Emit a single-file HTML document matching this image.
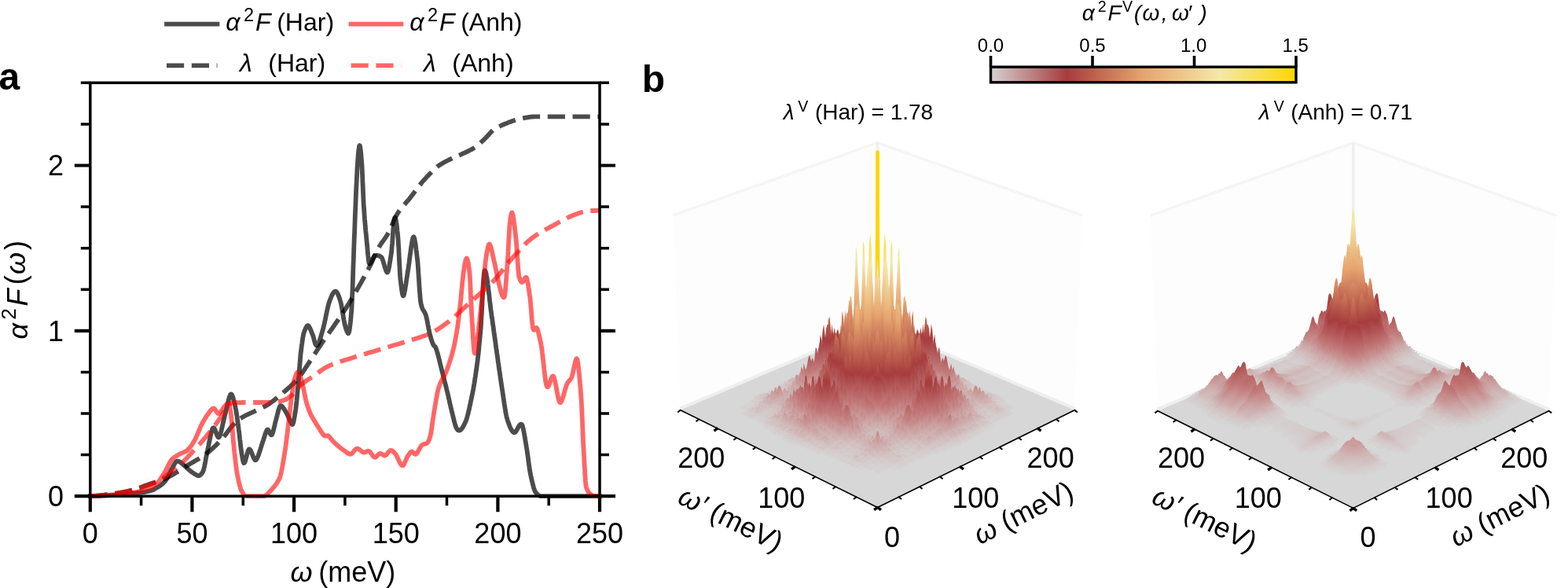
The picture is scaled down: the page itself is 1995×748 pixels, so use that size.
<!DOCTYPE html><html><head><meta charset="utf-8"><style>html,body{margin:0;padding:0;background:#fff;}svg{display:block}</style></head><body>
<svg width="1995" height="748" viewBox="0 0 1995 748">
<rect width="1995" height="748" fill="#fff"/>
<g fill="none" stroke-linejoin="round" stroke-width="5.8">
<path d="M114.8,631.2 L115.1,631.2 L115.4,631.2 L115.8,631.2 L116.1,631.2 L116.4,631.2 L116.7,631.2 L117.1,631.2 L117.4,631.2 L117.7,631.1 L118.0,631.1 L118.4,631.1 L118.7,631.1 L119.0,631.1 L119.3,631.1 L119.7,631.1 L120.0,631.1 L120.3,631.1 L120.6,631.1 L121.0,631.1 L121.3,631.1 L121.6,631.0 L121.9,631.0 L122.3,631.0 L122.6,631.0 L122.9,631.0 L123.2,631.0 L123.6,631.0 L123.9,631.0 L124.2,631.0 L124.5,630.9 L124.9,630.9 L125.2,630.9 L125.5,630.9 L125.8,630.9 L126.1,630.9 L126.5,630.9 L126.8,630.8 L127.1,630.8 L127.4,630.8 L127.8,630.8 L128.1,630.8 L128.4,630.8 L128.7,630.8 L129.1,630.8 L129.4,630.7 L129.7,630.7 L130.0,630.7 L130.4,630.7 L130.7,630.7 L131.0,630.7 L131.3,630.6 L131.7,630.6 L132.0,630.6 L132.3,630.6 L132.6,630.6 L133.0,630.6 L133.3,630.5 L133.6,630.5 L133.9,630.5 L134.3,630.5 L134.6,630.5 L134.9,630.5 L135.2,630.4 L135.6,630.4 L135.9,630.4 L136.2,630.4 L136.5,630.4 L136.8,630.4 L137.2,630.3 L137.5,630.3 L137.8,630.3 L138.1,630.3 L138.5,630.3 L138.8,630.3 L139.1,630.2 L139.4,630.2 L139.8,630.2 L140.1,630.2 L140.4,630.2 L140.7,630.1 L141.1,630.1 L141.4,630.1 L141.7,630.1 L142.0,630.1 L142.4,630.1 L142.7,630.0 L143.0,630.0 L143.3,630.0 L143.7,630.0 L144.0,629.9 L144.3,629.9 L144.6,629.9 L145.0,629.9 L145.3,629.8 L145.6,629.8 L145.9,629.8 L146.3,629.8 L146.6,629.7 L146.9,629.7 L147.2,629.7 L147.6,629.7 L147.9,629.6 L148.2,629.6 L148.5,629.6 L148.8,629.6 L149.2,629.5 L149.5,629.5 L149.8,629.5 L150.1,629.4 L150.5,629.4 L150.8,629.4 L151.1,629.4 L151.4,629.3 L151.8,629.3 L152.1,629.3 L152.4,629.2 L152.7,629.2 L153.1,629.2 L153.4,629.1 L153.7,629.1 L154.0,629.1 L154.4,629.1 L154.7,629.0 L155.0,629.0 L155.3,629.0 L155.7,628.9 L156.0,628.9 L156.3,628.9 L156.6,628.8 L157.0,628.8 L157.3,628.8 L157.6,628.7 L157.9,628.7 L158.3,628.7 L158.6,628.7 L158.9,628.6 L159.2,628.6 L159.5,628.6 L159.9,628.5 L160.2,628.5 L160.5,628.5 L160.8,628.4 L161.2,628.4 L161.5,628.4 L161.8,628.3 L162.1,628.3 L162.5,628.3 L162.8,628.2 L163.1,628.2 L163.4,628.2 L163.8,628.1 L164.1,628.1 L164.4,628.1 L164.7,628.0 L165.1,628.0 L165.4,628.0 L165.7,627.9 L166.0,627.9 L166.4,627.9 L166.7,627.8 L167.0,627.8 L167.3,627.8 L167.7,627.7 L168.0,627.7 L168.3,627.7 L168.6,627.6 L169.0,627.6 L169.3,627.5 L169.6,627.5 L169.9,627.5 L170.2,627.4 L170.6,627.4 L170.9,627.4 L171.2,627.3 L171.5,627.3 L171.9,627.3 L172.2,627.2 L172.5,627.2 L172.8,627.2 L173.2,627.1 L173.5,627.1 L173.8,627.1 L174.1,627.0 L174.5,627.0 L174.8,627.0 L175.1,626.9 L175.4,626.9 L175.8,626.9 L176.1,626.8 L176.4,626.8 L176.7,626.8 L177.1,626.7 L177.4,626.7 L177.7,626.7 L178.0,626.6 L178.4,626.6 L178.7,626.6 L179.0,626.5 L179.3,626.5 L179.7,626.4 L180.0,626.4 L180.3,626.4 L180.6,626.3 L180.9,626.3 L181.3,626.3 L181.6,626.2 L181.9,626.2 L182.2,626.1 L182.6,626.1 L182.9,626.1 L183.2,626.0 L183.5,626.0 L183.9,625.9 L184.2,625.9 L184.5,625.8 L184.8,625.7 L185.2,625.7 L185.5,625.6 L185.8,625.6 L186.1,625.5 L186.5,625.4 L186.8,625.3 L187.1,625.3 L187.4,625.2 L187.8,625.1 L188.1,625.0 L188.4,625.0 L188.7,624.9 L189.1,624.8 L189.4,624.7 L189.7,624.6 L190.0,624.5 L190.4,624.5 L190.7,624.4 L191.0,624.3 L191.3,624.2 L191.7,624.1 L192.0,624.0 L192.3,623.9 L192.6,623.8 L192.9,623.7 L193.3,623.6 L193.6,623.5 L193.9,623.4 L194.2,623.3 L194.6,623.1 L194.9,623.0 L195.2,622.8 L195.5,622.7 L195.9,622.5 L196.2,622.4 L196.5,622.2 L196.8,622.0 L197.2,621.9 L197.5,621.7 L197.8,621.5 L198.1,621.3 L198.5,621.1 L198.8,620.9 L199.1,620.7 L199.4,620.5 L199.8,620.3 L200.1,620.1 L200.4,619.9 L200.7,619.7 L201.1,619.5 L201.4,619.3 L201.7,619.1 L202.0,618.9 L202.4,618.7 L202.7,618.5 L203.0,618.3 L203.3,618.1 L203.6,617.9 L204.0,617.7 L204.3,617.4 L204.6,617.2 L204.9,617.0 L205.3,616.7 L205.6,616.5 L205.9,616.2 L206.2,615.9 L206.6,615.6 L206.9,615.4 L207.2,615.1 L207.5,614.8 L207.9,614.4 L208.2,614.1 L208.5,613.8 L208.8,613.4 L209.2,613.1 L209.5,612.7 L209.8,612.3 L210.1,612.0 L210.5,611.6 L210.8,611.2 L211.1,610.7 L211.4,610.3 L211.8,609.7 L212.1,609.2 L212.4,608.6 L212.7,608.0 L213.1,607.4 L213.4,606.8 L213.7,606.1 L214.0,605.5 L214.3,604.8 L214.7,604.1 L215.0,603.4 L215.3,602.7 L215.6,602.0 L216.0,601.4 L216.3,600.7 L216.6,600.0 L216.9,599.4 L217.3,598.7 L217.6,598.1 L217.9,597.5 L218.2,596.9 L218.6,596.4 L218.9,595.9 L219.2,595.3 L219.5,594.7 L219.9,594.1 L220.2,593.5 L220.5,592.9 L220.8,592.3 L221.2,591.7 L221.5,591.2 L221.8,590.6 L222.1,590.0 L222.5,589.5 L222.8,589.0 L223.1,588.6 L223.4,588.1 L223.8,587.8 L224.1,587.4 L224.4,587.1 L224.7,586.9 L225.0,586.7 L225.4,586.6 L225.7,586.6 L226.0,586.6 L226.3,586.7 L226.7,586.7 L227.0,586.8 L227.3,586.9 L227.6,587.1 L228.0,587.2 L228.3,587.3 L228.6,587.5 L228.9,587.7 L229.3,587.9 L229.6,588.1 L229.9,588.4 L230.2,588.6 L230.6,588.8 L230.9,589.1 L231.2,589.4 L231.5,589.6 L231.9,589.9 L232.2,590.2 L232.5,590.5 L232.8,590.8 L233.2,591.1 L233.5,591.4 L233.8,591.7 L234.1,592.0 L234.5,592.3 L234.8,592.6 L235.1,592.8 L235.4,593.1 L235.7,593.4 L236.1,593.7 L236.4,594.0 L236.7,594.2 L237.0,594.5 L237.4,594.8 L237.7,595.1 L238.0,595.4 L238.3,595.7 L238.7,596.0 L239.0,596.3 L239.3,596.6 L239.6,596.9 L240.0,597.2 L240.3,597.5 L240.6,597.8 L240.9,598.0 L241.3,598.3 L241.6,598.6 L241.9,598.9 L242.2,599.1 L242.6,599.4 L242.9,599.6 L243.2,599.9 L243.5,600.1 L243.9,600.3 L244.2,600.6 L244.5,600.8 L244.8,601.0 L245.2,601.3 L245.5,601.5 L245.8,601.7 L246.1,601.9 L246.5,602.1 L246.8,602.4 L247.1,602.6 L247.4,602.8 L247.7,603.0 L248.1,603.1 L248.4,603.3 L248.7,603.5 L249.0,603.7 L249.4,603.9 L249.7,604.1 L250.0,604.2 L250.3,604.4 L250.7,604.5 L251.0,604.7 L251.3,604.8 L251.6,605.0 L252.0,605.1 L252.3,605.1 L252.6,605.1 L252.9,605.1 L253.3,605.0 L253.6,604.9 L253.9,604.8 L254.2,604.6 L254.6,604.4 L254.9,604.1 L255.2,603.9 L255.5,603.6 L255.9,603.2 L256.2,602.9 L256.5,602.5 L256.8,602.1 L257.2,601.6 L257.5,601.2 L257.8,600.7 L258.1,600.1 L258.4,599.4 L258.8,598.5 L259.1,597.5 L259.4,596.2 L259.7,594.9 L260.1,593.4 L260.4,591.9 L260.7,590.3 L261.0,588.6 L261.4,586.8 L261.7,585.0 L262.0,583.2 L262.3,581.5 L262.7,579.7 L263.0,578.0 L263.3,576.3 L263.6,574.7 L264.0,573.1 L264.3,571.7 L264.6,570.2 L264.9,568.7 L265.3,567.1 L265.6,565.5 L265.9,563.9 L266.2,562.3 L266.6,560.7 L266.9,559.1 L267.2,557.5 L267.5,556.0 L267.9,554.5 L268.2,553.0 L268.5,551.7 L268.8,550.3 L269.1,549.1 L269.5,548.0 L269.8,547.0 L270.1,546.1 L270.4,545.3 L270.8,544.7 L271.1,544.3 L271.4,544.1 L271.7,544.1 L272.1,544.2 L272.4,544.6 L272.7,545.0 L273.0,545.6 L273.4,546.3 L273.7,547.0 L274.0,547.9 L274.3,548.7 L274.7,549.6 L275.0,550.5 L275.3,551.5 L275.6,552.3 L276.0,553.2 L276.3,554.0 L276.6,554.7 L276.9,555.3 L277.3,555.8 L277.6,556.2 L277.9,556.4 L278.2,556.5 L278.6,556.3 L278.9,556.0 L279.2,555.4 L279.5,554.7 L279.8,553.9 L280.2,552.9 L280.5,551.9 L280.8,550.8 L281.1,549.6 L281.5,548.3 L281.8,547.0 L282.1,545.6 L282.4,544.2 L282.8,542.8 L283.1,541.3 L283.4,539.9 L283.7,538.4 L284.1,537.0 L284.4,535.5 L284.7,534.1 L285.0,532.7 L285.4,531.4 L285.7,530.1 L286.0,528.9 L286.3,527.6 L286.7,526.2 L287.0,524.9 L287.3,523.5 L287.6,522.0 L288.0,520.6 L288.3,519.2 L288.6,517.8 L288.9,516.4 L289.3,515.0 L289.6,513.6 L289.9,512.3 L290.2,511.0 L290.6,509.7 L290.9,508.5 L291.2,507.4 L291.5,506.3 L291.8,505.3 L292.2,504.4 L292.5,503.5 L292.8,502.8 L293.1,502.1 L293.5,501.6 L293.8,501.4 L294.1,501.3 L294.4,501.5 L294.8,501.8 L295.1,502.3 L295.4,502.9 L295.7,503.7 L296.1,504.6 L296.4,505.6 L296.7,506.7 L297.0,507.8 L297.4,509.0 L297.7,510.2 L298.0,511.4 L298.3,512.6 L298.7,513.9 L299.0,515.3 L299.3,516.9 L299.6,518.6 L300.0,520.4 L300.3,522.3 L300.6,524.2 L300.9,526.3 L301.3,528.4 L301.6,530.6 L301.9,532.8 L302.2,535.1 L302.5,537.3 L302.9,539.6 L303.2,541.9 L303.5,544.3 L303.8,546.9 L304.2,549.7 L304.5,552.5 L304.8,555.4 L305.1,558.3 L305.5,561.2 L305.8,564.1 L306.1,566.8 L306.4,569.5 L306.8,572.0 L307.1,574.2 L307.4,576.3 L307.7,578.2 L308.1,580.2 L308.4,582.1 L308.7,583.8 L309.0,585.5 L309.4,586.9 L309.7,588.0 L310.0,588.8 L310.3,589.1 L310.7,589.1 L311.0,588.7 L311.3,588.2 L311.6,587.5 L312.0,586.6 L312.3,585.6 L312.6,584.5 L312.9,583.3 L313.2,582.1 L313.6,580.9 L313.9,579.6 L314.2,578.3 L314.5,577.1 L314.9,575.9 L315.2,574.9 L315.5,573.9 L315.8,573.1 L316.2,572.4 L316.5,571.9 L316.8,571.5 L317.1,571.5 L317.5,571.5 L317.8,571.7 L318.1,572.0 L318.4,572.4 L318.8,572.9 L319.1,573.5 L319.4,574.2 L319.7,574.9 L320.1,575.7 L320.4,576.5 L320.7,577.3 L321.0,578.2 L321.4,579.0 L321.7,579.9 L322.0,580.7 L322.3,581.5 L322.7,582.2 L323.0,582.9 L323.3,583.6 L323.6,584.1 L323.9,584.6 L324.3,584.9 L324.6,585.2 L324.9,585.3 L325.2,585.3 L325.6,585.2 L325.9,584.9 L326.2,584.5 L326.5,584.0 L326.9,583.4 L327.2,582.8 L327.5,582.2 L327.8,581.4 L328.2,580.7 L328.5,579.8 L328.8,579.0 L329.1,578.1 L329.5,577.1 L329.8,576.2 L330.1,575.2 L330.4,574.2 L330.8,573.2 L331.1,572.1 L331.4,571.1 L331.7,570.0 L332.1,569.0 L332.4,567.9 L332.7,566.9 L333.0,565.9 L333.4,564.9 L333.7,563.9 L334.0,562.9 L334.3,562.0 L334.6,561.1 L335.0,560.1 L335.3,559.1 L335.6,558.1 L335.9,557.1 L336.3,556.0 L336.6,555.0 L336.9,553.9 L337.2,552.9 L337.6,551.9 L337.9,551.0 L338.2,550.1 L338.5,549.2 L338.9,548.5 L339.2,547.8 L339.5,547.2 L339.8,546.7 L340.2,546.5 L340.5,546.4 L340.8,546.6 L341.1,546.9 L341.5,547.3 L341.8,547.8 L342.1,548.4 L342.4,549.0 L342.8,549.7 L343.1,550.4 L343.4,551.1 L343.7,551.7 L344.1,552.2 L344.4,552.7 L344.7,553.1 L345.0,553.3 L345.4,553.3 L345.7,553.2 L346.0,552.9 L346.3,552.3 L346.6,551.6 L347.0,550.7 L347.3,549.7 L347.6,548.5 L347.9,547.3 L348.3,546.0 L348.6,544.7 L348.9,543.3 L349.2,541.9 L349.6,540.4 L349.9,539.0 L350.2,537.6 L350.5,536.3 L350.9,535.0 L351.2,533.9 L351.5,532.7 L351.8,531.5 L352.2,530.3 L352.5,529.0 L352.8,527.7 L353.1,526.3 L353.5,525.0 L353.8,523.8 L354.1,522.5 L354.4,521.4 L354.8,520.3 L355.1,519.3 L355.4,518.4 L355.7,517.6 L356.1,517.0 L356.4,516.6 L356.7,516.3 L357.0,516.2 L357.3,516.2 L357.7,516.2 L358.0,516.3 L358.3,516.5 L358.6,516.7 L359.0,517.0 L359.3,517.3 L359.6,517.6 L359.9,518.1 L360.3,518.5 L360.6,519.0 L360.9,519.5 L361.2,520.0 L361.6,520.5 L361.9,521.1 L362.2,521.6 L362.5,522.2 L362.9,522.7 L363.2,523.3 L363.5,523.8 L363.8,524.4 L364.2,524.9 L364.5,525.4 L364.8,525.9 L365.1,526.5 L365.5,527.2 L365.8,527.8 L366.1,528.5 L366.4,529.3 L366.8,530.0 L367.1,530.8 L367.4,531.5 L367.7,532.3 L368.0,533.1 L368.4,533.8 L368.7,534.6 L369.0,535.3 L369.3,536.0 L369.7,536.7 L370.0,537.3 L370.3,537.9 L370.6,538.4 L371.0,538.9 L371.3,539.4 L371.6,539.8 L371.9,540.0 L372.3,539.9 L372.6,539.4 L372.9,538.6 L373.2,537.6 L373.6,536.2 L373.9,534.7 L374.2,533.0 L374.5,531.2 L374.9,529.2 L375.2,527.2 L375.5,525.2 L375.8,523.3 L376.2,521.2 L376.5,518.8 L376.8,516.1 L377.1,513.1 L377.5,510.0 L377.8,506.7 L378.1,503.3 L378.4,499.8 L378.7,496.2 L379.1,492.7 L379.4,489.2 L379.7,485.5 L380.0,481.6 L380.4,477.4 L380.7,473.2 L381.0,468.9 L381.3,464.7 L381.7,460.6 L382.0,456.7 L382.3,453.1 L382.6,449.8 L383.0,447.0 L383.3,444.3 L383.6,441.7 L383.9,439.1 L384.3,436.6 L384.6,434.3 L384.9,432.1 L385.2,430.0 L385.6,428.1 L385.9,426.4 L386.2,424.9 L386.5,423.6 L386.9,422.6 L387.2,421.8 L387.5,421.0 L387.8,420.2 L388.2,419.4 L388.5,418.6 L388.8,417.9 L389.1,417.2 L389.5,416.5 L389.8,415.9 L390.1,415.4 L390.4,414.9 L390.7,414.6 L391.1,414.3 L391.4,414.1 L391.7,414.1 L392.0,414.2 L392.4,414.4 L392.7,414.8 L393.0,415.2 L393.3,415.7 L393.7,416.2 L394.0,416.8 L394.3,417.5 L394.6,418.2 L395.0,418.9 L395.3,419.6 L395.6,420.4 L395.9,421.2 L396.3,422.0 L396.6,422.8 L396.9,423.7 L397.2,424.5 L397.6,425.3 L397.9,426.2 L398.2,427.1 L398.5,428.1 L398.9,429.2 L399.2,430.4 L399.5,431.6 L399.8,432.9 L400.2,434.1 L400.5,435.3 L400.8,436.3 L401.1,437.3 L401.4,438.1 L401.8,438.7 L402.1,439.2 L402.4,439.4 L402.7,439.5 L403.1,439.5 L403.4,439.3 L403.7,439.1 L404.0,438.8 L404.4,438.3 L404.7,437.8 L405.0,437.2 L405.3,436.5 L405.7,435.8 L406.0,435.0 L406.3,434.1 L406.6,433.2 L407.0,432.2 L407.3,431.2 L407.6,430.1 L407.9,429.1 L408.3,428.0 L408.6,426.8 L408.9,425.7 L409.2,424.6 L409.6,423.5 L409.9,422.3 L410.2,421.2 L410.5,420.2 L410.9,419.1 L411.2,417.9 L411.5,416.7 L411.8,415.4 L412.1,414.0 L412.5,412.6 L412.8,411.2 L413.1,409.7 L413.4,408.2 L413.8,406.6 L414.1,405.1 L414.4,403.5 L414.7,401.9 L415.1,400.3 L415.4,398.8 L415.7,397.2 L416.0,395.7 L416.4,394.2 L416.7,392.7 L417.0,391.3 L417.3,389.9 L417.7,388.6 L418.0,387.4 L418.3,386.2 L418.6,385.1 L419.0,384.1 L419.3,383.2 L419.6,382.3 L419.9,381.4 L420.3,380.5 L420.6,379.7 L420.9,378.9 L421.2,378.1 L421.6,377.4 L421.9,376.6 L422.2,375.9 L422.5,375.3 L422.8,374.7 L423.2,374.1 L423.5,373.5 L423.8,373.0 L424.1,372.5 L424.5,372.1 L424.8,371.7 L425.1,371.4 L425.4,371.1 L425.8,370.9 L426.1,370.7 L426.4,370.6 L426.7,370.6 L427.1,370.6 L427.4,370.7 L427.7,370.9 L428.0,371.2 L428.4,371.5 L428.7,372.0 L429.0,372.5 L429.3,373.0 L429.7,373.7 L430.0,374.4 L430.3,375.1 L430.6,375.9 L431.0,376.7 L431.3,377.6 L431.6,378.5 L431.9,379.5 L432.3,380.4 L432.6,381.4 L432.9,382.5 L433.2,383.5 L433.5,384.7 L433.9,386.0 L434.2,387.5 L434.5,389.2 L434.8,391.0 L435.2,392.9 L435.5,394.8 L435.8,396.8 L436.1,398.8 L436.5,400.8 L436.8,402.8 L437.1,404.8 L437.4,406.6 L437.8,408.4 L438.1,410.0 L438.4,411.5 L438.7,412.9 L439.1,414.2 L439.4,415.4 L439.7,416.6 L440.0,417.7 L440.4,418.7 L440.7,419.6 L441.0,420.5 L441.3,421.3 L441.7,422.0 L442.0,422.7 L442.3,423.2 L442.6,423.8 L443.0,424.2 L443.3,424.2 L443.6,423.7 L443.9,422.8 L444.3,421.6 L444.6,419.9 L444.9,417.9 L445.2,415.6 L445.5,413.0 L445.9,410.1 L446.2,406.9 L446.5,403.4 L446.8,399.8 L447.2,395.9 L447.5,391.3 L447.8,385.0 L448.1,377.5 L448.5,369.0 L448.8,359.8 L449.1,350.2 L449.4,340.4 L449.8,330.8 L450.1,321.6 L450.4,313.0 L450.7,304.4 L451.1,295.7 L451.4,286.9 L451.7,278.1 L452.0,269.5 L452.4,261.1 L452.7,253.1 L453.0,245.5 L453.3,238.4 L453.7,231.4 L454.0,224.7 L454.3,218.3 L454.6,212.4 L455.0,207.1 L455.3,202.6 L455.6,198.8 L455.9,195.3 L456.2,192.1 L456.6,189.3 L456.9,187.1 L457.2,185.6 L457.5,185.0 L457.9,185.4 L458.2,186.6 L458.5,188.6 L458.8,191.2 L459.2,194.4 L459.5,197.9 L459.8,201.9 L460.1,206.0 L460.5,210.8 L460.8,217.0 L461.1,224.0 L461.4,231.5 L461.8,239.3 L462.1,247.0 L462.4,254.2 L462.7,260.6 L463.1,265.8 L463.4,270.4 L463.7,274.8 L464.0,279.0 L464.4,283.0 L464.7,286.8 L465.0,290.5 L465.3,294.0 L465.7,297.4 L466.0,300.7 L466.3,303.9 L466.6,307.1 L466.9,310.3 L467.3,313.8 L467.6,317.4 L467.9,321.1 L468.2,324.6 L468.6,327.8 L468.9,330.7 L469.2,333.0 L469.5,334.7 L469.9,335.5 L470.2,335.6 L470.5,335.5 L470.8,335.3 L471.2,335.0 L471.5,334.6 L471.8,334.2 L472.1,333.6 L472.5,333.1 L472.8,332.4 L473.1,331.8 L473.4,331.1 L473.8,330.4 L474.1,329.7 L474.4,329.1 L474.7,328.4 L475.1,327.8 L475.4,327.2 L475.7,326.6 L476.0,326.1 L476.4,325.7 L476.7,325.4 L477.0,325.1 L477.3,325.0 L477.6,324.9 L478.0,324.9 L478.3,324.9 L478.6,324.8 L478.9,324.8 L479.3,324.8 L479.6,324.9 L479.9,324.9 L480.2,324.9 L480.6,325.0 L480.9,325.0 L481.2,325.1 L481.5,325.2 L481.9,325.3 L482.2,325.4 L482.5,325.5 L482.8,325.6 L483.2,325.8 L483.5,326.0 L483.8,326.1 L484.1,326.3 L484.5,326.6 L484.8,326.8 L485.1,327.1 L485.4,327.4 L485.8,327.9 L486.1,328.5 L486.4,329.3 L486.7,330.1 L487.1,331.0 L487.4,332.0 L487.7,333.0 L488.0,334.1 L488.3,335.2 L488.7,336.3 L489.0,337.4 L489.3,338.6 L489.6,339.7 L490.0,340.8 L490.3,341.8 L490.6,342.7 L490.9,343.6 L491.3,344.5 L491.6,345.2 L491.9,345.8 L492.2,346.3 L492.6,346.6 L492.9,346.5 L493.2,346.2 L493.5,345.6 L493.9,344.7 L494.2,343.6 L494.5,342.2 L494.8,340.7 L495.2,339.1 L495.5,337.3 L495.8,335.3 L496.1,333.3 L496.5,331.3 L496.8,329.1 L497.1,327.0 L497.4,324.9 L497.8,322.8 L498.1,320.4 L498.4,317.2 L498.7,313.5 L499.1,309.3 L499.4,304.9 L499.7,300.4 L500.0,295.8 L500.3,291.5 L500.7,287.5 L501.0,284.0 L501.3,281.2 L501.6,279.1 L502.0,277.7 L502.3,277.0 L502.6,276.8 L502.9,277.1 L503.3,277.9 L503.6,279.2 L503.9,280.8 L504.2,282.8 L504.6,285.1 L504.9,287.7 L505.2,290.5 L505.5,293.6 L505.9,296.7 L506.2,300.0 L506.5,303.7 L506.8,308.5 L507.2,314.3 L507.5,320.7 L507.8,327.5 L508.1,334.3 L508.5,340.8 L508.8,346.6 L509.1,351.5 L509.4,355.0 L509.8,357.8 L510.1,360.6 L510.4,363.3 L510.7,365.8 L511.0,368.2 L511.4,370.4 L511.7,372.3 L512.0,373.9 L512.3,375.1 L512.7,376.0 L513.0,376.4 L513.3,376.3 L513.6,375.8 L514.0,374.7 L514.3,373.4 L514.6,371.9 L514.9,370.2 L515.3,368.5 L515.6,366.6 L515.9,364.6 L516.2,362.6 L516.6,360.5 L516.9,358.4 L517.2,356.2 L517.5,354.0 L517.9,351.8 L518.2,349.7 L518.5,347.5 L518.8,345.4 L519.2,343.4 L519.5,341.3 L519.8,339.1 L520.1,336.8 L520.5,334.4 L520.8,332.0 L521.1,329.6 L521.4,327.1 L521.7,324.7 L522.1,322.3 L522.4,319.9 L522.7,317.5 L523.0,315.3 L523.4,313.1 L523.7,311.1 L524.0,309.1 L524.3,307.4 L524.7,305.7 L525.0,304.3 L525.3,303.0 L525.6,302.0 L526.0,301.4 L526.3,301.3 L526.6,301.6 L526.9,302.3 L527.3,303.3 L527.6,304.7 L527.9,306.3 L528.2,308.2 L528.6,310.3 L528.9,312.6 L529.2,315.0 L529.5,317.6 L529.9,320.2 L530.2,322.8 L530.5,325.5 L530.8,328.2 L531.2,331.0 L531.5,334.4 L531.8,338.4 L532.1,342.9 L532.4,347.7 L532.8,352.7 L533.1,357.7 L533.4,362.8 L533.7,367.6 L534.1,372.2 L534.4,376.3 L534.7,379.9 L535.0,382.8 L535.4,385.0 L535.7,386.6 L536.0,388.0 L536.3,389.2 L536.7,390.3 L537.0,391.3 L537.3,392.2 L537.6,392.9 L538.0,393.6 L538.3,394.2 L538.6,394.7 L538.9,395.3 L539.3,395.8 L539.6,396.3 L539.9,396.8 L540.2,397.3 L540.6,397.9 L540.9,398.6 L541.2,399.3 L541.5,400.2 L541.9,401.2 L542.2,402.3 L542.5,403.5 L542.8,405.0 L543.2,406.5 L543.5,408.0 L543.8,409.7 L544.1,411.4 L544.4,413.1 L544.8,414.8 L545.1,416.5 L545.4,418.2 L545.7,419.8 L546.1,421.4 L546.4,422.9 L546.7,424.3 L547.0,425.6 L547.4,426.8 L547.7,428.0 L548.0,429.1 L548.3,430.3 L548.7,431.4 L549.0,432.4 L549.3,433.4 L549.6,434.4 L550.0,435.3 L550.3,436.2 L550.6,437.0 L550.9,437.8 L551.3,438.5 L551.6,439.0 L551.9,439.5 L552.2,439.8 L552.6,440.1 L552.9,440.4 L553.2,440.6 L553.5,441.0 L553.9,441.4 L554.2,441.9 L554.5,442.6 L554.8,443.5 L555.1,444.4 L555.5,445.3 L555.8,446.3 L556.1,447.4 L556.4,448.5 L556.8,449.6 L557.1,450.8 L557.4,452.0 L557.7,453.3 L558.1,454.5 L558.4,455.8 L558.7,457.1 L559.0,458.4 L559.4,459.8 L559.7,461.1 L560.0,462.5 L560.3,463.8 L560.7,465.1 L561.0,466.4 L561.3,467.8 L561.6,469.0 L562.0,470.3 L562.3,471.6 L562.6,472.8 L562.9,474.1 L563.3,475.3 L563.6,476.6 L563.9,477.8 L564.2,479.1 L564.6,480.4 L564.9,481.6 L565.2,482.9 L565.5,484.2 L565.8,485.5 L566.2,486.8 L566.5,488.1 L566.8,489.4 L567.1,490.7 L567.5,492.0 L567.8,493.3 L568.1,494.6 L568.4,496.0 L568.8,497.3 L569.1,498.7 L569.4,500.0 L569.7,501.4 L570.1,502.8 L570.4,504.3 L570.7,505.7 L571.0,507.1 L571.4,508.5 L571.7,510.0 L572.0,511.4 L572.3,512.8 L572.7,514.3 L573.0,515.7 L573.3,517.1 L573.6,518.4 L574.0,519.8 L574.3,521.1 L574.6,522.5 L574.9,523.8 L575.3,525.0 L575.6,526.3 L575.9,527.7 L576.2,529.0 L576.5,530.3 L576.9,531.7 L577.2,533.0 L577.5,534.3 L577.8,535.6 L578.2,536.9 L578.5,538.1 L578.8,539.2 L579.1,540.3 L579.5,541.4 L579.8,542.3 L580.1,543.2 L580.4,544.0 L580.8,544.7 L581.1,545.3 L581.4,545.8 L581.7,546.3 L582.1,546.6 L582.4,546.9 L582.7,547.2 L583.0,547.4 L583.4,547.5 L583.7,547.6 L584.0,547.7 L584.3,547.7 L584.7,547.6 L585.0,547.5 L585.3,547.4 L585.6,547.2 L586.0,547.0 L586.3,546.7 L586.6,546.4 L586.9,546.1 L587.2,545.7 L587.6,545.3 L587.9,544.8 L588.2,544.4 L588.5,543.9 L588.9,543.4 L589.2,542.8 L589.5,542.2 L589.8,541.6 L590.2,541.0 L590.5,540.4 L590.8,539.7 L591.1,539.1 L591.5,538.4 L591.8,537.7 L592.1,537.0 L592.4,536.3 L592.8,535.5 L593.1,534.6 L593.4,533.6 L593.7,532.6 L594.1,531.6 L594.4,530.5 L594.7,529.3 L595.0,528.1 L595.4,526.9 L595.7,525.6 L596.0,524.3 L596.3,522.9 L596.7,521.5 L597.0,520.1 L597.3,518.6 L597.6,517.1 L598.0,515.6 L598.3,514.1 L598.6,512.6 L598.9,511.1 L599.2,509.5 L599.6,508.0 L599.9,506.4 L600.2,504.9 L600.5,503.4 L600.9,501.8 L601.2,500.2 L601.5,498.6 L601.8,496.9 L602.2,495.1 L602.5,493.3 L602.8,491.4 L603.1,489.5 L603.5,487.5 L603.8,485.5 L604.1,483.4 L604.4,481.3 L604.8,479.2 L605.1,477.0 L605.4,474.8 L605.7,472.6 L606.1,470.3 L606.4,468.0 L606.7,465.7 L607.0,463.3 L607.4,460.8 L607.7,458.2 L608.0,455.4 L608.3,452.5 L608.7,449.5 L609.0,446.4 L609.3,443.1 L609.6,439.8 L609.9,436.4 L610.3,433.0 L610.6,429.5 L610.9,425.9 L611.2,422.3 L611.6,418.5 L611.9,414.0 L612.2,408.9 L612.5,403.3 L612.9,397.4 L613.2,391.3 L613.5,385.1 L613.8,378.9 L614.2,372.9 L614.5,367.1 L614.8,361.7 L615.1,356.8 L615.5,352.5 L615.8,349.0 L616.1,346.3 L616.4,344.6 L616.8,344.1 L617.1,344.2 L617.4,344.7 L617.7,345.4 L618.1,346.4 L618.4,347.7 L618.7,349.1 L619.0,350.8 L619.4,352.6 L619.7,354.7 L620.0,356.8 L620.3,359.2 L620.6,361.6 L621.0,364.1 L621.3,366.8 L621.6,369.5 L621.9,372.2 L622.3,375.0 L622.6,377.8 L622.9,380.6 L623.2,383.4 L623.6,386.2 L623.9,388.9 L624.2,391.6 L624.5,394.2 L624.9,396.7 L625.2,399.1 L625.5,401.3 L625.8,403.6 L626.2,405.9 L626.5,408.2 L626.8,410.5 L627.1,412.8 L627.5,415.1 L627.8,417.4 L628.1,419.7 L628.4,422.0 L628.8,424.4 L629.1,426.7 L629.4,429.0 L629.7,431.3 L630.1,433.7 L630.4,436.0 L630.7,438.3 L631.0,440.6 L631.3,442.9 L631.7,445.2 L632.0,447.5 L632.3,449.8 L632.6,452.1 L633.0,454.4 L633.3,456.6 L633.6,458.9 L633.9,461.2 L634.3,463.5 L634.6,465.8 L634.9,468.1 L635.2,470.4 L635.6,472.6 L635.9,474.9 L636.2,477.2 L636.5,479.4 L636.9,481.7 L637.2,483.9 L637.5,486.1 L637.8,488.3 L638.2,490.5 L638.5,492.6 L638.8,494.7 L639.1,496.8 L639.5,498.9 L639.8,501.1 L640.1,503.2 L640.4,505.4 L640.8,507.6 L641.1,509.8 L641.4,512.0 L641.7,514.2 L642.1,516.3 L642.4,518.4 L642.7,520.4 L643.0,522.3 L643.3,524.2 L643.7,525.9 L644.0,527.6 L644.3,529.1 L644.6,530.6 L645.0,531.8 L645.3,533.0 L645.6,534.0 L645.9,535.1 L646.3,536.1 L646.6,537.0 L646.9,538.0 L647.2,538.9 L647.6,539.8 L647.9,540.6 L648.2,541.5 L648.5,542.3 L648.9,543.0 L649.2,543.8 L649.5,544.5 L649.8,545.1 L650.2,545.8 L650.5,546.4 L650.8,546.9 L651.1,547.5 L651.5,547.9 L651.8,548.4 L652.1,548.8 L652.4,549.1 L652.8,549.5 L653.1,549.7 L653.4,550.0 L653.7,550.2 L654.0,550.3 L654.4,550.3 L654.7,550.3 L655.0,550.1 L655.3,549.9 L655.7,549.6 L656.0,549.3 L656.3,548.9 L656.6,548.4 L657.0,547.9 L657.3,547.4 L657.6,546.8 L657.9,546.2 L658.3,545.6 L658.6,545.0 L658.9,544.4 L659.2,543.8 L659.6,543.3 L659.9,542.7 L660.2,542.1 L660.5,541.6 L660.9,541.2 L661.2,540.8 L661.5,540.4 L661.8,540.1 L662.2,539.9 L662.5,539.7 L662.8,539.6 L663.1,539.6 L663.5,539.8 L663.8,540.0 L664.1,540.4 L664.4,541.0 L664.7,541.9 L665.1,542.9 L665.4,544.1 L665.7,545.4 L666.0,546.9 L666.4,548.5 L666.7,550.2 L667.0,552.0 L667.3,553.9 L667.7,555.8 L668.0,557.7 L668.3,559.7 L668.6,561.7 L669.0,563.6 L669.3,565.5 L669.6,567.4 L669.9,569.3 L670.3,571.3 L670.6,573.5 L670.9,575.8 L671.2,578.1 L671.6,580.5 L671.9,582.9 L672.2,585.4 L672.5,587.8 L672.9,590.2 L673.2,592.5 L673.5,594.8 L673.8,596.9 L674.2,598.9 L674.5,600.7 L674.8,602.4 L675.1,603.9 L675.4,605.4 L675.8,606.9 L676.1,608.4 L676.4,609.9 L676.7,611.3 L677.1,612.7 L677.4,614.1 L677.7,615.4 L678.0,616.7 L678.4,618.0 L678.7,619.1 L679.0,620.3 L679.3,621.3 L679.7,622.3 L680.0,623.2 L680.3,624.1 L680.6,624.8 L681.0,625.5 L681.3,626.0 L681.6,626.5 L681.9,626.9 L682.3,627.2 L682.6,627.6 L682.9,627.9 L683.2,628.2 L683.6,628.5 L683.9,628.8 L684.2,629.1 L684.5,629.4 L684.9,629.7 L685.2,630.0 L685.5,630.2 L685.8,630.4 L686.1,630.6 L686.5,630.8 L686.8,630.9 L687.1,631.0 L687.4,631.1 L687.8,631.2 L688.1,631.2 L688.4,631.2 L688.7,631.2 L689.1,631.2 L689.4,631.2 L689.7,631.2 L690.0,631.2 L690.4,631.2 L690.7,631.2 L691.0,631.2 L691.3,631.2 L691.7,631.2 L692.0,631.2 L692.3,631.2 L692.6,631.2 L693.0,631.2 L693.3,631.2 L693.6,631.2 L693.9,631.2 L694.3,631.2 L694.6,631.2 L694.9,631.2 L695.2,631.2 L695.6,631.2 L695.9,631.2 L696.2,631.2 L696.5,631.2 L696.9,631.2 L697.2,631.2 L697.5,631.2 L697.8,631.2 L698.1,631.2 L698.5,631.2 L698.8,631.2 L699.1,631.2 L699.4,631.2 L699.8,631.2 L700.1,631.2 L700.4,631.2 L700.7,631.2 L701.1,631.2 L701.4,631.2 L701.7,631.2 L702.0,631.2 L702.4,631.2 L702.7,631.2 L703.0,631.2 L703.3,631.2 L703.7,631.2 L704.0,631.2 L704.3,631.2 L704.6,631.2 L705.0,631.2 L705.3,631.2 L705.6,631.2 L705.9,631.2 L706.3,631.2 L706.6,631.2 L706.9,631.2 L707.2,631.2 L707.6,631.2 L707.9,631.2 L708.2,631.2 L708.5,631.2 L708.8,631.2 L709.2,631.2 L709.5,631.2 L709.8,631.2 L710.1,631.2 L710.5,631.2 L710.8,631.2 L711.1,631.2 L711.4,631.2 L711.8,631.2 L712.1,631.2 L712.4,631.2 L712.7,631.2 L713.1,631.2 L713.4,631.2 L713.7,631.2 L714.0,631.2 L714.4,631.2 L714.7,631.2 L715.0,631.2 L715.3,631.2 L715.7,631.2 L716.0,631.2 L716.3,631.2 L716.6,631.2 L717.0,631.2 L717.3,631.2 L717.6,631.2 L717.9,631.2 L718.3,631.2 L718.6,631.2 L718.9,631.2 L719.2,631.2 L719.5,631.2 L719.9,631.2 L720.2,631.2 L720.5,631.2 L720.8,631.2 L721.2,631.2 L721.5,631.2 L721.8,631.2 L722.1,631.2 L722.5,631.2 L722.8,631.2 L723.1,631.2 L723.4,631.2 L723.8,631.2 L724.1,631.2 L724.4,631.2 L724.7,631.2 L725.1,631.2 L725.4,631.2 L725.7,631.2 L726.0,631.2 L726.4,631.2 L726.7,631.2 L727.0,631.2 L727.3,631.2 L727.7,631.2 L728.0,631.2 L728.3,631.2 L728.6,631.2 L729.0,631.2 L729.3,631.2 L729.6,631.2 L729.9,631.2 L730.2,631.2 L730.6,631.2 L730.9,631.2 L731.2,631.2 L731.5,631.2 L731.9,631.2 L732.2,631.2 L732.5,631.2 L732.8,631.2 L733.2,631.2 L733.5,631.2 L733.8,631.2 L734.1,631.2 L734.5,631.2 L734.8,631.2 L735.1,631.2 L735.4,631.2 L735.8,631.2 L736.1,631.2 L736.4,631.2 L736.7,631.2 L737.1,631.2 L737.4,631.2 L737.7,631.2 L738.0,631.2 L738.4,631.2 L738.7,631.2 L739.0,631.2 L739.3,631.2 L739.7,631.2 L740.0,631.2 L740.3,631.2 L740.6,631.2 L741.0,631.2 L741.3,631.2 L741.6,631.2 L741.9,631.2 L742.2,631.2 L742.6,631.2 L742.9,631.2 L743.2,631.2 L743.5,631.2 L743.9,631.2 L744.2,631.2 L744.5,631.2 L744.8,631.2 L745.2,631.2 L745.5,631.2 L745.8,631.2 L746.1,631.2 L746.5,631.2 L746.8,631.2 L747.1,631.2 L747.4,631.2 L747.8,631.2 L748.1,631.2 L748.4,631.2 L748.7,631.2 L749.1,631.2 L749.4,631.2 L749.7,631.2 L750.0,631.2 L750.4,631.2 L750.7,631.2 L751.0,631.2 L751.3,631.2 L751.7,631.2 L752.0,631.2 L752.3,631.2 L752.6,631.2 L752.9,631.2 L753.3,631.2 L753.6,631.2 L753.9,631.2 L754.2,631.2 L754.6,631.2 L754.9,631.2 L755.2,631.2 L755.5,631.2 L755.9,631.2 L756.2,631.2 L756.5,631.2 L756.8,631.2 L757.2,631.2 L757.5,631.2 L757.8,631.2 L758.1,631.2 L758.5,631.2 L758.8,631.2 L759.1,631.2 L759.4,631.2 L759.8,631.2 L760.1,631.2 L760.4,631.2 L760.7,631.2 L761.1,631.2 L761.4,631.2 L761.7,631.2 L762.0,631.2 L762.4,631.2 L762.7,631.2 L763.0,631.2" stroke="#000" stroke-opacity="0.7" stroke-linecap="square"/>
<path d="M114.8,631.2 L116.4,631.1 L118.0,631.0 L119.7,630.9 L121.3,630.8 L122.9,630.6 L124.5,630.5 L126.2,630.3 L127.8,630.2 L129.4,630.0 L131.0,629.8 L132.6,629.7 L134.3,629.5 L135.9,629.3 L137.5,629.1 L139.1,628.9 L140.8,628.7 L142.4,628.5 L144.0,628.2 L145.6,628.0 L147.2,627.7 L148.9,627.5 L150.5,627.2 L152.1,626.9 L153.7,626.6 L155.3,626.3 L157.0,626.0 L158.6,625.7 L160.2,625.3 L161.8,625.0 L163.5,624.6 L165.1,624.2 L166.7,623.8 L168.3,623.4 L169.9,623.0 L171.6,622.5 L173.2,621.9 L174.8,621.4 L176.4,620.8 L178.1,620.3 L179.7,619.7 L181.3,619.1 L182.9,618.4 L184.5,617.8 L186.2,617.2 L187.8,616.7 L189.4,616.1 L191.0,615.5 L192.7,615.0 L194.3,614.4 L195.9,613.9 L197.5,613.4 L199.1,612.8 L200.8,612.3 L202.4,611.7 L204.0,611.2 L205.6,610.6 L207.3,609.9 L208.9,609.3 L210.5,608.6 L212.1,607.9 L213.7,607.1 L215.4,606.2 L217.0,605.4 L218.6,604.5 L220.2,603.5 L221.8,602.6 L223.5,601.6 L225.1,600.6 L226.7,599.5 L228.3,598.5 L230.0,597.5 L231.6,596.4 L233.2,595.4 L234.8,594.3 L236.4,593.3 L238.1,592.3 L239.7,591.3 L241.3,590.4 L242.9,589.4 L244.6,588.5 L246.2,587.5 L247.8,586.6 L249.4,585.6 L251.0,584.7 L252.7,583.7 L254.3,582.7 L255.9,581.7 L257.5,580.6 L259.2,579.5 L260.8,578.4 L262.4,577.2 L264.0,576.0 L265.6,574.7 L267.3,573.3 L268.9,571.9 L270.5,570.5 L272.1,568.9 L273.8,567.4 L275.4,565.7 L277.0,564.1 L278.6,562.4 L280.2,560.7 L281.9,558.9 L283.5,557.1 L285.1,555.2 L286.7,553.2 L288.3,551.0 L290.0,548.8 L291.6,546.5 L293.2,544.4 L294.8,542.3 L296.5,540.6 L298.1,539.0 L299.7,537.4 L301.3,536.0 L302.9,534.6 L304.6,533.3 L306.2,532.2 L307.8,531.1 L309.4,530.2 L311.1,529.3 L312.7,528.4 L314.3,527.7 L315.9,526.9 L317.5,526.2 L319.2,525.4 L320.8,524.7 L322.4,524.0 L324.0,523.2 L325.7,522.4 L327.3,521.6 L328.9,520.8 L330.5,520.1 L332.1,519.3 L333.8,518.5 L335.4,517.7 L337.0,516.9 L338.6,516.0 L340.3,515.1 L341.9,514.1 L343.5,513.0 L345.1,511.8 L346.7,510.6 L348.4,509.4 L350.0,508.1 L351.6,506.7 L353.2,505.4 L354.9,504.0 L356.5,502.7 L358.1,501.3 L359.7,500.0 L361.3,498.6 L363.0,497.3 L364.6,495.9 L366.2,494.4 L367.8,493.0 L369.4,491.5 L371.1,489.9 L372.7,488.4 L374.3,486.7 L375.9,485.0 L377.6,483.3 L379.2,481.4 L380.8,479.4 L382.4,477.3 L384.0,475.1 L385.7,472.7 L387.3,470.3 L388.9,467.8 L390.5,465.4 L392.2,462.9 L393.8,460.4 L395.4,458.0 L397.0,455.5 L398.6,453.0 L400.3,450.5 L401.9,448.0 L403.5,445.5 L405.1,443.0 L406.8,440.5 L408.4,438.1 L410.0,435.7 L411.6,433.3 L413.2,431.0 L414.9,428.7 L416.5,426.4 L418.1,424.1 L419.7,421.9 L421.4,419.6 L423.0,417.4 L424.6,415.0 L426.2,412.7 L427.8,410.3 L429.5,408.0 L431.1,405.6 L432.7,403.2 L434.3,400.8 L435.9,398.4 L437.6,395.9 L439.2,393.5 L440.8,390.9 L442.4,388.4 L444.1,385.8 L445.7,383.1 L447.3,380.4 L448.9,377.7 L450.5,374.9 L452.2,372.1 L453.8,369.3 L455.4,366.4 L457.0,363.6 L458.7,360.7 L460.3,357.8 L461.9,354.9 L463.5,352.0 L465.1,349.0 L466.8,346.0 L468.4,343.0 L470.0,339.8 L471.6,336.6 L473.3,333.1 L474.9,329.4 L476.5,325.8 L478.1,322.2 L479.7,318.9 L481.4,315.8 L483.0,313.0 L484.6,310.5 L486.2,308.2 L487.9,305.9 L489.5,303.6 L491.1,301.3 L492.7,298.7 L494.3,295.9 L496.0,292.7 L497.6,289.0 L499.2,285.2 L500.8,281.3 L502.4,277.7 L504.1,274.4 L505.7,271.7 L507.3,269.2 L508.9,267.0 L510.6,264.9 L512.2,262.9 L513.8,261.0 L515.4,259.2 L517.0,257.3 L518.7,255.5 L520.3,253.6 L521.9,251.6 L523.5,249.5 L525.2,247.3 L526.8,245.1 L528.4,242.9 L530.0,240.7 L531.6,238.6 L533.3,236.5 L534.9,234.4 L536.5,232.4 L538.1,230.5 L539.8,228.7 L541.4,226.9 L543.0,225.1 L544.6,223.4 L546.2,221.7 L547.9,220.1 L549.5,218.5 L551.1,216.9 L552.7,215.3 L554.4,213.8 L556.0,212.4 L557.6,211.1 L559.2,210.0 L560.8,209.0 L562.5,208.0 L564.1,207.0 L565.7,206.2 L567.3,205.3 L568.9,204.5 L570.6,203.7 L572.2,202.9 L573.8,202.1 L575.4,201.3 L577.1,200.6 L578.7,199.9 L580.3,199.2 L581.9,198.5 L583.5,197.8 L585.2,197.1 L586.8,196.4 L588.4,195.7 L590.0,194.9 L591.7,194.2 L593.3,193.4 L594.9,192.6 L596.5,191.8 L598.1,191.0 L599.8,190.2 L601.4,189.2 L603.0,188.2 L604.6,187.1 L606.3,185.9 L607.9,184.6 L609.5,183.3 L611.1,181.8 L612.7,180.4 L614.4,178.9 L616.0,177.4 L617.6,175.8 L619.2,174.1 L620.9,172.3 L622.5,170.4 L624.1,168.7 L625.7,167.1 L627.3,165.6 L629.0,164.5 L630.6,163.5 L632.2,162.5 L633.8,161.6 L635.4,160.8 L637.1,160.0 L638.7,159.2 L640.3,158.5 L641.9,157.8 L643.6,157.2 L645.2,156.6 L646.8,155.9 L648.4,155.3 L650.0,154.7 L651.7,154.1 L653.3,153.6 L654.9,153.0 L656.5,152.5 L658.2,152.0 L659.8,151.6 L661.4,151.2 L663.0,150.9 L664.6,150.5 L666.3,150.2 L667.9,149.9 L669.5,149.6 L671.1,149.3 L672.8,149.0 L674.4,148.8 L676.0,148.6 L677.6,148.5 L679.2,148.4 L680.9,148.4 L682.5,148.4 L684.1,148.4 L685.7,148.4 L687.4,148.4 L689.0,148.4 L690.6,148.4 L692.2,148.4 L693.8,148.4 L695.5,148.4 L697.1,148.4 L698.7,148.4 L700.3,148.4 L702.0,148.4 L703.6,148.4 L705.2,148.4 L706.8,148.4 L708.4,148.4 L710.1,148.4 L711.7,148.4 L713.3,148.4 L714.9,148.4 L716.5,148.4 L718.2,148.4 L719.8,148.4 L721.4,148.4 L723.0,148.4 L724.7,148.4 L726.3,148.4 L727.9,148.4 L729.5,148.4 L731.1,148.4 L732.8,148.4 L734.4,148.4 L736.0,148.4 L737.6,148.4 L739.3,148.4 L740.9,148.4 L742.5,148.4 L744.1,148.4 L745.7,148.4 L747.4,148.4 L749.0,148.4 L750.6,148.4 L752.2,148.4 L753.9,148.4 L755.5,148.4 L757.1,148.4 L758.7,148.4 L760.3,148.4 L762.0,148.4" stroke="#000" stroke-opacity="0.7" stroke-dasharray="22.2 9.6" stroke-linecap="butt"/>
<path d="M114.8,631.2 L115.1,631.2 L115.4,631.2 L115.8,631.2 L116.1,631.2 L116.4,631.1 L116.7,631.1 L117.1,631.1 L117.4,631.1 L117.7,631.1 L118.0,631.1 L118.4,631.1 L118.7,631.1 L119.0,631.0 L119.3,631.0 L119.7,631.0 L120.0,631.0 L120.3,631.0 L120.6,631.0 L121.0,630.9 L121.3,630.9 L121.6,630.9 L121.9,630.9 L122.3,630.9 L122.6,630.9 L122.9,630.8 L123.2,630.8 L123.6,630.8 L123.9,630.8 L124.2,630.8 L124.5,630.8 L124.9,630.7 L125.2,630.7 L125.5,630.7 L125.8,630.7 L126.1,630.7 L126.5,630.6 L126.8,630.6 L127.1,630.6 L127.4,630.6 L127.8,630.6 L128.1,630.5 L128.4,630.5 L128.7,630.5 L129.1,630.5 L129.4,630.4 L129.7,630.4 L130.0,630.4 L130.4,630.4 L130.7,630.4 L131.0,630.3 L131.3,630.3 L131.7,630.3 L132.0,630.3 L132.3,630.2 L132.6,630.2 L133.0,630.2 L133.3,630.2 L133.6,630.1 L133.9,630.1 L134.3,630.1 L134.6,630.1 L134.9,630.0 L135.2,630.0 L135.6,630.0 L135.9,630.0 L136.2,629.9 L136.5,629.9 L136.8,629.9 L137.2,629.9 L137.5,629.8 L137.8,629.8 L138.1,629.8 L138.5,629.8 L138.8,629.7 L139.1,629.7 L139.4,629.7 L139.8,629.7 L140.1,629.6 L140.4,629.6 L140.7,629.6 L141.1,629.5 L141.4,629.5 L141.7,629.5 L142.0,629.5 L142.4,629.4 L142.7,629.4 L143.0,629.4 L143.3,629.4 L143.7,629.3 L144.0,629.3 L144.3,629.3 L144.6,629.2 L145.0,629.2 L145.3,629.2 L145.6,629.2 L145.9,629.1 L146.3,629.1 L146.6,629.1 L146.9,629.0 L147.2,629.0 L147.6,629.0 L147.9,629.0 L148.2,628.9 L148.5,628.9 L148.8,628.9 L149.2,628.8 L149.5,628.8 L149.8,628.8 L150.1,628.8 L150.5,628.7 L150.8,628.7 L151.1,628.7 L151.4,628.6 L151.8,628.6 L152.1,628.6 L152.4,628.6 L152.7,628.5 L153.1,628.5 L153.4,628.5 L153.7,628.4 L154.0,628.4 L154.4,628.4 L154.7,628.4 L155.0,628.3 L155.3,628.3 L155.7,628.3 L156.0,628.3 L156.3,628.2 L156.6,628.2 L157.0,628.2 L157.3,628.1 L157.6,628.1 L157.9,628.1 L158.3,628.1 L158.6,628.0 L158.9,628.0 L159.2,628.0 L159.5,627.9 L159.9,627.9 L160.2,627.9 L160.5,627.8 L160.8,627.8 L161.2,627.8 L161.5,627.7 L161.8,627.7 L162.1,627.7 L162.5,627.6 L162.8,627.6 L163.1,627.6 L163.4,627.5 L163.8,627.5 L164.1,627.4 L164.4,627.4 L164.7,627.4 L165.1,627.3 L165.4,627.3 L165.7,627.2 L166.0,627.2 L166.4,627.1 L166.7,627.1 L167.0,627.1 L167.3,627.0 L167.7,627.0 L168.0,626.9 L168.3,626.9 L168.6,626.8 L169.0,626.8 L169.3,626.7 L169.6,626.7 L169.9,626.6 L170.2,626.6 L170.6,626.5 L170.9,626.5 L171.2,626.4 L171.5,626.4 L171.9,626.3 L172.2,626.3 L172.5,626.2 L172.8,626.2 L173.2,626.1 L173.5,626.1 L173.8,626.0 L174.1,626.0 L174.5,625.9 L174.8,625.9 L175.1,625.8 L175.4,625.8 L175.8,625.7 L176.1,625.6 L176.4,625.5 L176.7,625.5 L177.1,625.4 L177.4,625.3 L177.7,625.2 L178.0,625.1 L178.4,625.0 L178.7,624.9 L179.0,624.8 L179.3,624.7 L179.7,624.6 L180.0,624.5 L180.3,624.4 L180.6,624.3 L180.9,624.2 L181.3,624.1 L181.6,624.0 L181.9,623.9 L182.2,623.8 L182.6,623.7 L182.9,623.6 L183.2,623.5 L183.5,623.4 L183.9,623.3 L184.2,623.2 L184.5,623.1 L184.8,623.0 L185.2,622.8 L185.5,622.7 L185.8,622.6 L186.1,622.5 L186.5,622.3 L186.8,622.2 L187.1,622.1 L187.4,622.0 L187.8,621.8 L188.1,621.7 L188.4,621.5 L188.7,621.4 L189.1,621.2 L189.4,621.1 L189.7,620.9 L190.0,620.8 L190.4,620.6 L190.7,620.5 L191.0,620.3 L191.3,620.2 L191.7,620.0 L192.0,619.8 L192.3,619.6 L192.6,619.5 L192.9,619.3 L193.3,619.1 L193.6,618.9 L193.9,618.7 L194.2,618.6 L194.6,618.4 L194.9,618.2 L195.2,618.0 L195.5,617.8 L195.9,617.6 L196.2,617.4 L196.5,617.2 L196.8,616.9 L197.2,616.7 L197.5,616.5 L197.8,616.3 L198.1,616.1 L198.5,615.9 L198.8,615.6 L199.1,615.4 L199.4,615.1 L199.8,614.9 L200.1,614.6 L200.4,614.3 L200.7,613.9 L201.1,613.6 L201.4,613.2 L201.7,612.8 L202.0,612.4 L202.4,612.0 L202.7,611.5 L203.0,611.1 L203.3,610.6 L203.6,610.1 L204.0,609.6 L204.3,609.1 L204.6,608.6 L204.9,608.1 L205.3,607.6 L205.6,607.1 L205.9,606.6 L206.2,606.0 L206.6,605.5 L206.9,605.0 L207.2,604.5 L207.5,603.9 L207.9,603.4 L208.2,602.9 L208.5,602.4 L208.8,601.9 L209.2,601.4 L209.5,600.8 L209.8,600.3 L210.1,599.7 L210.5,599.2 L210.8,598.6 L211.1,598.0 L211.4,597.3 L211.8,596.7 L212.1,596.1 L212.4,595.4 L212.7,594.8 L213.1,594.2 L213.4,593.5 L213.7,592.9 L214.0,592.2 L214.3,591.6 L214.7,591.0 L215.0,590.3 L215.3,589.7 L215.6,589.1 L216.0,588.6 L216.3,588.0 L216.6,587.5 L216.9,586.9 L217.3,586.4 L217.6,585.9 L217.9,585.5 L218.2,585.1 L218.6,584.7 L218.9,584.3 L219.2,583.9 L219.5,583.6 L219.9,583.3 L220.2,583.0 L220.5,582.8 L220.8,582.5 L221.2,582.2 L221.5,582.0 L221.8,581.8 L222.1,581.5 L222.5,581.3 L222.8,581.1 L223.1,580.9 L223.4,580.7 L223.8,580.5 L224.1,580.3 L224.4,580.1 L224.7,579.9 L225.0,579.7 L225.4,579.5 L225.7,579.3 L226.0,579.1 L226.3,579.0 L226.7,578.8 L227.0,578.6 L227.3,578.4 L227.6,578.2 L228.0,578.1 L228.3,577.9 L228.6,577.7 L228.9,577.5 L229.3,577.4 L229.6,577.2 L229.9,577.0 L230.2,576.9 L230.6,576.7 L230.9,576.6 L231.2,576.4 L231.5,576.3 L231.9,576.1 L232.2,576.0 L232.5,575.9 L232.8,575.7 L233.2,575.6 L233.5,575.4 L233.8,575.3 L234.1,575.1 L234.5,575.0 L234.8,574.8 L235.1,574.7 L235.4,574.5 L235.7,574.3 L236.1,574.1 L236.4,574.0 L236.7,573.8 L237.0,573.6 L237.4,573.4 L237.7,573.1 L238.0,572.9 L238.3,572.7 L238.7,572.4 L239.0,572.1 L239.3,571.8 L239.6,571.5 L240.0,571.2 L240.3,570.8 L240.6,570.5 L240.9,570.1 L241.3,569.7 L241.6,569.3 L241.9,568.9 L242.2,568.5 L242.6,568.0 L242.9,567.6 L243.2,567.1 L243.5,566.7 L243.9,566.2 L244.2,565.7 L244.5,565.2 L244.8,564.7 L245.2,564.2 L245.5,563.7 L245.8,563.2 L246.1,562.6 L246.5,562.1 L246.8,561.6 L247.1,561.0 L247.4,560.5 L247.7,559.9 L248.1,559.3 L248.4,558.7 L248.7,558.0 L249.0,557.3 L249.4,556.6 L249.7,555.9 L250.0,555.2 L250.3,554.4 L250.7,553.7 L251.0,552.9 L251.3,552.1 L251.6,551.4 L252.0,550.6 L252.3,549.8 L252.6,549.0 L252.9,548.2 L253.3,547.5 L253.6,546.7 L253.9,545.9 L254.2,545.2 L254.6,544.4 L254.9,543.7 L255.2,542.9 L255.5,542.2 L255.9,541.5 L256.2,540.9 L256.5,540.2 L256.8,539.6 L257.2,539.0 L257.5,538.4 L257.8,537.8 L258.1,537.2 L258.4,536.6 L258.8,536.0 L259.1,535.4 L259.4,534.9 L259.7,534.3 L260.1,533.7 L260.4,533.2 L260.7,532.7 L261.0,532.1 L261.4,531.6 L261.7,531.1 L262.0,530.6 L262.3,530.1 L262.7,529.6 L263.0,529.1 L263.3,528.6 L263.6,528.2 L264.0,527.7 L264.3,527.3 L264.6,526.9 L264.9,526.4 L265.3,526.0 L265.6,525.5 L265.9,525.0 L266.2,524.6 L266.6,524.1 L266.9,523.7 L267.2,523.3 L267.5,522.8 L267.9,522.4 L268.2,522.0 L268.5,521.6 L268.8,521.3 L269.1,521.0 L269.5,520.7 L269.8,520.4 L270.1,520.1 L270.4,519.9 L270.8,519.8 L271.1,519.6 L271.4,519.5 L271.7,519.5 L272.1,519.5 L272.4,519.7 L272.7,519.9 L273.0,520.2 L273.4,520.6 L273.7,521.0 L274.0,521.5 L274.3,522.0 L274.7,522.5 L275.0,523.1 L275.3,523.6 L275.6,524.1 L276.0,524.5 L276.3,525.0 L276.6,525.3 L276.9,525.7 L277.3,525.9 L277.6,526.0 L277.9,526.1 L278.2,526.0 L278.6,525.9 L278.9,525.7 L279.2,525.4 L279.5,525.2 L279.8,524.8 L280.2,524.5 L280.5,524.1 L280.8,523.7 L281.1,523.3 L281.5,522.9 L281.8,522.4 L282.1,521.9 L282.4,521.5 L282.8,521.0 L283.1,520.5 L283.4,520.0 L283.7,519.5 L284.1,519.1 L284.4,518.6 L284.7,518.2 L285.0,517.7 L285.4,517.3 L285.7,517.0 L286.0,516.6 L286.3,516.2 L286.7,515.9 L287.0,515.6 L287.3,515.2 L287.6,514.9 L288.0,514.6 L288.3,514.3 L288.6,514.0 L288.9,513.8 L289.3,513.6 L289.6,513.4 L289.9,513.2 L290.2,513.0 L290.6,512.9 L290.9,512.8 L291.2,513.0 L291.5,513.6 L291.8,514.7 L292.2,516.2 L292.5,517.9 L292.8,519.9 L293.1,522.2 L293.5,524.5 L293.8,527.0 L294.1,529.4 L294.4,532.0 L294.8,535.2 L295.1,538.8 L295.4,542.7 L295.7,546.8 L296.1,551.0 L296.4,555.2 L296.7,559.2 L297.0,562.9 L297.4,566.2 L297.7,569.4 L298.0,572.5 L298.3,575.6 L298.7,578.7 L299.0,581.7 L299.3,584.7 L299.6,587.5 L300.0,590.3 L300.3,592.9 L300.6,595.4 L300.9,597.7 L301.3,599.8 L301.6,601.7 L301.9,603.4 L302.2,605.1 L302.5,606.7 L302.9,608.3 L303.2,609.9 L303.5,611.4 L303.8,612.9 L304.2,614.4 L304.5,615.7 L304.8,617.0 L305.1,618.3 L305.5,619.4 L305.8,620.5 L306.1,621.5 L306.4,622.4 L306.8,623.2 L307.1,623.9 L307.4,624.5 L307.7,625.1 L308.1,625.7 L308.4,626.3 L308.7,626.8 L309.0,627.4 L309.4,627.9 L309.7,628.5 L310.0,628.9 L310.3,629.3 L310.7,629.7 L311.0,630.0 L311.3,630.3 L311.6,630.5 L312.0,630.6 L312.3,630.7 L312.6,630.8 L312.9,630.9 L313.2,631.0 L313.6,631.1 L313.9,631.2 L314.2,631.2 L314.5,631.2 L314.9,631.2 L315.2,631.2 L315.5,631.2 L315.8,631.2 L316.2,631.2 L316.5,631.2 L316.8,631.2 L317.1,631.2 L317.5,631.2 L317.8,631.2 L318.1,631.2 L318.4,631.2 L318.8,631.2 L319.1,631.2 L319.4,631.2 L319.7,631.2 L320.1,631.2 L320.4,631.2 L320.7,631.2 L321.0,631.2 L321.4,631.2 L321.7,631.2 L322.0,631.2 L322.3,631.2 L322.7,631.2 L323.0,631.2 L323.3,631.2 L323.6,631.2 L323.9,631.2 L324.3,631.2 L324.6,631.2 L324.9,631.2 L325.2,631.2 L325.6,631.2 L325.9,631.2 L326.2,631.2 L326.5,631.2 L326.9,631.2 L327.2,631.2 L327.5,631.2 L327.8,631.2 L328.2,631.2 L328.5,631.2 L328.8,631.2 L329.1,631.2 L329.5,631.2 L329.8,631.2 L330.1,631.2 L330.4,631.2 L330.8,631.2 L331.1,631.2 L331.4,631.2 L331.7,631.2 L332.1,631.2 L332.4,631.2 L332.7,631.2 L333.0,631.2 L333.4,631.2 L333.7,631.2 L334.0,631.2 L334.3,631.2 L334.6,631.2 L335.0,631.2 L335.3,631.2 L335.6,631.2 L335.9,631.2 L336.3,631.2 L336.6,631.1 L336.9,631.0 L337.2,630.8 L337.6,630.6 L337.9,630.3 L338.2,630.1 L338.5,629.8 L338.9,629.6 L339.2,629.3 L339.5,629.0 L339.8,628.7 L340.2,628.4 L340.5,628.1 L340.8,627.8 L341.1,627.5 L341.5,627.2 L341.8,626.9 L342.1,626.6 L342.4,626.3 L342.8,625.9 L343.1,625.6 L343.4,625.3 L343.7,624.9 L344.1,624.6 L344.4,624.2 L344.7,623.9 L345.0,623.5 L345.4,623.1 L345.7,622.8 L346.0,622.4 L346.3,622.0 L346.6,621.6 L347.0,621.3 L347.3,620.9 L347.6,620.5 L347.9,620.1 L348.3,619.8 L348.6,619.4 L348.9,619.0 L349.2,618.6 L349.6,618.1 L349.9,617.7 L350.2,617.3 L350.5,616.9 L350.9,616.4 L351.2,615.9 L351.5,615.5 L351.8,615.0 L352.2,614.5 L352.5,614.0 L352.8,613.5 L353.1,612.9 L353.5,612.4 L353.8,611.8 L354.1,611.3 L354.4,610.7 L354.8,610.1 L355.1,609.5 L355.4,608.8 L355.7,608.2 L356.1,607.4 L356.4,606.5 L356.7,605.5 L357.0,604.3 L357.3,603.1 L357.7,601.7 L358.0,600.2 L358.3,598.7 L358.6,597.0 L359.0,595.3 L359.3,593.6 L359.6,591.7 L359.9,589.9 L360.3,588.0 L360.6,586.0 L360.9,584.1 L361.2,582.1 L361.6,580.1 L361.9,578.1 L362.2,576.1 L362.5,574.1 L362.9,571.9 L363.2,569.6 L363.5,567.3 L363.8,564.8 L364.2,562.3 L364.5,559.7 L364.8,557.1 L365.1,554.5 L365.5,551.8 L365.8,549.2 L366.1,546.5 L366.4,543.9 L366.8,541.3 L367.1,538.5 L367.4,535.7 L367.7,532.9 L368.0,530.0 L368.4,527.1 L368.7,524.2 L369.0,521.4 L369.3,518.6 L369.7,515.9 L370.0,513.2 L370.3,510.7 L370.6,508.2 L371.0,505.8 L371.3,503.4 L371.6,501.1 L371.9,498.7 L372.3,496.4 L372.6,494.1 L372.9,492.0 L373.2,489.9 L373.6,488.0 L373.9,486.2 L374.2,484.6 L374.5,483.2 L374.9,482.1 L375.2,481.0 L375.5,479.9 L375.8,478.9 L376.2,477.9 L376.5,477.0 L376.8,476.1 L377.1,475.4 L377.5,474.7 L377.8,474.2 L378.1,473.7 L378.4,473.5 L378.7,473.4 L379.1,473.5 L379.4,473.7 L379.7,474.0 L380.0,474.4 L380.4,475.0 L380.7,475.6 L381.0,476.3 L381.3,477.0 L381.7,477.8 L382.0,478.7 L382.3,479.6 L382.6,480.5 L383.0,481.5 L383.3,482.7 L383.6,483.9 L383.9,485.1 L384.3,486.5 L384.6,487.8 L384.9,489.2 L385.2,490.6 L385.6,492.0 L385.9,493.4 L386.2,494.8 L386.5,496.3 L386.9,497.9 L387.2,499.5 L387.5,501.2 L387.8,502.8 L388.2,504.4 L388.5,506.0 L388.8,507.5 L389.1,508.9 L389.5,510.3 L389.8,511.5 L390.1,512.6 L390.4,513.7 L390.7,514.7 L391.1,515.8 L391.4,516.8 L391.7,517.8 L392.0,518.7 L392.4,519.7 L392.7,520.6 L393.0,521.5 L393.3,522.3 L393.7,523.1 L394.0,524.0 L394.3,524.7 L394.6,525.5 L395.0,526.2 L395.3,527.0 L395.6,527.6 L395.9,528.3 L396.3,528.9 L396.6,529.6 L396.9,530.2 L397.2,530.7 L397.6,531.3 L397.9,531.8 L398.2,532.4 L398.5,532.9 L398.9,533.4 L399.2,533.9 L399.5,534.5 L399.8,535.0 L400.2,535.5 L400.5,536.0 L400.8,536.6 L401.1,537.1 L401.4,537.7 L401.8,538.2 L402.1,538.7 L402.4,539.3 L402.7,539.8 L403.1,540.3 L403.4,540.9 L403.7,541.4 L404.0,541.9 L404.4,542.4 L404.7,542.9 L405.0,543.4 L405.3,543.9 L405.7,544.4 L406.0,544.9 L406.3,545.4 L406.6,546.0 L407.0,546.5 L407.3,547.0 L407.6,547.5 L407.9,548.1 L408.3,548.6 L408.6,549.1 L408.9,549.6 L409.2,550.1 L409.6,550.6 L409.9,551.0 L410.2,551.5 L410.5,551.9 L410.9,552.3 L411.2,552.7 L411.5,553.1 L411.8,553.4 L412.1,553.8 L412.5,554.0 L412.8,554.3 L413.1,554.5 L413.4,554.7 L413.8,554.7 L414.1,554.7 L414.4,554.7 L414.7,554.6 L415.1,554.5 L415.4,554.4 L415.7,554.3 L416.0,554.2 L416.4,554.1 L416.7,554.1 L417.0,554.1 L417.3,554.2 L417.7,554.4 L418.0,554.7 L418.3,555.0 L418.6,555.3 L419.0,555.6 L419.3,555.9 L419.6,556.3 L419.9,556.7 L420.3,557.1 L420.6,557.5 L420.9,557.9 L421.2,558.3 L421.6,558.7 L421.9,559.2 L422.2,559.6 L422.5,560.0 L422.8,560.4 L423.2,560.8 L423.5,561.1 L423.8,561.5 L424.1,561.8 L424.5,562.1 L424.8,562.4 L425.1,562.7 L425.4,563.1 L425.8,563.4 L426.1,563.7 L426.4,564.0 L426.7,564.3 L427.1,564.6 L427.4,564.9 L427.7,565.2 L428.0,565.4 L428.4,565.7 L428.7,566.0 L429.0,566.3 L429.3,566.6 L429.7,566.9 L430.0,567.1 L430.3,567.4 L430.6,567.7 L431.0,568.0 L431.3,568.2 L431.6,568.5 L431.9,568.7 L432.3,569.0 L432.6,569.3 L432.9,569.5 L433.2,569.8 L433.5,570.0 L433.9,570.3 L434.2,570.5 L434.5,570.8 L434.8,571.0 L435.2,571.3 L435.5,571.5 L435.8,571.8 L436.1,572.0 L436.5,572.2 L436.8,572.5 L437.1,572.7 L437.4,572.9 L437.8,573.2 L438.1,573.4 L438.4,573.6 L438.7,573.8 L439.1,574.1 L439.4,574.3 L439.7,574.5 L440.0,574.8 L440.4,575.0 L440.7,575.3 L441.0,575.5 L441.3,575.7 L441.7,576.0 L442.0,576.2 L442.3,576.4 L442.6,576.6 L443.0,576.8 L443.3,577.0 L443.6,577.2 L443.9,577.3 L444.3,577.4 L444.6,577.6 L444.9,577.6 L445.2,577.7 L445.5,577.8 L445.9,577.8 L446.2,577.7 L446.5,577.6 L446.8,577.5 L447.2,577.3 L447.5,577.0 L447.8,576.8 L448.1,576.5 L448.5,576.1 L448.8,575.8 L449.1,575.4 L449.4,575.0 L449.8,574.6 L450.1,574.2 L450.4,573.8 L450.7,573.4 L451.1,573.0 L451.4,572.6 L451.7,572.3 L452.0,572.0 L452.4,571.6 L452.7,571.4 L453.0,571.1 L453.3,570.9 L453.7,570.8 L454.0,570.7 L454.3,570.6 L454.6,570.6 L455.0,570.7 L455.3,570.8 L455.6,570.9 L455.9,571.0 L456.2,571.2 L456.6,571.4 L456.9,571.6 L457.2,571.8 L457.5,572.0 L457.9,572.3 L458.2,572.5 L458.5,572.8 L458.8,573.1 L459.2,573.3 L459.5,573.6 L459.8,573.9 L460.1,574.1 L460.5,574.4 L460.8,574.6 L461.1,574.8 L461.4,575.0 L461.8,575.1 L462.1,575.3 L462.4,575.4 L462.7,575.5 L463.1,575.5 L463.4,575.5 L463.7,575.4 L464.0,575.4 L464.4,575.3 L464.7,575.2 L465.0,575.0 L465.3,574.9 L465.7,574.7 L466.0,574.6 L466.3,574.4 L466.6,574.2 L466.9,574.1 L467.3,574.0 L467.6,573.9 L467.9,573.8 L468.2,573.7 L468.6,573.7 L468.9,573.8 L469.2,573.8 L469.5,574.0 L469.9,574.2 L470.2,574.4 L470.5,574.7 L470.8,575.0 L471.2,575.4 L471.5,575.8 L471.8,576.2 L472.1,576.7 L472.5,577.1 L472.8,577.6 L473.1,578.1 L473.4,578.5 L473.8,579.0 L474.1,579.4 L474.4,579.8 L474.7,580.2 L475.1,580.6 L475.4,580.9 L475.7,581.2 L476.0,581.4 L476.4,581.6 L476.7,581.7 L477.0,581.8 L477.3,581.7 L477.6,581.7 L478.0,581.5 L478.3,581.3 L478.6,581.1 L478.9,580.8 L479.3,580.5 L479.6,580.2 L479.9,579.8 L480.2,579.5 L480.6,579.1 L480.9,578.8 L481.2,578.4 L481.5,578.1 L481.9,577.8 L482.2,577.5 L482.5,577.3 L482.8,577.1 L483.2,577.0 L483.5,576.9 L483.8,576.9 L484.1,577.0 L484.5,577.0 L484.8,577.2 L485.1,577.3 L485.4,577.5 L485.8,577.7 L486.1,577.9 L486.4,578.1 L486.7,578.3 L487.1,578.5 L487.4,578.7 L487.7,578.9 L488.0,579.1 L488.3,579.2 L488.7,579.4 L489.0,579.4 L489.3,579.5 L489.6,579.5 L490.0,579.4 L490.3,579.3 L490.6,579.1 L490.9,578.9 L491.3,578.6 L491.6,578.3 L491.9,578.0 L492.2,577.7 L492.6,577.3 L492.9,576.9 L493.2,576.5 L493.5,576.1 L493.9,575.8 L494.2,575.4 L494.5,575.0 L494.8,574.6 L495.2,574.3 L495.5,574.0 L495.8,573.7 L496.1,573.4 L496.5,573.2 L496.8,573.1 L497.1,573.0 L497.4,572.9 L497.8,572.9 L498.1,573.0 L498.4,573.1 L498.7,573.2 L499.1,573.4 L499.4,573.6 L499.7,573.9 L500.0,574.2 L500.3,574.5 L500.7,574.8 L501.0,575.1 L501.3,575.5 L501.6,575.8 L502.0,576.2 L502.3,576.5 L502.6,576.9 L502.9,577.2 L503.3,577.6 L503.6,578.1 L503.9,578.6 L504.2,579.1 L504.6,579.7 L504.9,580.3 L505.2,581.0 L505.5,581.7 L505.9,582.3 L506.2,583.1 L506.5,583.8 L506.8,584.5 L507.2,585.2 L507.5,585.9 L507.8,586.6 L508.1,587.3 L508.5,587.9 L508.8,588.6 L509.1,589.2 L509.4,589.7 L509.8,590.2 L510.1,590.7 L510.4,591.1 L510.7,591.5 L511.0,591.8 L511.4,592.0 L511.7,592.2 L512.0,592.3 L512.3,592.3 L512.7,592.2 L513.0,591.9 L513.3,591.6 L513.6,591.2 L514.0,590.7 L514.3,590.1 L514.6,589.4 L514.9,588.7 L515.3,588.0 L515.6,587.2 L515.9,586.4 L516.2,585.6 L516.6,584.9 L516.9,584.1 L517.2,583.3 L517.5,582.6 L517.9,581.9 L518.2,581.3 L518.5,580.7 L518.8,580.2 L519.2,579.7 L519.5,579.2 L519.8,578.7 L520.1,578.2 L520.5,577.8 L520.8,577.3 L521.1,576.8 L521.4,576.4 L521.7,576.0 L522.1,575.6 L522.4,575.3 L522.7,575.0 L523.0,574.8 L523.4,574.6 L523.7,574.5 L524.0,574.5 L524.3,574.6 L524.7,574.8 L525.0,575.0 L525.3,575.3 L525.6,575.6 L526.0,575.9 L526.3,576.3 L526.6,576.6 L526.9,576.9 L527.3,577.2 L527.6,577.5 L527.9,577.7 L528.2,577.8 L528.6,577.9 L528.9,577.9 L529.2,577.7 L529.5,577.5 L529.9,577.2 L530.2,576.9 L530.5,576.5 L530.8,576.0 L531.2,575.6 L531.5,575.0 L531.8,574.5 L532.1,573.9 L532.4,573.3 L532.8,572.7 L533.1,572.0 L533.4,571.4 L533.7,570.8 L534.1,570.2 L534.4,569.6 L534.7,569.0 L535.0,568.5 L535.4,568.0 L535.7,567.5 L536.0,567.0 L536.3,566.7 L536.7,566.3 L537.0,566.1 L537.3,565.8 L537.6,565.6 L538.0,565.4 L538.3,565.3 L538.6,565.2 L538.9,565.1 L539.3,565.0 L539.6,564.9 L539.9,564.8 L540.2,564.8 L540.6,564.7 L540.9,564.7 L541.2,564.6 L541.5,564.5 L541.9,564.4 L542.2,564.3 L542.5,564.2 L542.8,564.0 L543.2,563.8 L543.5,563.6 L543.8,563.3 L544.1,563.0 L544.4,562.5 L544.8,562.0 L545.1,561.4 L545.4,560.7 L545.7,560.0 L546.1,559.1 L546.4,558.2 L546.7,557.2 L547.0,556.2 L547.4,555.0 L547.7,553.8 L548.0,552.4 L548.3,550.7 L548.7,548.8 L549.0,546.7 L549.3,544.5 L549.6,542.2 L550.0,539.8 L550.3,537.4 L550.6,535.0 L550.9,532.7 L551.3,530.4 L551.6,528.3 L551.9,526.3 L552.2,524.3 L552.6,522.4 L552.9,520.4 L553.2,518.5 L553.5,516.5 L553.9,514.5 L554.2,512.6 L554.5,510.6 L554.8,508.7 L555.1,506.9 L555.5,505.0 L555.8,503.3 L556.1,501.6 L556.4,500.0 L556.8,498.5 L557.1,497.1 L557.4,495.8 L557.7,494.6 L558.1,493.5 L558.4,492.5 L558.7,491.6 L559.0,490.6 L559.4,489.8 L559.7,488.9 L560.0,488.1 L560.3,487.4 L560.7,486.6 L561.0,485.9 L561.3,485.3 L561.6,484.6 L562.0,484.0 L562.3,483.3 L562.6,482.7 L562.9,482.1 L563.3,481.6 L563.6,481.0 L563.9,480.4 L564.2,479.8 L564.6,479.2 L564.9,478.7 L565.2,478.1 L565.5,477.4 L565.8,476.8 L566.2,476.2 L566.5,475.5 L566.8,474.8 L567.1,474.1 L567.5,473.4 L567.8,472.6 L568.1,471.8 L568.4,471.0 L568.8,470.1 L569.1,469.2 L569.4,468.3 L569.7,467.4 L570.1,466.5 L570.4,465.5 L570.7,464.6 L571.0,463.6 L571.4,462.7 L571.7,461.7 L572.0,460.7 L572.3,459.7 L572.7,458.7 L573.0,457.6 L573.3,456.6 L573.6,455.5 L574.0,454.5 L574.3,453.4 L574.6,452.3 L574.9,451.2 L575.3,450.0 L575.6,448.9 L575.9,447.7 L576.2,446.5 L576.5,445.3 L576.9,444.0 L577.2,442.6 L577.5,441.2 L577.8,439.7 L578.2,438.2 L578.5,436.6 L578.8,434.9 L579.1,433.3 L579.5,431.5 L579.8,429.8 L580.1,428.0 L580.4,426.2 L580.8,424.3 L581.1,422.4 L581.4,420.5 L581.7,418.4 L582.1,416.2 L582.4,413.9 L582.7,411.5 L583.0,409.0 L583.4,406.4 L583.7,403.8 L584.0,401.1 L584.3,398.4 L584.7,395.6 L585.0,392.8 L585.3,390.1 L585.6,387.2 L586.0,384.2 L586.3,381.0 L586.6,377.7 L586.9,374.3 L587.2,370.8 L587.6,367.4 L587.9,363.9 L588.2,360.6 L588.5,357.3 L588.9,354.2 L589.2,351.3 L589.5,348.5 L589.8,346.1 L590.2,343.7 L590.5,341.5 L590.8,339.5 L591.1,337.5 L591.5,335.7 L591.8,334.0 L592.1,332.6 L592.4,331.3 L592.8,330.2 L593.1,329.3 L593.4,328.7 L593.7,328.5 L594.1,328.7 L594.4,329.2 L594.7,330.0 L595.0,331.2 L595.4,332.6 L595.7,334.3 L596.0,336.3 L596.3,338.5 L596.7,340.9 L597.0,343.5 L597.3,346.2 L597.6,349.8 L598.0,354.7 L598.3,360.6 L598.6,367.3 L598.9,374.4 L599.2,381.6 L599.6,388.6 L599.9,395.0 L600.2,400.6 L600.5,406.0 L600.9,411.7 L601.2,417.5 L601.5,423.3 L601.8,428.8 L602.2,434.0 L602.5,438.7 L602.8,442.7 L603.1,445.9 L603.5,448.1 L603.8,449.2 L604.1,449.4 L604.4,449.1 L604.8,448.3 L605.1,447.1 L605.4,445.5 L605.7,443.7 L606.1,441.6 L606.4,439.3 L606.7,436.9 L607.0,434.5 L607.4,432.0 L607.7,429.4 L608.0,426.9 L608.3,424.2 L608.7,421.6 L609.0,418.8 L609.3,416.0 L609.6,413.2 L609.9,410.3 L610.3,407.4 L610.6,404.4 L610.9,401.4 L611.2,398.4 L611.6,395.4 L611.9,392.4 L612.2,389.4 L612.5,386.3 L612.9,383.3 L613.2,380.3 L613.5,377.2 L613.8,374.1 L614.2,370.7 L614.5,367.3 L614.8,363.8 L615.1,360.2 L615.5,356.6 L615.8,353.0 L616.1,349.4 L616.4,345.9 L616.8,342.5 L617.1,339.2 L617.4,336.1 L617.7,333.2 L618.1,330.4 L618.4,328.0 L618.7,325.8 L619.0,323.8 L619.4,321.9 L619.7,320.1 L620.0,318.4 L620.3,316.7 L620.6,315.2 L621.0,313.9 L621.3,312.7 L621.6,311.8 L621.9,311.1 L622.3,310.6 L622.6,310.4 L622.9,310.6 L623.2,311.0 L623.6,311.7 L623.9,312.5 L624.2,313.5 L624.5,314.5 L624.9,315.7 L625.2,316.9 L625.5,318.2 L625.8,319.6 L626.2,321.0 L626.5,322.4 L626.8,323.9 L627.1,325.4 L627.5,326.9 L627.8,328.3 L628.1,329.8 L628.4,331.2 L628.8,332.6 L629.1,334.1 L629.4,335.6 L629.7,337.1 L630.1,338.6 L630.4,340.1 L630.7,341.7 L631.0,343.2 L631.3,344.8 L631.7,346.4 L632.0,347.9 L632.3,349.5 L632.6,351.1 L633.0,352.6 L633.3,354.1 L633.6,355.6 L633.9,357.1 L634.3,358.5 L634.6,359.9 L634.9,361.3 L635.2,362.7 L635.6,364.0 L635.9,365.3 L636.2,366.6 L636.5,367.9 L636.9,369.1 L637.2,370.3 L637.5,371.4 L637.8,372.5 L638.2,373.5 L638.5,374.4 L638.8,375.3 L639.1,376.1 L639.5,376.7 L639.8,377.3 L640.1,377.7 L640.4,378.1 L640.8,378.3 L641.1,378.4 L641.4,378.3 L641.7,377.8 L642.1,376.4 L642.4,374.4 L642.7,371.7 L643.0,368.5 L643.3,364.9 L643.7,360.9 L644.0,356.7 L644.3,352.3 L644.6,347.8 L645.0,343.3 L645.3,338.9 L645.6,334.7 L645.9,330.0 L646.3,324.7 L646.6,319.0 L646.9,312.9 L647.2,306.9 L647.6,301.0 L647.9,295.4 L648.2,290.3 L648.5,285.9 L648.9,282.5 L649.2,279.8 L649.5,277.5 L649.8,275.4 L650.2,273.6 L650.5,272.2 L650.8,271.2 L651.1,270.6 L651.5,270.5 L651.8,270.9 L652.1,271.7 L652.4,272.9 L652.8,274.4 L653.1,276.2 L653.4,278.2 L653.7,280.3 L654.0,282.7 L654.4,285.2 L654.7,287.9 L655.0,290.6 L655.3,293.5 L655.7,296.4 L656.0,299.4 L656.3,302.4 L656.6,305.5 L657.0,309.2 L657.3,313.4 L657.6,317.9 L657.9,322.6 L658.3,327.5 L658.6,332.3 L658.9,336.9 L659.2,341.1 L659.6,345.0 L659.9,348.2 L660.2,350.8 L660.5,352.5 L660.9,353.6 L661.2,354.5 L661.5,355.4 L661.8,356.2 L662.2,356.9 L662.5,357.5 L662.8,358.0 L663.1,358.4 L663.5,358.8 L663.8,359.0 L664.1,359.1 L664.4,359.1 L664.7,359.0 L665.1,358.8 L665.4,358.4 L665.7,357.9 L666.0,357.4 L666.4,356.8 L666.7,356.2 L667.0,355.5 L667.3,354.9 L667.7,354.3 L668.0,353.8 L668.3,353.3 L668.6,353.0 L669.0,352.7 L669.3,352.7 L669.6,352.9 L669.9,353.5 L670.3,354.3 L670.6,355.4 L670.9,356.7 L671.2,358.3 L671.6,360.0 L671.9,361.9 L672.2,363.9 L672.5,366.0 L672.9,368.1 L673.2,370.4 L673.5,372.6 L673.8,374.9 L674.2,377.2 L674.5,379.4 L674.8,382.3 L675.1,385.7 L675.4,389.5 L675.8,393.5 L676.1,397.7 L676.4,401.9 L676.7,405.8 L677.1,409.5 L677.4,412.8 L677.7,415.5 L678.0,417.4 L678.4,418.6 L678.7,419.3 L679.0,419.7 L679.3,419.9 L679.7,419.8 L680.0,419.6 L680.3,419.3 L680.6,418.8 L681.0,418.4 L681.3,417.9 L681.6,417.5 L681.9,417.2 L682.3,417.0 L682.6,417.0 L682.9,417.2 L683.2,417.7 L683.6,418.5 L683.9,419.4 L684.2,420.4 L684.5,421.4 L684.9,422.5 L685.2,423.7 L685.5,424.9 L685.8,426.2 L686.1,427.6 L686.5,429.0 L686.8,430.4 L687.1,431.9 L687.4,433.4 L687.8,435.0 L688.1,436.6 L688.4,438.3 L688.7,440.0 L689.1,441.9 L689.4,444.1 L689.7,446.5 L690.0,449.1 L690.4,451.9 L690.7,454.7 L691.0,457.7 L691.3,460.7 L691.7,463.7 L692.0,466.7 L692.3,469.7 L692.6,472.7 L693.0,475.5 L693.3,478.2 L693.6,480.7 L693.9,483.1 L694.3,485.2 L694.6,487.1 L694.9,488.8 L695.2,490.1 L695.6,491.0 L695.9,491.7 L696.2,492.1 L696.5,492.3 L696.9,492.3 L697.2,492.1 L697.5,491.7 L697.8,491.2 L698.1,490.6 L698.5,489.9 L698.8,489.1 L699.1,488.2 L699.4,487.2 L699.8,486.2 L700.1,485.2 L700.4,484.2 L700.7,483.3 L701.1,482.3 L701.4,481.4 L701.7,480.6 L702.0,479.9 L702.4,479.3 L702.7,478.8 L703.0,478.5 L703.3,478.3 L703.7,478.3 L704.0,478.5 L704.3,478.9 L704.6,479.6 L705.0,480.4 L705.3,481.5 L705.6,482.6 L705.9,483.9 L706.3,485.4 L706.6,486.9 L706.9,488.5 L707.2,490.2 L707.6,491.9 L707.9,493.7 L708.2,495.5 L708.5,497.3 L708.8,499.0 L709.2,500.7 L709.5,502.4 L709.8,504.0 L710.1,505.5 L710.5,506.9 L710.8,508.2 L711.1,509.3 L711.4,510.3 L711.8,511.1 L712.1,511.6 L712.4,512.0 L712.7,512.2 L713.1,512.1 L713.4,511.8 L713.7,511.5 L714.0,511.0 L714.4,510.4 L714.7,509.7 L715.0,509.0 L715.3,508.1 L715.7,507.2 L716.0,506.2 L716.3,505.2 L716.6,504.1 L717.0,503.0 L717.3,501.9 L717.6,500.7 L717.9,499.6 L718.3,498.4 L718.6,497.2 L718.9,496.1 L719.2,494.9 L719.5,493.8 L719.9,492.8 L720.2,491.8 L720.5,490.8 L720.8,489.9 L721.2,489.1 L721.5,488.3 L721.8,487.6 L722.1,487.1 L722.5,486.5 L722.8,486.1 L723.1,485.6 L723.4,485.2 L723.8,484.9 L724.1,484.5 L724.4,484.2 L724.7,483.8 L725.1,483.5 L725.4,483.1 L725.7,482.7 L726.0,482.3 L726.4,481.8 L726.7,481.3 L727.0,480.7 L727.3,480.0 L727.7,479.1 L728.0,478.0 L728.3,476.8 L728.6,475.5 L729.0,474.1 L729.3,472.6 L729.6,471.1 L729.9,469.6 L730.2,468.0 L730.6,466.4 L730.9,464.9 L731.2,463.4 L731.5,462.0 L731.9,460.7 L732.2,459.4 L732.5,458.3 L732.8,457.4 L733.2,456.6 L733.5,456.2 L733.8,456.2 L734.1,456.7 L734.5,457.7 L734.8,459.0 L735.1,460.7 L735.4,462.8 L735.8,465.1 L736.1,467.8 L736.4,470.7 L736.7,473.8 L737.1,477.2 L737.4,480.7 L737.7,484.3 L738.0,488.1 L738.4,492.0 L738.7,495.9 L739.0,499.9 L739.3,504.0 L739.7,509.2 L740.0,515.4 L740.3,522.2 L740.6,529.6 L741.0,537.2 L741.3,544.9 L741.6,552.5 L741.9,559.7 L742.2,566.3 L742.6,572.2 L742.9,578.0 L743.2,583.9 L743.5,589.9 L743.9,595.8 L744.2,601.5 L744.5,606.6 L744.8,611.2 L745.2,615.0 L745.5,617.8 L745.8,619.6 L746.1,620.5 L746.5,621.3 L746.8,622.1 L747.1,622.8 L747.4,623.5 L747.8,624.2 L748.1,624.8 L748.4,625.3 L748.7,625.9 L749.1,626.3 L749.4,626.8 L749.7,627.2 L750.0,627.5 L750.4,627.9 L750.7,628.2 L751.0,628.4 L751.3,628.6 L751.7,628.9 L752.0,629.2 L752.3,629.4 L752.6,629.7 L752.9,629.9 L753.3,630.2 L753.6,630.4 L753.9,630.6 L754.2,630.8 L754.6,631.0 L754.9,631.1 L755.2,631.2 L755.5,631.2 L755.9,631.2 L756.2,631.2 L756.5,631.2 L756.8,631.2 L757.2,631.2 L757.5,631.2 L757.8,631.2 L758.1,631.2 L758.5,631.2 L758.8,631.2 L759.1,631.2 L759.4,631.2 L759.8,631.2 L760.1,631.2 L760.4,631.2 L760.7,631.2 L761.1,631.2 L761.4,631.2 L761.7,631.2 L762.0,631.2 L762.4,631.2 L762.7,631.2 L763.0,631.2" stroke="#f00" stroke-opacity="0.6" stroke-linecap="square"/>
<path d="M114.8,631.2 L116.4,631.1 L118.0,631.0 L119.7,630.9 L121.3,630.8 L122.9,630.6 L124.5,630.5 L126.2,630.3 L127.8,630.2 L129.4,630.0 L131.0,629.8 L132.6,629.7 L134.3,629.5 L135.9,629.3 L137.5,629.1 L139.1,628.9 L140.8,628.7 L142.4,628.5 L144.0,628.2 L145.6,628.0 L147.2,627.7 L148.9,627.5 L150.5,627.2 L152.1,626.9 L153.7,626.6 L155.3,626.3 L157.0,626.0 L158.6,625.6 L160.2,625.3 L161.8,624.9 L163.5,624.6 L165.1,624.2 L166.7,623.8 L168.3,623.4 L169.9,623.0 L171.6,622.6 L173.2,622.2 L174.8,621.7 L176.4,621.2 L178.1,620.8 L179.7,620.3 L181.3,619.7 L182.9,619.2 L184.5,618.6 L186.2,618.1 L187.8,617.5 L189.4,616.8 L191.0,616.2 L192.7,615.5 L194.3,614.9 L195.9,614.2 L197.5,613.4 L199.1,612.7 L200.8,611.8 L202.4,611.0 L204.0,610.0 L205.6,609.1 L207.3,608.0 L208.9,606.9 L210.5,605.8 L212.1,604.7 L213.7,603.5 L215.4,602.3 L217.0,601.0 L218.6,599.8 L220.2,598.5 L221.8,597.2 L223.5,595.9 L225.1,594.5 L226.7,593.2 L228.3,591.8 L230.0,590.3 L231.6,588.8 L233.2,587.2 L234.8,585.6 L236.4,584.0 L238.1,582.3 L239.7,580.6 L241.3,578.9 L242.9,577.1 L244.6,575.4 L246.2,573.6 L247.8,571.9 L249.4,570.1 L251.0,568.3 L252.7,566.5 L254.3,564.7 L255.9,562.8 L257.5,560.9 L259.2,559.0 L260.8,557.0 L262.4,555.1 L264.0,553.1 L265.6,551.1 L267.3,549.0 L268.9,547.0 L270.5,544.9 L272.1,542.8 L273.8,540.7 L275.4,538.5 L277.0,536.3 L278.6,534.0 L280.2,531.7 L281.9,529.3 L283.5,526.4 L285.1,523.2 L286.7,520.1 L288.3,517.4 L290.0,515.3 L291.6,514.2 L293.2,513.5 L294.8,512.9 L296.5,512.4 L298.1,512.2 L299.7,512.1 L301.3,512.1 L302.9,512.1 L304.6,512.1 L306.2,512.1 L307.8,512.0 L309.4,512.0 L311.1,512.0 L312.7,512.0 L314.3,512.0 L315.9,512.0 L317.5,512.0 L319.2,512.0 L320.8,512.0 L322.4,512.0 L324.0,512.0 L325.7,512.0 L327.3,512.0 L328.9,512.0 L330.5,512.0 L332.1,512.0 L333.8,511.9 L335.4,511.9 L337.0,511.9 L338.6,511.9 L340.3,511.9 L341.9,511.9 L343.5,511.8 L345.1,511.8 L346.7,511.8 L348.4,511.7 L350.0,511.6 L351.6,511.4 L353.2,511.2 L354.9,510.9 L356.5,510.5 L358.1,510.1 L359.7,509.6 L361.3,509.1 L363.0,508.5 L364.6,507.6 L366.2,506.6 L367.8,505.4 L369.4,504.2 L371.1,502.8 L372.7,501.4 L374.3,499.7 L375.9,497.7 L377.6,495.6 L379.2,493.4 L380.8,491.5 L382.4,490.0 L384.0,488.6 L385.7,487.3 L387.3,486.1 L388.9,485.0 L390.5,483.9 L392.2,482.8 L393.8,481.8 L395.4,480.7 L397.0,479.7 L398.6,478.6 L400.3,477.4 L401.9,476.2 L403.5,475.0 L405.1,473.8 L406.8,472.6 L408.4,471.4 L410.0,470.3 L411.6,469.2 L413.2,468.2 L414.9,467.2 L416.5,466.4 L418.1,465.6 L419.7,464.9 L421.4,464.2 L423.0,463.5 L424.6,462.9 L426.2,462.3 L427.8,461.7 L429.5,461.1 L431.1,460.6 L432.7,460.0 L434.3,459.5 L435.9,459.0 L437.6,458.5 L439.2,458.0 L440.8,457.5 L442.4,457.0 L444.1,456.4 L445.7,455.9 L447.3,455.4 L448.9,454.9 L450.5,454.4 L452.2,453.9 L453.8,453.4 L455.4,452.9 L457.0,452.4 L458.7,452.0 L460.3,451.5 L461.9,451.0 L463.5,450.5 L465.1,450.1 L466.8,449.6 L468.4,449.1 L470.0,448.6 L471.6,448.1 L473.3,447.6 L474.9,447.2 L476.5,446.7 L478.1,446.2 L479.7,445.7 L481.4,445.2 L483.0,444.7 L484.6,444.2 L486.2,443.7 L487.9,443.2 L489.5,442.7 L491.1,442.2 L492.7,441.7 L494.3,441.2 L496.0,440.8 L497.6,440.3 L499.2,439.8 L500.8,439.3 L502.4,438.8 L504.1,438.4 L505.7,437.9 L507.3,437.4 L508.9,436.9 L510.6,436.4 L512.2,435.9 L513.8,435.4 L515.4,434.9 L517.0,434.4 L518.7,433.9 L520.3,433.4 L521.9,432.9 L523.5,432.4 L525.2,431.9 L526.8,431.4 L528.4,430.9 L530.0,430.4 L531.6,429.9 L533.3,429.4 L534.9,428.9 L536.5,428.3 L538.1,427.7 L539.8,427.2 L541.4,426.6 L543.0,425.9 L544.6,425.3 L546.2,424.6 L547.9,423.8 L549.5,423.1 L551.1,422.3 L552.7,421.4 L554.4,420.4 L556.0,419.5 L557.6,418.5 L559.2,417.4 L560.8,416.3 L562.5,415.2 L564.1,414.1 L565.7,412.9 L567.3,411.7 L568.9,410.6 L570.6,409.4 L572.2,408.1 L573.8,406.8 L575.4,405.5 L577.1,404.1 L578.7,402.7 L580.3,401.2 L581.9,399.7 L583.5,398.2 L585.2,396.7 L586.8,395.2 L588.4,393.6 L590.0,392.1 L591.7,390.6 L593.3,389.1 L594.9,387.5 L596.5,386.1 L598.1,384.6 L599.8,383.2 L601.4,381.7 L603.0,380.3 L604.6,378.9 L606.3,377.5 L607.9,376.1 L609.5,374.7 L611.1,373.3 L612.7,371.9 L614.4,370.5 L616.0,369.1 L617.6,367.6 L619.2,366.1 L620.9,364.6 L622.5,363.0 L624.1,361.4 L625.7,359.8 L627.3,358.1 L629.0,356.3 L630.6,354.5 L632.2,352.6 L633.8,350.7 L635.4,348.7 L637.1,346.6 L638.7,344.6 L640.3,342.5 L641.9,340.5 L643.6,338.4 L645.2,336.4 L646.8,334.3 L648.4,332.3 L650.0,330.4 L651.7,328.5 L653.3,326.7 L654.9,324.9 L656.5,323.1 L658.2,321.3 L659.8,319.5 L661.4,317.7 L663.0,315.9 L664.6,314.2 L666.3,312.5 L667.9,310.8 L669.5,309.2 L671.1,307.7 L672.8,306.2 L674.4,304.9 L676.0,303.6 L677.6,302.3 L679.2,301.2 L680.9,300.0 L682.5,299.0 L684.1,297.9 L685.7,296.9 L687.4,295.9 L689.0,295.0 L690.6,294.0 L692.2,293.1 L693.8,292.2 L695.5,291.3 L697.1,290.5 L698.7,289.6 L700.3,288.7 L702.0,287.9 L703.6,287.0 L705.2,286.1 L706.8,285.2 L708.4,284.3 L710.1,283.4 L711.7,282.5 L713.3,281.7 L714.9,280.8 L716.5,279.9 L718.2,279.0 L719.8,278.2 L721.4,277.3 L723.0,276.5 L724.7,275.8 L726.3,275.0 L727.9,274.3 L729.5,273.7 L731.1,273.1 L732.8,272.5 L734.4,271.9 L736.0,271.4 L737.6,270.8 L739.3,270.3 L740.9,269.7 L742.5,269.3 L744.1,268.9 L745.7,268.5 L747.4,268.3 L749.0,268.1 L750.6,268.1 L752.2,268.0 L753.9,268.0 L755.5,268.0 L757.1,268.0 L758.7,267.9 L760.3,267.9 L762.0,267.9" stroke="#f00" stroke-opacity="0.6" stroke-dasharray="22.2 9.6" stroke-linecap="butt"/>
</g>
<rect x="114.8" y="105.3" width="648.2" height="525.9" fill="none" stroke="#000" stroke-width="3.5"/>
<g stroke="#000" fill="none"><path d="M114.8 631.2H94.8M763.0 631.2H783.0" stroke-width="4.2"/><path d="M114.8 578.6H102.8M763.0 578.6H775.0" stroke-width="3.5"/><path d="M114.8 526.0H102.8M763.0 526.0H775.0" stroke-width="3.5"/><path d="M114.8 473.4H102.8M763.0 473.4H775.0" stroke-width="3.5"/><path d="M114.8 420.8H94.8M763.0 420.8H783.0" stroke-width="4.2"/><path d="M114.8 368.2H102.8M763.0 368.2H775.0" stroke-width="3.5"/><path d="M114.8 315.7H102.8M763.0 315.7H775.0" stroke-width="3.5"/><path d="M114.8 263.1H102.8M763.0 263.1H775.0" stroke-width="3.5"/><path d="M114.8 210.5H94.8M763.0 210.5H783.0" stroke-width="4.2"/><path d="M114.8 157.9H102.8M763.0 157.9H775.0" stroke-width="3.5"/><path d="M114.8 105.3H102.8M763.0 105.3H775.0" stroke-width="3.5"/><path d="M114.8 631.2V651.2" stroke-width="4.2"/><path d="M179.6 631.2V643.2" stroke-width="3.5"/><path d="M244.4 631.2V651.2" stroke-width="4.2"/><path d="M309.3 631.2V643.2" stroke-width="3.5"/><path d="M374.1 631.2V651.2" stroke-width="4.2"/><path d="M438.9 631.2V643.2" stroke-width="3.5"/><path d="M503.7 631.2V651.2" stroke-width="4.2"/><path d="M568.5 631.2V643.2" stroke-width="3.5"/><path d="M633.4 631.2V651.2" stroke-width="4.2"/><path d="M698.2 631.2V643.2" stroke-width="3.5"/><path d="M763.0 631.2V651.2" stroke-width="4.2"/></g>
<g font-family="'Liberation Sans', Arial, sans-serif" font-size="36" fill="#000">
<text x="114.8" y="691" text-anchor="middle">0</text>
<text x="244.4" y="691" text-anchor="middle">50</text>
<text x="374.1" y="691" text-anchor="middle">100</text>
<text x="503.7" y="691" text-anchor="middle">150</text>
<text x="633.4" y="691" text-anchor="middle">200</text>
<text x="763.0" y="691" text-anchor="middle">250</text>
<text x="81" y="644.1" text-anchor="end">0</text>
<text x="81" y="433.7" text-anchor="end">1</text>
<text x="81" y="223.4" text-anchor="end">2</text>
</g>
<g font-family="'Liberation Sans', Arial, sans-serif" fill="#000">
<text x="369.4" y="740.2" font-size="36.0" font-style="italic">ω</text>
<text x="405.2" y="740.2" font-size="36.0">(meV)</text>
<g transform="translate(34.5 431) rotate(-90)">
<text x="-0.6" y="0.0" font-size="36.0" font-style="italic">α</text>
<text x="24.3" y="-14.5" font-size="26.4">2</text>
<text x="41.6" y="0.0" font-size="36.0" font-style="italic">F</text>
<text x="68.8" y="-3.0" font-size="36.0">(</text>
<text x="82.1" y="-3.0" font-size="36.0" font-style="italic">ω</text>
<text x="112.9" y="-3.0" font-size="36.0">)</text>
</g>
<path d="M212 30.7H276.4" stroke="#000" stroke-opacity="0.7" stroke-width="5.8" stroke-linecap="square"/>
<path d="M446.6 30.7H510.4" stroke="#f00" stroke-opacity="0.6" stroke-width="5.8" stroke-linecap="square"/>
<path d="M212 83.4H276.4" stroke="#000" stroke-opacity="0.7" stroke-width="5.8" stroke-dasharray="22.2 9.6"/>
<path d="M446.6 83.4H510.4" stroke="#f00" stroke-opacity="0.6" stroke-width="5.8" stroke-dasharray="22.2 9.6"/>
<text x="287.3" y="39.3" font-size="32.0" font-style="italic">α</text>
<text x="310.1" y="27.3" font-size="23.5">2</text>
<text x="325.1" y="39.3" font-size="32.0" font-style="italic">F</text>
<text x="352.2" y="39.3" font-size="32.0">(Har)</text>
<text x="305.1" y="91.1" font-size="32.0" font-style="italic">λ</text>
<text x="341.3" y="91.1" font-size="32.0">(Har)</text>
<text x="521.3" y="39.3" font-size="32.0" font-style="italic">α</text>
<text x="544.1" y="27.3" font-size="23.5">2</text>
<text x="559.1" y="39.3" font-size="32.0" font-style="italic">F</text>
<text x="586.2" y="39.3" font-size="32.0">(Anh)</text>
<text x="539.1" y="91.1" font-size="32.0" font-style="italic">λ</text>
<text x="575.3" y="91.1" font-size="32.0">(Anh)</text>
<text x="-1.4" y="113.6" font-size="48.0" font-weight="bold">a</text>
<text x="816.8" y="116.5" font-size="48.0" font-weight="bold">b</text>
</g>
<defs><linearGradient id="cbg" x1="0" x2="1" y1="0" y2="0"><stop offset="0" stop-color="#d5d1d1"/><stop offset="0.25" stop-color="#a63c3e"/><stop offset="0.5" stop-color="#e6a46e"/><stop offset="0.75" stop-color="#f5e8a8"/><stop offset="1" stop-color="#fbd700"/></linearGradient></defs>
<rect x="1260.5" y="85.2" width="388.5" height="19.6" fill="url(#cbg)" stroke="#000" stroke-width="3.4"/>
<g font-family="'Liberation Sans', Arial, sans-serif"><path d="M1260.5 85.2V71.0" stroke="#000" stroke-width="3.6"/><text x="1243.8" y="66.3" font-size="24.0">0.0</text><path d="M1390.0 85.2V71.0" stroke="#000" stroke-width="3.6"/><text x="1373.3" y="66.3" font-size="24.0">0.5</text><path d="M1519.5 85.2V71.0" stroke="#000" stroke-width="3.6"/><text x="1501.9" y="66.3" font-size="24.0">1.0</text><path d="M1649.0 85.2V71.0" stroke="#000" stroke-width="3.6"/><text x="1631.4" y="66.3" font-size="24.0">1.5</text></g>
<g font-family="'Liberation Sans', Arial, sans-serif"><text x="1376.7" y="25.6" font-size="28.0" font-style="italic">α</text><text x="1396.7" y="15.3" font-size="19.6">2</text><text x="1409.6" y="25.6" font-size="28.0" font-style="italic">F</text><text x="1427.9" y="15.3" font-size="19.6">V</text><text x="1442.8" y="25.6" font-size="28.0" font-style="italic">(</text><text x="1453.5" y="25.6" font-size="28.0" font-style="italic">ω</text><text x="1477.7" y="25.6" font-size="28.0" font-style="italic">,</text><text x="1491.0" y="25.6" font-size="28.0" font-style="italic">ω</text><text x="1510.7" y="25.6" font-size="28.0" font-style="italic">′</text><text x="1526.5" y="25.6" font-size="28.0" font-style="italic">)</text></g>
<defs><linearGradient id="sg" gradientUnits="userSpaceOnUse" x1="0" y1="0" x2="0" y2="-225.00"><stop offset="0" stop-color="#d7d7d7"/><stop offset="0.04" stop-color="#d0b6b6"/><stop offset="0.12" stop-color="#c27a7a"/><stop offset="0.25" stop-color="#a63c3e"/><stop offset="0.5" stop-color="#e6a46e"/><stop offset="0.75" stop-color="#f5e8a8"/><stop offset="1" stop-color="#fbd700"/></linearGradient></defs>
<path d="M865.8 521.8 L1116.5 415.3 L1116.5 181.6 L856.2 274.0 Z" fill="#fdfdfd"/>
<path d="M1367.2 521.8 L1116.5 415.3 L1116.5 181.6 L1376.9 274.0 Z" fill="#fdfdfd"/>
<path d="M856.2 274.0L1116.5 181.6L1376.9 274.0" fill="none" stroke="#f5f5f5" stroke-width="3.5" stroke-linejoin="round"/>
<path d="M1116.5 181.6L1116.5 415.3" fill="none" stroke="#efefef" stroke-width="3.5"/>
<path d="M865.8 521.8L1116.5 415.3L1367.2 521.8" fill="none" stroke="#efefef" stroke-width="8" stroke-linejoin="round"/>
<path d="M1116.5 645.5 L1367.2 521.8 L1116.5 415.3 L865.8 521.8 Z" fill="#d7d7d7"/>
<g fill="url(#sg)"><path transform="matrix(1 0 0 0.9898 0 443.80)" d="M1113.7 0l0-1.3 2.8-1 2.9 1 0 1.3z"/><path transform="matrix(1 0 0 0.9905 0 445.04)" d="M1110.8 0l0-1.9 2.9 .1 0 1.8zM1119.4 0l0-1.8 2.8-.1 0 1.9z"/><path transform="matrix(1 0 0 0.9912 0 446.28)" d="M1099.4 0l0-1.8 4.3 .1 0 1.7zM1108 0l0-1.6 2.8-1.1 2.9 .7 2.8-1 2.9 1 2.9-.7 2.8 1.1 0 1.6zM1129.4 0l0-1.7 4.3-.1 0 1.8z"/><path transform="matrix(1 0 0 0.9919 0 447.52)" d="M1093.6 0l0-1.8 2.9-.9 4.3 1 5.7-1.8 4.3 1.8 5.7-1.2 5.8 1.2 4.3-1.8 5.7 1.8 4.3-1 2.8 .9 0 1.8z"/><path transform="matrix(1 0 0 0.9926 0 448.76)" d="M1090.7 0l0-1.7 5.8-1.4 5.7 .3 4.3-1.3 4.3 1.8 5.7-.8 5.8 .8 4.3-1.8 4.3 1.3 5.7-.3 5.7 1.4 0 1.7z"/><path transform="matrix(1 0 0 0.9933 0 450.01)" d="M1087.9 0l0-1.6 4.3-1.9 4.3 1 4.2-3.9 5.8 3.7 4.3-2.4 5.7 3 5.8-3 4.3 2.4 5.7-3.7 4.3 3.9 4.3-1 4.3 1.9 0 1.6z"/><path transform="matrix(1 0 0 0.9940 0 451.26)" d="M1085 0l0-1.3 2.8-2 4.3 .6 4.3-2 5.8-.8 4.3 1.2 4.3-.4 5.7 .9 5.8-.9 4.3 .4 5.7-1.2 4.3 .8 4.3 2 4.3-.6 2.9 2 0 1.3z"/><path transform="matrix(1 0 0 0.9947 0 452.51)" d="M1083.5 0l0-1.5 4.3-.7 5.7-2.2 2.9-2.8 1.4 .4 1.5 1.6 1.4-.6 2.9 .4 1.4-2.4 1.5-1 2.8 4 1.5 1 1.4-.1 4.3-5.2 4.3 5.2 1.5 .1 1.4-1 2.9-4 1.4 1 1.5 2.4 2.8-.4 1.5 .6 1.4-1.6 1.5-.4 2.8 2.8 5.8 2.2 4.3 .7 0 1.5z"/><path transform="matrix(1 0 0 0.9954 0 453.76)" d="M1079.2 0l0-1.2 2.8-1.2 4.3 .6 2.9-.7 4.3-4.7 2.9 2.4 2.9-4.8 5.7 3.6 7.2-1.9 4.3 .9 5.8-.7 5.7 1.7 5.8-3.6 2.9 4.8 2.9-2.4 4.3 4.7 2.8 .7 4.3-.6 2.9 1.2 0 1.2z"/><path transform="matrix(1 0 0 0.9960 0 455.02)" d="M1076.2 0l0-1.5 10.1-1.1 4.3-1.5 2.9 .2 8.6-4.4 4.4 2.6 1.4-1 2.9-7.2 1.4 0 2.9 6.3 1.4 .9 1.5-.9 2.9-6.3 1.4 0 2.9 7.2 1.4 1 4.3-2.6 8.7 4.4 2.8-.2 4.4 1.5 10 1.1 0 1.5z"/><path transform="matrix(1 0 0 0.9967 0 456.27)" d="M1074.8 0l0-1.8 2.8-.8 5.8 .3 2.9-2.4 1.4-.4 2.9 1.9 2.9 .1 5.7-5.2 2.9 2.4 1.5-.4 2.8-6.3 1.5-.5 2.9 4.1 1.4-.7 2.9-4.8 1.4-1.1 1.5 1.1 2.9 4.8 1.4 .7 2.9-4.1 1.4 .5 2.9 6.3 1.4 .4 2.9-2.4 5.8 5.2 2.9-.1 2.8-1.9 1.5 .4 2.9 2.4 5.7-.3 2.9 .8 0 1.8z"/><path transform="matrix(1 0 0 0.9974 0 457.53)" d="M1069 0l0-1.6 2.8-1.4 4.4 .8 2.9-.2 4.3-2.5 4.3 1.3 7.2-1.3 4.3 .1 4.3-7.2 4.4-.6 4.3 1.4 4.3-9.9 4.4 9.9 4.3-1.4 4.3 .6 4.3 7.2 4.4-.1 7.2 1.3 4.3-1.3 4.3 2.5 2.9 .2 4.3-.8 2.9 1.4 0 1.6z"/><path transform="matrix(1 0 0 0.9981 0 458.80)" d="M1066 0l0-1.7 5.8-2.6 5.8 1.3 5.7-2 4.4 1.6 1.4-.2 2.9-2.9 4.3 2.6 1.5-.2 1.4-1.2 4.3-6.8 1.5-.5 2.9 2.1 1.4-1.9 2.9-10.6 4.3 11.4 4.4-11.4 2.9 10.6 1.4 1.9 2.9-2.1 1.4 .5 4.4 6.8 1.4 1.2 1.4 .2 4.4-2.6 2.8 2.9 1.5 .2 4.3-1.6 5.8 2 5.8-1.3 5.7 2.6 0 1.7z"/><path transform="matrix(1 0 0 0.9988 0 460.06)" d="M1063.1 0l0-1.6 4.3-3.5 4.4 1.9 5.7-4.1 4.4 3.5 1.4 .4 1.5-.4 2.8-2.7 1.5-.1 2.9 2.6 7.2-4.1 4.3 1 1.5-1.4 4.3-13.5 2.9 6.2 2.9-4.6 1.4-.8 1.5 .8 2.9 4.6 2.9-6.2 4.3 13.5 1.4 1.4 4.4-1 7.2 4.1 2.9-2.6 1.4 .1 2.9 2.7 1.4 .4 1.5-.4 4.3-3.5 5.8 4.1 4.3-1.9 4.4 3.5 0 1.6z"/><path transform="matrix(1 0 0 0.9995 0 461.33)" d="M1060.2 0l0-1.8 2.8-3.1 1.5-.4 2.9 1.3 7.2-2.4 2.9-2.1 2.9 2.7 2.9 .8 2.9-.9 7.2 .2 4.3-4.5 2.9 2.8 1.5 .4 1.4-1.1 4.3-7.1 5.8-2.5 2.9-12.9 2.9 12.9 5.8 2.5 4.4 7.1 1.4 1.1 1.4-.4 2.9-2.8 4.4 4.5 7.2-.2 2.9 .9 2.9-.8 2.9-2.7 2.9 2.1 7.2 2.4 2.9-1.3 1.4 .4 2.9 3.1 0 1.8z"/><path transform="matrix(1 0 0 1.0002 0 462.59)" d="M1057.2 0l0-1.7 7.2-3.8 4.4 .1 1.4-1.1 2.9-4.6 2.9 4.6 4.3-1.9 1.5-2.2 1.4 .6 2.9 4.6 1.5 .7 1.4-.2 1.5-1.5 2.9-5.2 4.3 5.2 1.5-1.4 2.8-5.6 1.5-.7 4.3 4.9 1.5-1.3 2.9-9.5 1.4-2.5 2.9 6 2.9-6 1.5 2.5 2.9 9.5 1.4 1.3 4.4-4.9 1.4 .7 2.9 5.6 1.4 1.4 4.4-5.2 2.9 5.2 1.4 1.5 1.5 .2 1.4-.7 2.9-4.6 1.5-.6 1.4 2.2 4.4 1.9 2.9-4.6 2.8 4.6 1.5 1.1 4.3-.1 7.2 3.8 0 1.7z"/><path transform="matrix(1 0 0 1.0009 0 463.86)" d="M1052.8 0l0-1.8 4.4-3.1 4.3 .7 2.9-.5 1.4-1.4 2.9-5.8 1.4 .2 3 4.6 2.8-3.7 4.4 2.1 2.9-.7 4.4 1.2 2.8-1.4 2.9 1 1.5-.3 5.8-3.3 1.4-1.7 1.5 .4 1.4 1.9 1.5 .7 2.9-2 1.4 .2 1.5 1.1 1.4-1.8 2.9-9.1 2.9 9.1 1.5 1.8 1.4-1.1 1.5-.2 2.9 2 1.4-.7 1.5-1.9 1.4-.4 1.5 1.7 5.8 3.3 1.4 .3 2.9-1 2.9 1.4 4.4-1.2 2.9 .7 4.3-2.1 2.9 3.7 2.9-4.6 1.5-.2 2.8 5.8 1.5 1.4 2.9 .5 4.3-.7 4.3 3.1 0 1.8z"/><path transform="matrix(1 0 0 1.0016 0 465.14)" d="M1047 0l0-1.5 5.8-1.5 4.3-4 4.3 1.7 1.5-.3 4.3-4 2.9-.2 2.9-3.1 2.9 2.2 1.4-2.2 1.5 0 2.9 5 1.5 .6 4.3-11.4 2.9 7.6 1.5 2.4 1.4 .4 1.5-1.3 2.9-7.3 1.4-.8 2.9 7.7 1.5 .5 2.9-7.4 1.4 .8 1.5 4 1.4 1.2 2.9-1.8 2.9 1.8 2.9-1.8 2.9 1.8 1.5-1.2 1.4-4 1.5-.8 2.9 7.4 1.4-.5 3-7.7 1.4 .8 2.9 7.3 1.4 1.3 1.5-.4 1.4-2.4 3-7.6 4.3 11.4 1.4-.6 3-5 1.4 0 1.5 2.2 2.9-2.2 2.9 3.1 2.9 .2 4.3 4 1.4 .3 4.4-1.7 4.3 4 5.8 1.5 0 1.5z"/><path transform="matrix(1 0 0 1.0023 0 466.41)" d="M1042.6 0l0-1.3 5.8-.7 4.3-5.7 2.9 2.5 1.5 .2 5.7-6.9 4.4 4.5 1.4 0 2.9-2.9 2.9-6 2.9 6.6 1.5 1.1 4.3-8.4 1.5 .7 1.4 2.5 1.5-.2 2.9-2.1 4.3-.3 4.4 5.3 2.9-5.6 1.5-.7 2.9 6.9 1.4-1.8 1.5-3.9 1.4 .1 2.9 7.2 1.5 1.4 1.4 .3 1.5-.3 1.4-1.4 2.9-7.2 1.5-.1 1.4 3.9 1.5 1.8 2.9-6.9 1.5 .7 2.9 5.6 4.3-5.3 4.4 .3 2.9 2.1 1.4 .2 1.5-2.5 1.5-.7 4.3 8.4 1.4-1.1 3-6.6 2.8 6 2.9 2.9 1.5 0 4.4-4.5 5.7 6.9 1.5-.2 2.9-2.5 4.3 5.7 5.8 .7 0 1.3z"/><path transform="matrix(1 0 0 1.0030 0 467.69)" d="M1042.5 0l0-1.6 2.9-1.3 2.9-2.6 2.9 0 4.3-2.7 2.9-.2 2.9-4.5 1.4-.9 1.5 1.9 1.4-2.2 1.5-.2 1.5 3.2 1.4 .5 1.5-.9 2.9 .6 5.8-5.1 2.9-4.4 1.4 1 3 5.4 1.4-.4 2.9-14.1 1.4-.1 3 14.3 1.4 1.5 2.9-2.5 1.5-.1 1.4 .8 3-2 2.9 6 2.9 .7 4.3 2.7 4.4-2.7 2.9-.7 2.9-6 2.9 2 1.5-.8 1.4 .1 2.9 2.5 1.5-1.5 3-14.3 1.4 .1 2.9 14.1 1.4 .4 2.9-5.4 1.5-1 2.9 4.4 5.8 5.1 2.9-.6 1.4 .9 1.5-.5 1.5-3.2 1.4 .2 1.5 2.2 1.4-1.9 1.5 .9 2.8 4.5 2.9 .2 4.4 2.7 2.9 0 2.9 2.6 2.8 1.3 0 1.6z"/><path transform="matrix(1 0 0 1.0037 0 468.97)" d="M1036.6 0l0-1.3 5.9-.6 5.7-6.1 4.4 2.1 1.4-.8 2.9-8.4 1.4-1.7 3 7.6 2.8-8.4 1.5-1.2 2.9 2.5 2.9 6.3 1.5 1 1.5-.7 1.4-2.7 2.8-12.4 1.5-1 3 10.4 1.4 0 2.9-13.6 1.4-2.1 3 12.8 1.4 .4 2.9-9.2 1.5 1 2.9 11.8 1.5 1.3 2.9-2.4 1.4 .7 4.4 6.8 1.5 1.1 4.3-4.8 4.4 4.8 1.4-1.1 4.4-6.8 1.5-.7 2.9 2.4 1.4-1.3 3-11.8 1.4-1 2.9 9.2 1.5-.4 3-12.8 1.4 2.1 2.9 13.6 1.4 0 3-10.4 1.4 1 2.9 12.4 1.4 2.7 1.5 .7 1.4-1 3-6.3 2.9-2.5 1.5 1.2 2.8 8.4 3-7.6 1.4 1.7 2.8 8.4 1.5 .8 4.4-2.1 5.7 6.1 5.8 .6 0 1.3z"/><path transform="matrix(1 0 0 1.0044 0 470.25)" d="M1033.7 0l0-1.5 4.3-.6 4.3-3.5 4.4 .7 1.5-.5 4.3-7 1.4-.9 2.9 2.5 4.4-2 4.4-1 1.4-1.3 1.5-.2 2.9 1.6 1.4-.5 2.9-4.5 2.9 1.9 1.5-.6 4.3-13.1 7.3 6.4 2.9-2 3 1.6 1.4-.8 1.5 .3 4.4 14.4 1.4 1.6 1.5 .2 4.4-1.8 2.9 1.6 2.9 0 2.9-1.6 4.4 1.8 1.4-.2 1.5-1.6 1.4-3.7 3-10.7 1.4-.3 1.5 .8 2.9-1.6 2.9 2 7.4-6.4 4.3 13.1 1.4 .6 2.9-1.9 2.9 4.5 1.5 .5 2.9-1.6 1.5 .2 1.4 1.3 4.4 1 4.3 2 3-2.5 1.4 .9 4.3 7 1.5 .5 4.3-.7 4.3 3.5 4.4 .6 0 1.5z"/><path transform="matrix(1 0 0 1.0052 0 471.53)" d="M1032.1 0l0-1.6 2.9-.8 7.3-5.4 4.3 1.6 1.5-.2 1.4-1.5 2.9-6.6 1.4-1.2 1.5 2.1 1.5-.9 2.9 3.8 2.8-9.9 1.5 1.1 3 8.2 1.4-.3 4.3-18.6 3 11 1.5 3.2 1.4-.1 1.5-2.9 4.2-18.8 1.5 3.6 1.5 7.9 1.5-1.2 2.9-6.3 1.4-.9 3 12.6 1.5 .2 1.4-3.1 1.5 .3 4.4 13.4 1.4 2.1 1.5 .6 4.4-3.9 1.4 .8 1.5 2.5 1.4 .7 1.5-.7 1.4-2.5 1.5-.8 2.9 3.1 1.5 .8 1.4-.6 1.5-2.1 4.4-13.4 1.5-.3 1.4 3.1 1.5-.2 2.9-12.6 1.5 .9 2.9 6.3 1.4 1.2 1.5-7.9 1.5-3.6 4.3 18.8 1.4 2.9 1.5 .1 1.5-3.2 3-11 4.2 18.6 1.5 .3 3-8.2 1.4-1.1 2.9 9.9 2.9-3.8 1.5 .9 1.4-2.1 1.5 1.2 2.8 6.6 1.5 1.5 1.4 .2 4.4-1.6 7.2 5.4 2.9 .8 0 1.6z"/><path transform="matrix(1 0 0 1.0059 0 472.82)" d="M1027.7 0l0-1.5 2.9-1.4 2.9 .1 1.5-.8 4.3-5.3 2.9 1.8 1.5 0 2.8-5.3 1.5-1.4 4.4 5.1 2.8-9.8 1.5-1.8 2.9 2.1 3 6.2 1.4-1.5 4.3-10.7 2.9 2.3 5.9-4.9 2.9-3.5 1.4 1.7 3 7.1 1.4-4.2 2.9-17.1 1.5 1.7 1.4 6.1 1.6 10.8 1.4-8.1 1.4-2.4 3 16.8 1.5 4.5 4.4-3.3 1.4 .7 5.9 7.9 1.4-1.4 2.9-5.3 2.9 5.3 1.5 1.4 5.9-7.9 1.4-.7 4.4 3.3 1.5-4.5 2.9-16.8 1.5 2.4 1.4 8.1 1.5-10.8 1.5-6.1 1.5-1.7 2.8 17.1 1.5 4.2 2.9-7.1 1.5-1.7 2.9 3.5 5.8 4.9 3-2.3 4.3 10.7 1.4 1.5 3-6.2 2.9-2.1 1.5 1.8 2.8 9.8 4.4-5.1 1.5 1.4 2.8 5.3 1.5 0 2.9-1.8 4.3 5.3 1.5 .8 2.9-.1 2.9 1.4 0 1.5z"/><path transform="matrix(1 0 0 1.0066 0 474.11)" d="M1026.2 0l0-1.7 4.3-1.6 2.9-5 1.4-.5 3 2.5 1.4-.3 4.3-6.8 1.5-1 2.9-1.1 2.9 3.1 4.4-.2 2.9-4.3 1.4-.6 3 2.2 1.4-.3 4.3-17.1 4.5 12.7 1.4-2.8 2.8-23.6 1.5 .3 1.5 12 1.5 6.8 1.5 2.4 2.9-5.4 2.9 .7 1.5-3.8 1.4-7.5 1.5 4.3 1.5 11.2 1.5 5.7 2.9 0 2.9 5.1 1.5 .6 2.9-6.9 1.5 2 1.4 5 1.5 1.7 2.9-.1 2.9 1.7 3-1.7 2.9 .1 1.4-1.7 1.5-5 1.5-2 2.9 6.9 1.4-.6 3-5.1 2.9 0 1.5-5.7 1.5-11.2 1.5-4.3 1.4 7.5 1.4 3.8 3-.7 2.9 5.4 1.5-2.4 1.5-6.8 1.5-12 1.5-.3 2.7 23.6 1.5 2.8 4.5-12.7 4.2 17.1 1.5 .3 2.9-2.2 1.5 .6 2.9 4.3 4.3 .2 3-3.1 2.9 1.1 1.4 1 4.3 6.8 1.5 .3 2.9-2.5 1.5 .5 2.9 5 4.3 1.6 0 1.7z"/><path transform="matrix(1 0 0 1.0073 0 475.40)" d="M1021.7 0l0-1.6 2.9-1.4 2.9 .2 7.2-7 1.5-.2 2.9 .9 1.5-1.1 2.8-6.7 1.5-.6 1.5 2.8 2.8-5.4 1.5 1.2 1.5-.5 1.4 .6 3 7.3 1.5 .9 1.4-2 4.2-21.8 3.1 13.3 1.5 2 1.4-4.9 2.8-19.9 1.4-.5 3.1 15.5 4.3-19.6 1.4-1 1.5 3.9 1.6 13.8 1.4 6.5 1.5-3.6 1.5-1.1 4.4 5 2.9 8.6 1.5 .4 2.9-8.9 1.5 2.1 2.9 10.7 2.9-9.4 1.5-2.4 2.9 10.3 1.5 2.6 1.4 .8 1.5-.8 1.5-2.6 2.9-10.3 1.5 2.4 2.9 9.4 2.9-10.7 1.5-2.1 2.9 8.9 1.4-.4 3-8.6 4.4-5 1.5 1.1 1.4 3.6 1.5-6.5 1.5-13.8 1.5-3.9 1.5 1 4.3 19.6 3-15.5 1.5 .5 2.8 19.9 1.4 4.9 1.5-2 3-13.3 4.2 21.8 1.5 2 1.4-.9 3-7.3 1.5-.6 1.5 .5 1.4-1.2 2.9 5.4 1.5-2.8 1.4 .6 2.9 6.7 1.4 1.1 3-.9 1.4 .2 7.2 7 3-.2 2.9 1.4 0 1.6z"/><path transform="matrix(1 0 0 1.0080 0 476.69)" d="M1018.7 0l0-1.5 4.4-.9 1.4-1.3 2.9-4.8 1.4-.2 3 1.8 1.4-.1 1.5-1.1 4.2-12.1 1.5 .9 3 8.1 2.9-7.8 2.9-2.1 2.9 4.1 1.5-.2 2.9 1.4 1.5-.6 2.9-5.6 4.3-5.9 4.4-3.6 2.8-11.2 1.5-.5 3 8.8 1.5-2.7 2.8-19 1.5 2 1.5 13.3 1.5-.1 4.5 20.4 1.4 2.8 1.5 .7 1.5-1.5 2.9-7.6 1.4-.2 3 8.2 1.5 .2 2.9-5.6 2.9 6.6 1.5-.3 2.9-2.7 2.9 2.3 3-2.3 2.9 2.7 1.5 .3 2.9-6.6 2.9 5.6 1.5-.2 2.9-8.2 1.5 .2 2.9 7.6 1.5 1.5 1.4-.7 1.5-2.8 4.5-20.4 1.5 .1 1.5-13.3 1.5-2 2.8 19 1.5 2.7 3-8.8 1.4 .5 2.9 11.2 4.3 3.6 4.4 5.9 2.9 5.6 1.4 .6 3-1.4 1.4 .2 3-4.1 2.9 2.1 2.8 7.8 3.1-8.1 1.4-.9 4.3 12.1 1.4 1.1 1.5 .1 2.9-1.8 1.5 .2 2.8 4.8 1.5 1.3 4.4 .9 0 1.5z"/><path transform="matrix(1 0 0 1.0087 0 477.98)" d="M1017.2 0l0-1.4 4.3-2 7.2-7.3 3 1.4 1.4-.1 4.3-7.1 1.5-1 1.5 .2 2.9 2.6 1.5 .1 4.3-5.1 1.5 .2 2.9 2.9 1.5-2.3 2.8-15.5 3 12.2 1.5 3.9 1.5-.6 1.4-5.8 2.7-28.4 1.5 .5 3.1 25.4 1.5-1 2.8-25.9 1.4 1.4 1.6 14.6 1.5 6.5 1.4-3 1.5-6 1.5 .3 3 15.3 1.5 5.5 1.4 2.5 1.5 .3 1.5-1.8 2.9-5.8 1.4-.6 1.5 2.2 2.9 .6 1.5-.8 1.5-2 1.4 1 3 6.5 1.4 1.1 4.4-22.4 4.4 22.4 1.5-1.1 2.9-6.5 1.5-1 1.5 2 1.4 .8 3-.6 1.4-2.2 1.5 .6 2.9 5.8 1.5 1.8 1.4-.3 1.5-2.5 1.5-5.5 3-15.3 1.5-.3 1.4 6 1.5 3 1.5-6.5 1.5-14.6 1.5-1.4 2.8 25.9 1.4 1 3.2-25.4 1.4-.5 2.8 28.4 1.4 5.8 1.4 .6 1.5-3.9 3.1-12.2 2.8 15.5 1.4 2.3 3-2.9 1.4-.2 4.4 5.1 1.5-.1 2.9-2.6 1.5-.2 1.4 1 4.3 7.1 1.5 .1 2.9-1.4 7.3 7.3 4.3 2 0 1.4z"/><path transform="matrix(1 0 0 1.0094 0 479.28)" d="M1017.1 0l0-1.6 2.9-1.6 2.8-5.4 1.5-.7 2.9 2.2 1.5-1.2 4.2-12.5 1.5 1.7 1.5 4 2.8-8.5 1.5 1.3 1.6 4.9 1.3-7.3 1.5-3 3 11.4 1.5 2.7 1.5-1.8 4.2-22 3 11.8 7.3-9.2 2.9 3.4 1.5-3.9 1.4-10.4 1.4-5.4 1.5 .3 3.1 19.6 1.4-6.6 1.4-14 1.4-.9 3.1 27.1 1.5 4.4 2.9-4.8 1.5-1 2.9 2.4 4.5 8.6 1.4-2.5 2.9-13.1 1.5 .1 3 12 1.4 .4 4.4-16.2 1.5 1.5 1.5 5.4 1.4 .7 1.5-.7 1.5-5.4 1.4-1.5 4.4 16.2 1.5-.4 3-12 1.4-.1 2.9 13.1 1.5 2.5 4.4-8.6 3-2.4 1.4 1 2.9 4.8 1.5-4.4 3.1-27.1 1.5 .9 1.4 14 1.4 6.6 3.1-19.6 1.5-.3 1.4 5.4 1.4 10.4 1.4 3.9 3-3.4 7.3 9.2 3-11.8 4.2 22 1.4 1.8 1.5-2.7 3.1-11.4 1.4 3 1.4 7.3 1.5-4.9 1.5-1.3 2.8 8.5 1.6-4 1.5-1.7 4.2 12.5 1.4 1.2 3-2.2 1.4 .7 2.9 5.4 2.9 1.6 0 1.6z"/><path transform="matrix(1 0 0 1.0101 0 480.58)" d="M1012.6 0l0-1.4 5.8-3.4 4.4-.8 7.2-8.6 2.9-5.3 1.4 .5 1.5 2.5 2.8-11.6 1.5 .1 3 8.8 1.5-.2 5.8-7.6 8.8-5.5 1.4-5.7 1.3-13.9 1.5-.4 3.2 24 1.4 .1 2.8-17.1 1.4-13.4 1.5 .5 1.6 11.9 1.4 .7 3.1 14.3 1.4 .8 1.5-.9 1.5 1.7 3 9 1.4-1.2 2.9-12 1.5 3.7 1.5 7.8 1.5 1.5 2.9-2.8 3 3.3 1.4-1.4 2.9-8.5 3-2.8 2.9-8.6 1.5 3.3 1.5 7.7 1.4 1.2 1.5-1.2 1.5-7.7 1.5-3.3 2.9 8.6 2.9 2.8 3 8.5 1.4 1.4 3-3.3 2.9 2.8 1.5-1.5 1.5-7.8 1.4-3.7 2.9 12 1.5 1.2 3-9 1.5-1.7 1.4 .9 1.5-.8 3-14.3 1.5-.7 1.6-11.9 1.4-.5 1.4 13.4 2.8 17.1 1.5-.1 3.2-24 1.4 .4 1.4 13.9 1.4 5.7 8.8 5.5 5.8 7.6 1.4 .2 3.1-8.8 1.4-.1 2.8 11.6 1.5-2.5 1.5-.5 2.9 5.3 7.2 8.6 4.4 .8 5.8 3.4 0 1.4z"/><path transform="matrix(1 0 0 1.0108 0 481.88)" d="M1011 0l0-1.8 3-.7 4.3-4.8 4.4 1.7 1.5-.8 1.4-2.6 2.8-9.8 1.5 .4 3 7.1 1.4-1.7 2.8-14.2 1.5-1.2 3 11.6 3 .6 1.4-5.2 2.7-22.5 1.5 0 3.1 17.9 1.5 1.8 1.4-6 2.7-28.9 1.5 2 1.6 15.7 1.5 3.2 2.8-11.5 1.5 .2 1.6 8.8 3 11 2.8-15.8 1.5-.5 4.6 24.5 1.4 1.2 4.4-17.5 4.5 18.6 2.8-15.9 1.5-3.5 3 15 1.5 3.4 1.4 .3 1.5-1.7 1.5-4.9 2.9-24.7 1.4-1.9 1.5 12.4 1.5 5.5 1.5-.7 2.9-17.9 3 17.9 1.5 .7 1.4-5.5 1.5-12.4 1.5 1.9 2.9 24.7 1.5 4.9 1.4 1.7 1.5-.3 1.5-3.4 3-15 1.4 3.5 2.9 15.9 4.5-18.6 4.3 17.5 1.5-1.2 4.6-24.5 1.4 .5 2.9 15.8 3-11 1.5-8.8 1.5-.2 2.9 11.5 1.5-3.2 1.6-15.7 1.5-2 2.7 28.9 1.4 6 1.5-1.8 3.1-17.9 1.5 0 2.7 22.5 1.4 5.2 2.9-.6 3.1-11.6 1.5 1.2 2.7 14.2 1.5 1.7 3-7.1 1.5-.4 2.8 9.8 1.4 2.6 1.5 .8 4.4-1.7 4.3 4.8 2.9 .7 0 1.8z"/><path transform="matrix(1 0 0 1.0115 0 483.19)" d="M1009.5 0l0-1.8 2.9-3.3 1.4-.7 3 1.5 1.4-.7 4.3-5.9 1.5-.9 4.4 1.9 1.5-1.2 4.3-9.3 1.5 .9 1.4-.3 2.9-3.4 2.9-1.5 2.9-6.1 1.5 .3 1.5 1.5 1.4-2 4.3-19.6 1.5 1.1 3 11 1.5 .5 4.2-23.3 1.5-2.6 3.1 17.4 1.4-.8 4.6 23.2 1.5 1.1 2.9-6.7 1.5-1 2.9 3.6 1.5 .5 3-2.1 1.4-3.8 1.5-1 2.9 6.8 4.5-5.4 1.4 1.6 1.5 .2 2.9-8.4 1.5 1.2 1.5 4.2 1.5 .4 2.9-24.9 1.5 1 1.5 11.8 1.4 1.5 1.5-1.5 1.5-11.8 1.5-1 2.9 24.9 1.5-.4 1.5-4.2 1.4-1.2 3 8.4 1.4-.2 1.5-1.6 4.4 5.4 3-6.8 1.5 1 1.4 3.8 3 2.1 1.4-.5 3-3.6 1.5 1 2.9 6.7 1.4-1.1 4.6-23.2 1.5 .8 3.1-17.4 1.4 2.6 4.3 23.3 1.5-.5 3-11 1.5-1.1 4.2 19.6 1.5 2 1.5-1.5 1.4-.3 2.9 6.1 2.9 1.5 3 3.4 1.4 .3 1.5-.9 4.3 9.3 1.4 1.2 4.5-1.9 1.4 .9 4.3 5.9 1.5 .7 3-1.5 1.4 .7 2.9 3.3 0 1.8z"/><path transform="matrix(1 0 0 1.0123 0 484.49)" d="M1005 0l0-1.7 10.2-4.4 2.9 0 1.5-.9 2.8-6.6 1.5-.8 1.5 2.5 2.9-4.8 2.9 2.6 2.9-7.8 3 4.5 1.5 1.1 1.4-5.8 2.6-26.1 1.5 3.1 3.2 18.3 1.4-1 1.5-3.9 2.7-27.3 1.4-8 3.1 23.4 1.6 5.2 1.4-2.4 2.8-19.8 1.5 2.2 1.5 7.9 1.5 1 1.5 3.7 1.5 .6 4.6 22.7 1.5 3 1.5-.2 1.4-4.3 2.9-14.9 1.5 4.3 1.5 9.2 1.5 2.1 4.3-16.5 4.5 15 1.5-1.2 4.3-36.5 3 24.4 1.5 6.2 1.5-1.9 2.9-12.6 1.5-2.2 1.5-.4 2.9-10.9 3 10.9 1.5 .4 1.4 2.2 3 12.6 1.5 1.9 1.4-6.2 3.1-24.4 4.3 36.5 1.5 1.2 4.4-15 4.4 16.5 1.5-2.1 1.5-9.2 1.5-4.3 2.9 14.9 1.4 4.3 1.5 .2 1.5-3 4.5-22.7 1.5-.6 1.5-3.7 1.5-1 1.6-7.9 1.5-2.2 2.8 19.8 1.4 2.4 1.5-5.2 3.2-23.4 1.4 8 2.7 27.3 1.4 3.9 1.5 1 3.1-18.3 1.6-3.1 2.6 26.1 1.4 5.8 1.5-1.1 3-4.5 2.8 7.8 3-2.6 2.9 4.8 1.5-2.5 1.4 .8 2.9 6.6 1.4 .9 3 0 10.2 4.4 0 1.7z"/><path transform="matrix(1 0 0 1.0130 0 485.80)" d="M1003.4 0l0-1.4 4.4-4 1.4-.2 3 1.4 1.5-.2 1.4-1.5 2.8-6.5 1.5-.2 1.5 2.7 1.5 .5 2.8-7.4 3-.2 1.5 .9 3 4.7 1.4-.6 1.5-4 2.7-17.8 1.4-2.4 1.6 5.3 1.5 1 4.2-17 1.4-3.1 1.5-.9 1.5 3.8 3 4.5 1.5-3.2 2.7-27 3.2 30.2 1.5 4.5 2.9-14.9 1.5 1.7 3.1 21 1.5 4.3 2.9-4.7 1.5 .5 4.5 8 1.4 1.3 2.9-19.1 1.5-3.9 3 17.9 1.5 1.8 4.3-22.4 1.5-3.8 3 5.5 1.4-1.4 1.5-8 1.5-3.2 1.5-.3 1.4 4.7 3 16 1.5-1.5 3-22.9 1.4-6.3 1.5 6.3 3 22.9 1.4 1.5 3-16 1.5-4.7 1.5 .3 1.5 3.2 1.4 8 1.5 1.4 3-5.5 1.4 3.8 4.4 22.4 1.5-1.8 3-17.9 1.5 3.9 2.8 19.1 1.5-1.3 4.5-8 1.5-.5 2.9 4.7 1.5-4.3 3.1-21 1.5-1.7 2.8 14.9 1.5-4.5 3.3-30.2 2.7 27 1.4 3.2 3-4.5 1.6-3.8 1.4 .9 1.5 3.1 4.2 17 1.5-1 1.5-5.3 1.5 2.4 2.7 17.8 1.4 4 1.5 .6 3-4.7 1.5-.9 2.9 .2 2.9 7.4 1.4-.5 1.6-2.7 1.4 .2 2.9 6.5 1.4 1.5 1.5 .2 2.9-1.4 1.5 .2 4.3 4 0 1.4z"/><path transform="matrix(1 0 0 1.0137 0 487.11)" d="M998.9 0l0-1.5 5.8-2.1 3-.3 7.3-4.5 5.8-1.7 1.5-2.8 1.4-1.3 3 .4 1.4-2.1 1.5-.1 3 2.5 1.4-1.3 4.3-15.4 1.4-2.8 1.5 .4 1.5 1.6 1.4-1.1 2.6-33.8 1.4-7.9 3.3 29.3 2.6-35.3 1.5-3.4 3.2 32.5 2.9-18.9 1.5 8.9 3.2 29.8 1.5 2.8 2.9-4.9 1.5-.3 1.5 1.7 1.5-1.2 1.4-5.4 1.5 3.6 1.5 8.4 1.5 1.8 3-3.7 1.4-.9 2.9-6.3 1.5-1.2 1.5 2.3 1.5 .8 4.3-33.8 3.1 23.1 1.4 .2 4.4-25.6 1.5-.2 1.5 3 4.5 15.5 1.5 7.7 1.4 3.5 1.5-3.5 1.5-7.7 4.5-15.5 1.4-3 1.5 .2 4.4 25.6 1.5-.2 3-23.1 4.4 33.8 1.5-.8 1.4-2.3 1.5 1.2 2.9 6.3 1.5 .9 2.9 3.7 1.5-1.8 1.6-8.4 1.5-3.6 1.4 5.4 1.5 1.2 1.5-1.7 1.4 .3 3 4.9 1.5-2.8 3.2-29.8 1.5-8.9 2.8 18.9 3.3-32.5 1.4 3.4 2.7 35.3 3.2-29.3 1.4 7.9 2.6 33.8 1.5 1.1 1.5-1.6 1.5-.4 1.4 2.8 4.2 15.4 1.5 1.3 3-2.5 1.5 .1 1.4 2.1 2.9-.4 1.5 1.3 1.4 2.8 5.9 1.7 7.3 4.5 2.9 .3 5.9 2.1 0 1.5z"/><path transform="matrix(1 0 0 1.0144 0 488.43)" d="M997.3 0l0-1.8 4.4-3.1 1.5-.3 2.9 1.3 3-.6 4.3-7.3 1.4 .8 1.6 2.6 1.4-.1 1.5-1.6 1.4-.4 2.9-6.5 4.5 7.7 1.5-2.2 2.7-14.9 1.5-3.8 3 10.1 1.5 1.9 1.5-3.2 1.3-10 2.6-30.7 1.6 6.8 1.6 14.5 1.5 2.4 2.7-31.3 1.4-5 1.5 .3 1.4-6.6 3.3 32.7 1.5-3.6 1.5 .7 1.5 3.1 4.6 20.4 1.5 2.5 4.3-18.2 3 16 1.5-.8 1.4-11.1 1.5-4.6 3 16.7 1.5 4 1.5-.2 1.5-4.7 4.2-43.2 3.1 29.2 1.5 6 2.9-37.1 1.4-8.6 3.1 28.6 4.4-33.4 1.5 3.8 3 37 1.5 5.9 1.4 1.2 1.5-1.2 1.5-5.9 3-37 1.5-3.8 4.4 33.4 3-28.6 1.5 8.6 2.9 37.1 1.5-6 3-29.2 4.3 43.2 1.5 4.7 1.4 .2 1.5-4 3.1-16.7 1.4 4.6 1.5 11.1 1.4 .8 3.1-16 4.3 18.2 1.5-2.5 4.6-20.4 1.5-3.1 1.5-.7 1.4 3.6 3.3-32.7 1.4 6.6 1.5-.3 1.5 5 2.6 31.3 1.5-2.4 1.7-14.5 1.5-6.8 2.6 30.7 1.4 10 1.4 3.2 1.5-1.9 3.1-10.1 1.4 3.8 2.8 14.9 1.4 2.2 4.6-7.7 2.8 6.5 1.5 .4 1.4 1.6 1.5 .1 1.5-2.6 1.5-.8 4.3 7.3 2.9 .6 3-1.3 1.5 .3 4.3 3.1 0 1.8z"/><path transform="matrix(1 0 0 1.0151 0 489.74)" d="M995.7 0l0-1.7 2.9-2.8 1.5-.3 3 .7 5.8-3.7 3 .5 4.3-4.6 1.5 .9 1.5-1 2.9 1.5 1.5-.1 7.3-8.7 2.9-4.6 1.4-1.6 3-1.1 4.3-11.5 2.9-4.3 2.8-9.8 1.5 1.1 2.9-5.5 2.9-14.8 3.2 27.3 1.6 10.3 1.5 4.3 1.5 .1 1.4-3.6 2.9-11.4 1.5 .9 3.1 15.1 1.5 2.9 2.8-19.1 1.5-3.1 3 16.3 3-5.1 1.4 1.2 1.5 .3 2.9-10.6 3-5 1.4-8 3-6.1 3 11.3 1.5-2 2.9-30.9 1.5 3.6 3 28.7 1.5-.3 1.5-6.9 1.5-1.3 1.4 1.9 1.5-7.3 1.5 7.3 1.5-1.9 1.5 1.3 1.5 6.9 1.5 .3 3-28.7 1.5-3.6 2.9 30.9 1.5 2 3-11.3 2.9 6.1 1.5 8 2.9 5 2.9 10.6 1.5-.3 1.5-1.2 2.9 5.1 3.1-16.3 1.5 3.1 2.8 19.1 1.5-2.9 3.1-15.1 1.5-.9 2.8 11.4 1.5 3.6 1.5-.1 1.5-4.3 1.6-10.3 3.2-27.3 2.8 14.8 2.9 5.5 1.5-1.1 2.9 9.8 2.9 4.3 4.3 11.5 2.9 1.1 1.5 1.6 2.9 4.6 7.3 8.7 1.4 .1 3-1.5 1.5 1 1.5-.9 4.3 4.6 3-.5 5.8 3.7 3-.7 1.4 .3 2.9 2.8 0 1.7z"/><path transform="matrix(1 0 0 1.0159 0 491.06)" d="M992.7 0l0-1.8 7.3-1.9 4.4-3 2.9-4 1.5 .4 1.5 1.9 2.8-6.2 1.5 .3 1.5 1.6 1.5 0 1.4-1.1 3.1 3.6 1.4 .6 1.5-2.1 2.8-13.3 1.4-1.9 3.1 9.4 1.5 1 1.4-6.2 2.6-25.8 1.5 2.4 1.7 12.3 1.5 1.9 2.9-6.9 2.7-20.3 3.1 10.2 1.5 0 2.9-8.2 1.5 4.2 3.1 18.9 1.6 5.6 1.4 .9 1.5-3.3 2.9-12.5 1.4-.8 1.6 5.6 1.5 1.1 1.4 0 3 1.9 1.5-.9 1.5-3 1.4-.3 1.5 2.8 1.5-3.6 2.8-30.8 3.1 27.2 1.5 7.7 1.5-6.1 2.9-28.1 1.4-7.6 4.6 16.4 2.9-14.9 1.5-1.2 4.5 29.5 1.5-9.7 2.9-45.3 1.5-8.4 1.5 8.4 3 45.3 1.5 9.7 4.5-29.5 1.5 1.2 2.9 14.9 4.5-16.4 1.5 7.6 2.9 28.1 1.4 6.1 1.5-7.7 3.1-27.2 2.9 30.8 1.4 3.6 1.5-2.8 1.5 .3 1.5 3 1.4 .9 3-1.9 1.5 0 1.5-1.1 1.5-5.6 1.5 .8 2.9 12.5 1.4 3.3 1.5-.9 1.5-5.6 3.2-18.9 1.5-4.2 2.9 8.2 1.5 0 3.1-10.2 2.7 20.3 2.9 6.9 1.5-1.9 1.6-12.3 1.5-2.4 2.7 25.8 1.4 6.2 1.5-1 3.1-9.4 1.4 1.9 2.8 13.3 1.4 2.1 1.5-.6 3-3.6 1.5 1.1 1.5 0 1.5-1.6 1.4-.3 2.9 6.2 1.5-1.9 1.5-.4 2.9 4 4.3 3 7.4 1.9 0 1.8z"/><path transform="matrix(1 0 0 1.0166 0 492.38)" d="M989.6 0l0-1.3 3-2.2 1.4-.2 3 .9 2.9-.7 4.3-6.4 1.5 .3 1.5 2.2 1.5 .3 2.9-5.4 1.5-.1 4.5 4.1 1.4 .2 1.5-2.3 2.8-9.7 1.5-.9 3 5.4 1.5-1.2 4.2-16.1 1.5-.2 1.5 3.8 1.5 .7 1.4-3.3 4.3-19.9 1.4-1.3 3.2 19.6 2.7-25.4 1.6 5.3 3.2 23.9 1.4-.4 2.9-12.7 1.5-2.5 1.5 2.5 4.5 16.2 1.5-5.1 2.8-24.1 1.5 2.4 3.1 20.6 1.5 3 1.5-4.4 4.2-43 3.1 24.7 1.5-1.8 2.9-12.4 3 15.7 1.5-.4 1.5-9.7 2.9-37.8 1.5 4.7 3 43.9 1.5 2.7 4.5-31.8 1.5-1.5 1.4-4.2 1.5-13.7 1.5-4.2 1.5 4.2 1.5 13.7 1.5 4.2 1.5 1.5 4.4 31.8 1.5-2.7 3.1-43.9 1.5-4.7 2.9 37.8 1.5 9.7 1.4 .4 3.1-15.7 2.9 12.4 1.5 1.8 3.1-24.7 4.2 43 1.5 4.4 1.5-3 3.1-20.6 1.5-2.4 2.8 24.1 1.4 5.1 4.6-16.2 1.5-2.5 1.5 2.5 2.8 12.7 1.5 .4 3.2-23.9 1.5-5.3 2.8 25.4 3.1-19.6 1.5 1.3 4.2 19.9 1.5 3.3 1.5-.7 1.5-3.8 1.5 .2 4.2 16.1 1.5 1.2 3-5.4 1.5 .9 2.8 9.7 1.4 2.3 1.5-.2 4.5-4.1 1.5 .1 2.8 5.4 1.5-.3 1.5-2.2 1.5-.3 4.3 6.4 3 .7 2.9-.9 1.5 .2 2.9 2.2 0 1.3z"/><path transform="matrix(1 0 0 1.0173 0 493.70)" d="M986.6 0l0-1.4 2.9-1.1 3 .3 7.3-3.4 4.4 .2 1.5-.5 2.9-3.6 4.4-2.9 4.5 3.4 1.4-1.3 4.3-9.8 1.5-.6 3 2.5 1.5-.7 4.2-19.2 1.5 2.5 1.5 7.1 1.5-3.4 4.2-21.7 1.5 3.8 1.6 9.1 1.5 .3 3.1 10.4 1.5 2.6 1.5-1.9 1.4-4.2 1.5-1.2 3 3.5 2.8-17.1 1.5-.2 1.5 9 1.5 2.5 3-2.4 3 3.8 1.5-3.7 2.8-12.6 6-7.9 2.9 1 1.5-8.6 3-4.3 1.4-5 3.1 13.6 1.5-1.7 1.4-.1 3 8.3 1.5-4.3 1.5-9 1.5-.6 1.5 8.3 1.5 1.8 1.5-4.5 2.9-39.6 3 38.2 1.5 1.2 1.5-1.2 3-38.2 3 39.6 1.5 4.5 1.5-1.8 1.5-8.3 1.5 .6 1.4 9 1.5 4.3 3-8.3 1.5 .1 1.5 1.7 3-13.6 1.5 5 3 4.3 1.4 8.6 3-1 5.9 7.9 2.9 12.6 1.5 3.7 3-3.8 2.9 2.4 1.5-2.5 1.6-9 1.5 .2 2.8 17.1 3-3.5 1.5 1.2 1.4 4.2 1.5 1.9 1.5-2.6 3.1-10.4 1.5-.3 1.5-9.1 1.6-3.8 4.2 21.7 1.4 3.4 1.6-7.1 1.5-2.5 4.2 19.2 1.5 .7 3-2.5 1.4 .6 4.3 9.8 1.5 1.3 4.5-3.4 4.4 2.9 2.9 3.6 1.4 .5 4.5-.2 7.3 3.4 3-.3 2.9 1.1 0 1.4z"/><path transform="matrix(1 0 0 1.0180 0 495.03)" d="M986.5 0l0-1.8 7.3-1 1.5-.8 2.9-4 1.5 .3 3 2.7 1.4 .1 1.5-1 4.3-6 3 2.5 1.5-.4 2.8-9.5 1.5-1.1 3 6.1 1.5 1 1.5-1.9 4.1-22.3 3.2 13 1.5 3.8 1.4-4.7 2.8-19.5 1.5 3.4 1.5 .4 1.6 9.2 1.4-3 1.4-8.3 1.5 .8 3.2 17.3 1.5 4.3 1.5 1.1 1.4-3 2.8-20 1.5-3.2 3.1 18.4 1.5-5.9 2.7-28.6 4.7 26.8 1.4-8.9 1.5-1.7 1.5-.4 2.7-45.2 1.5 .5 3.2 41.2 1.5-1.6 2.8-31.4 1.5-4.8 1.5 8.8 3-7.6 1.4-11.3 1.5 2.8 3.2 41.7 1.5 7.7 1.5 .7 1.4-11.4 2.9-55.9 1.5-6.4 1.5 11.8 3.1 52.7 1.4-13.5 3-48 3 48 1.5 13.5 3-52.7 1.6-11.8 1.5 6.4 2.9 55.9 1.4 11.4 1.5-.7 1.5-7.7 3.1-41.7 1.5-2.8 1.5 11.3 3 7.6 1.5-8.8 1.5 4.8 2.8 31.4 1.5 1.6 3.2-41.2 1.5-.5 2.7 45.2 1.5 .4 1.5 1.7 1.4 8.9 4.7-26.8 2.7 28.6 1.4 5.9 3.2-18.4 1.4 3.2 2.8 20 1.5 3 1.5-1.1 1.5-4.3 3.1-17.3 1.5-.8 1.4 8.3 1.5 3 1.6-9.2 1.5-.4 1.5-3.4 2.7 19.5 1.5 4.7 1.5-3.8 3.1-13 4.2 22.3 1.4 1.9 1.5-1 3.1-6.1 1.4 1.1 2.9 9.5 1.4 .4 3-2.5 4.4 6 1.4 1 1.5-.1 3-2.7 1.5-.3 2.9 4 1.4 .8 7.4 1 0 1.8z"/><path transform="matrix(1 0 0 1.0187 0 496.35)" d="M980.4 0l0-1.2 3-1.1 2.9 .6 3-.2 4.4-3.5 1.4-.1 1.5 1.1 1.5-.3 1.5-1.8 4.4-1.4 4.5 1.7 1.4-.3 1.5-2.1 2.8-8.9 1.5-1.1 1.5 .8 1.4-.9 3 1.6 1.5-.6 2.9-6.8 1.4-1.8 3-.3 2.9-4 1.5 .5 1.5-1.9 1.5 1.9 1.4-3.6 1.4-8.9 1.5 2.9 3.2 18.5 1.5 .1 2.9-6 3 1.3 4.4 .7 1.5-1.4 2.8-20.3 1.5 .6 1.6 8.6 1.5 .8 2.8-14.4 1.5-2 1.5 .1 2.9-12.6 1.5-.4 1.5 7.3 1.5 .1 2.8-36.7 1.5 5.4 3.2 34.6 2.9-26.1 1.4-21.3 1.5 7.3 1.6 25.7 1.5 9.1 3-5.6 1.5 5.6 1.5 0 5.9-47.6 1.5 1.5 1.5 16.8 1.5 5.9 3 6.6 1.5-.9 1.5 .9 3-6.6 1.5-5.9 1.6-16.8 1.5-1.5 5.9 47.6 1.5 0 1.5-5.6 2.9 5.6 1.6-9.1 1.6-25.7 1.5-7.3 1.4 21.3 2.9 26.1 3.1-34.6 1.6-5.4 2.8 36.7 1.4-.1 1.6-7.3 1.5 .4 2.9 12.6 1.5-.1 1.4 2 2.9 14.4 1.5-.8 1.6-8.6 1.5-.6 2.8 20.3 1.4 1.4 4.5-.7 3-1.3 2.9 6 1.5-.1 3.1-18.5 1.6-2.9 1.4 8.9 1.4 3.6 1.5-1.9 1.5 1.9 1.5-.5 2.9 4 2.9 .3 1.5 1.8 2.9 6.8 1.5 .6 2.9-1.6 1.5 .9 1.5-.8 1.5 1.1 2.8 8.9 1.4 2.1 1.5 .3 4.5-1.7 4.4 1.4 1.4 1.8 1.5 .3 1.5-1.1 1.5 .1 4.4 3.5 2.9 .2 3-.6 2.9 1.1 0 1.2z"/><path transform="matrix(1 0 0 1.0195 0 497.68)" d="M981.8 0l0-1.7 7.4-1 4.4-1.6 2.9 0 3-2.7 2.9-.7 1.5-1.1 4.5 2.4 1.4-1.2 4.3-8.6 1.5-1.2 3 1.4 1.4-2.5 2.8-16.1 3.1 11.1 4.3-12.5 1.4-2.4 1.5 .6 3.1 9.2 4.5 .6 3 2 3.1 7.4 1.5 1.4 4.2-18.4 3.1 13.2 1.5 .3 5.8-18.4 1.5-.8 3 4.8 1.4-10.8 2.6-52.9 1.6 7.3 1.6 26.1 2.9-27.9 1.5 1.1 1.6 13.7 1.5 3.1 1.5 1.5 2.9-8.4 4.6 25.8 1.5-1.5 1.5-6.3 1.5-.2 1.5-9.2 1.4-20.2 1.5-8.4 1.5 1.5 3.1 27.5 1.5 8.6 1.5 3 1.5-4.9 2.9-44 3 44.7 1.5 10.6 1.5-10.6 3.1-44.7 2.9 44 1.5 4.9 1.5-3 1.5-8.6 3.1-27.5 1.5-1.5 1.5 8.4 1.4 20.2 1.5 9.2 1.5 .2 1.4 6.3 1.5 1.5 4.6-25.8 3 8.4 1.5-1.5 1.5-3.1 1.6-13.7 1.5-1.1 2.8 27.9 1.7-26.1 1.5-7.3 2.7 52.9 1.4 10.8 3-4.8 1.5 .8 5.8 18.4 1.4-.3 3.1-13.2 4.3 18.4 1.5-1.4 3.1-7.4 3-2 4.4-.6 3.1-9.2 1.5-.6 1.5 2.4 4.3 12.5 3.1-11.1 2.7 16.1 1.5 2.5 3-1.4 1.4 1.2 4.3 8.6 1.5 1.2 4.5-2.4 1.5 1.1 2.9 .7 2.9 2.7 3 0 4.4 1.6 7.4 1 0 1.7z"/><path transform="matrix(1 0 0 1.0202 0 499.01)" d="M975.7 0l0-1.4 3-.8 4.4 .7 4.4-3.2 1.5-.2 3 2 3-.2 4.3-4.3 3.1 2.5 1.4 .1 1.5-1.7 2.8-6.8 1.5-.7 3 3.8 1.5 .3 1.5-1.7 1.4-5.3 2.7-15.2 3.1 8.6 1.5-.6 1.4-4 2.8-14.6 1.5-3.8 1.5 5.5 1.7 12.9 2.9-9 4.7 19.5 1.5 1.6 1.4-2 2.9-9.2 1.5-1.2 3 9 1.5 .3 2.8-17.5 1.5-1.9 3.1 13.8 1.5 1.7 1.5-3.5 1.4-9.2 2.7-34.9 1.5-4.4 1.5 11.5 1.6 3.9 1.4-5.9 1.4-21.1 1.4-9.2 1.6 11.2 2.8-30.4 1.5 2.6 3.2 26.5 1.5-6.6 4.6 43.1 1.6 4.9 4.2-67.1 1.5-14.2 1.5-2.6 1.5 10.8 3.1 39.6 1.5-4.7 1.5 1.6 3.1 21.5 1.5 5.2 2.9-60.2 1.5-9.8 1.5 9.8 3 60.2 1.5-5.2 3-21.5 1.5-1.6 1.5 4.7 3.1-39.6 1.6-10.8 1.5 2.6 1.4 14.2 4.3 67.1 1.5-4.9 4.7-43.1 1.5 6.6 3.1-26.5 1.5-2.6 2.9 30.4 1.5-11.2 1.5 9.2 1.3 21.1 1.5 5.9 1.5-3.9 1.6-11.5 1.5 4.4 2.7 34.9 1.4 9.2 1.5 3.5 1.5-1.7 3.1-13.8 1.4 1.9 2.8 17.5 1.5-.3 3.1-9 1.5 1.2 2.8 9.2 1.5 2 1.5-1.6 4.7-19.5 2.9 9 1.6-12.9 1.6-5.5 1.4 3.8 2.8 14.6 1.4 4 1.5 .6 3.1-8.6 2.8 15.2 1.4 5.3 1.4 1.7 1.5-.3 3.1-3.8 1.4 .7 2.9 6.8 1.4 1.7 1.5-.1 3-2.5 4.4 4.3 3 .2 3-2 1.4 .2 4.4 3.2 4.5-.7 2.9 .8 0 1.4z"/><path transform="matrix(1 0 0 1.0209 0 500.35)" d="M971.2 0l0-1.4 1.4-.6 3 .2 0 1.8zM978.6 0l0-1.7 4.4-1.3 7.4-.8 2.9-1.1 1.5 .7 4.5-.6 5.9-3.4 4.3-5.1 3 1.3 1.5-.6 2.9-6.1 1.4-2 3-1.6 2.9-4.6 4.3-9 1.6 8 3.1 3 3 6 1.5-.5 1.5-1.6 1.5 .2 1.5 1.9 1.5 .5 4.3-6.7 1.5 1.5 3-1.6 1.5 .6 4.4-7.7 1.5 .3 1.5 1.8 1.5-1.5 4.2-30.5 1.5-3.5 1.5 3.9 3-7.4 2.8-20.1 3.1 9.7 2.8-42.2 1.5 2.9 3.3 51.3 1.5 12.7 1.5-8.9 1.5-3.7 1.5 1.9 1.5-2 2.8-38.6 1.5-5.3 1.5 4.7 3.1 22.1 1.5-3.2 1.5-13.9 1.5 12.4 1.5 23.2 1.5 9.2 6-56.7 6 56.7 1.5-9.2 1.6-23.2 1.5-12.4 1.5 13.9 1.5 3.2 3-22.1 1.5-4.7 1.5 5.3 2.9 38.6 1.5 2 1.5-1.9 1.5 3.7 1.5 8.9 1.5-12.7 3.3-51.3 1.5-2.9 2.8 42.2 3-9.7 2.9 20.1 3 7.4 1.5-3.9 1.5 3.5 4.2 30.5 1.5 1.5 1.5-1.8 1.5-.3 4.4 7.7 1.5-.6 2.9 1.6 1.5-1.5 4.4 6.7 1.5-.5 1.5-1.9 1.5-.2 1.5 1.6 1.5 .5 3-6 3-3 1.6-8 4.4 9 2.9 4.6 2.9 1.6 1.5 2 2.9 6.1 1.4 .6 3-1.3 4.4 5.1 5.9 3.4 4.4 .6 1.5-.7 3 1.1 7.4 .8 4.4 1.3 0 1.7zM1257.5 0l0-1.8 2.9-.2 1.5 .6 0 1.4z"/><path transform="matrix(1 0 0 1.0217 0 501.68)" d="M969.5 0l0-1.6 4.5-.9 4.4 .3 4.4-2.3 6 2.1 4.4-4.1 4.5 2.9 1.5-.2 1.5-1.4 2.8-6 1.5-.6 3 3.9 1.5-.6 4.2-15.9 4.7 11.2 1.4-1.4 4.3-16.5 3 5.9 2.9-8.3 1.5 3.5 3.2 13.6 1.5 2.3 1.5 .4 1.5-1.7 2.8-11.2 1.5-.7 3.1 11.3 1.5-1.4 2.8-14.5 1.5-.9 3.1 10.6 1.5 0 1.4-4.2 2.7-28.7 1.5-7.4 3.1 18.5 1.5-1.7 1.5-.3 2.7-45.7 1.5 .1 1.6 22 1.6 10.2 2.7-40.5 1.5-2.8 1.7 22.8 1.5 9.2 4.4-31.3 1.5-4.3 1.5 10.7 1.5-2.5 1.5-1.1 1.6 24.4 1.5 10 3-5.3 3-34.6 3 35.5 3-37.3 1.5-1.8 4.5 44.8 1.5 2.4 1.5-2.4 4.6-44.8 1.5 1.8 2.9 37.3 3.1-35.5 2.9 34.6 3 5.3 1.6-10 1.5-24.4 1.6 1.1 1.4 2.5 1.6-10.7 1.5 4.3 4.4 31.3 1.5-9.2 1.6-22.8 1.5 2.8 2.8 40.5 1.6-10.2 1.6-22 1.5-.1 2.7 45.7 1.5 .3 1.5 1.7 3.1-18.5 1.4 7.4 2.8 28.7 1.4 4.2 1.5 0 3.1-10.6 1.5 .9 2.8 14.5 1.5 1.4 3.1-11.3 1.5 .7 2.8 11.2 1.5 1.7 1.5-.4 1.5-2.3 3.1-13.6 1.6-3.5 2.8 8.3 3.1-5.9 4.2 16.5 1.5 1.4 4.6-11.2 4.2 15.9 1.5 .6 3.1-3.9 1.4 .6 2.9 6 1.5 1.4 1.4 .2 4.6-2.9 4.3 4.1 6-2.1 4.4 2.3 4.5-.3 4.4 .9 0 1.6z"/><path transform="matrix(1 0 0 1.0224 0 503.02)" d="M965 0l0-1.7 1.4-.5 7.5 0 4.4-2.8 4.5 2.3 5.9-2.1 4.5 1 5.8-3.3 4.5 .1 1.5-.7 4.3-6.7 3-.7 2.9-1.9 3-3.2 1.5 .2 3 3.9 1.5-2.2 2.8-12.8 4.6 13.9 1.5-1.8 1.5-.3 3 2.1 2.9-.8 3 .4 2.9-10.4 1.5 1 3.1 7.6 1.4-2.1 2.9-10.3 4.4-8.1 7.4-18.6 1.4-1.3 3.1 4 1.4-8.1 1.3-31.1 1.4-11.4 3.3 46.7 1.6 4.6 2.9-15.8 1.5 3.1 4-117.5 1.6 10.4 3.3 83.4 1.6 18.1 1.4-18.6 1.5-2.7 3.1 34.8 1.5 2.6 2.9-57.3 1.5-18.1 1.5-5.9 4.6 63.1 1.5 14.3 1.5 3.9 1.5-3.9 1.5-14.3 4.6-63.1 1.5 5.9 1.5 18.1 2.9 57.3 1.5-2.6 3.1-34.8 1.5 2.7 1.5 18.6 1.5-18.1 3.4-83.4 1.6-10.4 4 117.5 1.5-3.1 2.9 15.8 1.5-4.6 3.3-46.7 1.5 11.4 1.3 31.1 1.4 8.1 3-4 1.5 1.3 7.3 18.6 4.5 8.1 2.8 10.3 1.5 2.1 3.1-7.6 1.5-1 2.8 10.4 3-.4 3 .8 3-2.1 1.5 .3 1.4 1.8 4.7-13.9 2.8 12.8 1.5 2.2 3-3.9 1.5-.2 2.9 3.2 3 1.9 2.9 .7 4.4 6.7 1.5 .7 4.4-.1 5.9 3.3 4.5-1 5.9 2.1 4.5-2.3 4.4 2.8 7.4 0 1.5 .5 0 1.7z"/><path transform="matrix(1 0 0 1.0231 0 504.36)" d="M963.3 0l0-1.8 3-1.2 5.9 .4 5.9-2 6 1.1 4.4-1.7 4.5 1.5 1.5-.4 2.9-5 1.5-1.1 3 3.4 1.5 .4 1.5-1 4.3-9.7 1.5 1.5 1.5 3.2 2.9-7.9 1.4-2.6 1.5-.8 3.1 4.8 1.5-.2 1.5 .8 3 3.4 2.9-2.7 1.5-.4 1.5 1.4 1.5-1.4 1.4-6 1.5-1.4 3.1 10.5 1.5-.4 2.9-6.7 1.5-2.4 1.5-1.1 1.5 .8 3 3.2 1.4-3.5 2.8-26.7 1.4-3.6 1.6 11.2 1.6 3.3 2.8-13.5 1.4-12.1 1.5-5 1.5 4.7 1.5-3.4 1.5-1.5 1.5 3.3 3.1 .6 1.4-2 1.6 1.7 3.1 17.4 1.4-8.3 2.8-50 1.5 .9 1.4-29.2 1.5-11.5 1.5 7.8 3.3 61.3 1.4-7.9 1.5 1.5 3.1 19.5 1.5-2.9 2.9-45.2 1.5-2.4 3.1 24.1 1.5 7.3 1.5 .5 1.5-5.5 1.5-11.3 1.5 11.3 1.5 5.5 1.6-.5 3-16.9 1.5-14.5 1.5 2.4 3 45.2 1.5 2.9 3-19.5 1.5-1.5 1.5 7.9 3.3-61.3 1.5-7.8 1.5 11.5 1.4 29.2 1.5-.9 2.8 50 1.4 8.3 3.1-17.4 1.5-1.7 1.5 2 3-.6 1.5-3.3 1.5 1.5 1.5 3.4 1.6-4.7 1.4 5 1.4 12.1 2.9 13.5 1.5-3.3 1.6-11.2 1.5 3.6 2.7 26.7 1.5 3.5 3-3.2 1.5-.8 1.5 1.1 1.5 2.4 2.9 6.7 1.4 .4 3.2-10.5 1.4 1.4 1.4 6 1.5 1.4 1.5-1.4 1.5 .4 3 2.7 3-3.4 1.5-.8 1.5 .2 3-4.8 1.5 .8 1.5 2.6 2.8 7.9 1.6-3.2 1.5-1.5 4.3 9.7 1.5 1 1.5-.4 3-3.4 1.5 1.1 2.8 5 1.5 .4 4.5-1.5 4.4 1.7 6-1.1 5.9 2 6-.4 2.9 1.2 0 1.8z"/><path transform="matrix(1 0 0 1.0238 0 505.71)" d="M958.7 0l0-1.4 3-1.7 4.5 1 5.8-3.4 6.1 2.4 1.4-.3 3-2.8 1.4-.6 3.1 2.9 1.5 .6 1.4-.7 2.9-4 1.5-.4 3.1 2.9 1.4-.5 1.5-1.8 2.9-5.1 1.5-.1 3 3.5 1.5 .5 1.5-2.3 2.8-8.2 1.5 .9 1.5-1.5 1.6 4.3 2.8-7.9 1.6 2.5 3.1 9.5 1.5 1.3 1.5-.1 1.4-1.6 2.9-10.2 1.5-1.3 3.1 8 2.8-10.5 1.5 .6 3.1 8.4 1.5-.6 2.9-6 2.8-18.5 1.5-1.6 3.1 12.4 1.5-.7 2.7-28.1 1.5-1.3 1.6 9.3 4.4-19.8 1.3-18.4 1.6 7.7 1.7 21.9 1.5 10.2 1.6 5.1 1.4-2 1.5-10 2.8-33.2 1.5 .2 1.6 16.2 1.6 7.1 1.4-2.4 3-22.8 3 5.9 3-7.4 1.5-.6 3-9.8 1.5-2 3.1 44.1 3-8.7 1.5-9.8 4.5-48 1.5-5.4 1.6 5.4 4.5 48 1.5 9.8 3 8.7 3.1-44.1 1.5 2 3 9.8 1.5 .6 3 7.4 3-5.9 2.9 22.8 1.5 2.4 1.6-7.1 1.5-16.2 1.6-.2 2.8 33.2 1.4 10 1.5 2 1.5-5.1 1.6-10.2 1.7-21.9 1.5-7.7 1.4 18.4 4.4 19.8 1.5-9.3 1.5 1.3 2.8 28.1 1.5 .7 3.1-12.4 1.5 1.6 2.8 18.5 2.9 6 1.5 .6 3-8.4 1.6-.6 2.8 10.5 3.1-8 1.5 1.3 2.8 10.2 1.5 1.6 1.5 .1 1.5-1.3 3.1-9.5 1.5-2.5 2.9 7.9 1.6-4.3 1.4 1.5 1.5-.9 2.9 8.2 1.4 2.3 1.5-.5 3.1-3.5 1.5 .1 2.9 5.1 1.4 1.8 1.5 .5 3-2.9 1.5 .4 2.9 4 1.5 .7 1.5-.6 3-2.9 1.5 .6 2.9 2.8 1.5 .3 6-2.4 5.9 3.4 4.5-1 2.9 1.7 0 1.4z"/><path transform="matrix(1 0 0 1.0246 0 507.05)" d="M955.6 0l0-1.4 11.9-2.2 4.4-2.3 1.5 .5 1.5-1.5 1.5-.1 3 2.2 5.9-.5 8.9-2.6 4.5 .7 1.5-1 2.9-5.7 1.5 .4 1.5 2.4 7.4-1.4 2.9-6.1 1.5 1.4 1.6 4.3 1.5 2 3-2.5 1.5-.3 3 1.5 2.9-1.6 3-.4 2.9-10.1 1.5 .5 1.5 2.1 1.5-1.3 1.5 0 1.5 1.7 4.4-7.3 2.9-12.6 1.5 0 1.5 4.3 1.5-1.3 5.9-11.2 2.9-15.4 3 4.8 1.6 5.1 1.4-2.3 1.5-6.7 1.5 1.4 1.5-1.2 1.4-15.7 1.5-7.5 1.5-2.5 1.5 5.1 1.5-.6 3.1 17.1 1.5-1.1 2.9-32.9 1.5 6.3 1.6 21.6 1.5-24.8 2.7-96.9 1.6 6.8 3.2 101 1.6 21.5 1.5-1.7 1.5 1.1 1.5-.2 4.5-60 1.5-11.5 1.5-3 1.6 3 1.5 11.5 4.5 60 1.5 .2 1.5-1.1 1.5 1.7 1.5-21.5 3.3-101 1.6-6.8 2.7 96.9 1.4 24.8 1.6-21.6 1.6-6.3 2.8 32.9 1.5 1.1 3.1-17.1 1.6 .6 1.5-5.1 1.5 2.5 1.5 7.5 1.4 15.7 1.5 1.2 1.5-1.4 1.4 6.7 1.5 2.3 1.6-5.1 3-4.8 2.9 15.4 5.9 11.2 1.5 1.3 1.5-4.3 1.5 0 2.9 12.6 4.4 7.3 1.5-1.7 1.5 0 1.5 1.3 1.5-2.1 1.5-.5 2.8 10.1 3 .4 3 1.6 3-1.5 1.5 .3 2.9 2.5 1.6-2 1.5-4.3 1.5-1.4 2.9 6.1 7.5 1.4 1.5-2.4 1.5-.4 2.9 5.7 1.4 1 4.5-.7 8.9 2.6 6 .5 3-2.2 1.5 .1 1.5 1.5 1.5-.5 4.4 2.3 11.8 2.2 0 1.4z"/><path transform="matrix(1 0 0 1.0253 0 508.40)" d="M955.5 0l0-1.7 7.4-.8 4.4-4.2 3 2.8 4.4-4.4 3 .8 3.1 2.9 2.9 .2 1.5-1.3 2.9-5.4 1.5 .4 3.1 4.5 1.5 .3 4.3-8.7 4.6 7.5 1.5-1.7 2.8-8.1 3 2.8 1.6 4.1 2.9-2.5 1.5-.1 3 1.2 3.1 3 1.5-.4 2.8-8.2 1.5-.9 3.1 7.3 1.5-.7 2.9-6 2.9-4 1.5-.1 1.6 1.6 1.4-1.2 2.8-18.3 1.5-2.1 1.6 6.6 2.9-6.4 3-3.6 1.4-12.6 1.5 2.8 1.6 12.7 1.5 1.8 1.5-6 2.8-22.3 1.5 4.4 3.2 20.2 1.5-2 4.2-49.3 1.4-11.9 1.5-1.7 4.8 40.5 1.4-10 1.4-29.3 1.5-.9 3.3 53.3 1.5-4.6 2.8-56.1 1.5-.7 1.4-27.5 1.6 1.4 1.5 6.2 3.1 41.5 1.6 11.3 1.4-14.4 1.6 1.4 1.5 21.3 1.5-8.6 3-30.7 1.5-5.8 1.6 5.8 3 30.7 1.5 8.6 1.5-21.3 1.5-1.4 1.5 14.4 1.5-11.3 3.2-41.5 1.5-6.2 1.5-1.4 1.5 27.5 1.5 .7 2.8 56.1 1.5 4.6 3.2-53.3 1.6 .9 1.3 29.3 1.5 10 4.8-40.5 1.5 1.7 1.4 11.9 4.2 49.3 1.5 2 3.1-20.2 1.6-4.4 2.8 22.3 1.4 6 1.6-1.8 1.6-12.7 1.5-2.8 1.4 12.6 3 3.6 2.9 6.4 1.6-6.6 1.4 2.1 2.8 18.3 1.5 1.2 1.5-1.6 1.5 .1 3 4 2.9 6 1.5 .7 3-7.3 1.5 .9 2.9 8.2 1.5 .4 3-3 3-1.2 1.5 .1 3 2.5 1.5-4.1 3.1-2.8 2.8 8.1 1.5 1.7 4.6-7.5 4.3 8.7 1.5-.3 3.1-4.5 1.5-.4 2.9 5.4 1.4 1.3 3-.2 3.1-2.9 3-.8 4.3 4.4 3.1-2.8 4.4 4.2 7.4 .8 0 1.7z"/><path transform="matrix(1 0 0 1.0260 0 509.75)" d="M958.3 0l0-1.8 4.4-3 3 .8 10.4-2.4 6-.2 2.9-1.9 3 .7 1.5-.3 4.4-4 4.6 2 1.4 0 3-2 3 2.3 1.5 0 2.9-6.4 1.5 .7 3.1 7.4 1.5 1.2 3-1.2 2.9-3.8 1.5-.5 3.1 2.4 1.4-.7 2.9-7.7 1.5 .5 3.1 5.3 1.5 .1 1.5-1.9 1.4-4.8 2.8-17.3 1.5-2 1.5 2 1.5-.8 1.5 1.3 4.3-16.2 1.5-.5 1.6 1 1.5-.1 2.8-17.4 3.2 25.9 1.6 5.6 1.5-4.7 2.8-16.4 1.5-2.5 2.8-31.7 1.5-7.9 1.5 2.4 3.2 16.9 1.5 5 1.5 .5 3.1 12.2 1.5 1.3 2.9-31.5 1.5-2.1 1.6 16.6 1.5 8.7 3-1.6 1.5 .5 4.4-97.3 1.5-6 4.7 74.5 1.5 1.4 1.5 24 1.5 5.9 1.5-1 1.5 1 1.6-5.9 1.5-24 1.5-1.4 4.7-74.5 1.5 6 4.3 97.3 1.5-.5 3.1 1.6 1.5-8.7 1.6-16.6 1.5 2.1 2.9 31.5 1.5-1.3 3.1-12.2 1.5-.5 1.5-5 3.1-16.9 1.6-2.4 1.4 7.9 2.8 31.7 1.5 2.5 2.9 16.4 1.5 4.7 1.5-5.6 3.3-25.9 2.8 17.4 1.5 .1 1.5-1 1.5 .5 4.4 16.2 1.5-1.3 1.5 .8 1.5-2 1.5 2 2.8 17.3 1.4 4.8 1.5 1.9 1.5-.1 3-5.3 1.5-.5 2.9 7.7 1.5 .7 3-2.4 1.5 .5 3 3.8 2.9 1.2 1.5-1.2 3.1-7.4 1.6-.7 2.8 6.4 1.5 0 3.1-2.3 2.9 2 1.5 0 4.5-2 4.4 4 1.5 .3 3-.7 3 1.9 5.9 .2 10.4 2.4 3.1-.8 4.4 3 0 1.8z"/><path transform="matrix(1 0 0 1.0268 0 511.11)" d="M953.7 0l0-1.8 4.5-.5 4.4-1.9 6 .3 2.9-4.1 1.5 .2 3 3 1.5-.1 4.3-8.6 4.6 6.2 1.5 0 1.5-1.4 2.9-6.6 1.4-1.6 3.1 6.5 1.6 1.3 1.4-.9 3-4.1 3 2.7 3 1.6 4.5-.1 4.6 3.3 1.4-.6 3-3.5 1.5-.6 1.5 1 3-1 4.4-5 1.5 0 3 2 1.5-1.9 4.3-17.1 1.4-1.2 1.6 2.5 1.5-1.6 1.4-6.1 1.4-12.2 1.5 1 1.5-.5 2.9-11.1 1.5 1 3.2 13.8 1.4-1.8 1.6 .6 3 9.1 2.9-20.2 1.3-23.5 1.5-6.7 1.6 14.7 1.5 1.2 1.6 3.3 1.5 1.3 1.3-31.3 1.5-11.1 3.3 50.8 1.4-9.3 1.5-18.6 1.4-5.1 1.6 3.9 1.5 .8 4.7 38.6 1.4-9 2.9-48.9 1.6 .7 2.9-85.1 1.5-15.5 1.5 20 3.2 90.6 1.5 27 3-6.8 3.1 6.8 1.5-27 3.1-90.6 1.6-20 1.5 15.5 2.9 85.1 1.5-.7 2.9 48.9 1.5 9 4.7-38.6 1.5-.8 1.5-3.9 1.5 5.1 1.4 18.6 1.5 9.3 3.3-50.8 1.5 11.1 1.3 31.3 1.5-1.3 1.5-3.3 1.6-1.2 1.6-14.7 1.4 6.7 1.4 23.5 2.8 20.2 3.1-9.1 1.5-.6 1.5 1.8 3.2-13.8 1.5-1 2.9 11.1 1.5 .5 1.5-1 1.4 12.2 1.4 6.1 1.5 1.6 1.5-2.5 1.5 1.2 4.3 17.1 1.5 1.9 3-2 1.5 0 4.4 5 3 1 1.5-1 1.5 .6 2.9 3.5 1.5 .6 4.6-3.3 4.4 .1 3.1-1.6 3-2.7 2.9 4.1 1.5 .9 1.5-1.3 3.1-6.5 1.5 1.6 2.9 6.6 1.4 1.4 1.5 0 4.6-6.2 4.3 8.6 1.5 .1 3.1-3 1.5-.2 2.9 4.1 6-.3 4.4 1.9 4.5 .5 0 1.8z"/><path transform="matrix(1 0 0 1.0275 0 512.46)" d="M953.5 0l0-1.6 3-2.1 1.5-.2 4.5 1.6 2.9-2.7 3-1.5 3 2.1 1.5-.7 4.4-4.8 4.5 .3 7.4-4.3 4.6 3.9 4.3-7.7 3.1 7.7 1.6 .7 2.9-4.8 1.5 1.4 3.1 6 1.5 1.1 1.5-.8 2.9-4 1.5-.7 4.6 4.8 1.4-1.4 2.9-6.6 1.5-.1 3.1 4.4 1.5-1.1 1.4-3.3 2.9-13.3 1.4-1.3 3.1 8.6 1.6 1.8 1.4-5.8 2.7-23.7 1.6 .8 1.6 10.4 1.5-.6 2.7-26.9 3.2 15.8 3.1 7.6 1.5 .2 1.4-6.2 2.9-22.1 1.5-1.7 1.5 8.9 3.1 7 1.4-9.7 1.4-21.6 1.5-7.3 3.2 33.8 1.5 2.7 4.3-55.9 1.5-4.4 3.2 37.4 3.1 22 2.9-34.6 1.5 2 1.6 18.1 1.5 7.4 3-43.2 1.5-8.3 1.5-31.8 1.5-11.3 1.5 12.9 3.1 62.8 1.5 .8 1.5-11.3 1.5 11.3 1.6-.8 3.1-62.8 1.5-12.9 1.5 11.3 1.5 31.8 1.5 8.3 2.9 43.2 1.6-7.4 1.5-18.1 1.6-2 2.9 34.6 3.1-22 3.2-37.4 1.5 4.4 4.2 55.9 1.6-2.7 3.2-33.8 1.5 7.3 1.3 21.6 1.5 9.7 3-7 1.6-8.9 1.5 1.7 2.8 22.1 1.5 6.2 1.5-.2 3.1-7.6 3.2-15.8 2.7 26.9 1.5 .6 1.6-10.4 1.5-.8 2.8 23.7 1.4 5.8 1.5-1.8 3.1-8.6 1.5 1.3 2.8 13.3 1.5 3.3 1.5 1.1 3-4.4 1.5 .1 2.9 6.6 1.5 1.4 4.6-4.8 1.5 .7 2.9 4 1.5 .8 1.5-1.1 3.1-6 1.5-1.4 2.9 4.8 1.5-.7 3.2-7.7 4.3 7.7 4.6-3.9 7.4 4.3 4.5-.3 4.4 4.8 1.4 .7 3.1-2.1 2.9 1.5 3 2.7 4.5-1.6 1.5 .2 2.9 2.1 0 1.6z"/><path transform="matrix(1 0 0 1.0282 0 513.82)" d="M951.9 0l0-1.7 10.4-1.5 10.5-2.8 1.4-1.3 2.9-5.4 4.6 4.2 1.5-1.1 2.7-10.3 1.5-.6 1.6 4.8 1.6 2.4 3 1 1.5-1.5 3 .6 2.9-3.7 4.7 9.3 4.5-.6 3 1.2 1.5-.1 2.9-2.1 4.5-.6 4.5 1.2 1.5-1.1 5.9-7.3 2.9-8 1.5-1.3 1.5 2 4.5-4 3 1.5 1.4-7.4 2.8-25.6 3.2 17.6 1.5-2.6 1.5-.7 1.5 4.1 2.8-27.9 1.4-8.9 1.5-4.6 1.5 2.6 3.2 21.7 1.6 3.8 1.4-3.5 2.9-17.8 1.6-1.3 1.5 6.9 1.5 3.5 4.4-41.9 1.5 5.5 1.6 15.9 3.1 14.9 1.5 1.6 3-10.9 3-.4 1.5-7.4 1.6-.3 1.5 15.5 1.5 6.7 4.6-7.2 1.5-12.8 3-60.6 1.5-13.2 1.5-5.6 1.6 5.6 1.5 13.2 3 60.6 1.5 12.8 4.5 7.2 1.6-6.7 1.5-15.5 1.5 .3 1.5 7.4 3.1 .4 2.9 10.9 1.6-1.6 3.1-14.9 1.6-15.9 1.5-5.5 4.3 41.9 1.6-3.5 1.5-6.9 1.5 1.3 2.9 17.8 1.5 3.5 1.6-3.8 3.1-21.7 1.6-2.6 1.5 4.6 1.4 8.9 2.8 27.9 1.5-4.1 1.5 .7 1.5 2.6 3.2-17.6 2.7 25.6 1.5 7.4 3-1.5 4.4 4 1.6-2 1.5 1.3 2.9 8 5.8 7.3 1.5 1.1 4.5-1.2 4.5 .6 3 2.1 1.5 .1 3-1.2 4.5 .6 4.7-9.3 2.9 3.7 3-.6 1.5 1.5 3-1 1.5-2.4 1.6-4.8 1.5 .6 2.8 10.3 1.5 1.1 4.6-4.2 2.8 5.4 1.5 1.3 10.4 2.8 10.5 1.5 0 1.7z"/><path transform="matrix(1 0 0 1.0290 0 515.18)" d="M948.8 0l0-1.5 2.9-1.4 4.5 1.3 1.5-.2 4.5-3.2 4.5 2 1.5-.4 1.5-1.4 2.8-5.7 1.5 .2 3.1 3.3 1.5-2.1 2.8-8.4 1.5-.6 3.1 5.9 1.5-1.8 2.8-9 1.5-1.1 1.5 1.9 3.2 10.7 3-2.4 1.5 .6 6.1 6.8 1.5 .3 2.9-3.9 1.5-.6 3.1 4.6 1.5 0 2.9-5.6 1.5-.8 3.1 3.8 1.5 .8 1.5-.6 1.4-2.5 2.9-12.1 1.4-1.1 1.6 5 1.5-.9 2.9-7.1 1.4-9.5 1.5 .8 1.6 8.2 1.6 2.3 2.9-9.4 4.4-6.7 1.5-.8 1.6 3.8 1.5-.3 4.1-43.5 1.5-6.8 1.5 3.7 3.2 22.2 1.5-.9 1.4-23.2 1.5-.4 3.3 40.1 1.5 0 2.7-47.6 1.5-8 1.7 22.5 1.5 9.4 3.1 4 1.5-4.2 1.4-24.2 3-13.3 1.5-2.6 1.5 3.8 1.6 7.3 1.5 13.6 1.6 1.3 3 24.9 1.6 4.8 1.4-14.1 1.5-26.6 1.5-8.2 1.6 5 3-164.4 1.5-45.2 1.6 45.2 3 164.4 1.5-5 1.5 8.2 1.5 26.6 1.5 14.1 1.5-4.8 3.1-24.9 1.5-1.3 1.6-13.6 1.5-7.3 1.6-3.8 1.5 2.6 3 13.3 1.4 24.2 1.5 4.2 3-4 1.6-9.4 1.6-22.5 1.5 8 2.8 47.6 1.5 0 3.3-40.1 1.5 .4 1.3 23.2 1.5 .9 3.2-22.2 1.6-3.7 1.5 6.8 4.1 43.5 1.5 .3 1.5-3.8 1.5 .8 4.5 6.7 2.9 9.4 1.5-2.3 1.6-8.2 1.6-.8 1.3 9.5 3 7.1 1.5 .9 1.5-5 1.5 1.1 2.8 12.1 1.5 2.5 1.5 .6 1.5-.8 3.1-3.8 1.5 .8 2.9 5.6 1.5 0 3-4.6 1.5 .6 3 3.9 1.5-.3 6.1-6.8 1.5-.6 3 2.4 3.2-10.7 1.5-1.9 1.5 1.1 2.8 9 1.5 1.8 3.1-5.9 1.5 .6 2.8 8.4 1.5 2.1 3-3.3 1.5-.2 2.9 5.7 1.5 1.4 1.5 .4 4.5-2 4.4 3.2 1.5 .2 4.5-1.3 3 1.4 0 1.5z"/><path fill="#fdd500" d="M1114.1 353V193.7a2.4 2.4 0 0 1 4.8 0V353z"/><path transform="matrix(1 0 0 1.0297 0 516.54)" d="M945.6 0l0-1.7 6 0 10.5-1.2 5.9-2.9 4.5-.7 7.3-6.8 1.5-2.8 1.5-.6 3 2.6 1.5-.1 2.9-9.1 1.4-.6 1.7 5.7 1.5-.6 4.6 9.5 1.6 1.2 1.5 .2 4.4-2.9 1.5 .4 3.1 3.5 1.5 .2 2.9-4.4 1.5 .4 3.1 3.9 1.5-.8 2.9-4.5 3-2.6 1.5-.6 3 1.4 1.5-.6 2.9-11.8 1.5-.4 1.5 1 2.9-5.1 2.9-14.6 3.2 16.7 1.5 4.3 1.5-.2 1.5-3.4 1.4-7.4 2.8-24.4 1.5-2.4 1.5 2.8 3-6.1 3.1 6.6 3 1.1 1.6 4.5 1.5 .9 2.9-25.1 1.5-3.2 4.7 25.5 2.9-12.4 1.5-2.6 1.5 0 4.4-42 1.5-5.8 1.5-2.3 1.6 3 4.7 46.3 1.5 7.5 3-39.4 3.1 40.7 1.5 5.6 1.5-7.9 3-97.8 1.5-20.4 1.6 20.4 3 97.8 1.5 7.9 1.5-5.6 3.1-40.7 3 39.4 1.5-7.5 4.7-46.3 1.5-3 1.5 2.3 1.5 5.8 4.4 42 1.5 0 1.6 2.6 2.9 12.4 4.7-25.5 1.5 3.2 2.9 25.1 1.5-.9 1.5-4.5 3.1-1.1 3-6.6 3 6.1 1.6-2.8 1.5 2.4 2.7 24.4 1.5 7.4 1.4 3.4 1.5 .2 1.6-4.3 3.2-16.7 2.8 14.6 3 5.1 1.5-1 1.5 .4 2.9 11.8 1.5 .6 3-1.4 1.5 .6 2.9 2.6 3 4.5 1.5 .8 3-3.9 1.5-.4 3 4.4 1.5-.2 3-3.5 1.5-.4 4.5 2.9 1.5-.2 1.5-1.2 4.7-9.5 1.5 .6 1.6-5.7 1.5 .6 2.8 9.1 1.5 .1 3.1-2.6 1.5 .6 1.4 2.8 7.4 6.8 4.5 .7 5.9 2.9 10.5 1.2 6 0 0 1.7z"/><path transform="matrix(1 0 0 1.0305 0 517.91)" d="M945.5 0l0-1.8 7.5 0 4.4-1.6 4.5 1.1 1.5-.7 2.9-4 1.5-1 3.1 2.4 1.5 .2 1.5-1.2 2.8-7.5 1.5-1.9 3.1 5.6 1.5 0 2.8-10.5 1.5 0 1.6 5.3 1.5 2.3 3-3.8 1.5-.2 4.6 8.3 1.6 1.2 1.5 .2 1.5-.8 2.9-2.9 1.5 .2 1.6 1.7 1.5 .5 3 .1 4.5-1 3 1.7 1.5-.6 2.8-10.2 1.5-2.1 3.1 6.9 1.5-.1 4.4-7.2 1.5-.7 4.5-7.9 1.5-.1 1.5 1.2 1.5-2.7 1.5-.5 3 5.8 1.5-1.7 1.5-6.8 2.8-19.4 1.5-2.1 1.6 5.7 1.5 2.5 1.4-8.7 1.4-22.1 1.5-2.7 3.3 33.4 2.8-32.1 1.4-7 1.6 .8 4.7 35 1.6 5.8 1.5-4.2 2.8-45.3 1.5-3.1 1.6 12.4 2.9-18.7 1.5-4.2 1.6 2.4 1.5 8.7 4.7 35 3-9 3-5.4 4.6 24.1 1.5-12.8 3-50.6 3.1 50.6 1.5 12.8 4.5-24.1 3.1 5.4 3 9 4.6-35 1.6-8.7 1.5-2.4 1.5 4.2 3 18.7 1.6-12.4 1.5 3.1 2.8 45.3 1.5 4.2 1.5-5.8 4.8-35 1.5-.8 1.5 7 2.8 32.1 3.3-33.4 1.5 2.7 1.3 22.1 1.5 8.7 1.5-2.5 1.6-5.7 1.5 2.1 2.8 19.4 1.4 6.8 1.5 1.7 3.1-5.8 1.5 .5 1.5 2.7 1.5-1.2 1.5 .1 4.4 7.9 1.5 .7 4.4 7.2 1.5 .1 3.1-6.9 1.5 2.1 2.9 10.2 1.5 .6 3-1.7 4.5 1 3-.1 1.5-.5 1.5-1.7 1.6-.2 2.9 2.9 1.5 .8 1.5-.2 1.5-1.2 4.7-8.3 1.5 .2 2.9 3.8 1.6-2.3 1.6-5.3 1.5 0 2.8 10.5 1.5 0 3.1-5.6 1.5 1.9 2.8 7.5 1.5 1.2 1.5-.2 3.1-2.4 1.4 1 2.9 4 1.5 .7 4.6-1.1 4.4 1.6 7.5 0 0 1.8z"/><path transform="matrix(1 0 0 1.0312 0 519.28)" d="M940.8 0l0-1.7 1.5-.5 3 .4 3-1.1 4.5 .1 3 1 1.5-.2 4.4-2.7 4.6 .6 2.9-1.9 2.9-4.3 1.5-.4 3.1 2.3 1.5 0 2.9-6.8 1.4-1.8 3.2 5.5 1.4-2.8 1.4-5.7 1.5-.9 3.2 10.1 1.5 1.8 4.5-3 1.5 0 6.1 4.7 1.5-1.2 2.9-5.6 1.5 1 3.1 5.3 1.5 .5 1.5-1.7 2.9-7.6 1.5-.8 3.1 6.5 1.5-.4 2.8-11.6 1.5-1 1.6 4.8 3.1 4 4.3-15.5 4.6 10.5 3-7.9 2.8-17.3 1.5-1.4 3.1 13.6 1.6 3.6 1.5-5.4 2.6-38.2 1.5-2.7 3.3 29.4 5.7-49.7 1.6 6.5 1.6 17.7 3.2 18.3 2.9-26.5 1.5-.6 1.6 12.4 1.5 1.5 1.5-4.2 1.4-23.8 1.5-6.3 1.6 19.6 1.5 1.8 3.1 13.7 2.9-40.4 1.6 9.1 1.5-3.2 3-46.2 1.5-1.1 3.1 64.6 1.6-20.1 1.5 6.6 1.5 24.3 1.5 9.5 1.6-9.5 1.5-24.3 1.5-6.6 1.5 20.1 3.2-64.6 1.5 1.1 3 46.2 1.5 3.2 1.5-9.1 3 40.4 3-13.7 1.6-1.8 1.6-19.6 1.5 6.3 1.4 23.8 1.5 4.2 1.5-1.5 1.6-12.4 1.5 .6 2.9 26.5 3.1-18.3 1.7-17.7 1.6-6.5 5.7 49.7 3.2-29.4 1.5 2.7 2.7 38.2 1.5 5.4 1.5-3.6 3.2-13.6 1.5 1.4 2.8 17.3 2.9 7.9 4.7-10.5 4.3 15.5 3.1-4 1.5-4.8 1.5 1 2.9 11.6 1.5 .4 3.1-6.5 1.5 .8 2.9 7.6 1.5 1.7 1.5-.5 3.1-5.3 1.5-1 2.9 5.6 1.5 1.2 6.1-4.7 1.5 0 4.4 3 1.6-1.8 3.2-10.1 1.5 .9 1.4 5.7 1.4 2.8 3.1-5.5 1.5 1.8 2.9 6.8 1.5 0 3-2.3 1.5 .4 2.9 4.3 3 1.9 4.5-.6 4.5 2.7 1.5 .2 3-1 4.5-.1 3 1.1 3-.4 1.5 .5 0 1.7z"/><path transform="matrix(1 0 0 1.0319 0 520.65)" d="M943.7 0l0-1.4 4.4-1.3 3 .6 6.1-.4 4.4-2.7 4.5 1.1 1.5-.4 4.4-6.2 1.5 .1 1.6 1.7 1.5 .6 2.9-2.1 3-3.9 1.5 .1 1.4-2.1 3.1 4.7 3-.6 1.6 .3 3 3.1 1.5-.6 2.9-5.2 1.6 1 1.5 3.2 1.5 .6 3-1.1 3.1 1.4 4.4-3.2 3-.6 3-2.3 1.5-.1 1.5 1.1 4.5-.6 3-2.9 2.9-7.1 1.6 1.1 3.1 7.1 1.5 .4 2.9-6.5 3-4.6 2.8-18.8 1.5-1.1 3.1 9.2 1.6 2.2 2.9-6.8 1.5-1.1 1.6 2.3 1.5-.6 2.8-24.6 1.5-3.9 1.5 3 1.6-.2 1.5 5.2 3.1 3.4 1.5-2.4 4.4-18.5 1.5 1.3 1.5-4.8 1.6-.9 1.5 12.8 1.6 8.6 1.5 4.6 1.5-5.1 1.5-12 1.5-6.2 3.1 7.5 1.5-18.6 2.9-67.4 1.5-16.6 1.5 13.8 3.2 72.7 1.5 12.9 1.6-4.4 3 5.2 1.5-3.4 1.6 3.4 3-5.2 1.5 4.4 1.6-12.9 3.1-72.7 1.6-13.8 1.5 16.6 2.9 67.4 1.5 18.6 3.1-7.5 1.5 6.2 1.4 12 1.5 5.1 1.6-4.6 1.5-8.6 1.6-12.8 1.5 .9 1.5 4.8 1.5-1.3 4.5 18.5 1.5 2.4 3.1-3.4 1.5-5.2 1.5 .2 1.6-3 1.5 3.9 2.8 24.6 1.5 .6 1.5-2.3 1.5 1.1 3 6.8 1.5-2.2 3.2-9.2 1.5 1.1 2.8 18.8 2.9 4.6 3 6.5 1.5-.4 3.1-7.1 1.5-1.1 2.9 7.1 3 2.9 4.5 .6 1.6-1.1 1.5 .1 2.9 2.3 3 .6 4.5 3.2 3-1.4 3 1.1 1.5-.6 1.6-3.2 1.5-1 2.9 5.2 1.5 .6 3.1-3.1 1.5-.3 3 .6 3.1-4.7 1.5 2.1 1.5-.1 2.9 3.9 3 2.1 1.5-.6 1.6-1.7 1.5-.1 4.3 6.2 1.5 .4 4.6-1.1 4.4 2.7 6 .4 3-.6 4.5 1.3 0 1.4z"/><path transform="matrix(1 0 0 1.0327 0 522.02)" d="M944.5 0l0-1.6 3-1 6 .5 3-2.4 1.5-.1 3 1.7 1.5-.3 4.4-5.3 4.6 3.3 1.5-.7 2.8-6.6 1.5-.6 3.2 4.9 4.4-4 1.5 .3 4.6 4.5 1.5-1.2 2.9-6 1.5 .3 3.1 6 1.5-1.1 2.9-7.6 1.5 1.3 3.2 6.1 1.5 .6 1.5-.5 1.5-1.7 2.8-10.2 1.5-1.7 3.2 10.4 1.5 1.2 2.9-9 1.5-1.8 3.1 7.8 1.5-.8 2.9-8.8 1.5-.9 4.6 9.4 1.5 .3 1.5-2.2 4.3-22.6 1.6 5.7 1.5-1.6 1.5-.4 1.5 2.9 1.4-17.3 1.4-8.5 3.3 24.8 1.5 5 1.5-6 2.8-23.7 1.5-4.8 4.7 22.6 2.9-28.8 4.4-25.5 1.5-2 1.5 3 3.1 10.2 3.2 23.7 1.5 6.6 1.5-2.6 3-32.7 1.5 .5 1.5 4.9 2.9-64.3 1.5-6.2 1.6 14.7 1.6 29.3 1.5-1.6 3.1 49.5 1.6 14 1.5-9.9 3-40.3 1.6 4.7 3 40.4 1.5 2.3 3.1-49 3.1-20.6 1.6-25.8 1.5-8.9 1.5 15.5 2.9 61.6 1.6-13 1.5 6.5 2.9 30.2 1.5-.3 3.2-23.9 4.7-16.8 1.5-1.9 1.5 4.9 1.4 12.7 1.5 3.2 2.9 28.3 1.5 6.2 3.1-18.5 1.6-2.6 4.3 30.9 1.5 3.3 3.2-24 1.6-5.2 2.8 24.3 1.5-2.3 1.5 1.5 3.1-4.2 2.8 18.3 1.4 4.7 1.5 1.2 1.6-1 4.6-9.1 4.4 10.5 1.5-.2 1.6-5.1 1.5-2.4 2.9 8.8 1.5 2.3 4.7-12 2.8 9.7 1.5 3.3 1.5 1.2 1.5 .1 1.5-1 3.1-6.6 1.5 .4 2.9 7.9 1.5-.6 3.2-5.9 1.5 1 2.8 5.9 1.6 .2 4.6-4.3 1.5 .1 2.9 3.1 1.5 .6 3.1-5.1 4.4 8 1.5 0 3.1-2.9 1.5 .1 4.4 5.2 4.5-1.8 4.5 3 6-.7 3 1.1 0 1.4z"/><path transform="matrix(1 0 0 1.0334 0 523.40)" d="M948.9 0l0-1.8 4.4-2.2 4.5 .6 9-3.4 9-.5 1.5-1 1.5-3.5 1.4-1.1 3.2 5.4 1.5 1.3 1.5-.2 4.5-3.8 1.5-.3 1.5 .7 3-1.2 2.9-2.7 1.6 .6 1.5 1.7 1.5-.1 3-2.6 3 .3 3-3.4 1.5-.3 3 2.4 2.9-7.9 1.5-.6 3.2 9.4 1.5-.2 2.8-12.2 1.6 1.5 3.1 11.4 1.5-.4 3-7.3 4.4-6.5 1.6 3.3 1.5 1.6 1.5 .6 1.5-3.7 2.9-14.4 1.5 3.1 1.6 6.5 1.5 0 1.5-5.1 1.4-11.6 1.5-6.2 1.5 4.8 3.2 16 1.5 1 1.5-5.2 2.8-28 1.5-7 1.5 7.3 1.5-3.9 3-21.9 1.5-4.8 1.5 1 1.6 9.7 3.2 27.9 2.8-39 1.6 6.6 1.6 22.5 1.5-.1 2.9-40.1 1.6-4.6 1.5 6.5 3.1 28.7 1.6 1.1 3 .3 1.5-12.8 1.5-.9 3.1 23.6 1.5-6 1.5 1.4 1.6 3.7 3-24.2 3.1 15.4 3-.2 1.5-2.8 3.2-30.8 1.5-3.2 1.5 9.7 2.9 40.9 3.2-33.3 1.5 2.7 1.5 21.9 1.4 8.9 3.2-27.9 1.6-6.9 1.5 1.5 1.5 6 2.9 20.1 1.5 .2 1.6-3.6 4.3 37.1 1.5 2.8 1.5-3.1 3.2-16.8 1.5-1.3 2.9 19.9 1.5 2.5 1.5-2 1.6-6.8 1.5-.2 2.8 15.7 1.5 1.5 4.6-5.4 1.5 4 1.5 .7 1.5 2.8 2.9 6.8 1.5-1.4 3.2-11.8 1.5 1.4 1.4 7 1.5 3.6 1.5-.9 3.2-8.6 1.4 2.5 1.5 5.1 1.4 1.4 3.1-2.6 3 3.3 4.5 .6 3 2.5 3-2.2 1.5 .1 1.5 2 3 1.3 3-.4 1.5 .7 4.5 3.6 1.5-.2 4.6-6.6 2.9 5.4 7.5 1.1 3.1-.1 8.9 3.4 4.6-.8 4.4 2.4 0 1.6z"/><path transform="matrix(1 0 0 1.0342 0 524.77)" d="M947.2 0l0-1.5 6-2.4 4.5 .5 4.4-3.8 4.6 3.1 4.4-5.3 3.1 3 7.5-1.4 4.6 2.2 1.5-.3 4.4-4.9 3.1 2 1.5-.6 2.9-5.7 1.5 .1 3.1 4.1 1.5 .6 1.5-3 2.8-13.6 1.5 .6 1.6 6.6 3.1 5.2 3-6.1 1.4-1.8 3.1 .7 1.5-1.9 1.5 1 1.5 3.3 1.6 1.1 3-1.1 4.6 4.7 1.4-3.9 2.9-15.6 4.7 11.2 1.5 1.7 2.9-11.7 1.5-2.1 3.1 6.2 1.4-5.7 1.4-11.9 1.5-5.1 3.1 7.2 3.1 13.5 1.6-.1 1.4-6 2.9-21.3 3-9.7 1.5-9.4 1.5 4.6 1.5-6.8 1.5 3.9 3.2 15.1 1.5 3 3-12.2 1.5-1.6 3-26.3 1.5-4.6 1.5 5.6 3.2 25.2 1.4-24.9 1.5-6.8 3.2 43.4 1.5-.2 3-31.6 1.5-2.7 1.6 12 1.5-7.9 1.5-2.7 1.6 .6 3 7.1 1.5-10.7 1.6 9.5 1.5 19 1.5 8.6 1.5-7.1 1.6-25.1 1.5-13.5 3 32.3 3.2-27.8 1.5-1.2 1.5 7.3 1.5 16.3 1.5 7.3 1.5 1.5 3 12.2 4.6-21.5 1.6-.2 1.5 3.1 1.5-.6 1.4 13.1 1.6 0 4.3 28.3 1.5 4 1.5-1.7 3.2-14.5 1.5-3.6 1.6-.6 2.8 21.3 1.5 .3 1.6-4.5 1.5-1.3 4.4 15 1.5-4.6 1.6-2.1 1.6-6.3 1.5 .1 2.8 16.3 1.5 1.8 3.1-4.1 1.5-.4 1.5 1 1.5-.2 3.1-4.8 1.5 0 1.5 2 1.5-1.3 1.5 .5 3 5.7 1.5 1 1.5-2.6 3.2-9.7 1.5 2.5 2.8 13.2 1.4 1.6 4.7-5.1 1.5 1 2.9 5.3 1.5 .4 3-2 4.5 5 1.5-.1 3-1.8 1.5-.2 7.6 1.2 1.5-2.2 1.5-.3 2.9 4.4 1.5 .6 3.1-2.8 1.5-.2 3 3.4 6-.1 6 2.4 0 1.4z"/><path transform="matrix(1 0 0 1.0349 0 526.15)" d="M944 0l0-1.6 3-.8 6.1 0 4.4-4.4 1.5 .3 1.5 1.6 6-2.4 4.6 2.3 2.9-4.2 4.7 4.8 1.5 .4 3-1.7 2.9-3.1 1.5 .5 3.1 2.7 1.5-.8 2.9-6.4 1.5-.4 3.1 4.4 1.5-1.5 4.4-9.9 1.5-.5 1.5 1.6 1.5 .2 2.9-7.6 1.5-1 3.1 4.9 1.6 4.7 1.5 1.4 4.4-13.9 1.5 2.9 3.2 11.1 1.6 2.4 1.5-1.5 4.3-13 3.2 9.4 1.5 1.6 1.5-3.3 2.8-15.4 1.6 3.1 3.2 13.5 1.5 .4 4.3-26.7 1.6 7 1.5 3.5 1.5 .5 1.6 2.2 1.4-5 1.5-11.9 1.4-4.8 3.2 14.9 1.5 1.1 2.9-26.8 1.4-8.2 1.6 3.2 1.6 9.4 1.5 4.7 2.9-40.8 1.5 4.7 1.6 15.8 2.9-50.5 1.5-10.6 1.5 10.2 1.7 24.5 1.5 9.4 1.5-2.6 3.2 38.3 1.5 3.3 3-46.3 1.5 .2 1.6 25.5 1.5 4.9 4.6-28 1.5-4 1.6 .9 3 13.4 3 22.4 3.2-39.1 1.5 10.8 1.4 26.9 1.5 12.9 1.6-9.4 3.1-34.9 1.5 10.8 3.3-45.9 1.5-2.3 2.9 46.5 1.5 12.2 1.6-20.1 1.5 5.1 1.4 23.5 1.5 11.6 3.1-15.6 1.5 .5 4.3 36.3 3.2-15.5 1.5-3 2.9 20.2 1.5 .3 3.1-2.1 1.6-6.7 1.5-2.7 2.8 21.8 1.5 5 1.5-2.7 3.2-14.1 1.5 .2 2.9 16.2 1.5 1.2 3.1-9.2 1.5-1.5 2.9 10.2 1.5 3.2 1.5 .2 1.6-3.1 3.2-11.4 1.5-.7 2.8 10.8 1.5 2.9 3.2-7.8 1.5-2.6 1.6-1 1.4 2.1 1.5 4.6 1.5 1.8 3-1.8 1.5 1.4 4.4 9.9 1.5 .2 3.1-4.3 1.4 1.7 2.9 6.2 1.6-.2 3-2.8 1.5 .2 3 3.3 3 1.1 1.5-.6 3.1-4.2 1.5 0 3 4.3 3-2.4 1.5-.1 4.5 2 1.5-.4 1.6-1.3 1.5 .4 2.9 3.4 1.5 .7 4.5-.2 4.5 1 0 1.5z"/><path transform="matrix(1 0 0 1.0357 0 527.54)" d="M942.4 0l0-1.1 3-1.4 6 .2 4.5-2.4 4.5-.5 2.9-3.4 1.5-.6 1.6 .8 1.5 2.5 1.5-1 4.6 2.3 3-.6 4.6 1 4.4-2.7 4.6-1.1 4.5 .2 7.4-6.1 2.9-11.4 1.5 .5 1.6 5.1 1.5 2.2 1.5-1.5 2.9-10.3 1.5-3.2 1.5-.4 7.8 14.3 1.5-.8 2.9-4.1 3.1 1.9 1.5-.4 1.5-2.8 1.5-1 3.1 4.1 1.5 0 1.5-.9 3-5.4 1.5 .5 1.5 1.8 1.5-.9 1.5-2.6 4.6 4.6 3-4.2 3-2.5 2.9-15.2 3-5.1 1.5-6.6 1.6 4.2 3.1 14.3 1.5-.4 1.5-11.2 2.8-46.6 1.5 6 1.7 22.8 1.5 .8 2.8-63.4 1.5-4.9 1.6 14.3 3.2 47.3 1.5-6.1 1.6 2.2 1.5 7.8 1.5-4.1 1.6-.3 1.5 5.2 1.5 2.1 1.6 .5 3-.6 3.1-18.7 1.5-4.7 1.5-2.1 1.6 .4 1.5 2.9 4.6 24.4 1.5-2.5 1.5 1.1 1.5-1.5 3.1-7 1.5 1.9 1.6 .4 1.5-6.8 1.5 .5 1.5 8.6 3.3-57.9 1.6-8.5 1.5 13.2 2.8 56.4 1.5-8.1 1.7-20.9 1.5 4.4 2.8 46.7 1.4 6.8 1.6-1.9 3.1-15.1 1.6-.9 1.4 9.5 1.5-.7 1.5 3.6 2.9 14 1.6 .9 2.9 4.4 1.6 .8 3-3.4 1.5-.6 1.5 2.4 1.5 .6 1.6-2.3 1.5 .5 3 5.2 1.5 .6 1.5-.2 1.6-3 1.5-.8 3 3.9 1.5 .1 3-1.6 3 4.5 1.5-.2 6.3-12.8 1.5-1.3 1.5 1.4 4.3 13.4 1.5 .8 3.2-8.2 1.5 1.9 2.8 10.6 3 1.6 3 3.3 9 1.2 6 2.9 3-1 4.6 .6 3-2.2 3.1 0 1.5-2.1 1.5-.2 4.5 4.1 4.5 .5 4.5 2.3 4.5-.4 3 1 0 1.6z"/><path transform="matrix(1 0 0 1.0364 0 528.92)" d="M946.7 0l0-1.6 4.5-2.3 6.1 .8 4.4-3.8 1.5-.3 3.1 1.9 3-.5 6.1 2.7 1.5-.3 3-2.9 1.5-.3 3.1 2.6 1.5 0 4.4-5.7 4.6 3 1.5-.3 1.5-2.1 2.8-11.2 1.5-1.8 3.2 8.6 1.4-3 2.8-15.7 1.6 2.9 1.6 7.8 1.5-1.2 2.9-12 1.4-3.5 3.3 15.2 1.6 4.1 1.5 1.2 1.5-.1 1.5-1.9 2.8-14.9 1.5-2.9 3.3 17.1 1.5 3.1 4.4-18 3.2 15.2 1.5 4.1 1.5-4.6 2.8-18.4 1.6 4.3 1.6 8.8 3.1 8.4 1.5-2.6 4.4-25 1.5 6.6 3-12.8 1.5-.9 1.5-3.5 1.5 2.3 1.6 7.6 1.5 3.3 1.5-4.1 3-17.5 1.5-3.8 1.5-1.8 1.5 1.7 1.6 7.4 4.4-33.8 1.6-4.8 3.2 40.8 1.5 10.6 1.5-11 3-37.4 1.5 7.6 3.2 37.4 3-7.5 3-35.2 3.1 19.3 1.5-2.6 1.6 .7 1.5 3.1 1.5-17.2 1.6 .5 1.5 23.2 1.5 9.7 1.5 4.1 1.5 .2 3.2-41.6 1.5 2 2.9 38.6 1.6 4 4.7-51 1.5 13.4 1.5 6.2 1.5 17.6 1.5 .2 1.5-5.6 1.6-.6 3 7.7 2.9 17.6 1.5 1.6 3.2-12.3 3 2.6 1.5 3 1.4 7.8 1.6 0 1.5-2.9 2.9 20.2 1.4 5.6 1.6 .3 3.1-9.4 1.6-9.5 1.5-.1 2.8 19.2 1.5 1.9 3.3-15.8 1.5-2.7 2.9 15.5 1.4 2.5 4.9-21 2.8 14.8 1.5 4.3 1.5 1.2 1.5-.3 1.5-1.9 3.3-14.5 1.6-4 4.2 17.4 1.6-3.1 1.6-7.3 1.5 .6 2.8 16.1 1.5 0 3.2-7.8 2.8 10.5 1.5 3.8 1.5 1.3 1.5-.1 3-2.6 1.6 0 4.4 5.7 4.6-2.9 4.4 3.5 1.5 0 4.6-2.4 4.6 .2 1.5-1.5 1.5 0 1.5 .3 4.5 3.7 6.1-.9 4.4 2.4 0 1.4z"/><path transform="matrix(1 0 0 1.0372 0 530.31)" d="M946.6 0l0-1.4 4.5-2.1 3 .5 4.5-1.1 3.1 .3 2.9-3 1.5 .3 3.1 3 1.6 .4 4.5-1.3 6 0 3-1.9 4.6 1.3 1.5-.4 4.4-5.1 3-2.3 4.5-.7 2.9-8.5 1.5-1.1 1.6 3 1.5-.2 1.5-3.4 1.3-8.5 1.5-2.7 3.3 12.2 1.5 .6 2.9-5.6 1.5-.3 1.5-4.2 1.5 0 1.6 4.5 1.5-.7 3.1 4.3 1.5-2.2 1.4-6.3 1.5-2.3 3.2 12.4 1.6 2.6 1.5-1.7 2.9-10.7 3.1 10.7 1.6 2.4 4.5-7.7 3-1.2 3.1 2.4 1.4-3 2.9-21.8 3.1 11.8 3.1 .6 2.8-37.1 1.5 2.1 3.3 28.9 1.5 3.5 1.5-2.9 1.5-10.2 2.8-41.6 1.6-3.5 1.6 18.9 1.5 2.3 1.6 5.9 1.5-5.8 1.5-.2 3.1 19.6 1.5-6.7 1.6-2.5 3 1.6 1.5-5.2 1.6 4.2 1.5 10.6 3.1 .4 3-13.7 1.6 1.9 1.5 10.6 1.5 1.2 1.5-.1 1.6-4 1.5-9.3 1.5-1 1.6 5.5 1.5-2.6 1.5 .2 3.1 5.9 1.5-11.9 1.6-5.4 3 4.7 1.6-5 3.1-22.2 1.5 12.2 2.9 39.4 1.4 7.3 1.6 1 1.5-6.1 3.3-29.2 1.5 5.8 2.8 35.5 1.5-4 1.5 1.2 1.6-9.9 1.6-1.4 2.8 23.8 3.1-2.5 3 .4 1.5 1.1 3 6.3 1.5 .7 3.1-11.2 1.6-1.2 2.9 11.7 1.5-.3 3.2-11.8 1.5-2.8 2.9 10.4 1.6 .2 3.1-4.2 1.5-.8 1.6-3.6 2.9 5.5 1.5 .4 3 5.2 1.5-2.7 1.7-7.1 1.6-3.4 2.8 13.5 1.5 1.7 3.1-3.4 4.3 10.2 4.6 .6 7.4 7.4 1.5 .1 3.1-1.4 4.4 2.1 6.1 0 4.5 1.2 4.6-3.8 1.5 .5 3 2.8 3-.5 4.6 1.1 3-.4 4.5 2.1 0 1.3z"/><path transform="matrix(1 0 0 1.0379 0 531.70)" d="M951 0l0-1.7 4.4-2.8 3.1 1.4 3-1 10.6 .7 4.5-1.5 3.1 1.2 6-2.7 4.6 1.4 1.5-.7 1.4-2.7 2.9-7.9 1.6 1.4 1.5 3.4 1.6 .7 1.5-2.1 2.9-7.2 6-3.9 2.9-6 1.5 1 3.2 7.7 1.6 1.9 4-31.9 1.6-.9 4.9 29.7 1.5-2.2 2.9-10.7 1.6 0 3.1 10.6 1.6 .7 1.5-.8 1.5-3.4 1.5-.8 4.6 11.1 1.6 1.2 1.4-4.7 2.9-16.9 1.6 4 1.5 1.8 1.5 .4 3.1 2.5 1.5 .1 1.5-3.4 3-12.4 1.5-2 1.5 1 3-7.6 1.5-6.6 1.5-2.7 3.2 17 4.4-29.9 1.5 .3 1.6 6 1.5-4.3 1.5 .2 1.5-13.9 1.6 6.2 1.6 19.5 3-17.2 1.5-3 1.6 1.8 3 8.1 3.1 19.2 1.5 5.3 1.6 1.8 3-22 1.6 2.3 3 20.7 3.1-10.1 1.5-12.3 4.6-14 1.6-.4 3 12.7 1.5 .9 1.6-18 1.5 1.7 1.5 10.5 3.1 2.2 1.5-4.9 1.6 2.2 4.4 30 1.6-15.2 1.6-3.2 4.4 13.9 1.6 2.8 1.5-.8 1.5 3.4 2.9 12.2 1.5 2.3 3.1-1.4 1.5-2.3 1.5 1.5 1.6-5.3 1.5-.3 2.9 18 1.5 2.3 1.5-2.2 3.2-8.6 1.5-1.7 3 4.7 1.5 .5 1.6-1.6 3.1-10.4 1.5 2 2.9 11 1.6-2.9 3.3-21.3 1.6-5.8 1.5 4.5 2.7 22.3 1.4 6.6 4.7-10 1.6 0 2.9 5.8 4.5 2.8 1.5 2 2.9 7.1 1.5 1.5 3.1-5.3 1.5 .1 2.9 8.4 1.5 2 1.5 .3 4.6-1.4 4.5 2.6 1.5 .1 3-1.3 3 1.5 12.2-.5 3 .9 3-1.4 4.5 3 0 1.5z"/><path transform="matrix(1 0 0 1.0387 0 533.09)" d="M950.8 0l0-1.7 4.6-.8 2.9-1.9 3.1 1.5 3 .6 3.1-.3 4.5-2.6 3 2 1.6 .1 2.9-2.7 1.5 .1 3.1 2 1.5-.4 4.5-5.2 1.5-.7 3.1 1.8 1.5 0 4.3-11.1 3.2 6 1.5 1.2 4.3-16.7 1.5 2.5 3.2 8.9 1.5-2.7 2.9-10.7 1.5-2.6 1.5 0 1.5-2.6 1.4-5.5 1.5-2.1 1.5 1.6 1.6 4.8 1.6-.7 1.5 3.4 3.2 11.6 1.6 1.2 2.8-17.5 1.5-3.7 3.3 20.5 1.5 5.5 1.5-.9 3-11.8 1.5-3.1 3.1 11.2 1.5-.9 2.9-20.6 1.5 3.3 3.2 15.6 1.5 0 1.5-6.2 2.9-22.4 1.5 .1 1.6 9.5 2.9-31.1 1.5-.2 1.6 12.4 1.4-13.6 1.6-3.1 3.2 31.5 1.6 7.7 1.4-9.5 3-32.1 1.5 5.2 3.2 32.8 4.5-34.2 1.5-3.9 1.5-.9 1.6 3.7 3.1 15.2 1.5 3.3 1.5-12.4 1.6 7.9 3 28.4 1.5-2.7 3.1-30.4 1.6-1 1.5 12.9 3.1-16.8 1.5-6.2 1.5-2.1 1.6 2.2 1.5 5 3 26.3 1.5 2.3 3.2-33.6 1.5 2.4 2.9 32.9 1.5 3.9 4.8-39.4 1.5 10.2 1.5 2.9 1.6-9.3 1.5 6.8 1.4 19.1 1.5 4 1.6-7.6 1.5 4.5 2.9 22.1 1.4 4.2 1.6-2.7 3.2-16.1 1.5 1.2 2.8 21.2 3.2-10.5 1.5-2.2 4.4 15.5 1.6-1.2 3.2-19.3 1.6-5.8 2.8 17.8 1.5 4.5 1.6-3.4 3.2-11.7 1.5-2.1 1.6-.1 1.5-4.7 1.6-.3 1.5 3.2 1.4 6.7 1.5-.3 1.5 .9 4.4 14.1 1.5 .5 3.2-9.6 1.5-.1 2.8 13 1.5 3.1 3.1-6.5 1.6-.6 2.8 9.3 1.5 1.5 4.6-1.8 5.9 6.1 1.6-.1 3-2.1 1.5 .5 3 2.6 4.6-2.3 4.5 2.7 4.5 0 4.6-1.8 3 2.1 4.5 .5 0 1.7z"/><path transform="matrix(1 0 0 1.0394 0 534.49)" d="M953.7 0l0-1.6 18.2-1.6 4.5-2 3 1.4 6.1-1.4 1.5-.6 2.9-4.4 1.6-.4 3 2.2 6-5.1 1.5-1.8 1.4-4.1 1.6-.9 3.1 4.9 1.5 .4 4.4-7.5 1.6 .4 1.5-.9 2.7-18 1.6 .5 3.3 15.1 1.5-1.5 2.7-18.8 1.6 1.2 3.3 16.6 1.4-4.2 1.6 .7 1.5-1.1 3.1 6 3-.5 3.1 2 1.5-.2 1.5-2.7 3-2.9 1.5-4.2 1.6 3.5 1.6 6.7 1.5 1.7 1.5-3.3 2.9-14.2 1.5-1.3 4.7 13.1 1.5-1.6 3-13.3 4.5-6.2 1.5-6.7 1.5-1 1.6 4.5 1.5-2.7 1.6 .8 4.6 17.2 1.5-.9 4.5-23.5 1.6 2.9 1.5-5.6 1.5 .2 1.6-3.9 1.5 .9 1.5 3.4 4.6 17.6 1.6 .1 3-2.9 1.6 .3 1.5 2.6 1.5 .1 1.5-1.3 4.7-17.9 1.5-2.6 1.5 .3 1.5 6 1.6-2.2 1.5 3.3 1.5-.3 3 18.1 1.5 5.5 1.6-1.4 3.1-13.4 1.5-3.3 3.1 .9 1.5-3.3 1.5 3.2 1.5 6.2 3.1 2.8 4.4 16.6 1.6 0 3.1-10.2 1.5-2.7 1.5 3.5 3 13.8 1.5 2 3.1-10.5 1.6-1 1.4 6.1 1.5-.5 3 3.7 1.6-.1 3-1.7 1.6 .6 1.5-.8 3.1-5.6 1.5 2.3 1.5-.7 1.5 3 3.3-18.3 1.5 3 2.8 17.5 1.5-.3 3.3-15.8 1.5 3.5 1.3 10.5 1.5 5.6 3 .1 3 6 1.5 1.4 4.6-5.6 3 6.3 5.9 5.4 1.5 .4 3.1-2.4 4.5 5.3 7.5 1.7 3.1-1.5 4.5 2.2 16.7 1.3 0 1.8z"/><path transform="matrix(1 0 0 1.0402 0 535.88)" d="M961.2 0l0-1.7 3-1.3 6 .7 6.1-2.4 3 .4 3-.8 3-4.1 1.5-.3 3.1 3.9 1.5-1 2.9-7.2 1.5 .3 3.2 4.8 1.5-1.9 2.9-7.8 1.5-1 4.6 6.3 1.6 0 1.4-2.9 2.8-16.8 1.5-3 3.3 14.1 1.4-2.3 2.7-23.7 1.6 1.4 3.4 21.4 1.5-1.4 2.6-27.3 1.5-2.3 5.1 34.3 1.5 1.1 1.5-2.2 2.8-16.9 1.5-2.6 3.3 16.1 1.5-.8 3-6.5 1.5 1.6 3.1 7 1.6-.5 2.9-16.8 1.5-2.7 1.5 6.3 3-8.1 3.2 16.5 2.9-26.6 1.5-2.4 3.2 25.6 1.5-2 3-26.1 1.5 3.9 3.2 25.6 1.5 3.2 1.5-3 4.5-28 1.6 5.7 1.5 11.4 1.6 4.2 3-28.1 1.5 6.1 1.6 11.2 1.5 .4 3.1 2.9 1.5-2.9 1.5-11.4 1.6 2.8 1.5 11.9 4.6-3.6 1.5-.1 1.6-15.4 1.5 .8 3 25.4 3.1-18.7 1.5-1.7 3 21.5 1.5 7.3 1.6 1.1 1.5-5.8 3.2-26.1 1.5 2.3 2.9 25.1 1.6-3.1 3.2-23.8 4.4 30.4 1.6-11.8 1.5-4.6 1.5 8.3 3.1-6.9 2.9 15.8 1.5 4.6 1.5-.7 3.2-7.3 1.5-.3 3 6.4 1.5 .5 3.2-16.8 2.9 16.2 1.5 5.1 1.5 1.3 1.6-4.4 3.3-26.5 1.6-5.2 1.5 6 2.7 26.2 1.6-3.1 3.3-21.3 1.5 4 2.7 22.9 1.5-1.9 1.7-8.3 1.6-4.2 4.2 21.4 1.5 1.8 1.5-.6 3.2-4.7 1.5-1.3 1.5 2.2 2.9 7.6 1.5 1 3.1-5.5 1.5 1.3 2.9 7 1.6-.2 3.1-3.7 2.9 4.1 3 1.2 4.6-.1 6 2.4 4.6-.9 4.5 1.6 0 1.5z"/><path transform="matrix(1 0 0 1.0409 0 537.28)" d="M962.5 0l0-1.7 7.6-1.4 6.1 0 5.9-5.2 1.6 .9 4.5-.4 1.5-1.7 1.5-.2 1.6 1.3 1.5 .3 1.5-1.5 2.9-6.5 4.7 6.6 1.5-1.1 4.5-7.9 3-2.1 3-.4 5.9-13.2 1.6 2.4 1.5-.5 3-1.6 1.5-3.3 3-1.3 1.5-6.1 3.1 4.3 3.2 9.8 1.5 1.6 1.5-2.9 1.5-.2 1.6 2.9 1.5-1.7 1.4-11.6 1.5-4.8 3.3 20.2 1.5 5.8 1.5-3.3 2.9-20.2 1.5 .8 3.3 19.9 1.5 .3 4.4-16.6 1.6-1.8 1.5 1.5 3.1 9.9 1.6 1.2 2.9-21.9 1.5 2.2 1.6 12.8 1.6 1.2 1.5-4.3 1.5-.9 1.5-2.5 1.5-4 1.6 2.8 3.1 13.4 1.5 2.4 1.5-6.3 3-27.3 1.6 5.5 1.5 14.7 1.5-.1 4.6-7.2 3.1-11.1 1.5-1.2 1.6 .2 1.5 2 3 11.9 1.6 1.1 1.5 3.6 1.5 1.1 1.6-4.7 1.5-14.1 1.6 .8 2.9 28.2 1.6 2.6 4.6-17.1 1.5-.5 1.6 5.7 1.5 .2 1.5 1.6 1.5 6 3.2-19 1.5 3.1 2.9 19.5 4.7-12.4 1.5-.4 1.5 2.9 4.5 16.1 1.5-3.3 3.3-19.7 1.5 4 2.8 19.2 1.5 .2 3.3-19.8 1.6-5 2.8 19.6 3.1-4.6 3 3.4 6.4-15.1 1.5 .6 1.4 6.8 1.6-1.4 1.5 1.6 1.4 3.6 1.6 0 1.5 .9 3.1-1.9 1.4 4.6 4.5 8.1 1.5 .1 4.5 3 4.4 8 1.6 .3 3.1-5.4 1.5-.8 2.9 7.3 1.6 .6 3-1.8 3 2.1 3.1 .4 3-.9 3 3.3 3 1.9 6.1-.1 7.5 1.6 0 1.5z"/><path transform="matrix(1 0 0 1.0417 0 538.69)" d="M965.4 0l0-1.6 3-1.5 4.6 .5 3-.7 4.5-4 1.5-.5 1.6 .6 3-2.6 1.5-.4 4.6 1.2 7.5-3.4 4.6 3 1.6-.8 4.2-16.2 1.6 2.1 1.6 5.9 1.6 2.7 1.5-2.5 2.8-13.5 1.5-1.8 3.2 9.2 1.5-1.2 2.8-21.4 1.5 1.2 3.4 20 1.5 1.2 1.5-4.3 2.8-21 1.5-.6 1.6 2.3 3.2 14.1 1.5-1.8 3.1 3.9 1.5-1.5 3-5.7 1.6 1.2 1.5 4.1 1.6 1.3 3-.1 3.1 6.6 1.6 .9 2.9-20.2 1.5-4.9 3.2 20.6 1.5 .7 3-3.9 4.6 2.8 1.6 .1 3-13.8 3-1.8 4.7 16.8 4.5-8.6 1.6-.1 1.5-1.2 3-4.8 1.6-.3 1.5-10.4 1.5 1 4.6-17.2 1.6 1.2 3 12.9 1.6 1.1 1.5 3.9 1.5 7.7 1.5 .6 1.6 3.4 1.5 1.4 3.1 1.2 3 7.2 1.5-.2 3.1-13.7 3.1-1.1 1.5 2.6 3 13.4 1.5-1.8 3.1-1.9 1.5-.1 3.1 3.9 1.5-4.2 1.6-12.4 1.6-5.1 2.9 21.2 1.5 4.2 3.1-6.3 1.6-1.5 1.5 .5 1.5-.7 3.1-5.7 1.6-.2 3 6.1 1.5 .7 3.1-3.7 1.5 .7 3.2-14.5 1.6-1 1.5 3.7 1.3 12.8 1.5 7 1.5 3.5 1.5-4.5 3.4-19.8 1.5 3.8 2.7 19.3 1.6-.2 1.6-5.9 1.6-2.9 4.3 16.7 1.5 1.3 3.2-10.1 1.5 .5 2.8 13 1.5 2.7 1.5 .1 3.1-2.6 1.6-.3 7.5 3.4 4.6-1.1 3 2.2 3 .1 1.5 .9 4.5 3.8 3.1 .5 4.5-.4 3 1.6 0 1.4z"/><path transform="matrix(1 0 0 1.0424 0 540.09)" d="M968.3 0l0-1.5 7.6-3.4 4.6 .6 1.5-.7 2.9-5.1 1.5-.6 1.6 .3 3-1.8 1.5 .3 1.5-1.2 4.7 5.9 1.5-.8 4.4-7.4 1.5-.6 3.1 2.7 1.6 .1 1.5-2.7 2.8-12.7 1.6 1.7 3.2 10 1.5-.7 2.7-19.5 1.5-3.9 3.3 17.2 1.6-.5 2.9-11.2 1.4-3.2 1.6 .4 1.6 3.5 2.8-19.2 1.5-5.2 1.5 2.6 5 29.8 1.5-1.4 1.4-6 2.9-19 1.6 4 3.3 21.6 1.4-7.6 1.5 .1 1.6 1.2 1.4-11.1 1.5-2.3 3.3 21.7 1.5 2.6 2.9-20.7 1.6-.2 3.2 21.6 3 3.5 1.5-5 3-17.5 1.6 4.9 1.5 .6 1.5-3 1.6 1.7 1.5-.6 1.5-9.4 1.5 4.6 3.1 18.4 1.6 .9 1.5-5.5 3-21.2 1.6 .6 1.5 10.3 1.5 4.9 3.1-22.9 1.5-3.7 1.6 .5 1.5 5.8 3 22 3.1-18.8 1.6 4.1 3 20.8 1.5 3.8 1.5-3.2 3.2-19.8 1.5 .3 1.5 10.9 1.5-3.8 1.6-.1 1.5 4 1.5-5.1 1.6-.6 2.9 18.4 1.5 3.4 3.1-6.8 3.2-20.8 1.5 5.2 1.5 12.1 1.5 5.6 4.7-25.4 3 17.7 1.5-6.7 1.5 6.3 1.5 .7 3.3-21.8 1.5 .6 2.9 19.7 1.5 4.6 1.5-.6 5-30.7 1.5 .3 4.3 21.9 1.6-2.6 1.5 .7 4.4 14.8 1.6-2.9 1.7-10 1.6-5.1 2.7 19.1 1.5 5.7 1.5-1.4 3.2-10.4 1.6 .9 2.8 13.1 1.5 1.3 4.6-3 1.5 1.2 4.5 7.3 1.5-.1 3.1-4.6 1.6-.7 4.5 1.5 1.5 1.6 1.6-1.1 4.4 6.4 4.6-.6 7.5 3.3 0 1.8z"/><path transform="matrix(1 0 0 1.0432 0 541.50)" d="M969.7 0l0-1.5 4.5-3.7 4.6 1.1 3-2 3.1 0 1.5-.8 2.9-5.9 6.2 4.5 1.5-1.2 4.6-.1 2.9-6.9 1.5-.8 3.2 5.1 1.5-.8 4.4-8.4 3.1 1.1 3-3 3.1-.4 3-2.1 3.1 .4 1.5-1.2 2.8-19.5 1.5 .7 1.6 5.1 1.5-.7 1.6 2 1.5-5.8 1.5-2.1 3.1 4.5 1.5-.1 1.5-1.2 1.6 1 3.2 10.2 1.5-.1 3-6.4 1.5 .2 3.1 2.4 1.5 0 3.2 4.8 1.5-2 1.5 1.6 1.6 4.6 1.5 2.4 3.1-.6 1.5 .5 1.5-2.4 1.6 0 1.5 2.5 3.1 2.1 1.5-.4 3-6.8 1.6 .3 1.5 1.8 1.5 .2 4.6-4.9 1.5 .2 1.6 1.4 3 5.3 1.6-1.5 3-10.6 1.6-3 1.5-.1 1.5-8.4 1.6 2.1 1.5 6.3 1.5 .8 4.6 13.9 1.5 .1 3.1-5.6 1.5-.9 1.6 .3 1.5 2.3 3 2.5 1.6-.1 1.5-2.6 1.5 1 3.1 6.4 4.6-2.1 1.5-3.1 3.1 2.7 3 .7 1.6-.6 3.1-7.7 1.5-.2 1.5 .6 3.1-4.1 4.6-2.4 1.6 .6 3 6.5 1.5-1.7 3.2-9.9 4.6 1.3 1.6-3.5 1.5-.9 3 6.7 1.5-1 1.6 1.5 1.6-7.5 1.5 3.4 2.8 17.7 4.6 .5 1.5 1.4 3 0 4.6 3.8 1.5-1.3 1.5 .6 4.5 8.4 1.5 0 3.2-5.1 4.4 8.2 3-.4 3.1 1.5 4.6-4.2 1.6 .3 2.9 5.9 3-.1 4.6 2.4 3-1.3 1.5 .4 4.5 3.5 0 1.4z"/><path transform="matrix(1 0 0 1.0439 0 542.91)" d="M968.1 0l0-1.8 6.1-.5 4.4-4.3 4.7 1.8 4.5-3.6 4.5-.9 1.6 .8 4.4-5.8 3.1-1.2 3.1 5.6 1.6 .3 2.8-10.9 1.5-.8 3.3 9.2 1.5 .9 1.5-4.3 2.8-14.7 1.6 2.8 3.2 11.6 1.5 .7 1.5-3.3 2.8-19.1 1.5-2.8 3.2 12.6 2.8-24 1.5-.7 3.3 20.2 1.6 1.5 4.2-36.3 3.3 17.8 1.5-4.5 3.2 22.4 1.6-2.7 2.8-23.3 1.6 2.1 3.3 28.4 1.5 .9 3-11 1.6 2.5 3.1 15.7 1.6 3 1.5-2.9 2.9-16.5 1.6 2.6 1.6 6.3 1.5 1.8 1.6 5.4 1.5-1.1 3-10.5 1.5 1.6 1.6 5.5 1.5 1.7 3.1-7.4 1.5-8.7 1.5 .4 1.6 8.1 1.5 2.5 1.5 5.2 1.6 .2 1.5-5.5 3-18.6 1.6 1.7 1.5 5.8 1.6 0 1.5-7.7 1.5 2.4 3.1 18.7 1.5 4 3.1-7 3.1-11.3 1.5 3.4 1.5 9.2 3 5.8 3.1-9.7 1.6 .6 3 11.2 3.1-7 1.5-.6 1.6-8.6 1.5 1.5 3 16.3 1.5 .7 1.6-4.5 3.1-15.5 1.6 .5 3 10 1.5-4.3 3.3-28.1 1.5 4.1 2.9 22.1 1.6-4.6 1.6-12.8 1.6-4.3 1.5 6.2 1.7-14 1.6-4.7 2.7 29.7 1.5 6 1.6-4.4 3.3-19.2 1.4 5.9 1.4 14 1.4 7.2 3.3-14 2.8 17.7 1.4 6.3 1.5 2 1.6-1.9 3.2-12.6 1.6 .5 2.8 15.3 1.5 2.8 1.5-2.4 3.2-8.7 4.4 13.1 4.7-7 3 1.8 3 4.8 3.1-.1 4.5 1.1 4.5 3.6 3.1-1.9 1.5 .2 3 3.5 7.6 1.2 0 1.6z"/><path transform="matrix(1 0 0 1.0447 0 544.32)" d="M971 0l0-1.7 7.6-2.3 4.5-3.4 4.6 1.9 3-.6 3-3.6 4.4-8.9 1.6 1.2 3.2 5.3 3-2.2 1.5 1.1 3.1-.1 4.5-4.9 3.1 3.1 1.5 .7 4.5-6.9 3.1-2.3 3 .1 2.9-16.6 1.4-5.1 3.3 16.6 1.5-1.9 2.8-23 1.5-5.2 3.3 18.1 1.5-5.8 2.6-39.4 1.6 5 3.5 36.8 1.5-1.9 3.2 11.2 1.5 3 3-16.4 1.5 5.8 3.3 22.3 1.5 1.3 4.6-9.5 4.6 10.3 1.5-.7 3.1-8.3 1.5 .6 3.1 8.7 1.5 1.9 1.6-1.6 3-13.1 1.5 .1 1.6 2.8 1.5-5.8 1.5-2.5 1.5 0 3.1 5 1.6 .3 3 5.6 1.6-.3 3-17.1 1.6 1.9 3 17 3.1-5.9 1.5-1.5 1.6 .2 1.5-3.7 1.5-1.8 1.6 .8 3 9.2 1.6-5.3 1.5 2.8 3 12.6 1.5 0 4.7-11.1 1.5 1.2 3 7.8 1.6-.1 3.1-8.9 1.5-.7 3 8 1.6 .9 1.5-3.4 3.3-23.4 1.5-1 3 14.8 3.1-11.9 3.1-2.9 3.5-38.4 1.5 3.3 2.7 41.6 1.5-3.8 1.7-10.8 1.6-3.7 4.2 29.6 1.6-2.2 1.7-9.8 1.5-4.2 2.9 17.1 1.5 4.4 3 .3 1.5 1.1 1.5 1.5 3 5.4 1.5 .8 3.1-3.1 1.6-.5 3 4.4 3 .8 3.1-1.3 1.5 1.4 1.5-.2 3.2-5 1.5-.2 4.4 9.4 3 3 3.1 .2 4.6-1.7 3 2.9 7.6 2.6 0 1.8z"/><path transform="matrix(1 0 0 1.0455 0 545.74)" d="M970.9 0l0-1.4 3-1.2 3.1 .5 6-4.1 6.1 1 3-2.1 3-4.5 4.6-1.6 3.1 1.2 1.4-2.9 1.6-.1 3.1 5 1.5-.4 3-8.3 1.5-.7 3.2 7.3 1.5 1.5 1.5-.9 4.4-18 3.1 6.2 6.1-5.1 3-6.9 3-4.7 2.9-13.6 1.6 3 1.6 8.1 1.5-3.9 1.4-9 1.6-2.3 1.5-.4 1.4-13.8 1.6 9.1 3.4 32.1 1.5-1.7 1.5-3.8 1.6-.7 7.8 15.4 1.5 0 1.5-3.8 1.5-1.8 4.7 10.6 1.5-.1 3-7.7 1.6-.2 3.1 7.3 1.5 .5 3.1-3.4 4.6-.9 3-10.4 1.5-2.8 1.6 1.4 1.5-1.7 1.5 1.3 1.6 4.7 1.5 .3 1.6 2 3 6 1.6-.6 3-6.2 1.6-1.5 1.5-.1 1.5-6.1 1.6 2 1.5-1 1.5 .1 4.6 12.5 3.1 .6 4.6 3.9 1.5-1.2 3.1-7.2 1.5 1.8 1.5 4.6 1.6 2.3 1.5-.7 3.1-8.7 1.6-1.2 3 5.6 1.5-.7 6.3-13.2 1.5-1.9 3 5.8 1.6-2.2 3.4-34.8 1.6-1 1.3 15.2 1.6-3.8 1.5 4.7 1.4 10.9 1.6-3.1 1.6-7 1.6-.4 2.9 13.3 6 11.8 3 1.7 3.1 3.2 1.6-5.9 1.5 .3 2.9 14.3 1.4 3.2 1.6 .1 4.7-9 4.4 9.7 1.6-.2 3.1-5.1 3 4 1.6-1.6 1.5-.1 1.5 1 1.6-.4 5.9 7.2 3.1 .4 4.6-1 4.5 3.6 1.5 .4 3.1-.4 3 1.3 0 1.2z"/><path transform="matrix(1 0 0 1.0462 0 547.16)" d="M973.8 0l0-1.3 3-1.7 4.6 .5 1.5-.5 7.6-4.9 1.5-.3 3.1 1.3 1.5-.4 2.9-7.7 1.5-1.9 3.2 7.3 1.5-1.5 3-5.7 1.5-.9 3.2 7.8 1.5 .2 4.5-8.2 1.5-.5 3.2 3.5 1.5-1.9 2.8-16.5 1.6 1.9 3.2 11.5 1.5-.8 4.2-29.7 1.6 3.4 3.3 17.7 1.5-3.8 2.9-20.1 1.4-5.8 1.6 3.6 1.7 9.8 1.5 4.2 1.6 .4 1.4-10.2 1.5-3.6 4.9 29.6 1.6 3.9 1.5 .1 4.5-17.4 3.2 17.8 1.5 2.3 1.6 1 3-10.6 1.5 2.5 3.2 12.5 1.5-.4 3-12.4 1.5-1.2 1.6 6.1 1.5 .1 3.1 5.6 1.6-.8 3-12.4 1.5 .8 1.6 6.6 1.5 2.8 3.1-13.9 1.5 1.5 3.1 13.3 1.5 2.4 1.6-.4 1.5-3.6 3.1-13.3 1.5 1.8 3.1 12.8 3-11.3 1.6 2.1 3 12.2 6.2-8.7 1.5-4.3 4.6 15.2 1.5-1.8 3.1-13.1 1.6 .5 1.5 6.6 3 3.3 3.2-17.7 1.6-3.7 2.9 14.8 1.6 2.9 1.5-1.4 1.6-5.3 3.3-22.5 1.5-5.2 3 14.6 1.5-2 3.3-15.1 1.5-.4 4.3 27.1 1.6-.1 3.3-18.7 1.5 1.6 2.8 23.3 1.5 4.9 1.5-1 3.2-12.2 1.6 1.6 2.8 16.7 1.5-.6 3.1-3.1 1.6 1.3 2.9 6.3 1.5 1.5 1.6-1.5 3.2-7.2 4.4 7.6 1.6-.2 1.6-4.4 1.6-1.8 2.9 7.9 1.5 2.2 4.6-1.4 4.5 2.2 4.5 3.2 4.6-.4 4.6 2.1 0 1.1z"/><path transform="matrix(1 0 0 1.0470 0 548.58)" d="M976.7 0l0-1.7 7.6-1 4.5-5.7 1.6 .1 3.1 2.3 4.5-4.1 3.1 .6 1.5-1.2 4.4-9.2 1.6 1.2 3.2 7.1 3 .9 1.6-.4 2.9-7.5 1.5-.8 1.6 .8 1.5-1.1 3.1 2.5 1.5-.2 1.5-2.8 2.9-11.9 1.6-2 3.1 6.7 1.6 1.1 2.7-28.5 1.6 1.8 1.7 14.9 1.5-2.4 2.9-19.9 1.6 6.2 1.6 12.7 1.6 2.2 1.5-.4 1.5-4.5 1.6-.3 1.6 3.8 1.5-2.2 3.1 7.9 1.6 7.6 1.6-1.8 3.1 4.6 1.5 1.1 3.1-2.4 4.6 8 1.6 .3 3-2.1 4.6 3.4 3.1-1.7 3.1-5.1 1.5 1.5 1.5 4.3 1.6-1.2 1.5-.1 1.5-2.2 1.6-5.7 1.5 .8 3.1 10.9 1.5-.8 3.1-5.1 1.5-.9 1.6 .1 1.5 1.4 3.1 5 1.5-.6 3.1-11.2 1.5 1.8 1.5 6.3 3.1 .6 1.5-.4 1.6-4 1.5-.1 1.5 3.6 3.1 2.5 1.5 .4 3.1-3.2 1.6-.1 1.5 1.6 1.5 .4 1.6-.9 3.1-6.4 1.5-1.1 3.1 2.2 3.1-4.7 3.1-1.4 1.6-7.2 1.5-4.2 1.6-1.8 1.5 1.4 1.6-3.5 3 5.6 1.6-.2 1.6-5.7 1.6-12.3 1.6-1.4 2.9 19.7 1.6-3.1 1.7-13.8 1.4 5.6 1.4 16.7 1.4 7.7 3.2-6.5 1.5-1.2 4.4 15.1 1.5 1.8 3.1-2.2 1.6-.2 1.5 1.7 1.5-1.9 3 6.7 1.5 2.2 1.5 0 3.1-1.6 3.2-7.1 1.6 .1 4.4 9.5 4.6 0 3 3.3 1.5 .7 3.1-2.7 1.5 .7 3 4.5 1.5 .9 7.7 .9 0 1.6z"/><path transform="matrix(1 0 0 1.0477 0 550.00)" d="M979.7 0l0-1.4 4.5-2.1 4.6-.2 1.5-1.1 3-5 1.5 0 3.1 3.2 1.6 .2 4.4-7.1 1.6-.9 1.5 1.7 4.7 .6 1.5-.5 1.4-4.4 1.6-.4 1.6 3.8 1.5 1.4 3-8.6 1.5-1.6 3.1 6.9 1.6 .7 1.5-2.8 2.9-14.5 1.5-2.6 4.8 13.1 1.5-1 1.5-5.6 2.7-26 1.6 1.4 3.3 24.3 2.9-24.1 1.5-5.3 3.3 27.6 1.6 .7 4.4-20.9 1.6 2.4 4.8 24.1 1.6 5 4.5-12 4.7 15.2 1.5 .6 3.1-7.6 1.5 .4 3.1 9.2 1.6 2.2 1.5-1.5 3-11.8 1.6-.4 3.1 9.8 3-2.3 1.6 .1 3 .8 3.1 3.2 1.6-2 3-9.4 1.6 1.3 3 9.3 1.6 .4 3-3.1 3.1-.6 1.5 .3 3.1 1.9 3.1-10.6 1.5 3.2 3.1 10.9 1.5 .1 4.7-11.8 1.5 1.5 3 6.6 1.6-1.4 3.1-12.6 1.6-1.6 3 9.5 1.5 2.8 6.4-31.3 1.6 .3 4.4 22.3 4.9-31.3 2.8 25.5 1.6 2 3.3-24.6 1.5 4.9 1.4 15.2 2.9 14.1 1.5-1 3.2-10 1.6-2.4 4.4 18.5 1.5 1.6 4.7-7.9 2.9 8.8 1.6 1.1 3.1-5.3 3 5.6 4.6-.4 3.1-1.7 4.5 7 1.5 1.2 4.7-3.9 1.5 1 3 4.9 6.1 .8 3 1.6 0 1.8z"/><path transform="matrix(1 0 0 1.0485 0 551.43)" d="M979.5 0l0-1.6 9.2-1.6 4.5-3.2 3.1-.5 4.6-2.5 4.6 2.1 1.5-1.2 3-5.7 4.5-4.8 3.1 .8 1.5-1.3 3.2 7.6 1.5-.3 4.4-14.8 4.8 10.3 1.5-1.1 4.5-14.1 1.5-2.4 1.5 .2 3.2 6 1.5-.3 2.9-17.5 1.6 4.4 1.6 10.6 1.6 2.3 3-4.5 4.7-.1 3-10.2 1.5-1.4 4.8 17.4 4.6 9.7 1.6-.9 3-9.8 1.5 2.3 1.6 7.1 1.6 3.2 1.5-1.2 1.6 2.2 3-3.8 1.6 .8 1.5 2.4 1.5 .9 1.6-2.1 1.5-6 1.5-.4 3.1 10.9 1.6 2.2 1.5 .1 1.5-1.7 3.1-8.6 1.5 .5 1.6 3.1 1.5-2.7 1.6 .6 1.5 2.1 1.5-4 1.6 1.6 3 8.2 1.6 1.1 1.5-.8 1.6-3 3.1-10.4 1.5 2.9 1.5 6.1 1.5 .2 3.1-3.7 1.6 0 3 3.1 1.6-2.1 1.5 2.3 3.1-12.7 1.6 .3 3 9.9 1.5-.8 3.2-7.7 1.5-1.8 3.2-14.6 1.6-2.4 1.5 2.6 3 9.8 3.1-1.2 4.6 5 3.2-15.6 1.6-.4 2.9 16.9 1.5-1.2 3.2-5.6 1.5 .7 5.9 16.7 1.6-.1 3.2-8.9 1.5-.2 2.9 11.7 1.5 3 1.6-1.3 3.2-6.9 1.5 2.3 1.5-1.2 1.6-.2 4.5 5.6 3 5.4 1.5 .6 4.6-2.1 4.6 2.7 3 .6 4.6 3.1 9.1 1.5 0 1.5z"/><path transform="matrix(1 0 0 1.0493 0 552.86)" d="M984 0l0-1.5 4.6-2.5 4.6 1.1 1.5-1.5 3-5.2 1.5 .3 3.1 3.2 1.6 .2 1.5-.8 4.5-6.6 3-2.4 1.5-3.2 1.5-1.2 4.7 5.8 4.6-2.4 3-4.9 1.6-.1 3.1 4.9 1.6 1.2 1.5-1.9 2.9-17.1 1.4-4.3 3.3 14.8 1.5-.1 3.1-5.8 1.5-.9 3.1 2.7 1.6 4.4 1.5 .8 2.9-19.2 1.6-.6 3.2 18.4 3.1-6.1 1.5-5.9 1.5-2.5 3.2 14.2 1.5 4.5 1.6 1.1 3.1-3.8 3 1.5 4.7 6.8 3.1-3 1.5-3.2 1.5 .9 1.6 2.6 1.5 .8 1.6 2.2 1.5 1 3.1-.6 3.1 2.3 1.5 .4 3.1-1.9 4.6 .9 1.5-1 3.1 1.2 3.1-1.1 1.5 .2 3.1 1.8 3.1-2.4 4.6 .1 3.1-3.6 1.5-.4 1.6-3.4 1.5 .8 1.5 3.5 1.6 1.4 1.5-.1 3.1-5.3 3.1-2.2 1.5 0 3.1 4.2 3.1-7.8 3.2-13.1 3 9.7 1.5 3 1.6 1.4 3.2-19 1.5 5.3 1.4 11.4 1.5 4.8 3.2-5.7 1.5-1.8 1.6-.5 4.5 7 1.6-2.6 1.7-9 1.5-3.3 4.4 22.4 1.5 .6 4.7-6.3 1.5 .9 3 4.6 4.6 2.4 3.2-5.3 1.5-.7 3 5.5 1.6 .4 1.5 1.6 4.5 6.2 1.5 .6 1.5-.5 3.2-3.5 1.5 .8 3 5.3 1.5 .9 4.6-1.1 3 2.3 0 1.6z"/><path transform="matrix(1 0 0 1.0500 0 554.29)" d="M983.9 0l0-1.8 1.5-.4 3.1 .4 4.6-2.2 4.6-.1 7.6-4.9 4.6 .2 3-6.1 1.5-1.6 4.6 3.7 1.6-.8 2.9-9.2 1.6 2.5 1.6 5.1 3.1-1 1.5-1 2.9-10 1.6 .7 3.2 8.7 1.5 .5 2.9-16.6 1.6-.8 3.2 16 1.6 3 1.5-2.7 4.4-18.5 3.3 14.8 1.5 .6 3-13.9 1.5-1.4 3.2 14.4 1.6-.9 4.5-9.1 3.2 6.8 3.1 10.5 1.5 .3 1.6-2.5 3-9.4 1.6 2.9 1.5 6.9 1.6 3.6 3-6 1.6 1 3.1 8.1 1.5 2 1.6-.8 3-8.1 1.6-.4 1.5 4.5 1.6 .9 1.5 2.6 1.5 .7 3.1-4.8 1.6 .5 3 4.9 4.7-6.5 1.5-3.4 4.6 9.7 1.5-.2 4.7-10.6 1.5 .6 3.1 5.2 3.1-12.2 1.6-.3 3 9.8 1.5 1.5 1.6-2.3 3.1-9.9 3.2-5.5 4.5 10 1.6-2.3 3.2-12.9 1.5 4.4 1.4 8.3 1.5 3.8 1.6-3.6 1.7-9 1.5-3 4.4 20.4 1.6-.1 1.6-4.4 3.2-15.1 4.4 18.8 1.6-1.9 3.2-8.5 1.5 1.2 3 10.6 1.5-.6 1.5 1 1.6-1.6 1.6-4.9 1.6-.5 2.9 9.9 4.7-3.6 1.5-.3 4.5 8.1 3.1-1.2 3 1.4 4.6 3.4 4.6 .3 6.1 2.5 3.1-.5 1.5 .6 0 1.6z"/><path transform="matrix(1 0 0 1.0508 0 555.72)" d="M988.4 0l0-1.8 4.6-1.3 6.1 0 4.5-6.3 3.1 .9 3.1-1.8 3.1 1.2 1.5-.1 1.5-2.5 2.9-9.8 1.6 1 1.6 4.3 3-7.6 1.5-.8 3.2 7.8 1.5 0 3-7.5 1.6 1.1 1.6 4.1 6.1 .3 3.1-1 3.1 .3 4.6-2.7 3-6.5 1.6 2.2 1.5 1.1 1.6 .1 1.5-3 1.5-1.4 3.2 5.3 1.5 1.4 1.6-.5 4.5-14.9 1.5-.5 1.6 3.5 3.2 14.2 1.5 1 1.6-.7 1.5 .9 1.5-1 1.6-3.8 1.5 2.7 3.2 11.3 1.5 .7 4.6-2.9 4.6 2.9 3.1-.3 1.6-1.4 1.5 .3 4.6 4.5 1.6-.2 4.6-4.6 1.5 .3 1.6 1.5 1.5 .1 1.5-.3 3.1-2.6 1.6-.1 4.6 2.8 1.5-1.9 3.2-11.8 1.5-.3 1.5 4.7 3.1-1.5 1.6 1.4 4.7-17.3 1.5-2.5 1.6 2.3 3 10.9 1.5 2.9 1.6-.1 1.5-1.7 1.6-3.6 1.5-1 3.1 4.1 1.5 .4 1.6-3 1.6 .3 1.4 4.8 4.6 3.1 1.6 .4 1.5-.4 3.1 1.1 6.2-.1 1.5-1.6 1.6-3.6 1.6 .6 2.9 7.1 1.6-2.1 1.6-4.6 1.6-1.5 1.5 1.9 1.5 4.6 1.5 .8 1.6-4.2 1.5 1.2 3 9.7 1.5 1.6 4.6-1.2 3.1 2 1.5-1.4 1.6 .7 2.9 5 1.6 1 6.1-.1 4.6 1.4 0 1.6z"/><path transform="matrix(1 0 0 1.0516 0 557.16)" d="M994.4 0l0-1.6 4.6-2.5 3.1 .2 1.5-.8 3-5.9 1.5-.1 3.1 3.1 1.6-.5 4.5-6.5 3.1-1.3 2.9-11.4 1.5-1.4 3.2 9.5 1.5-5.4 1.6 1.9 3.2 10.8 1.5-2.9 3-10 3.2 10.2 1.6 3.4 1.5 .3 1.5-3.1 3-13.2 1.5 1.5 3.2 11.7 1.6 0 4.5-15.3 4.7 12.6 4.5-19 3.2 14.7 4.5-17.2 1.5-1.5 1.6 3.9 3.2 16.3 1.6 2.7 1.5-2 1.5-.6 4.7 4.2 3.1 4.7 1.5 .5 3.1-4.7 1.5 .8 3.1 6.3 1.6 .3 3.1-3.6 1.5-.3 3.1 4 3.1 .8 4.6-5 4.6 4.1 1.5-.9 3.1-6.4 1.6 .4 3.1 4.2 1.5-1.1 3.1-4.8 3.1-2.9 1.6-.6 3 2.9 4.8-21.2 1.5-2 1.6 2.8 3 12.2 1.5 1.5 1.6-9.1 1.6-3.1 3 16.1 1.5 2.3 3.2-10.7 1.5-1 3 12.1 1.5 3.1 1.6-1.7 3.2-12 1.5 1.6 3 13 1.5 2 1.5-1.4 3.3-10.8 1.5-1.6 3 11.1 1.5 .4 3.2-11.4 1.6 1 1.5 3.5 1.6-6.3 1.6-3 1.5 3.9 1.4 7.6 1.5 1.8 3.1 1.6 4.5 6.4 1.5-.1 3.2-3.1 1.5 1.2 3 5.7 4.6 .2 4.6 2.5 0 1.4z"/><path transform="matrix(1 0 0 1.0523 0 558.60)" d="M992.8 0l0-1.3 9.2-3 4.6-.6 1.5-1.1 4.5-6.4 1.6 .3 3.1 2.5 1.5 .3 1.6-1.3 2.9-6.1 1.5-4.9 1.6-.4 3.2 8.2 1.5 .3 3-6.3 3.2 6.9 1.6 1.5 4.5-4.1 1.6-.3 4.6 2.4 1.6-.8 3-7.1 1.5-.1 3.2 6.2 1.5 .9 1.6-2.4 3-10.5 1.5 1.6 1.6 5.5 1.6 .5 3-3.5 3.1 1.4 1.6-3 1.5-1.1 3.1-.6 1.5-1.9 4.7 14.7 1.6 2 1.5 .5 1.6-1.3 3-6.4 1.6 1.9 1.5 5.1 1.6 2.6 1.5 .4 3.1-3.4 1.6 .8 3.1 5.6 1.5 .2 4.6-4.9 1.6 .4 3 3.8 1.6 .8 1.5-.9 3.1-5.7 1.6 .4 1.5 2.7 3.1 0 3.1-9.1 1.5 0 3.1 6.4 1.6 .7 1.5-1 1.6-2.8 3.1-11.2 1.6-2.4 1.5 3.4 1.5-.8 1.6 0 3.1 3.9 1.5-1.1 1.6 .2 3 3.5 3.2-7.5 1.5 .6 3 10.9 1.5 .9 4.8-7.4 1.5 1.5 3 6.5 1.5 .2 3.2-2 1.5-.2 1.5 .6 3.1 3.3 1.5 .4 3.2-7.1 1.6-.9 3 6.1 1.5-1 3.2-8.2 6 13 1.5 .3 4.7-3.1 1.6 .3 4.5 6.6 13.8 3.8 0 1.7z"/><path transform="matrix(1 0 0 1.0531 0 560.04)" d="M995.7 0l0-1.7 6.2-1.8 4.6-.1 1.5-1 4.5-6.4 4.7 2.8 1.6-.4 6-8.8 1.5 .4 1.6 1.8 1.6-.5 4.6 1 3.1 3.1 3.1 1.3 1.6-2.2 1.5-4.5 1.5-1.4 3.2 7.5 1.5 .9 1.5-1.7 3.1-7 1.5-.4 3.1 4.9 1.6 0 4.6-5.9 1.5-4.5 1.5-1 3.2 9.9 3-13.5 1.5-3.4 3.2 12.3 1.5-.2 1.6-2.6 1.5-.6 4.7 10 1.6 1.6 4.6-2.7 10.8 6.7 7.7 1.5 3.1-2.5 1.6 .3 3 2.3 1.6-.2 6.2-1.6 3.1-2.5 3.1-.8 3.1-2.7 1.5-.5 3.1 2.5 1.5-.1 4.7-10 1.6-1.5 3 3.5 1.6-.3 1.6-8.3 1.6-3.6 3 14.4 1.5 .9 3.2-8.8 3 6.4 3.1 4.5 1.5 1.2 1.5-.5 3.2-4.9 1.5 1.6 3 7 1.6 .9 4.7-8.6 3 7.4 1.5 .6 6.3-4.4 1.5 .4 1.6-1 3.1-.3 1.5-1.6 1.6 .4 4.5 7.6 1.5 1.1 1.6-.1 3.1-2.3 1.5-.1 4.6 6.6 1.5 .7 4.6 .1 4.6 1.6 0 1.8z"/><path transform="matrix(1 0 0 1.0539 0 561.48)" d="M997.2 0l0-1.6 6.1-.6 3.1-2.9 1.5-.3 3.1 1 1.5-.6 6.1-7.5 1.5-.5 4.7 4 4.5-9.2 1.6 1.7 1.6 3.5 1.5-2.3 1.6-.5 3.1 1.1 1.5-1.2 3.2 6.1 1.5 1.2 3-6.6 1.6-1.8 3.1 6.2 1.6 1.7 1.5-1.1 3-9.9 1.6-1.3 3.1 8.6 1.6 1.7 4.5-14.3 1.6-.1 1.5 2.1 1.6 5.5 1.6-1.2 1.5-8 1.5-3.2 3.2 13.9 1.5 3.8 1.6-.6 3.1-6.6 1.5-1.6 6.2 12.7 4.7-5.1 1.5 1.5 3.1 5.8 1.6 1 1.5-.9 3.1-4.4 1.5 1.3 3.1 4.9 1.6-.4 3.1-5.3 1.5-.1 3.1 4.4 1.5 .3 1.6-1.5 3.1-5.9 1.5-.4 3.1 4.1 1.6 .2 4.6-10.6 1.6-1.6 4.6 8.7 1.5-.8 3.2-13.2 1.6-3.6 3 13.1 1.6-2.5 1.6-5.1 3 .2 3.1 10.2 1.5 3 4.7-10.3 4.5 12.3 1.6 0 3.1-6.2 1.6-1.3 3 7 1.6 1 1.5-1.4 1.6-3.9 1.6-1.8 1.5 1.1 3.1-.8 3.1 2.1 1.6-4 1.5 0 3 7.3 1.5 1 3.2-3.3 1.5-.4 1.6 1 6 7.3 1.6 .2 3.1-1 4.5 3.6 6.2 .4 0 1.5z"/><path transform="matrix(1 0 0 1.0547 0 562.93)" d="M1000.2 0l0-1.3 3-1.5 9.3-1 1.5-.8 4.5-7.7 3.2 3.5 4.6-2.1 3.1 2.2 1.5-.2 1.6-1.5 3-5.7 1.5-1.1 3.1 2.4 3.2 4 1.5 .2 1.6 .1 3.1-1.5 4.6 .9 1.6-.3 6.1-2.5 4.7 .5 6.1-6.5 1.6-3.8 1.5 2 1.6 5.2 1.6 1 3-1.8 3.1 2.1 1.6-.3 4.6-6.7 1.6 2.1 3.1 8.1 4.7 4.1 1.5 .2 4.6-2.4 3.1 2.8 3.1 1.2 3.1-1.6 4.7 1.5 6.1-3.9 4.7 2.5 1.5-.6 3.1-3.3 1.6-.6 3.1-9.3 1.6-.4 1.5 2.9 3.1 3.5 1.5 0 3.1-1.8 3.1 1.8 3.2-7.6 1.5 0 1.5 4.8 1.6 .5 4.6 4.6 3.1-.9 7.7 2.8 3.1-.1 1.6-.7 6.1 1.4 6.3-6.1 1.6-.4 4.5 7.3 1.5 1.2 1.6-.3 3.1-2.1 3.1 2 1.5-.4 1.6-2.4 1.6-.2 4.5 7.8 7.7 1.4 1.5-.3 3.1 1.4 0 1.7z"/><path transform="matrix(1 0 0 1.0554 0 564.38)" d="M1003.1 0l0-1.7 6.2-.7 4.6-3.5 3.1 1.2 1.5-.2 3-5.8 1.6-1.1 3.1 4.7 1.6 .9 1.6-.1 1.5-1 3-4.9 1.5-1.3 1.6 .8 1.5-1.6 1.6 0 3.1 2.3 1.5-1.3 3.2 5 1.6 1.3 1.5-1.7 3-6.6 4.7 7.4 1.6 .3 1.5-1.8 3-9.4 1.6-.8 3.1 7.1 3.1-3.2 1.6-.8 1.5 .4 4.7 5 1.5-3.3 1.5-6.1 1.6-2.6 3.1 11 6.2-5.2 3.1 7.5 1.6 2.3 1.5 .6 1.6-.5 3.1-3.4 1.5-.7 4.7 5.7 1.5-.2 3.1-2.8 1.6 .3 3.1 2.7 1.5-.2 3.1-4.5 1.6-1 4.6 4.4 1.5 .1 1.6-1.1 3.1-7.3 1.6-2 1.5 2.9 3.1 1 1.6-.3 1.5-6.5 1.6-2.8 3 10.3 1.6 1.4 4.7-4.9 1.5 0 4.6 3.9 3.2-7.7 4.6 11.5 1.5 1.1 1.5-.9 3.2-6.2 1.6-.2 3 7 1.5 .7 3.2-5.1 1.5-1.1 1.6 1.7 3.1-3 3.1 2 1.5-.7 3.1 4.7 3 2.5 1.6-.3 1.5-1.4 3.2-4.1 4.5 7.2 4.7-1.1 4.6 3.7 6.2 .5 0 1.6z"/><path transform="matrix(1 0 0 1.0562 0 565.83)" d="M1003 0l0-1.7 12.4-1.9 15.4-4.9 4.7 2 1.5-1.4 3-5.6 3.2 3 3.1 1.5 3-2.7 3.2 3.3 1.5 .6 4.7-2.6 6.2-.5 1.5-1.8 1.5-4.8 1.6-.7 3.1 8.1 1.6 1.6 1.5-.5 1.6-2.1 3-6.8 1.6 1.3 1.6 4.1 1.5 1.1 1.6-1.1 1.5-3 1.5-.5 3.2 5.9 1.5 .7 1.6-.6 3.1-3.5 7.7 7.3 1.6-.7 3.1-4.4 1.5 1.2 3.1 4.8 1.6-.5 3.1-5 1.5-.1 3.1 4.5 1.6 0 7.7-7 3.1 3.7 1.6 .2 4.6-6.8 3.1 4.5 1.6 .3 3.1-6 1.6 .2 3 7.1 1.6 1.6 1.5-.2 4.7-9.8 3.1 7.3 7.7 .9 4.6 2.6 3.2-3.5 1.5-.2 1.6 2 1.5 .2 3.1-1.3 1.6-2.3 1.6-.2 3 5.9 1.5 .6 3.1-1.8 1.6 .1 7.7 2.8 12.3 2.3 3.1 1.4 3.1 0 0 1.8z"/><path transform="matrix(1 0 0 1.0570 0 567.29)" d="M1007.6 0l0-1.6 6.2-.7 3-1.6 6.2 1 1.6-1 3-4.7 1.6-.2 3.1 3.4 1.6-.1 3-2.5 7.8-1.2 4.6-2.2 7.8 3.2 3-5.8 3.2 4.3 7.7-1.1 4.7 1.4 3.1-2.6 1.5-.5 1.6-1.7 3.1 3.1 1.5 .1 3.1-2.4 4.7 5.1 3.1-2.5 1.5-3.2 1.6-.4 3.1 6.7 1.6 1 3.1-1.9 4.6 .2 3.1-.9 3.1 .9 4.7-.4 4.6 2.1 4.7-8.1 4.6 6.3 1.6-.3 3.1-4 1.6-.5 3 2.2 1.6 0 1.6-3.1 7.7 4.9 3.1-1.3 9.3 .7 1.6-3.2 1.6-.6 3 5.8 4.7-2.8 3.1-.7 6.2 2.7 4.6 .2 4.6 3.2 1.6-.4 3.1-3.4 1.6 1.1 3 4.5 1.5 .7 4.7-1.2 3.1 1.5 6.2 .7 0 1.8z"/><path transform="matrix(1 0 0 1.0578 0 568.75)" d="M1012.1 0l0-1.7 1.6-.5 4.6 .5 4.6-1.8 4.7-.3 1.5-.4 3.1-3 1.5-.6 4.7 2.6 1.6-.1 4.6-5.9 1.5 .4 3.1-3.1 1.6-.1 3.1 2.6 1.5 .4 3.2 3.5 1.5-.2 3.1-5.3 3.1 5.1 1.6 1.8 1.6 .4 1.5-1.1 3.1-6.4 1.5-.7 3.2 6.4 1.5 1.1 4.6-6.7 4.7 6.2 1.6-1 3.1-5.9 1.5-.3 3.1 6.1 1.6 .6 3.1-4.4 1.5-1.1 3.2 4.6 1.5 1.6 1.6 .1 4.6-6.6 1.6 .5 3.1 5.2 1.5 1.1 1.6-.7 3.1-4.7 1.5-1.1 3.1 4.8 1.6 .7 1.5-1.5 3.2-5.6 4.6 7.2 1.6-.1 3.1-5.1 1.5-.2 3.1 5.4 1.6 .9 4.7-7.8 4.6 7.9 1.5 .6 1.6-.8 3.1-5.6 1.6-.6 3 5.8 3.2-3.5 1.5-.4 4.7-3.3 1.6 .6 1.5 2 3.1 .8 3.1 4.7 1.5 .9 6.2-2.7 4.6 3.8 4.7 .3 6.2 2.1 3.1-.7 3.1 .8 0 1.5z"/><path transform="matrix(1 0 0 1.0585 0 570.21)" d="M1018.2 0l0-1.6 4.7-1.3 4.6 .4 6.2-3.6 3.1 .9 4.6-1.6 3.2 .9 1.5-.9 4.6-5.9 1.6-.1 3.1 4.3 3.1-1.7 3.1 3.3 1.6 .7 3.1-1.2 9.3-.2 3.1-1.7 1.6 0 3.1 2.4 1.5 .5 6.2-3.5 4.7-.7 3.1 1.6 1.6-.1 4.6-1.8 3.1 .9 4.7-.6 3.1 2 4.7-2.1 3.1 .7 4.7-.9 4.6 1.9 1.6-.1 3.1-1.6 4.6 .9 4.7 3.1 1.5 .2 4.7-3 3.1 1.8 9.3 .2 4.7 1.3 3.1-3.5 1.6-.4 1.5 1.7 1.6-.8 3.1-3.8 1.6 .7 4.6 6.2 4.6-.6 4.7 1.5 3.1-.8 4.6 3.2 1.6 .4 4.6-.4 4.7 1.3 0 1.5z"/><path transform="matrix(1 0 0 1.0593 0 571.67)" d="M1024.4 0l0-1.5 3-1.7 4.7 .8 1.6-.5 4.6-4.4 3.1 2.4 3.1 .5 3.1-1.8 3.1-4.1 3.1 2.2 4.7 .3 6.2 3.2 4.6-5.3 4.7 5.3 1.6-.5 3.1-3.2 1.5-.3 4.7 3.5 1.6-.4 4.6-5.4 3.1 4 1.6 .7 3.1-6.2 1.5-1.3 3.2 5.6 1.5 .9 4.7-9.4 3.1 5.9 1.6 2.1 1.5 .6 3.1-1.1 3.1-6.5 1.6-.7 3.1 7.7 1.6 1.5 4.6-6.7 3.1 6.3 1.6 1.3 3.1-3.8 1.6-.8 4.6 5.6 1.6-.1 4.6-3.5 4.7 4 1.5 .1 3.2-4.5 1.5-.5 3.1 4.5 1.6 .5 4.7-2.8 6.2-.7 1.6-1.9 1.5 .3 3.1 4.1 1.5 1 3.1 .3 4.7-2.8 4.6 4.6 4.7-.7 4.6 2 0 1.3z"/><path transform="matrix(1 0 0 1.0601 0 573.14)" d="M1027.4 0l0-1.6 20.1-4.6 3.2 .4 3-3.7 1.6 .7 3.1 3.9 1.6 .5 4.6-3.4 4.7 3.2 4.7-2.8 4.7 3.3 1.5-.1 4.7-4.1 1.5 .1 3.2 2.8 1.5 .4 1.6-1.2 3.1-4.6 1.5 .9 1.6 2.3 1.5-.1 4.7-6.5 3.1 3.7 1.6 .2 6.2-5.7 1.6 .3 1.5 2.5 4.7 3 3.1-3.3 1.6-.5 3.1 5.4 1.5 1.2 1.6-.9 1.6-2.2 1.5 .1 3.1 4.9 1.6 .5 4.7-3.5 1.5 .6 3.1 3.1 1.6 .7 1.5-.1 3.1-2.7 1.6-.5 3.1 2.7 1.5 .1 3.2-2.8 1.5-.2 4.7 3.3 1.5-1 3.2-4 1.5 .1 3.1 3.8 3.1-.8 3.1 1.3 15.6 3.1 0 1.8z"/><path transform="matrix(1 0 0 1.0609 0 574.60)" d="M1030.4 0l0-1.7 3.1-.9 4.7 .6 6.2-4.7 3.1 1.9 3.1-.9 4.7 .9 7.7-2.1 3.2 .5 3.1 1.7 4.7-.7 6.2 1.5 4.7-3.1 4.6 1.7 12.5-4.4 3.1-4.1 1.6 .4 3.1 3.7 1.5-.2 4.7-14.7 1.6 1 4.6 14.6 4.7-4.8 1.6 .3 3.1 4 10.9 4.1 1.5 .1 3.2-1.7 6.2 3.2 4.7-1.6 6.2 .7 4.7-2.2 9.3 2.2 4.7-1 3.1 1 3.1-2 4.6 4.3 1.6 .5 4.7-.7 3.1 1.1 0 1.5z"/><path transform="matrix(1 0 0 1.0616 0 576.08)" d="M1035 0l0-1.6 7.8-1.5 4.6-3.1 3.2 2.3 4.6 .4 4.7-3.8 1.5 .6 3.2-.5 3.1 2 1.5-.7 4.7 3 1.6-.3 3.1-2.7 1.6-.6 4.6 3.3 1.6-.6 3.1-4.2 1.6-.3 3.1 3.3 1.5 .1 4.7-7.6 1.6 .4 3.1 4.1 1.6-1.1 3.1-5.1 1.5-1.3 1.6 .4 3.1-2.5 1.6 .3 1.5 1.8 3.2 .3 4.6 6.7 1.6 .1 3.1-4.2 1.6 .7 3.1 6 1.5 1.2 1.6-.7 3.1-3.1 4.7 5.1 1.5 .1 4.7-3.3 4.7 3.7 1.5-.2 3.2-2.4 1.5-.4 1.6 .8 3.1-2.3 1.6 .6 3.1-.2 3.1 3 3.1 .7 1.6-.2 4.7-2.7 3.1 2.9 9.3 1.9 0 1.4z"/><path transform="matrix(1 0 0 1.0624 0 577.55)" d="M1036.5 0l0-1.6 20.2-2.8 4.7 .8 3.1-2.3 4.7 2.8 6.3-1.1 14-.4 6.2-3.7 4.7 1.3 4.7-3.3 3.1-.3 3.1-7.2 1.6 .7 3.1 6.3 1.6-.3 3.1-6.7 1.6 .9 3.1 6.5 3.1 .3 4.7 3.2 4.7-1.3 4.6 3.3 15.6 .8 6.3 .9 3.1-2.5 1.6 0 3.1 2.3 4.7-1 3.1 .9 14 1.2 3.1 .9 0 1.4z"/><path transform="matrix(1 0 0 1.0632 0 579.03)" d="M1039.5 0l0-1.5 1.6-.6 3.1 .4 0 1.7zM1047.3 0l0-1.5 6.2-3.2 4.8 2.2 4.6-1.3 4.7 .1 3.1-1.1 4.7-.1 4.7 2.3 4.7-3.3 4.7 2.4 1.5-.7 3.1-3.8 1.6-.9 4.7 2.9 1.6 0 1.5-1.4 3.1-8.4 1.6 .2 3.1 6.5 1.6-1.1 3.1-8.9 1.6 1 3.1 8.8 1.6-.7 3.1-6.4 1.6 1.7 3.1 7.9 1.5 .9 1.6-.2 3.1-2.4 1.6-.4 4.7 5.1 1.5 .4 3.1-2.1 1.6-.3 3.1 2.8 1.6 .4 4.7-2.4 1.5 .7 3.2-.3 1.5 1.1 6.3-.2 4.6 1.2 4.7-2.2 4.7 3 0 1.7zM1187.8 0l0-1.6 3.1-.6 3.1 .9 0 1.3z"/><path transform="matrix(1 0 0 1.0640 0 580.51)" d="M1048.8 0l0-1.8 9.4-1.6 4.7 1.1 3.1-.1 4.7-2.8 4.7 2.7 4.7-2.2 4.7 1.6 4.6-3.5 4.7 2.2 1.6-.4 4.7-3.7 3.1-.8 3.1 .4 3.2-1.7 1.5-2.3 1.6-.8 1.5 1.3 3.2 .1 3.1-1.4 3.1 3.6 3.2 1.1 3.1-.2 3.1 .9 4.7 3.7 1.6 .1 3.1-1.9 1.6 .1 3.1 2.9 1.5 .4 4.7-1.6 3.1 1.9 1.6 .2 3.1-2.3 1.6-.3 4.7 2.8 7.8-1.1 3.1 1 6.3 .6 0 1.8z"/><path transform="matrix(1 0 0 1.0648 0 581.99)" d="M1053.5 0l0-1.3 4.6-1.5 4.7 .8 4.7-1.1 15.7-.5 7.8-2.2 4.7 1.5 1.5-.4 1.6-1.8 3.1-5 4.7 4.8 1.6-.8 3.1-4.9 1.6-.4 3.1 3.4 1.6 0 3.1-3.6 4.7 5.9 1.6 .4 3.1-4.3 1.6-.1 3.1 5.4 1.5 1.3 6.3-1.4 4.7 1.8 3.1 .5 14.1 .3 6.2 1.2 4.7-.7 3.2 1 0 1.7z"/><path transform="matrix(1 0 0 1.0656 0 583.47)" d="M1059.7 0l0-1.6 4.6-1.4 6.3 1 4.7-2.3 6.3 1.1 3.1-2.5 4.7 2.4 1.6-.4 4.6-3.4 1.6-.1 3.1 1.6 1.6 0 1.6-1.2 3.1-4.7 1.6 1 3.1 4.2 1.6-.5 3.1-5.2 1.6 .7 3.1 5.1 1.6-.5 3.1-4.5 1.6 .1 3.1 5 1.6 .6 4.7-1.8 1.5 .4 4.7 3.5 1.6-.1 3.1-2.1 1.6 .1 3.1 2.6 6.3-1.3 4.7 2.3 6.2-1.1 4.7 1.6 0 1.4z"/><path transform="matrix(1 0 0 1.0664 0 584.96)" d="M1061.2 0l0-1.7 10.9-.9 3.2 .3 1.5-.5 3.2-2.4 1.5 .1 3.2 1.7 7.8-1.2 3.1-2.6 1.6-.1 3.1 2.1 1.6-.2 4.7-2.8 4.7 .2 4.7 1.9 4.7-1.6 6.3-.3 4.7 2.8 1.6-.1 3.1-2.2 4.7 2.9 7.8 1.1 3.2-1.8 1.5 .4 3.1 2.4 12.6 .3 3.1 .7 0 1.5z"/><path transform="matrix(1 0 0 1.0671 0 586.45)" d="M1065.8 0l0-1.7 3.2-1.1 4.7 .9 6.2-2.1 4.7 .1 3.2-2.5 3.1-.7 1.6 .4 3.1 2.8 1.6-.2 3.1-4.1 1.6-.1 3.1 3.8 1.6 .2 3.1-3.4 1.6-.7 4.7 4 1.6-.1 4.7-3.9 4.7 4.3 1.6-.8 3.1-3.8 4.7 5 4.7-3.3 1.6-.1 6.3 3.1 4.7 .1 6.2 2.1 4.7-1 3.2 1.4 0 1.4z"/><path transform="matrix(1 0 0 1.0679 0 587.95)" d="M1068.9 0l0-1.5 4.7-1.5 7.9 .2 3.1-1.7 3.1-3.4 1.6-.5 4.7 3.6 3.2-1 4.7 .9 3.1-1.4 4.7 2.4 1.6 .1 4.7-2.9 1.6 .2 3.1 2.4 1.6 .4 4.7-2.5 1.6 0 3.1 1.3 4.7-.9 3.2 .9 4.7-3.6 6.2 5.4 3.2 .6 6.3-.4 3.1 1.1 0 1.8z"/><path transform="matrix(1 0 0 1.0687 0 589.44)" d="M1070.4 0l0-1.7 3.2-1.1 4.7 .5 3.1-.4 6.3-2.7 4.7 1 3.2-1.5 1.5 .1 3.2 1.9 4.7-1.3 6.3 2 4.7-2.2 6.3 2.2 4.7-2 6.3 1.2 3.1-2 3.2 1.5 6.3-.9 6.2 2.8 7.9-.2 3.1 1.4 0 1.4z"/><path transform="matrix(1 0 0 1.0695 0 590.94)" d="M1075.1 0l0-1.8 6.3-1.8 6.3 .5 3.1-2.9 1.6-.6 3.2 3 1.5 .1 3.2-1.9 4.7 2.8 1.6-.1 4.7-2.4 4.7 2.7 1.6-.1 4.7-2.7 4.7 2.7 1.6-.3 3.1-2.5 1.6 .1 3.2 2 4.7-3.5 4.7 3.8 6.3-.6 6.3 1.9 0 1.6z"/><path transform="matrix(1 0 0 1.0703 0 592.44)" d="M1076.7 0l0-1.8 3.1-1.9 4.7 1.1 4.7-1.3 3.2 .4 4.7-1.7 1.6 0 3.1 2.2 9.5-.3 4.7 .8 6.3-.8 9.5 .2 3.1-2.4 3.2 .7 1.5 1 4.8-.1 4.7 1.4 3.1-1.2 1.6 .2 3.1 1.9 0 1.6z"/><path transform="matrix(1 0 0 1.0711 0 593.95)" d="M1079.8 0l0-1.6 4.7-2.3 4.7 1.4 6.3-1.2 6.3 1.1 4.8-1.2 4.7 2.1 4.7-2 4.7 1.9 1.6 0 4.7-2.1 3.2 1.3 6.3-1.1 6.3 1.4 4.7-1.7 4.7 2.2 0 1.8z"/><path transform="matrix(1 0 0 1.0719 0 595.46)" d="M1081.3 0l0-1.7 7.9-1.2 7.9 .9 4.7-2.1 4.7 2.3 4.8-.9 4.7 .7 4.7-.7 6.3 .8 4.8-2.1 4.7 2 6.3-.9 9.5 1.4 0 1.5z"/><path transform="matrix(1 0 0 1.0727 0 596.97)" d="M1086 0l0-1.6 3.2-1.1 4.7 1 4.7-.7 12.7-.1 4.7 .9 4.7-.8 12.7-.1 6.3 .8 4.7-.9 3.2 1.2 0 1.4z"/><path transform="matrix(1 0 0 1.0735 0 598.48)" d="M1092.3 0l0-1.8 3.2-.6 3.1 .8 0 1.6zM1103.4 0l0-1.5 4.7-1.3 3.2 1.1 4.7-.7 6.3 .8 3.2-1.3 3.1 1.1 0 1.8zM1135 0l0-1.7 3.1-.7 3.2 .8 0 1.6z"/><path transform="matrix(1 0 0 1.0743 0 600.00)" d="M1109.7 0l0-1.7 6.3-1 7.9 1.1 0 1.6z"/><path transform="matrix(1 0 0 1.0751 0 601.52)" d="M1112.8 0l0-1.8 3.2-.9 4.8 .9 0 1.8z"/><path transform="matrix(1 0 0 1.0759 0 603.04)" d="M1114.4 0l0-1.7 1.6-.4 3.2 .6 0 1.5z"/></g>
<path d="M865.8 521.8L1116.5 645.5L1367.2 521.8" fill="none" stroke="#000" stroke-width="1.6"/>
<g stroke="#000"><path d="M1116.0 645.2l4.9 3.5" stroke-width="3.4"/><path d="M1117.0 645.2l-4.9 3.5" stroke-width="3.4"/><path d="M1142.9 631.9l4.2 3.1" stroke-width="2.0"/><path d="M1090.1 631.9l-4.2 3.1" stroke-width="2.0"/><path d="M1169.4 618.8l4.2 3.1" stroke-width="2.0"/><path d="M1063.7 618.8l-4.2 3.1" stroke-width="2.0"/><path d="M1195.4 606.0l4.2 3.1" stroke-width="2.0"/><path d="M1037.7 606.0l-4.2 3.1" stroke-width="2.0"/><path d="M1221.0 593.3l4.9 3.5" stroke-width="3.4"/><path d="M1012.0 593.3l-4.9 3.5" stroke-width="3.4"/><path d="M1246.3 580.9l4.2 3.1" stroke-width="2.0"/><path d="M986.8 580.9l-4.2 3.1" stroke-width="2.0"/><path d="M1271.1 568.6l4.2 3.1" stroke-width="2.0"/><path d="M962.0 568.6l-4.2 3.1" stroke-width="2.0"/><path d="M1295.6 556.6l4.2 3.1" stroke-width="2.0"/><path d="M937.5 556.6l-4.2 3.1" stroke-width="2.0"/><path d="M1319.6 544.7l4.9 3.5" stroke-width="3.4"/><path d="M913.4 544.7l-4.9 3.5" stroke-width="3.4"/><path d="M1343.4 533.0l4.2 3.1" stroke-width="2.0"/><path d="M889.7 533.0l-4.2 3.1" stroke-width="2.0"/><path d="M1366.7 521.4l4.2 3.1" stroke-width="2.0"/><path d="M866.3 521.4l-4.2 3.1" stroke-width="2.0"/></g>
<path d="M1473.1 522.7 L1721.8 416.1 L1721.8 181.7 L1463.3 274.3 Z" fill="#fdfdfd"/>
<path d="M1970.5 522.7 L1721.8 416.1 L1721.8 181.7 L1980.2 274.3 Z" fill="#fdfdfd"/>
<path d="M1463.3 274.3L1721.8 181.7L1980.2 274.3" fill="none" stroke="#f5f5f5" stroke-width="3.5" stroke-linejoin="round"/>
<path d="M1721.8 181.7L1721.8 416.1" fill="none" stroke="#efefef" stroke-width="3.5"/>
<path d="M1473.1 522.7L1721.8 416.1L1970.5 522.7" fill="none" stroke="#efefef" stroke-width="8" stroke-linejoin="round"/>
<path d="M1721.8 646.4 L1970.5 522.7 L1721.8 416.1 L1473.1 522.7 Z" fill="#d7d7d7"/>
<g fill="url(#sg)"><path transform="matrix(1 0 0 0.9770 0 416.66)" d="M1720.4 0l0-4.2 2.8 0 0 4.2z"/><path transform="matrix(1 0 0 0.9776 0 417.85)" d="M1717.6 0l0-8.2 2.8 4.1 1.4 .4 1.4-.4 2.8-4.1 0 8.2z"/><path transform="matrix(1 0 0 0.9783 0 419.05)" d="M1714.8 0l0-6.4 1.4 .7 5.6-2.6 5.6 2.6 1.3-.7 0 6.4z"/><path transform="matrix(1 0 0 0.9789 0 420.24)" d="M1712 0l0-10 4.2 3.8 1.4-.1 4.2-8.1 4.2 8.1 1.4 .1 4.1-3.8 0 10z"/><path transform="matrix(1 0 0 0.9796 0 421.44)" d="M1709.2 0l0-8.9 1.4 2.5 1.4 .7 1.4-1.4 2.8-6.4 1.4-1.2 2.8 5 1.4 .9 1.4-.9 2.8-5 1.4 1.2 2.8 6.4 1.3 1.4 1.4-.7 1.4-2.5 0 8.9z"/><path transform="matrix(1 0 0 0.9803 0 422.64)" d="M1706.4 0l0-6.8 1.4-.1 5.6-2.7 2.8-4.7 1.4-1.1 2.8 3.7 1.4 .7 1.4-.7 2.8-3.7 1.4 1.1 2.8 4.7 5.5 2.7 1.4 .1 0 6.8z"/><path transform="matrix(1 0 0 0.9809 0 423.84)" d="M1703.6 0l0-10.1 2.8 4.3 1.4 .3 1.4-1.3 2.8-8.7 1.4-1.7 2.8 7.1 1.4 .4 2.8-18.5 1.4-1.9 1.4 1.9 2.8 18.5 1.4-.4 2.8-7.1 1.4 1.7 2.8 8.7 1.4 1.3 1.4-.3 2.8-4.3 0 10.1z"/><path transform="matrix(1 0 0 0.9816 0 425.05)" d="M1700.8 0l0-7.3 1.4 1.2 1.4-.6 4.2-4.7 1.4-.4 2.8 1.2 1.4-.4 1.4-1.6 1.4-3.5 4.2-23.5 1.4-3.3 1.4 3.3 4.2 23.5 1.4 3.5 1.4 1.6 1.4 .4 2.8-1.2 1.4 .4 4.2 4.7 1.4 .6 1.4-1.2 0 7.3z"/><path transform="matrix(1 0 0 0.9823 0 426.26)" d="M1698 0l0-9.8 5.6 2.5 1.4-1.9 2.8-8 1.4 1.3 2.8 6.3 5.6-24.2 1.4-2.5 2.8-.3 2.8 .3 1.4 2.5 5.6 24.2 2.8-6.3 1.4-1.3 2.8 8 1.4 1.9 5.6-2.5 0 9.8z"/><path transform="matrix(1 0 0 0.9829 0 427.46)" d="M1695.1 0l0-11.6 2.9 5 1.4-.5 4.1-10.4 4.3 7.7 1.4-1.4 7-20.8 1.4-1 4.2 2 4.2-2 1.4 1 7 20.8 1.4 1.4 4.2-7.7 4.2 10.4 1.4 .5 2.8-5 0 11.6z"/><path transform="matrix(1 0 0 0.9836 0 428.68)" d="M1692.3 0l0-9 1.4 .8 1.4-.6 2.8-2.8 5.6-3.8 2.8 1.1 1.4-.9 1.4-8.7 1.4-3.9 1.4-1.8 1.4 .3 2.9 2.4 1.4 .2 4.2-2.3 4.2 2.3 1.4-.2 2.8-2.4 1.4-.3 1.4 1.8 1.4 3.9 1.4 8.7 1.4 .9 2.8-1.1 5.6 3.8 2.8 2.8 1.4 .6 1.4-.8 0 9z"/><path transform="matrix(1 0 0 0.9843 0 429.89)" d="M1689.5 0l0-14.3 2.8 5.3 1.4 .9 1.4-.8 4.2-12.2 4.2 10.1 1.4-2.8 2.8-12.8 2.8-8.5 1.4 .6 2.8 6.6 2.9 3.7 4.2-.5 4.2 .5 2.8-3.7 2.9-6.6 1.4-.6 2.8 8.5 2.7 12.8 1.4 2.8 4.3-10.1 4.2 12.2 1.4 .8 1.4-.9 2.8-5.3 0 14.3z"/><path transform="matrix(1 0 0 0.9850 0 431.10)" d="M1686.6 0l0-10.1 1.5 1.3 1.4-.1 4.1-8.4 1.4-1 2.9 4.4 1.4 .8 1.4-1.5 1.4-4.4 1.4-9 1.4-3.4 1.4-1 4.2 2.1 4.2 0 5.7 9.4 1.4 .5 1.4-.5 5.6-9.4 4.3 0 4.2-2.1 1.4 1 1.4 3.4 1.4 9 1.4 4.4 1.4 1.5 1.4-.8 2.8-4.4 1.4 1 4.2 8.4 1.4 .1 1.4-1.3 0 10.1z"/><path transform="matrix(1 0 0 0.9856 0 432.32)" d="M1683.8 0l0-16.2 2.8 6.9 1.4 .5 1.4-1.2 1.4-3.2 2.8-9 1.4 .1 2.9 7.2 1.3-4.3 2.8-18.3 1.4-4.4 1.4-1.2 5.7 15.2 1.4 .7 2.8-.9 1.4 .3 4.3 5.6 1.4-2.3 1.4 2.3 4.2-5.6 1.4-.3 2.9 .9 1.4-.7 5.6-15.2 1.5 1.2 1.4 4.4 2.7 18.3 1.4 4.3 2.9-7.2 1.4-.1 2.7 9 1.4 3.2 1.4 1.2 1.4-.5 2.9-6.9 0 16.2z"/><path transform="matrix(1 0 0 0.9863 0 433.54)" d="M1680.9 0l0-11.4 1.5 1.6 1.4-1.1 2.8-5.1 2.8-2.6 1.4 .8 2.8 4 1.4-.8 2.8-21.3 1.3-5.1 2.9-3.3 1.4-.1 5.7 8.4 4.2 10.5 1.4 1.6 1.4-.9 1.4-3.1 1.5 1.6 2.8-2.7 2.8 2.7 1.4-1.6 1.4 3.1 1.4 .9 1.5-1.6 4.2-10.5 4.3-6.7 1.4-1.7 1.4 .1 2.8 3.3 1.4 5.1 2.8 21.3 1.4 .8 2.8-4 1.4-.8 2.8 2.6 2.8 5.1 1.4 1.1 1.4-1.6 0 11.4z"/><path transform="matrix(1 0 0 0.9870 0 434.76)" d="M1678.1 0l0-13.3 4.2 2.3 1.4-.2 1.4-3.5 2.8-12.4 1.4 2.5 2.9 9.6 4.1-30.7 1.4-7.1 1.4-2.3 1.4 3.1 2.9 11.3 1.4 1.7 2.8-.3 1.4 1.7 5.7 12.4 1.4 .9 1.4-1.4 2.9-5.6 1.4-1.2 1.4 1.2 2.8 5.6 1.4 1.4 1.4-.9 5.7-12.4 1.4-1.7 2.9 .3 1.4-1.7 2.9-11.3 1.4-3.1 1.4 2.3 1.4 7.1 4.1 30.7 2.9-9.6 1.4-2.5 2.7 12.4 1.4 3.5 1.4 .2 4.3-2.3 0 13.3z"/><path transform="matrix(1 0 0 0.9877 0 435.98)" d="M1675.2 0l0-14.5 1.5 4.2 1.4 1.9 1.4-.9 4.1-14.8 4.3 8.8 1.4-2.3 2.7-22.9 4.2-13.1 2.9 1.6 4.2 5.8 4.3 10.3 4.3 3 2.8-1.6 1.4 .1 4.3 5.3 1.4-5.1 1.4 5.1 4.2-5.3 1.5-.1 2.8 1.6 4.2-3 4.3-10.3 4.3-5.8 2.8-1.6 4.2 13.1 2.8 22.9 1.4 2.3 4.2-8.8 4.2 14.8 1.4 .9 1.4-1.9 1.5-4.2 0 14.5z"/><path transform="matrix(1 0 0 0.9883 0 437.21)" d="M1672.4 0l0-9.2 1.4 0 9.8-10.7 2.8 .6 4.1-37.2 1.4-6.2 1.4-1 2.9 12.2 1.4 3.4 1.5 1.1 2.8-.9 1.4 .6 5.7 13.6 1.4-.8 2.9-7.1 1.4-1.3 1.4 1.1 4.3 11.7 1.4 1.8 1.4-1.8 4.3-11.7 1.4-1.1 1.4 1.3 2.8 7.1 1.4 .8 5.7-13.6 1.5-.6 2.8 .9 1.4-1.1 1.5-3.4 2.8-12.2 1.5 1 2.7 16.5 1.4 18.1 1.3 8.8 2.9-.6 9.8 10.7 1.4 0 0 9.2z"/><path transform="matrix(1 0 0 0.9890 0 438.43)" d="M1669.5 0l0-11.5 4.3 3.1 1.4-.6 4.1-16.5 2.9 9.7 1.4 2.5 6.8-50.9 1.5-2.1 1.4 2.5 5.8 16.5 4.2 5.3 2.9 .3 4.2-4.1 1.4 1.7 2.9 1 2.8 3.1 1.4 .5 2.9-2.5 2.8 2.5 1.4-.5 2.9-3.1 2.8-1 1.4-1.7 4.3 4.1 2.8-.3 1.5-1.3 2.8-4 5.8-16.5 1.4-2.5 1.4 2.1 6.8 50.9 1.5-2.5 2.9-9.7 4.1 16.5 1.4 .6 4.3-3.1 0 11.5z"/><path transform="matrix(1 0 0 0.9897 0 439.66)" d="M1666.7 0l0-8.1 1.4 1.4 1.4 .1 1.4-1.3 4.2-10.6 2.8 4.8 1.4-.4 2.8-8.4 1.4-9.6 2.8-12 1.4-2.3 1.4-.1 1.4-2 4.2-9.9 1.4 0 1.5 2.9 4.3 14.6 1.4 1 1.4-2 4.3-13 1.4 .4 4.3 13.1 1.4 0 2.8-10.2 1.5-3.3 1.4-.7 1.4 .7 1.4 3.3 2.9 10.2 1.4 0 4.3-13.1 1.4-.4 4.2 13 1.4 2 1.5-1 4.3-14.6 1.4-2.9 1.4 0 4.3 9.9 1.4 2 1.4 .1 1.4 2.3 2.8 12 1.3 9.6 2.8 8.4 1.4 .4 2.9-4.8 4.2 10.6 1.4 1.3 1.4-.1 1.4-1.4 0 8.1z"/><path transform="matrix(1 0 0 0.9904 0 440.90)" d="M1663.8 0l0-11.3 4.2 3.8 1.4-.4 4.2-7.9 1.4-1.2 2.9 2.3 2.7-17.7 2.8-11 1.4-2.7 1.4 .4 4.3 5.4 1.4-.5 4.3-10.3 1.4-.5 2.8 2.7 4.3-1.6 1.4-2 1.4-.7 4.3 1.5 1.4-.5 2.9-5.5 1.4 .4 1.4-1.5 2.9-5.1 2.8 5.1 1.5 1.5 1.4-.4 2.8 5.5 1.5 .5 4.2-1.5 1.5 .7 1.4 2 4.2 1.6 2.9-2.7 1.4 .5 4.2 10.3 1.5 .5 4.3-5.4 1.4-.4 1.4 2.7 2.8 11 2.7 17.7 2.8-2.3 1.4 1.2 4.2 7.9 1.4 .4 4.3-3.8 0 11.3z"/><path transform="matrix(1 0 0 0.9910 0 442.13)" d="M1660.9 0l0-11.2 4.3 3.3 2.7-7.1 1.4-1.8 4.3 6.6 1.4-.2 2.7-21.8 2.8-13.9 1.4-2 4.3 7.5 4.3 1 4.3 3.7 2.8-5.9 4.2-20.4 1.4-2.2 1.4 1.7 2.9 11.2 1.5 1.8 1.4-1.4 4.2-21 1.5-2.6 1.4 .1 1.4 2.5 1.5 6.8 1.4 2.6 1.4-2.6 1.4-6.8 1.5-2.5 1.4-.1 1.4 2.6 4.3 21 1.4 1.4 1.4-1.8 2.9-11.2 1.4-1.7 1.5 2.2 4.2 20.4 2.8 5.9 4.3-3.7 4.3-1 4.3-7.5 1.4 2 1.4 5.9 4 29.8 1.4 .2 4.3-6.6 1.4 1.8 2.8 7.1 4.3-3.3 0 11.2z"/><path transform="matrix(1 0 0 0.9917 0 443.36)" d="M1658 0l0-7.3 1.4 1 1.5 0 1.4-1.4 2.7-7.2 1.4-1.8 1.5 1 1.4-1 2.8 3.4 1.5-1.1 4-24.4 1.4-5.4 1.5-1.3 12.8 11.6 1.5 .3 1.4-1.6 1.4-4.1 4.2-23.2 1.4-2.2 2.9 3.7 1.4 .5 1.4-1.8 1.4-2.4 5.8-17.2 1.4-.9 2.9 3.6 1.4-2.7 1.4 2.7 2.9-3.6 1.4 .9 5.7 17.2 1.4 2.4 1.5 1.8 1.4-.5 2.9-3.7 1.4 2.2 4.2 23.2 1.4 4.1 1.4 1.6 2.9-1.4 11.4-10.5 1.4 1.3 1.4 5.4 4.1 24.4 1.4 1.1 2.9-3.4 1.4 1 1.4-1 1.4 1.8 2.8 7.2 1.4 1.4 1.4 0 1.4-1 0 7.3z"/><path transform="matrix(1 0 0 0.9924 0 444.60)" d="M1655.1 0l0-10.4 1.5 3 1.4 1.4 1.4 0 1.4-1 4.2-8.4 1.4-1.1 2.9 3.3 1.4-.6 1.4-6.5 4.1-12.1 7.1-7.1 1.4-.8 1.5 .7 4.3 6.5 1.4 .4 5.6-11.3 2.9-.9 2.8-7.2 5.7-33.9 1.4-1.5 1.4 1.7 1.5 3.9 2.8 2.2 1.5-3.5 2.8-18.2 1.5-2.3 1.4 2.3 2.9 18.2 1.4 3.5 2.9-2.2 1.4-3.9 1.5-1.7 1.4 1.5 5.6 33.9 2.9 7.2 2.8 .9 5.7 11.3 1.4-.4 4.3-6.5 1.4-.7 1.5 .8 7 7.1 4.2 12.1 1.4 6.5 1.4 .6 2.9-3.3 1.4 1.1 4.2 8.4 1.4 1 1.4 0 1.4-1.4 1.5-3 0 10.4z"/><path transform="matrix(1 0 0 0.9931 0 445.84)" d="M1652.2 0l0-9.1 1.5 2.4 7-5.2 1.4-.1 2.9 2.5 1.4-.9 2.7-20.3 1.4-4.3 1.4 .9 2.9 7.5 1.4 .8 1.5-.5 7-7.9 4.3-.2 1.4-1.2 4.3-7.1 1.4-1 4.3 2 1.4-1.3 1.4-5.7 4.2-38.9 1.4-9.6 1.5-4.7 1.4 1.9 2.9 7.7 1.4-2.3 4.3-12.8 1.5-1 1.4 1 4.3 12.8 1.5 2.3 2.9-7.7 1.4-1.9 1.4 4.7 1.5 9.6 4.2 38.9 1.4 5.7 1.4 1.3 4.3-2 1.4 1 4.2 7.1 1.5 1.2 4.2 .2 7.1 7.9 1.4 .5 1.5-.8 2.9-7.5 1.4-.9 1.4 4.3 2.7 20.3 1.4 .9 2.8-2.5 1.5 .1 7 5.2 1.4-2.4 0 9.1z"/><path transform="matrix(1 0 0 0.9938 0 447.08)" d="M1649.4 0l0-5.9 1.4-.1 5.6-3.8 2.8-8.3 2.9 6.9 1.4 1.8 4.1-26.3 1.3-6.4 1.4-3.1 1.5 2 4.4 16.9 1.4 3.3 1.5-.1 4.2-2.6 2.9-2.9 5.6-16.1 1.4 0 2.9 3.7 1.4 .7 1.4-1.7 7.1-25.4 7.1-51 1.5-5.8 1.4-1 1.4 5.1 1.5 9.9 1.4 4.1 1.5 1.4 1.4-1.4 1.5-4.1 1.4-9.9 1.5-5.1 1.4 1 1.5 5.8 7.1 51 7 25.4 1.5 1.7 1.4-.7 2.9-3.7 1.4 0 5.6 16.1 2.8 2.9 4.3 2.6 1.4 .1 1.5-3.3 4.4-16.9 1.4-2 1.4 3.1 1.4 6.4 4 26.3 1.5-1.8 2.9-6.9 2.8 8.3 5.6 3.8 1.4 .1 0 5.9z"/><path transform="matrix(1 0 0 0.9945 0 448.33)" d="M1646.5 0l0-5.8 2.8 1.8 2.8-1.7 4.2-10.4 2.9 6 1.4-1.9 5.5-20.6 1.4-4.3 1.4-2.1 1.4-.4 2.9 .9 1.4 1.3 1.5 2.6 4.4 14.7 1.4-3 1.4-1.1 1.4 .5 5.6-17.1 1.5-1.3 2.8-.1 1.5-.9 7-22.1 1.5-3.1 2.8-.4 1.5-4.6 4.2-53.6 1.4-11.2 1.5-1.1 5.8 26.1 5.8-26.1 1.4 1.1 1.5 11.2 4.2 53.6 1.4 4.6 2.9 .4 1.4 3.1 7.1 22.1 1.4 .9 2.9 .1 1.4 1.3 5.6 17.1 1.5-.5 1.4 1.1 1.4 3 4.4-14.7 1.4-2.6 1.5-1.3 2.8-.9 1.4 .4 1.5 2.1 1.3 4.3 5.6 20.6 1.4 1.9 2.9-6 4.1 10.4 2.9 1.7 2.8-1.8 0 5.8z"/><path transform="matrix(1 0 0 0.9951 0 449.57)" d="M1643.6 0l0-4.4 5.6-1.2 4.3-3.1 2.8-.4 2.8-5 2.8-10.9 2.8-5 4.2-.1 4.3-5.1 1.4-.3 2.9 3.4 4.3 9.8 1.5 1 4.2-8 4.3-5.4 1.4-4 4.2-20.2 1.4-3.1 2.9-3.8 2.9-1.1 1.4-3.8 1.4-8.9 4.3-16.7 5.7-42.1 2.9-13.9 1.5-4 1.4 4 2.9 13.9 5.8 42.1 4.3 16.7 1.4 8.9 1.4 3.8 2.9 1.1 2.8 3.8 1.5 3.1 4.2 20.2 1.4 4 4.3 5.4 4.2 8 1.4-1 4.4-9.8 2.8-3.4 1.5 .3 4.2 5.1 4.3 .1 2.8 5 2.8 10.9 2.8 5 2.8 .4 4.2 3.1 5.7 1.2 0 4.4z"/><path transform="matrix(1 0 0 0.9958 0 450.82)" d="M1640.7 0l0-3.8 2.8 1.1 1.4-.2 1.4-1.3 2.8-6.3 1.4-.4 2.9 4.3 1.5 .3 4.1-16.1 2.8-6.4 1.4 0 2.9 2.7 2.8 .2 8.6-4.6 2.8-3.8 1.4-.8 2.9 7.5 1.5-1 1.4-3.2 1.4 6.7 1.5-2.8 8.4-39.1 1.4-1.7 1.5 .6 1.4-1.6 5.7-23.7 1.4-1 2.9 .8 1.5-3.7 1.4-12.6 2.9-50.7 1.4-17.1 1.5-6.8 1.4 6.8 1.5 17.1 2.9 50.7 1.4 12.6 1.4 3.7 2.9-.8 1.5 1 5.7 23.7 1.4 1.6 1.4-.6 1.5 1.7 8.4 39.1 1.4 2.8 1.5-6.7 1.4 3.2 1.4 1 2.9-7.5 1.5 .8 2.8 3.8 8.5 4.6 2.9-.2 2.9-2.7 1.4 0 2.8 6.4 4.1 16.1 1.4-.3 2.9-4.3 1.5 .4 2.7 6.3 1.4 1.3 1.5 .2 2.8-1.1 0 3.8z"/><path transform="matrix(1 0 0 0.9965 0 452.07)" d="M1637.8 0l0-2.5 2.8 .4 8.5-4.3 5.7-3.9 1.4-2.5 2.7-9.5 1.4-2.1 7.2-.2 4.3 2.4 1.4-.1 1.4-1.2 5.6-15.5 1.5-1.1 2.9 5.1 2.9 8.8 1.4 .7 9.9-35.6 4.2-25.1 1.5-4.3 1.4-1.8 2.9 1.5 1.4-1.2 2.9-6.8 4.3-26.9 4.4-40.7 4.3 40.7 4.4 26.9 2.8 6.8 1.5 1.2 2.9-1.5 1.4 1.8 1.4 4.3 4.3 25.1 9.9 35.6 1.4-.7 2.9-8.8 2.9-5.1 1.4 1.1 5.6 15.5 1.5 1.2 1.4 .1 4.3-2.4 7.1 .2 1.4 2.1 2.8 9.5 1.4 2.5 5.7 3.9 8.5 4.3 2.8-.4 0 2.5z"/><path transform="matrix(1 0 0 0.9972 0 453.32)" d="M1637.7 0l0-1.6 4.3-1.2 2.8-2.7 1.4-.1 2.9 1.3 1.4-.8 2.8-6.5 1.4-1.7 1.4 2.3 2.8-3.1 4.3-6.9 1.4-1.1 2.9 .2 2.8 1.3 1.4-.7 1.5-2.4 1.4 0 4.2-8.9 5.7-5.3 2.9-5.4 4.3 8.5 1.4-2.1 2.9-6.7 1.4-5.8 5.6-39.8 1.4-4 1.5-1.2 2.9 .3 1.4-2.1 4.3-27.1 1.5-5.3 1.4 .7 2.9 16.3 1.5 1 1.4-1 2.9-16.3 1.5-.7 1.4 5.3 4.4 27.1 1.4 2.1 2.9-.3 1.4 1.2 1.5 4 5.6 39.8 1.4 5.8 4.3 8.8 4.3-8.5 2.9 5.4 5.6 5.3 4.3 8.9 1.4 0 1.4 2.4 1.4 .7 2.9-1.3 2.9-.2 1.4 1.1 4.2 6.9 2.8 3.1 1.5-2.3 1.4 1.7 2.8 6.5 1.4 .8 2.9-1.3 1.4 .1 2.8 2.7 4.3 1.2 0 1.6z"/><path transform="matrix(1 0 0 0.9979 0 454.58)" d="M1637.6 0l0-1.2 4.3-2.9 2.8 1.2 1.5-.3 2.8-3.6 1.4-.9 2.9 1.1 1.4-.6 1.4-1.3 1.4-3.6 1.4-1.4 1.4 2.2 4.3-5.6 4.3-2.4 5.6-6.7 4.3-.5 1.4-1.2 1.5-2.9 4.2-19.3 1.4-4 1.4-1.5 1.4 .9 3 13.9 1.4 3.1 12.8-60.8 2.9-20 2.9-7.7 1.4 .4 1.5 4.4 4.3 29.1 1.5 2.3 1.4-2.3 4.4-29.1 1.5-4.4 1.4-.4 1.5 3 1.4 4.7 4.3 27.2 11.3 53.6 1.5-3.1 2.9-13.9 1.5-.9 1.4 1.5 1.4 4 4.2 19.3 1.4 2.9 1.4 1.2 4.3 .5 5.7 6.7 4.3 2.4 4.2 5.6 1.5-2.2 1.4 1.4 1.4 3.6 1.4 1.3 1.4 .6 2.9-1.1 1.4 .9 2.8 3.6 1.4 .3 2.9-1.2 4.2 2.9 0 1.2z"/><path transform="matrix(1 0 0 0.9986 0 455.83)" d="M1636.1 0l0-1.7 5.7-.3 7.1-3.4 4.3-.2 5.7-3.8 4.3 .2 2.8-3.6 5.6-11.5 1.5-.9 4.3 1.3 1.4-.9 2.8-7.8 5.6-21.9 1.5-2.8 2.8-2.2 1.5-3.5 4.3 13.7 1.5-1.5 2.8-9.1 2.9-15.2 4.2-44.4 1.4-9.8 1.5-2.5 1.5 6.6 4.3 34 1.5 1 2.9-2.7 2.9 2.7 1.4-1 4.4-34 1.5-6.6 1.4 2.5 5.7 54.2 2.9 15.2 2.8 9.1 1.4 1.5 4.4-13.7 1.4 3.5 2.9 2.2 1.4 2.8 5.7 21.9 2.8 7.8 1.4 .9 4.3-1.3 1.4 .9 5.7 11.5 2.8 3.6 4.3-.2 5.7 3.8 4.2 .2 7.1 3.4 5.7 .3 0 1.7z"/><path transform="matrix(1 0 0 0.9993 0 457.09)" d="M1634.6 0l0-1.7 2.9-.5 2.8 .7 7.1-3.4 4.3-.1 1.4-1.9 1.5-.6 2.8 2.6 1.5-.1 1.4-1.7 2.8-8 1.4 .5 1.5 3.6 4.2-8.9 1.4-1.8 2.9-1 1.4-1.3 11.3-23.2 4.3-24.1 1.4-5.8 1.4-1.4 1.5 3.6 2.9 19 1.5 5.2 1.4-3.2 5.7-45.5 1.4-9.3 1.5-4.7 4.3 16.7 1.5 2.5 5.8 2.5 5.8-2.5 1.4-2.5 4.4-16.7 1.5 4.7 1.4 9.3 5.7 45.5 1.4 3.2 1.4-5.2 3-19 1.5-3.6 1.4 1.4 5.6 29.9 11.4 23.2 1.4 1.3 2.9 1 1.4 1.8 4.2 8.9 1.5-3.6 1.4-.5 2.8 8 1.4 1.7 1.4 .1 2.9-2.6 1.4 .6 1.4 1.9 4.3 .1 7.1 3.4 2.9-.7 2.9 .5 0 1.7z"/><path transform="matrix(1 0 0 1.0000 0 458.35)" d="M1630.3 0l0-1.6 1.4-.5 2.8 .6 0 1.5zM1637.4 0l0-1.4 7.1-3.5 4.3 .8 1.4-.9 5.8 .4 2.8-2.4 5.7-1.9 2.8-4.4 1.5-.7 1.4 .9 2.8-5.1 5.7-15.1 2.8-3.9 2.9-.3 1.4-2.5 5.6-28.8 2.9-8.2 1.4-2.1 1.5-.3 1.4 1.1 4.4 12.3 4.3-14.5 2.9 1.4 1.4-.5 4.4-16.5 1.4-1.5 2.9 4.1 1.5 .9 1.4-.9 2.9-4.1 1.5 1.5 4.3 16.5 1.5 .5 2.9-1.4 4.3 14.5 4.3-12.3 1.5-1.1 1.4 .3 1.5 2.1 2.8 8.2 5.7 28.8 1.4 2.5 2.9 .3 2.8 3.9 5.6 15.1 2.9 5.1 1.4-.9 1.4 .7 2.9 4.4 5.7 1.9 2.8 2.4 5.7-.4 1.5 .9 4.3-.8 7.1 3.5 0 1.4zM1809 0l0-1.5 2.9-.6 1.4 .5 0 1.6z"/><path transform="matrix(1 0 0 1.0006 0 459.62)" d="M1635.9 0l0-1.7 7.1-2.5 11.5 .4 1.4-.5 2.8-2.9 4.4 1.5 1.4-1.3 2.8-7.4 1.4-.8 2.9 3.8 5.6-18.7 1.4-3.1 4.3-4.6 1.4-4.8 7.2-15.6 2.8-11.5 4.2-29.8 1.5-4.6 1.4 .8 4.5 43.2 1.4 3.5 1.5-.1 1.4-4.4 7.2-31.6 2.9-7.7 1.5-.9 1.4 .9 2.9 7.7 7.2 31.6 1.5 4.4 1.4 .1 1.5-3.5 4.4-43.2 1.5-.8 1.4 4.6 4.3 29.8 2.8 11.5 7.1 15.6 1.5 4.8 4.2 4.6 1.5 3.1 5.6 18.7 2.9-3.8 1.4 .8 2.8 7.4 1.4 1.3 4.3-1.5 2.9 2.9 1.4 .5 11.4-.4 7.2 2.5 0 1.7z"/><path transform="matrix(1 0 0 1.0013 0 460.88)" d="M1631.5 0l0-1.2 4.3-2.6 7.2 .7 5.7-.7 4.3 .6 2.8-2.1 2.9 .8 1.4-.4 2.9-4.4 1.4-.2 2.9 2.6 1.4-1.5 2.8-10.3 1.4-.7 1.5 4 9.9-30.9 1.4-2.7 4.3-1.1 2.9-6.9 5.6-44.9 1.4-5.6 1.5 1.4 4.5 39.7 2.9 15.1 1.4-2.2 2.9-9.7 7.2-37.1 1.5-2.3 1.4 2.3 7.3 37.1 2.8 9.7 1.5 2.2 2.9-15.1 4.5-39.7 1.4-1.4 1.5 5.6 5.6 44.9 2.8 6.9 4.4 1.1 1.4 2.7 9.9 30.9 1.4-4 1.5 .7 2.7 10.3 1.5 1.5 2.9-2.6 1.4 .2 2.8 4.4 1.4 .4 2.9-.8 2.9 2.1 4.3-.6 5.7 .7 7.2-.7 4.2 2.6 0 1.2z"/><path transform="matrix(1 0 0 1.0020 0 462.15)" d="M1628.6 0l0-1.5 5.7-3.3 10 2 12.9-1.3 2.9-1.9 2.9 .1 2.8-1.5 4.3-2.9 4.3-4.5 2.8-1.5 5.6-24.8 7.2-10.5 7.1-28.9 1.4-3.3 3 2.1 1.4 2.2 2.9-1.5 1.5 2.6 4.4 25.8 1.4-2.2 5.8-25.9 2.9-6.2 2.9 6.2 5.8 25.9 1.4 2.2 4.4-25.8 1.5-2.6 2.9 1.5 1.4-2.2 2.9-2.1 1.5 3.3 7.1 28.9 7.1 10.5 5.6 24.8 2.9 1.5 4.3 4.5 4.3 2.9 2.8 1.5 2.9-.1 2.8 1.9 12.9 1.3 10.1-2 5.7 3.3 0 1.5z"/><path transform="matrix(1 0 0 1.0027 0 463.42)" d="M1619.9 0l0-1.8 2.9 0 0 1.8zM1625.6 0l0-1.1 2.9-2.1 4.3-1.5 15.8 2.3 5.7-1.8 4.3 .2 4.3-.8 1.4-.7 2.9-4.3 1.4-.3 2.9 2.5 1.4-.7 4.2-15.9 2.9 3.5 1.5-4.1 5.6-20.7 2.8-13.1 2.9-8.7 1.4-.6 4.4 8.1 1.5 .3 4.3-17.9 1.4-4.5 1.4-2.2 1.5 .7 1.5 2.7 4.3 23 1.5-1 2.9-4.9 1.4-.5 4.4 .5 2.9 4.9 1.4 1 4.4-23 1.5-2.7 1.4-.7 1.5 2.2 1.4 4.5 4.3 17.9 1.5-.3 4.3-8.1 1.5 .6 2.8 8.7 2.9 13.1 5.6 20.7 1.4 4.1 2.9-3.5 4.2 15.9 1.5 .7 2.9-2.5 1.4 .3 2.8 4.3 1.5 .7 4.3 .8 4.3-.2 5.7 1.8 15.8-2.3 4.3 1.5 2.8 2.1 0 1.1zM1820.8 0l0-1.8 2.9 0 0 1.8z"/><path transform="matrix(1 0 0 1.0034 0 464.69)" d="M1615.5 0l0-1.5 1.4-.5 2.9 .5 0 1.5zM1622.7 0l0-1.5 7.1-3.2 10.1 .7 7.2 1.3 12.9-1.6 1.4-.3 2.9-2.6 1.4 .7 2.9-.5 1.4-.9 2.9-4.6 2.8 1 1.5-.9 2.8-5.1 1.5-.6 1.4-2.5 1.4-4.9 5.6-33.5 1.4-2.9 1.5 .1 4.4 11.8 1.4-.2 4.3-11.1 7.2-29.9 1.5-.8 1.4 4.9 4.4 37.5 1.5 2.6 5.8 0 1.4-2.6 4.4-37.5 1.5-4.9 1.4 .8 7.2 29.9 4.3 11.1 1.5 .2 4.4-11.8 1.4-.1 1.5 2.9 5.6 33.5 1.4 4.9 1.4 2.5 1.4 .6 2.9 5.1 1.4 .9 2.9-1 2.8 4.6 1.5 .9 2.8 .5 1.5-.7 2.8 2.6 1.5 .3 12.9 1.6 7.2-1.3 10.1-.7 7.1 3.2 0 1.5zM1823.8 0l0-1.5 2.8-.5 1.5 .5 0 1.5z"/><path transform="matrix(1 0 0 1.0041 0 465.97)" d="M1619.7 0l0-1.6 2.9-1.8 4.3-.9 20.1 .6 7.2 .9 7.2-2.8 5.7-.3 2.9-1.7 2.8-3.4 2.9 1.2 2.9-.6 1.4-2.7 2.8-15.6 1.4 .4 1.5 1.9 4.2-20.3 1.5-1 2.9 2.2 4.3-5.2 2.9-1.6 1.4-2.1 2.9-10.2 4.3-22 1.5-1.9 1.4 1.9 1.5 7.1 5.8 42.9 1.5-6 1.4 6 5.9-42.9 1.4-7.1 1.5-1.9 1.4 1.9 4.4 22 2.8 10.2 1.5 2.1 2.9 1.6 4.3 5.2 2.9-2.2 1.4 1 4.3 20.3 1.4-1.9 1.5-.4 2.7 15.6 1.5 2.7 2.8 .6 2.9-1.2 2.9 3.4 2.8 1.7 5.8 .3 7.2 2.8 7.2-.9 20.1-.6 4.3 .9 2.9 1.8 0 1.6z"/><path transform="matrix(1 0 0 1.0048 0 467.24)" d="M1609.6 0l0-1.5 2.8-.7 1.5 .5 0 1.7zM1616.8 0l0-1.2 2.8-2.2 4.3-1.6 4.3 1.2 10.1 .7 7.2-1.3 8.6 1.3 7.2-2.5 5.8-.8 2.8-1.6 5.8-1.1 2.8-4.4 4.3-2.3 4.3-8 1.5-.3 1.4-2 5.7-18 7.2-10.2 7.3-14.7 1.4-1.2 1.5 .1 1.4 1.7 2.9 9.3 2.9 14.9 1.5 1.3 1.4-1.3 4.4-20.6 1.5-3.6 1.4-1.7 1.5-.1 2.9 3.6 5.7 12.3 7.3 10.2 5.7 18 1.4 2 1.4 .3 4.3 8 4.3 2.3 2.9 4.4 5.7 1.1 2.9 1.6 5.8 .8 7.1 2.5 8.7-1.3 7.2 1.3 10-.7 4.4-1.2 4.3 1.6 2.8 2.2 0 1.2zM1829.7 0l0-1.7 1.4-.5 2.9 .7 0 1.5z"/><path transform="matrix(1 0 0 1.0055 0 468.52)" d="M1605.1 0l0-1.5 4.4-.3 0 1.8zM1613.8 0l0-1.7 4.3-2.6 2.8-.6 13 1.7 10.1-.9 15.8-.2 7.2-3.3 4.3 .3 4.3-1.7 2.9-5.1 1.4 .3 1.5 1.5 2.9-1 2.8-10.3 1.4-1 1.5 4 1.5 .6 5.6-21.5 5.8-14.4 1.5-1 1.4 .9 4.4 4.4 5.8-1 1.4-1.6 4.4-25.1 4.3 25.1 1.5 1.6 5.8 1 4.4-4.4 1.4-.9 1.5 1 5.7 14.4 5.7 21.5 1.5-.6 1.4-4 1.5 1 2.8 10.3 2.9 1 1.4-1.5 1.5-.3 2.8 5.1 4.3 1.7 4.4-.3 7.1 3.3 15.9 .2 10 .9 13-1.7 2.9 .6 4.3 2.6 0 1.7zM1834.1 0l0-1.8 4.3 .3 0 1.5z"/><path transform="matrix(1 0 0 1.0062 0 469.80)" d="M1596.4 0l0-1.9 1.4 .6 0 1.3zM1605 0l0-1.8 2.9-.4 2.9 .5 7.1-3.6 15.9 2.3 5.8-1.1 5.8 .5 7.2-2 7.2 1.2 7.2-2.9 5.7-.3 2.9-2.7 2.9-1.2 2.9-.3 1.4-3.7 1.4 .2 2.9 4.6 1.5-1.9 2.8-14.8 1.4-1.7 1.5 6.4 1.4-2.4 4.3-20.8 1.5-3.4 1.4-1.4 1.5 .1 7.2 11 1.5 .6 1.4-2.3 4.4-39.1 1.4-8.6 1.5-3.5 1.4 3.5 1.5 8.6 4.3 39.1 1.5 2.3 1.4-.6 7.3-11 1.5-.1 1.4 1.4 1.5 3.4 4.2 20.8 1.5 2.4 1.4-6.4 1.5 1.7 2.8 14.8 1.4 1.9 2.9-4.6 1.5-.2 1.4 3.7 2.9 .3 2.9 1.2 2.8 2.7 5.8 .3 7.2 2.9 7.2-1.2 7.2 2 5.8-.5 5.7 1.1 15.9-2.3 7.2 3.6 2.9-.5 2.8 .4 0 1.8zM1845.7 0l0-1.3 1.5-.6 0 1.9z"/><path transform="matrix(1 0 0 1.0069 0 471.08)" d="M1593.4 0l0-2.1 1.4 .7 0 1.4zM1599.2 0l0-1.8 5.7 .2 0 1.6zM1607.8 0l0-1.4 2.9-2 4.3-1.2 15.9 1.2 13-.4 8.6-2.4 7.2 .1 4.3 .7 5.8-2 2.9-2 7.2-.5 2.9 .6 2.9-1.6 5.7-5.7 2.9-1.4 1.4-1.8 1.5-2.8 4.3-15.2 1.4-2.3 2.9 .5 4.4 4.4 1.4-1 1.5-4.2 5.8-34.8 1.4-5.1 1.5-2 1.4 2 1.5 5.1 5.8 34.8 1.4 4.2 1.5 1 4.3-4.4 3-.5 1.4 2.3 4.3 15.2 1.4 2.8 1.5 1.8 2.8 1.4 5.8 5.7 2.9 1.6 2.9-.6 7.2 .5 2.9 2 5.7 2 4.4-.7 7.2-.1 8.6 2.4 13 .4 15.9-1.2 4.3 1.2 2.8 2 0 1.4zM1838.6 0l0-1.6 5.8-.2 0 1.8zM1848.7 0l0-1.4 1.5-.7 0 2.1z"/><path transform="matrix(1 0 0 1.0076 0 472.37)" d="M1594.7 0l0-1.8 2.9-.3 2.9-1.3 4.3 1.8 2.9-2.2 4.3-1.2 4.3 .9 11.6 .7 7.2-.9 5.8 .8 4.3-1.6 7.2-.6 5.8-1.9 8.7 2.1 7.2-4.4 1.4 .2 2.9 2.1 2.9 .3 2.9-1.1 2.9-5.8 1.4-.1 2.9 4.5 1.5-1.2 2.8-10 1.5-2 1.4 3.8 1.5-.5 4.3-9 1.4-1.7 1.5-.3 2.9-7.1 2.8-16.6 1.5-3.8 1.5-2.2 4.3-1.7 5.9 .8 2.9 3.1 1.4 3.8 2.9 16.6 2.9 7.1 1.4 .3 1.5 1.7 4.3 9 1.4 .5 1.5-3.8 1.5 2 2.8 10 1.4 1.2 3-4.5 1.4 .1 2.9 5.8 2.8 1.1 2.9-.3 2.9-2.1 1.5-.2 7.2 4.4 8.7-2.1 5.7 1.9 7.2 .6 4.4 1.6 5.7-.8 7.3 .9 11.5-.7 4.4-.9 4.3 1.2 2.8 2.2 4.4-1.8 2.9 1.3 2.8 .3 0 1.8z"/><path transform="matrix(1 0 0 1.0083 0 473.66)" d="M1587.4 0l0-3 5.8 1.3 4.3-2 2.9 1.5 1.4-.1 4.3-2.6 2.9-.6 13 2.1 8.7-.9 7.2 .2 13-1.6 7.2-2.3 10.2 1 4.3-.7 8.7 .7 2.9-3.2 2.9 1.7 2.9-1.1 1.4-3.2 1.4-.6 2.9 3 1.5-.7 4.3-7.6 4.3-2 4.3-26.9 2.9-9.2 1.5-.9 1.5 1.2 2.9 6.6 2.9 3 2.9-3 2.9-6.6 1.5-1.2 1.4 .9 2.9 9.2 4.3 26.9 4.4 2 4.3 7.6 1.4 .7 2.9-3 1.5 .6 1.4 3.2 2.9 1.1 2.9-1.7 2.9 3.2 8.7-.7 4.3 .7 10.1-1 7.2 2.3 13 1.6 7.3-.2 8.6 .9 13.1-2.1 2.8 .6 4.3 2.6 1.5 .1 2.9-1.5 4.3 2 5.8-1.3 0 3z"/><path transform="matrix(1 0 0 1.0090 0 474.95)" d="M1584.4 0l0-2.7 2.9 1 5.7-2.3 2.9 1.5 2.9 0 4.3-3 2.9-.7 16 3 7.2-1.4 5.8 .6 5.7-1.7 5.8 .5 4.4-1.7 7.2-.4 7.2-2.2 1.5 .2 4.3 3.1 2.9 1 5.8-2 5.8-.1 4.3-1.8 4.4-.2 2.9 .9 1.4-1.2 2.9-11.6 1.4-3 1.5 3.9 1.4 .1 4.3-22.6 1.5-5 1.4-1.8 1.5 .5 5.8 7.7 1.5-2.6 1.4 2.6 5.9-7.7 1.4-.5 1.5 1.8 1.4 5 4.3 22.6 1.5-.1 1.5-3.9 1.4 3 2.9 11.6 1.4 1.2 2.9-.9 4.3 .2 4.4 1.8 5.8 .1 5.7 2 2.9-1 4.4-3.1 1.5-.2 7.2 2.2 7.2 .4 4.3 1.7 5.8-.5 5.8 1.7 5.8-.6 7.2 1.4 16-3 2.9 .7 4.2 3 2.9 0 3-1.5 5.7 2.3 2.9-1 0 2.7z"/><path transform="matrix(1 0 0 1.0097 0 476.24)" d="M1581.3 0l0-2.7 7.3-.1 4.3-1.6 2.9 1.3 1.5-.2 1.4-1.6 4.3-1.8 16 3.2 11.6-.6 10.1-1.9 17.3-1.3 5.8-3.1 2.9 .8 4.4 3.5 2.9 1 2.9-.2 7.2-2.5 10.2 .7 2.8-5.1 1.5-1.3 2.9 3.1 2.9-11.3 1.4-3 1.5 4.1 5.8-15.2 1.4-2 7.3-2.2 7.3 2.2 1.4 2 5.8 15.2 1.5-4.1 1.4 3 2.9 11.3 2.9-3.1 1.4 1.3 2.9 5.1 10.2-.7 7.2 2.5 2.9 .2 2.9-1 4.4-3.5 2.9-.8 5.7 3.1 17.4 1.3 10.1 1.9 11.6 .6 16-3.2 4.3 1.8 1.4 1.6 1.5 .2 2.9-1.3 4.3 1.6 7.2 .1 0 2.7z"/><path transform="matrix(1 0 0 1.0104 0 477.53)" d="M1578.3 0l0-3.1 1.5 .9 2.9 .3 4.3-3.6 1.4 .1 3 2.5 1.4 .2 4.3-3.9 2.9-.7 4.4 1.5 10.1 1.8 7.3-.4 7.2 .6 5.8-2.2 7.2 0 4.4-1.7 5.8 1 5.8-2.2 2.9-.4 2.9 .1 13 4.1 2.9-.3 5.8-2.1 5.8 1.8 7.3-4 2.9-4.1 2.9 2 2.9-3.3 2.9-2.1 2.9-4.1 4.3-11.9 1.5-2.5 2.9-1.6 2.9 1.6 1.5 2.5 4.3 11.9 2.9 4.1 2.9 2.1 2.9 3.3 2.9-2 2.9 4.1 7.2 4 5.8-1.8 5.8 2.1 2.9 .3 13.1-4.1 2.9-.1 2.9 .4 5.8 2.2 5.8-1 4.3 1.7 7.3 0 5.7 2.2 7.3-.6 7.2 .4 10.2-1.8 4.4-1.5 2.9 .7 4.3 3.9 1.4-.2 3-2.5 1.4-.1 4.3 3.6 2.9-.3 1.4-.9 0 3.1z"/><path transform="matrix(1 0 0 1.0111 0 478.83)" d="M1575.3 0l0-2.4 15.9-2.3 2.9-2.9 2.8-.8 5.9 2.2 10.2 1.9 5.8-.6 7.2 .8 16-3.3 10.1 0 7.3-2.2 5.8 2.9 5.8-.7 10.2 2.1 4.3-.6 5.8 .9 8.7-4.5 7.3-.4 1.4-1.2 2.9-13 1.5-1.3 1.4 5.6 1.5-.3 2.9-8.6 1.4-2.6 1.5-.7 1.4 .7 1.5 2.6 2.9 8.6 1.5 .3 1.4-5.6 1.5 1.3 2.9 13 1.4 1.2 7.3 .4 8.7 4.5 5.8-.9 4.3 .6 10.2-2.1 5.8 .7 5.8-2.9 7.3 2.2 10.1 0 15.9 3.3 7.3-.8 5.8 .6 10.2-1.9 5.8-2.2 2.9 .8 2.9 2.9 15.9 2.3 0 2.4z"/><path transform="matrix(1 0 0 1.0118 0 480.13)" d="M1572.3 0l0-2.5 4.3 .7 1.5-.5 2.8-3.1 1.5-.4 2.9 2.5 1.5 .2 2.8-5.3 2.8-1.5 1.5 0 5.9 2.7 10.2 2.7 5.8-1 7.2 1 5.8-1.2 5.8 .1 5.8-2.5 7.3 .5 5.8-2 8.7 2.7 5.8 .2 7.3-.9 2.9 .5 5.8 2.8 7.3-.3 8.7-4.2 4.3 .4 1.5-1.1 7.3-6 1.4-5.9 1.5-1.5 1.4 4.8 1.5-.1 2.9-4 2.9 4 1.4 .1 1.5-4.8 1.5 1.5 1.4 5.9 7.3 6 1.4 1.1 4.4-.4 8.7 4.2 7.2 .3 5.9-2.8 2.9-.5 7.2 .9 5.8-.2 8.8-2.7 5.8 2 7.2-.5 5.8 2.5 5.8-.1 5.8 1.2 7.3-1 5.8 1 10.2-2.7 5.9-2.7 1.4 0 2.9 1.5 2.8 5.3 1.4-.2 3-2.5 1.4 .4 2.9 3.1 1.4 .5 4.4-.7 0 2.5z"/><path transform="matrix(1 0 0 1.0125 0 481.43)" d="M1569.3 0l0-1.7 14.4-2.6 4.2-7.1 1.5-1.2 1.4-.2 5.9 4.4 7.3 2.5 4.4 .7 5.8-.6 5.8 .8 5.8-1.3 7.3 .2 20.3-4.1 5.9 3.7 10.1-.1 5.9-1.3 11.6 4.7 2.9-1 2.9-2.6 2.9-1.3 4.4 1 4.3 .1 2.9-5.2 1.5-.2 1.4 2.5 5.9-4.2 1.4 .1 2.9 3.4 1.5 .2 1.4-.2 2.9-3.4 3 .6 4.3 3.5 1.5-2.5 1.4 .2 2.9 5.2 4.4-.1 4.4-1 2.9 1.3 2.9 2.6 2.9 1 11.6-4.7 5.8 1.3 10.2 .1 5.8-3.7 20.4 4.1 7.2-.2 5.8 1.3 5.8-.8 5.9 .6 4.3-.7 7.3-2.5 5.9-4.4 1.5 .2 1.4 1.2 4.2 7.1 14.5 2.6 0 1.7z"/><path transform="matrix(1 0 0 1.0132 0 482.73)" d="M1572 0l0-1.7 2.9-2.5 1.4-.3 4.4 1.9 1.5-1.4 4.2-8 1.4-1.3 1.4 0 10.3 5.8 4.4 1.6 5.8-.7 5.9 1.3 7.2-1.7 7.3 .3 4.4-1.1 5.8 .6 2.9-.8 2.9-2 2.9-.5 7.3 3.2 7.3 1 5.8-.9 5.8 .5 11.7 2.7 8.7-3.1 5.8 1.3 2.9-2.8 2.9 1.9 1.5-1.2 1.4-3.2 1.5-.4 2.9 4.4 1.5 .6 1.4-1.3 4.4-7.9 4.3 7.9 1.5 1.3 1.5-.6 2.9-4.4 1.4 .4 1.5 3.2 1.4 1.2 2.9-1.9 3 2.8 5.8-1.3 8.7 3.1 11.6-2.7 5.9-.5 5.8 .9 7.3-1 7.3-3.2 2.9 .5 2.9 2 2.9 .8 5.8-.6 4.4 1.1 7.2-.3 7.3 1.7 5.8-1.3 5.8 .7 4.4-1.6 10.3-5.8 1.5 0 1.4 1.3 4.2 8 1.4 1.4 4.4-1.9 1.5 .3 2.8 2.5 0 1.7z"/><path transform="matrix(1 0 0 1.0140 0 484.03)" d="M1569 0l0-1.5 11.6-2.9 1.4-.7 4.3-5 5.8-1.4 2.9 .9 4.4 2.8 3 .8 8.7-.6 1.5 1.6 8.7-1.9 5.8 .4 4.4-1.1 8.7 .9 7.3-2.8 7.3 3.5 5.8-.3 4.4 .7 5.8-.5 5.8 1.9 5.9 .6 4.3-1.8 5.9 1.3 11.6-.4 1.5-.6 1.4-1.8 2.9 1.8 2.9 0 4.4-.9 4.4-4.4 4.4 4.4 4.3 .9 2.9 0 2.9-1.8 1.5 1.8 1.5 .6 11.6 .4 5.8-1.3 4.4 1.8 5.8-.6 5.9-1.9 5.8 .5 4.4-.7 5.8 .3 7.3-3.5 7.2 2.8 8.8-.9 4.4 1.1 5.8-.4 8.7 1.9 1.5-1.6 8.7 .6 2.9-.8 4.5-2.8 2.9-.9 5.8 1.4 4.3 5 1.4 .7 11.6 2.9 0 1.5z"/><path transform="matrix(1 0 0 1.0147 0 485.34)" d="M1568.9 0l0-1.5 2.9-.7 4.3 .1 4.3-3.2 1.5 .7 1.5-.2 8.6-5.3 5.8 1 5.9 0 7.3 2.2 4.4-1.3 7.2 .1 4.4-1.3 10.2 .9 5.8-1.3 7.4 2.2 8.7 .6 5.8-.5 13.2 3.4 2.9-.7 2.9-2.3 2.9-.4 8.8 3.6 8.7-1.7 8.7 1.6 4.4-5 4.4 4.6 4.4-4.6 4.3 5 8.8-1.6 8.7 1.7 8.8-3.6 2.9 .4 2.9 2.3 2.9 .7 13.1-3.4 5.9 .5 8.7-.6 7.3-2.2 5.8 1.3 10.3-.9 4.3 1.3 7.3-.1 4.4 1.3 7.3-2.2 5.8 0 5.9-1 8.6 5.3 1.5 .2 1.4-.7 4.3 3.2 4.4-.1 2.9 .7 0 1.5z"/><path transform="matrix(1 0 0 1.0154 0 486.65)" d="M1573.1 0l0-1.8 2.9-1.4 4.4 .7 4.3-3.1 1.5 .8 1.4-.2 13-6.5 7.4 3.4 5.8-1.5 7.3 .8 5.8-1.9 7.3 1.3 5.8-1.4 3 1 4.4 2.9 1.4 .2 5.9-1 10.2 .2 5.8 2.5 4.4 .8 8.8-2.9 2.9-.2 10.2 3.5 8.7-1 4.4 1.9 2.9-2.7 1.5-.1 2.9 1.7 4.4-.9 4.4 .9 2.9-1.7 1.4 .1 2.9 2.7 4.4-1.9 8.8 1 11.7-3.5 10.1 3.1 4.4-.8 5.9-2.5 10.2-.2 7.3 .8 4.4-2.9 2.9-1 5.9 1.4 7.3-1.3 5.8 1.9 7.3-.8 5.8 1.5 7.4-3.4 13 6.5 1.4 .2 1.5-.8 4.3 3.1 4.4-.7 2.9 1.4 0 1.8z"/><path transform="matrix(1 0 0 1.0161 0 487.96)" d="M1554 0l0-1.9 1.5 .3 0 1.6zM1574.4 0l0-1.8 16-2.4 7.2-6.8 1.4-.6 5.9 1.2 4.4-.9 8.8 1.1 2.9-1 7.3 .8 8.7-1.6 8.9 4.8 5.8 .4 7.3-1.4 14.6 4.3 4.4-2.4 2.9-.7 27.8 4.5 10.2-.4 2.9-1 2.9 1 10.2 .4 27.8-4.5 2.9 .7 4.3 2.4 14.7-4.3 7.3 1.4 7.3-.7 4.4-3.3 2.9-1.2 8.8 1.6 7.3-.8 2.9 1 8.8-1.1 4.4 .9 5.8-1.2 1.5 .6 7.1 6.8 16 2.4 0 1.8zM1888.1 0l0-1.6 1.5-.3 0 1.9z"/><path transform="matrix(1 0 0 1.0168 0 489.28)" d="M1550.9 0l0-4.4 4.4 2.5 5.8-1.1 3 1.7 0 1.3zM1577.2 0l0-1.7 2.9-1.3 4.4 1 1.5-.7 2.8-3.2 1.5 0 1.5 1.4 1.4-.5 4.3-3.8 4.4-2 4.3-3.6 1.5-.1 5.8 2.5 1.5 .2 4.4-1.3 8.8 2.1 5.8-2.5 2.9 1.4 4.5 3.8 10.2 1.3 8.8-.5 8.8 3.1 1.5 0 4.3-1.9 5.9-.2 7.3 1.7 7.3-.3 8.8 3.1 4.3-1.2 3 1.4 0 1.8zM1714.5 0l0-1.5 4.4-1.4 2.9 1.1 4.4-.9 2.9 1.2 0 1.5zM1732 0l0-1.8 2.9-1.4 4.4 1.2 8.8-3.1 7.3 .3 7.3-1.7 5.8 .2 4.4 1.9 1.5 0 8.8-3.1 8.7 .5 10.3-1.3 4.4-3.8 3-1.4 5.8 2.5 8.8-2.1 4.4 1.3 1.4-.2 5.9-2.5 1.5 .1 4.3 3.6 4.3 2 4.4 3.8 1.4 .5 1.5-1.4 1.5 0 2.8 3.2 1.5 .7 4.4-1 2.8 1.3 0 1.7zM1879.5 0l0-1.3 2.9-1.7 5.9 1.1 4.4-2.5 0 4.4z"/><path transform="matrix(1 0 0 1.0175 0 490.60)" d="M1547.8 0l0-4.2 3 1.3 4.3-2.1 1.4 .2 3 2 5.9 .2 2.9 1.2 0 1.4zM1581.5 0l0-1.7 2.9-1.2 5.8-.6 4.3-2.4 3-.1 5.7-7.7 2.9-2.5 1.4-.5 4.4 1.7 1.5-.5 4.4 .5 5.9 2.2 7.3-1.3 2.9 1.1 4.5 3.6 1.4 .5 13.2 1.3 13.2 3 1.5 .2 4.4-2.3 2.9-.7 5.8 2.1 14.7 .5 5.8 2.2 5.9 .9 0 1.7zM1720.3 0l0-1.8 2.9 0 0 1.8zM1736.4 0l0-1.7 5.8-.9 5.9-2.2 14.6-.5 5.9-2.1 2.9 .7 4.4 2.3 1.4-.2 13.2-3 13.2-1.3 1.5-.5 4.4-3.6 3-1.1 7.3 1.3 5.9-2.2 4.4-.5 1.4 .5 4.5-1.7 1.4 .5 2.9 2.5 5.7 7.7 2.9 .1 4.4 2.4 5.8 .6 2.9 1.2 0 1.7zM1875.2 0l0-1.4 3-1.2 5.8-.2 3-2 1.5-.2 4.3 2.1 3-1.3 0 4.2z"/><path transform="matrix(1 0 0 1.0182 0 491.91)" d="M1544.7 0l0-5 5.9 .9 4.3-2.6 1.5 .3 3 2.6 1.4 .4 4.4-.4 4.5 2.3 0 1.5zM1581.4 0l0-1.7 2.9-1 4.4 .3 5.7-3.7 3 1.4 7.1-9.5 4.4-2.9 1.4-1.7 2.9-1 7.4 5 1.5 .2 4.4-1.6 2.9 .6 6 5.8 16.1 1.7 8.8 3.2 4.4 .3 4.4-2.4 2.9-.2 4.4 .7 5.9 2 7.3-.1 11.7 2.6 4.4 .2 0 1.8zM1737.9 0l0-1.8 4.4-.2 11.7-2.6 7.3 .1 5.9-2 4.4-.7 2.9 .2 4.4 2.4 4.4-.3 8.8-3.2 16.1-1.7 5.9-5.8 3-.6 4.4 1.6 1.4-.2 7.4-5 3 1 1.4 1.7 4.3 2.9 7.2 9.5 2.9-1.4 5.8 3.7 4.4-.3 2.9 1 0 1.7zM1873.9 0l0-1.5 4.5-2.3 4.3 .4 1.5-.4 3-2.6 1.5-.3 4.3 2.6 5.9-.9 0 5z"/><path transform="matrix(1 0 0 1.0189 0 493.24)" d="M1541.6 0l0-5.4 1.5 1.6 1.5 .5 1.4-.3 4.3-5.7 1.5 .8 3 3.9 1.5 .1 2.8-3.3 1.5-.4 4.5 5.5 4.4-1 2.9 2.1 0 1.6zM1585.6 0l0-1.5 2.9-2.1 1.5-.3 2.9 1.1 1.5-.5 2.8-4.2 1.5-.5 1.5 1.5 1.4-1 4.3-5.5 2.8-5.8 2.9-3 1.5 .2 5.9 3.5 4.4-.7 3 1 4.5 5.2 2.9 2 14.7 1.6 10.3 4.2 1.5-.1 1.4 .7 7.3-3.5 7.4 2.2 14.6 1.4 4.4 1.7 4.4 .6 0 1.8zM1743.7 0l0-1.8 4.4-.6 4.4-1.7 14.7-1.4 7.3-2.2 7.3 3.5 1.5-.7 1.5 .1 10.3-4.2 14.7-1.6 2.9-2 4.5-5.2 2.9-1 4.4 .7 6-3.5 1.4-.2 2.9 3 2.9 5.8 4.2 5.5 1.5 1 1.5-1.5 1.4 .5 2.9 4.2 1.4 .5 3-1.1 1.5 .3 2.8 2.1 0 1.5zM1871.1 0l0-1.6 3-2.1 4.4 1 4.5-5.5 1.5 .4 2.8 3.3 1.5-.1 3-3.9 1.5-.8 4.2 5.7 1.5 .3 1.5-.5 1.5-1.6 0 5.4z"/><path transform="matrix(1 0 0 1.0197 0 494.56)" d="M1538.5 0l0-4.5 5.9-.8 5.8-2.1 7.3 0 7.4 1.8 4.5 2.5 5.8 1.3 0 1.8zM1584 0l0-1.7 5.9-.7 13.1-4.4 7.1-11.7 8.7-5.7 3 1.1 6 8.7 3 2.2 8.8 2.2 5.9-.2 11.8 5.4 1.4 .2 4.4-1.9 5.9-.4 7.3 1.8 7.4 .3 10.2 2.7 5.9 .6 0 1.5zM1743.8 0l0-1.5 5.8-.6 10.3-2.7 7.3-.3 7.4-1.8 5.8 .4 4.4 1.9 1.5-.2 11.8-5.4 5.9 .2 8.8-2.2 3-2.2 6-8.7 2.9-1.1 8.7 5.7 7.2 11.7 13.1 4.4 5.8 .7 0 1.7zM1868.3 0l0-1.8 5.9-1.3 4.5-2.5 7.4-1.8 7.3 0 5.8 2.1 5.8 .8 0 4.5z"/><path transform="matrix(1 0 0 1.0204 0 495.88)" d="M1535.4 0l0-6.1 3 2.6 1.5 .1 1.4-.9 2.8-5.5 1.4-.6 3.1 4.6 1.5 .1 2.6-10.8 1.5-1 6.2 12.1 2.8-2.9 1.5-.2 4.5 5.3 1.5 .3 2.9-1.3 1.5 .3 3 2.3 0 1.6zM1588.3 0l0-1.8 5.8-2.2 4.5 .6 4.2-6.2 3 1.8 7.2-11 2.8-6.4 1.4-2.1 1.5-.8 1.5 .8 1.5 2.4 4.5 9.5 3 1.7 5.9 1.9 7.4 1.2 11.8 5.3 1.4 .3 4.4-2.2 3-.2 7.3 2.1 14.7 1.1 5.9 2.3 1.4-.5 3 .8 0 1.6zM1748.2 0l0-1.6 2.9-.8 1.5 .5 5.9-2.3 14.6-1.1 7.4-2.1 2.9 .2 4.4 2.2 1.5-.3 11.8-5.3 7.4-1.2 5.9-1.9 2.9-1.7 4.6-9.5 1.5-2.4 1.5-.8 1.4 .8 1.5 2.1 2.8 6.4 7.2 11 2.9-1.8 4.3 6.2 4.4-.6 5.9 2.2 0 1.8zM1865.5 0l0-1.6 3-2.3 1.5-.3 2.9 1.3 1.5-.3 4.5-5.3 1.4 .2 2.9 2.9 6.2-12.1 1.4 1 2.7 10.8 1.5-.1 3-4.6 1.5 .6 2.8 5.5 1.4 .9 1.5-.1 3-2.6 0 6.1z"/><path transform="matrix(1 0 0 1.0211 0 497.21)" d="M1532.3 0l0-4.7 1.5 1 5.8-2.7 4.4-.2 2.9-1.1 1.4-2.6 2.7-9.9 2.8-4.5 1.5 1.5 4.8 12.7 3 4.5 1.5 .8 1.5-.3 2.9-1.9 1.5 .6 3 3.3 1.5 .6 4.4-.6 2.9 1.9 0 1.6zM1586.7 0l0-1.3 3-1.2 4.4 .5 4.3-3.1 4.4 .2 2.9-2 2.9-.8 7.1-16.3 1.5-2 1.4 0 4.5 6.4 7.5 5.2 8.8 2.2 7.4 4.6 4.5 1.6 1.4 .3 4.4-2.2 3-.2 10.3 3.4 8.8-.1 8.8 2.7 4.4 .5 0 1.6zM1751.1 0l0-1.6 4.4-.5 8.9-2.7 8.8 .1 10.3-3.4 2.9 .2 4.4 2.2 1.5-.3 4.4-1.6 7.4-4.6 8.9-2.2 7.4-5.2 4.5-6.4 1.5 0 1.5 2 7 16.3 2.9 .8 2.9 2 4.5-.2 4.3 3.1 4.4-.5 2.9 1.2 0 1.3zM1861.2 0l0-1.6 3-1.9 4.4 .6 1.5-.6 3-3.3 1.5-.6 2.9 1.9 1.4 .3 1.5-.8 3.1-4.5 4.7-12.7 1.5-1.5 2.9 4.5 2.6 9.9 1.4 2.6 2.9 1.1 4.4 .2 5.8 2.7 1.5-1 0 4.7z"/><path transform="matrix(1 0 0 1.0218 0 498.54)" d="M1529.2 0l0-4.3 5.9-.3 1.4-.9 2.9-4.7 4.5 4.8 4-13.1 2.9-4.5 1.4 0 6 3.1 6.3 13.5 4.3-2.3 4.5 3.7 4.4 .3 8.9 3.1 0 1.6zM1591 0l0-1.5 7.3-2.5 5.9 .2 1.5-1.3 2.8-6.1 1.4-.2 1.5 1.7 4.3-7.8 8.8-2.6 7.5 4.5 4.4 1.7 11.9 7.7 2.9-.5 2.9-2.3 3-.1 10.3 3.9 11.8 .9 5.9 2.2 5.8 .5 0 1.6zM1752.6 0l0-1.6 5.9-.5 5.9-2.2 11.8-.9 10.3-3.9 2.9 .1 3 2.3 2.9 .5 11.9-7.7 4.4-1.7 7.4-4.5 8.8 2.6 4.3 7.8 1.5-1.7 1.5 .2 2.8 6.1 1.5 1.3 5.8-.2 7.3 2.5 0 1.5zM1857 0l0-1.6 8.8-3.1 4.5-.3 4.5-3.7 4.3 2.3 6.2-13.5 6-3.1 1.5 0 2.8 4.5 4.1 13.1 4.5-4.8 2.8 4.7 1.5 .9 5.8 .3 0 4.3z"/><path transform="matrix(1 0 0 1.0225 0 499.88)" d="M1526.1 0l0-3.8 1.5 .8 3-.1 1.4-1 2.8-5 1.5 0 3 3.4 1.5-.9 4-12.9 1.4-2.5 1.5-.6 4.5 2.9 4.4-.1 3 1 6.1 7.7 3.1 5.4 1.4-.3 2.8-4.5 1.5 .4 3.1 5.6 1.5 .8 2.9-1.6 1.5 .1 4.5 3.7 0 1.5zM1590.9 0l0-1.5 4.4-1.3 4.4 .4 4.4-3.1 5.8-1.2 2.9-2.7 3-.4 1.4-1.2 5.8-7.6 4.4-1.4 4.4 1.2 6 6.3 4.5 3.7 1.5 .4 1.4-1.1 1.5 1.9 1.5 .2 2.9-1.9 4.4-.4 8.9 4 8.8 1.2 13.3 3 0 1.5zM1757.1 0l0-1.5 13.2-3 8.9-1.2 8.8-4 4.5 .4 2.9 1.9 1.5-.2 1.4-1.9 1.5 1.1 1.5-.4 4.4-3.7 6-6.3 4.5-1.2 4.4 1.4 5.7 7.6 1.5 1.2 2.9 .4 2.9 2.7 5.9 1.2 4.3 3.1 4.5-.4 4.4 1.3 0 1.5zM1855.6 0l0-1.5 4.5-3.7 1.5-.1 2.9 1.6 1.5-.8 3-5.6 1.5-.4 2.9 4.5 1.4 .3 3.1-5.4 6.1-7.7 3-1 4.4 .1 4.5-2.9 1.4 .6 1.5 2.5 4 12.9 1.4 .9 3.1-3.4 1.5 0 2.8 5 1.4 1 2.9 .1 1.5-.8 0 3.8z"/><path transform="matrix(1 0 0 1.0233 0 501.21)" d="M1523 0l0-3.7 5.9 0 4.4-2.4 4.3-1.1 1.5-1.8 2.7-8.9 2.8-4.6 1.5 0 6 4 7.4 1.9 1.5-.1 2.9-1.5 1.5 1 3.1 6.9 6 2.4 2.9-1.3 1.5 .6 3 3.6 1.5 .7 4.4 .3 4.5 2.2 0 1.8zM1596.7 0l0-1.8 5.8-2.1 1.5-1.2 1.4-.2 3 1 1.5-.6 2.8-4 1.5-.4 3 2.2 8.6-11.9 3-2.3 2.9 1.4 6.1 8 4.4 3.7 1.5 .5 4.4-3 2.9-.1 10.4 4.4 10.3 1.8 5.9 2.2 4.4 .6 0 1.8zM1761.5 0l0-1.8 4.4-.6 5.9-2.2 10.4-1.8 10.3-4.4 3 .1 4.4 3 1.4-.5 4.5-3.7 6-8 3-1.4 2.9 2.3 8.7 11.9 3-2.2 1.4 .4 2.9 4 1.5 .6 2.9-1 1.5 .2 1.4 1.2 5.9 2.1 0 1.8zM1851.3 0l0-1.8 4.5-2.2 4.4-.3 1.5-.7 3-3.6 1.5-.6 2.9 1.3 6-2.4 3.1-6.9 1.5-1 2.9 1.5 1.5 .1 7.4-1.9 6-4 1.5 0 2.8 4.6 2.7 8.9 1.4 1.8 4.4 1.1 4.4 2.4 5.8 0 0 3.7z"/><path transform="matrix(1 0 0 1.0240 0 502.55)" d="M1519.9 0l0-3.1 5.9-.5 2.8-3.9 1.5 .3 3 2.7 1.5 .2 4.1-11.3 2.8-4.5 8.9 .9 4.5 3.3 3 .6 5.8-5.9 1.4-.3 1.5 1.4 4.7 10.1 1.5 1.9 1.5-.2 2.9-3.5 1.5 .3 4.5 6 1.5 .2 2.9-1.5 6 5 0 1.8zM1596.6 0l0-1.6 4.4-1.9 4.4 .8 2.9-3.2 1.4-.2 3 1.9 1.5-.6 2.8-5.4 1.5-.9 1.5 2.4 1.5-.3 4.3-7.2 2.9-2.8 3 .9 7.5 8 1.4-.5 1.5 .7 3-2.4 2.9-.1 10.4 5.7 5.9 .5 5.9 1.5 5.9 2.5 3-.5 2.9 1.1 0 1.6zM1761.6 0l0-1.6 2.9-1.1 3 .5 5.9-2.5 5.9-1.5 5.9-.5 10.4-5.7 2.9 .1 2.9 2.4 1.5-.7 1.5 .5 7.5-8 2.9-.9 3 2.8 4.3 7.2 1.4 .3 1.6-2.4 1.4 .9 2.9 5.4 1.4 .6 3-1.9 1.5 .2 2.9 3.2 4.4-.8 4.4 1.9 0 1.6zM1849.9 0l0-1.8 6-5 3 1.5 1.4-.2 4.6-6 1.5-.3 2.9 3.5 1.4 .2 1.5-1.9 4.7-10.1 1.5-1.4 1.5 .3 5.8 5.9 2.9-.6 4.5-3.3 8.9-.9 2.9 4.5 4 11.3 1.5-.2 3.1-2.7 1.4-.3 2.9 3.9 5.8 .5 0 3.1z"/><path transform="matrix(1 0 0 1.0247 0 503.89)" d="M1516.8 0l0-3.1 3 1.2 1.4-.2 1.5-.9 2.8-3.8 1.5 .1 1.5 1.2 4.4-.8 4.2-8.6 1.4-1.7 1.5-.6 8.8-.3 6 1.7 2.9-1.1 4.4-3.1 4.4 .6 2.9-1.7 1.5 .5 6.2 12.2 1.5 .4 4.3-5.3 4.6 8 4.5 .5 7.4 2.9 2.9-.1 3-1.7 2.9 .5 5.9-2.3 8.8-2.1 4.4-5.1 2.9-1.5 2.9 .3 4.5 2.1 4.4-3.5 3 .7 10.4 6.9 10.3 1.9 7.4 3.4 4.5 .8 0 1.6zM1766 0l0-1.6 4.4-.8 7.4-3.4 10.4-1.9 10.4-6.9 3-.7 4.4 3.5 4.4-2.1 3-.3 2.9 1.5 4.4 5.1 8.8 2.1 5.8 2.3 3-.5 2.9 1.7 3 .1 7.4-2.9 4.4-.5 4.6-8 4.3 5.3 1.5-.4 6.2-12.2 1.5-.5 2.9 1.7 4.5-.6 4.3 3.1 3 1.1 5.9-1.7 8.9 .3 1.5 .6 1.4 1.7 4.1 8.6 4.4 .8 1.6-1.2 1.4-.1 2.9 3.8 1.4 .9 1.5 .2 3-1.2 0 3.1z"/><path transform="matrix(1 0 0 1.0254 0 505.23)" d="M1513.7 0l0-1.9 2.9-.2 13.2-3.7 2.8-4.7 2.9-3 4.4-.2 5.9-1.7 5.9 .5 5.8-5.2 6 2.3 1.4-.9 4.3-7.8 1.4-1.7 1.5 0 1.5 2.8 3.3 11.5 1.5 2.2 4.4-1.5 1.5 1 4.6 6 1.5 .6 2.9-2.3 1.5 .5 3 4.5 1.5 .8 10.3-.7 4.4-2.5 3 1.8 1.4-.4 2.9-3.5 1.5-.7 3 1.6 4.4-2.9 4.4-1.9 4.3-7.3 1.5-.6 1.5 .4 6 6.9 4.4 3.1 10.4 2.8 7.4 3.1 1.5-.7 1.5 .2 2.9 2 0 1.4zM1767.5 0l0-1.4 3-2 1.5-.2 1.4 .7 7.5-3.1 10.3-2.8 4.5-3.1 6-6.9 1.5-.4 1.4 .6 4.4 7.3 4.4 1.9 4.4 2.9 3-1.6 1.4 .7 2.9 3.5 1.5 .4 3-1.8 4.4 2.5 10.3 .7 1.5-.8 3-4.5 1.5-.5 2.9 2.3 1.5-.6 4.6-6 1.5-1 4.4 1.5 1.5-2.2 3.2-11.5 1.6-2.8 1.4 0 1.5 1.7 4.2 7.8 1.5 .9 6-2.3 5.8 5.2 5.9-.5 5.8 1.7 4.5 .2 2.8 3 2.9 4.7 13.1 3.7 3 .2 0 1.9z"/><path transform="matrix(1 0 0 1.0261 0 506.58)" d="M1510.6 0l0-1.9 1.5 .4 0 1.5zM1516.5 0l0-1.8 4.3-3.2 4.5 2 4.2-6.7 2.9-2.2 4.5 .5 11.8-1.8 5.7-5.8 1.5-.6 5.9 1.2 7.2-9.6 1.5-1.4 2.9-.5 3 1.1 4.8 16.5 1.6 2.9 1.4 0 4.4-4.8 1.5 1.3 3.1 6.2 1.5 1.2 2.9-.7 1.5 .6 4.5 3.9 0 1.7zM1606.6 0l0-1.8 2.9-1.6 4.5 1.2 2.9-2.5 1.4-.4 3 1.5 1.5-.2 4.4-2.7 4.4-.2 5.8-11.6 1.4-1.3 1.5-.2 1.5 .8 6 7.2 3 2.1 8.9 2.8 5.9 3.5 4.5-.2 1.5 1.1 4.4 .8 0 1.7zM1767.6 0l0-1.7 4.4-.8 1.5-1.1 4.4 .2 6-3.5 8.9-2.8 3-2.1 6-7.2 1.5-.8 1.4 .2 1.5 1.3 5.8 11.6 4.4 .2 4.4 2.7 1.5 .2 2.9-1.5 1.5 .4 2.9 2.5 4.5-1.2 2.9 1.6 0 1.8zM1839.9 0l0-1.7 4.6-3.9 1.4-.6 3 .7 1.5-1.2 3.1-6.2 1.5-1.3 4.3 4.8 1.5 0 1.5-2.9 4.9-16.5 3-1.1 2.9 .5 1.5 1.4 7.1 9.6 6-1.2 1.5 .6 5.7 5.8 11.8 1.8 4.5-.5 2.8 2.2 4.3 6.7 4.5-2 4.3 3.2 0 1.8zM1931.5 0l0-1.5 1.5-.4 0 1.9z"/><path transform="matrix(1 0 0 1.0269 0 507.92)" d="M1511.9 0l0-1.8 10.3-1.4 1.4-1.2 2.8-4.5 2.9-2.2 6 1 10.3-.6 5.8-6.1 1.4-.7 4.5 .1 1.4-.9 4.3-6.8 7.4-2.7 1.4-1.6 4.2-9 1.5 .5 1.6 4.8 5 20.7 1.4-.5 2.9-3.8 1.5 1.3 3.1 6.3 1.5 1.1 4.5 1.4 4.5 3.5 5.9 1.5 4.4-1.3 10.4-.5 4.4-4.7 1.4 1.2 1.5 0 5.8-8.1 3-1.5 17.9 9.4 4.4 3 8.9 2 5.9 .3 0 1.8zM1766.1 0l0-1.8 5.9-.3 8.9-2 4.5-3 17.9-9.4 2.9 1.5 5.8 8.1 1.5 0 1.5-1.2 4.4 4.7 10.3 .5 4.4 1.3 6-1.5 4.5-3.5 4.4-1.4 1.6-1.1 3-6.3 1.6-1.3 2.8 3.8 1.5 .5 4.9-20.7 1.6-4.8 1.5-.5 4.3 9 1.4 1.6 7.4 2.7 4.2 6.8 1.5 .9 4.4-.1 1.5 .7 5.8 6.1 10.3 .6 6-1 2.9 2.2 2.8 4.5 1.4 1.2 10.3 1.4 0 1.8z"/><path transform="matrix(1 0 0 1.0276 0 509.27)" d="M1510.2 0l0-1.4 2.9-2.1 1.5-.1 3 1.4 2.9-.6 5.7-6.9 14.9 1.1 1.4-1.9 1.5 .9 5.8-4.9 4.4-.9 1.5-.9 4.2-7.4 2.9-3.6 1.5-1.2 3 1.1 1.4-.1 5.7-10.1 4.5-1 1.5 1.2 1.6 3.7 6.4 22.9 1.5 0 2.8-6.3 1.5 1.3 3.2 9 1.5 1.6 2.9-2 1.5 0 3.1 4.4 1.5 1.1 0 1.7zM1612.3 0l0-1.8 7.4-.2 4.4-2.8 3 1.2 4.3-4.4 1.5 1.2 1.5-.3 5.9-4.6 5.9-1.6 4.4 1.3 10.5 8.4 2.9-1.7 4.5 3.4 4.5-.2 2.9 .7 0 1.4zM1767.7 0l0-1.4 2.9-.7 4.5 .2 4.4-3.4 3 1.7 10.4-8.4 4.5-1.3 5.9 1.6 5.9 4.6 1.4 .3 1.5-1.2 4.4 4.4 3-1.2 4.4 2.8 7.4 .2 0 1.8zM1835.7 0l0-1.7 1.5-1.1 3.1-4.4 1.4 0 3 2 1.5-1.6 3.1-9 1.5-1.3 2.9 6.3 1.4 0 6.5-22.9 1.6-3.7 1.5-1.2 4.4 1 5.7 10.1 1.5 .1 3-1.1 1.5 1.2 2.8 3.6 4.3 7.4 1.5 .9 4.4 .9 5.8 4.9 1.5-.9 1.4 1.9 14.8-1.1 5.8 6.9 2.9 .6 3-1.4 1.5 .1 2.9 2.1 0 1.4z"/><path transform="matrix(1 0 0 1.0283 0 510.63)" d="M1507.1 0l0-1.2 2.9-1.2 3 .3 5.8-1.3 4.4-2.9 5.9-1.9 2.9-.5 6 .8 1.4-1.6 1.5 .8 5.8-3.1 4.5-.7 1.4-1 7.2-11.2 5.8-4 2.8-5.6 1.5-.8 4.5 0 2.9-2.1 1.5-1.8 2.8-8 1.4-.5 1.6 4.6 3.4 20.4 1.7 6 3 3.8 1.5 .9 3-.8 1.5 .9 4.5 6.4 4.5 .9 4.5 3 0 1.4zM1616.6 0l0-1.5 3-1.1 4.4-.5 3-1.7 2.9 1.3 1.5-.1 3-1.6 2.9-.3 7.4-5.9 2.9-1.1 3 .5 1.5 1.1 4.5 5.3 2.9-.1 4.5 3.2 4.5-.5 2.9 1.2 0 1.8zM1772.1 0l0-1.8 3-1.2 4.4 .5 4.5-3.2 3 .1 4.5-5.3 1.5-1.1 3-.5 2.9 1.1 7.3 5.9 3 .3 2.9 1.6 1.5 .1 3-1.3 2.9 1.7 4.5 .5 2.9 1.1 0 1.5zM1831.4 0l0-1.4 4.5-3 4.4-.9 4.6-6.4 1.5-.9 3 .8 1.5-.9 3-3.8 1.6-6 3.4-20.4 1.6-4.6 1.5 .5 2.8 8 1.5 1.8 2.9 2.1 4.5 0 1.4 .8 2.9 5.6 5.8 4 7.1 11.2 1.5 1 4.4 .7 5.9 3.1 1.5-.8 1.4 1.6 6-.8 2.9 .5 5.9 1.9 4.3 2.9 5.9 1.3 3-.3 2.9 1.2 0 1.2z"/><path transform="matrix(1 0 0 1.0291 0 511.98)" d="M1509.8 0l0-1.8 4.5-.2 4.3-2.5 1.5 .5 4.4-1 5.9-2.1 5.9-.3 5.9-2.7 2.9-.2 1.5-1.2 3 .5 8.6-11.6 4.4-3.3 2.8-6.6 2.8-4.2 1.5-.3 4.6 2.2 1.4-.9 4.2-11.4 1.5-2.6 1.4-.6 1.6 1.8 5 25 3.2 12 1.5 .1 2.9-4.9 1.5 .9 3.1 7.9 1.5 1.3 4.5 .5 6 4.2 0 1.5zM1618 0l0-1.8 8.9-1.3 5.9 .3 1.5-.7 2.9-3.9 1.5-.6 1.5 1.7 1.5 .3 4.4-3.5 2.9-.9 7.5 5.8 3-.2 4.5 2.4 7.4 .6 0 1.8zM1772.2 0l0-1.8 7.4-.6 4.5-2.4 2.9 .2 7.5-5.8 3 .9 4.4 3.5 1.5-.3 1.5-1.7 1.5 .6 2.9 3.9 1.4 .7 6-.3 8.8 1.3 0 1.8zM1830 0l0-1.5 6-4.2 4.5-.5 1.5-1.3 3.1-7.9 1.5-.9 2.9 4.9 1.4-.1 3.3-12 5-25 1.5-1.8 1.5 .6 1.4 2.6 4.2 11.4 1.5 .9 4.5-2.2 1.5 .3 2.9 4.2 2.8 6.6 4.4 3.3 8.6 11.6 3-.5 1.4 1.2 3 .2 5.8 2.7 6 .3 5.8 2.1 4.4 1 1.5-.5 4.4 2.5 4.5 .2 0 1.8z"/><path transform="matrix(1 0 0 1.0298 0 513.34)" d="M1511.1 0l0-1.3 2.9-1.8 3 .6 3-.4 2.9-1.6 1.5 .7 7.4-1.7 7.3-3.9 7.4-.3 8.7-8.4 2.9-2 7.1-13 5.9-3.2 4.3-6.7 4.4-3.1 1.5 1 4.7 9 3 1.4 8 24.4 1.5 1.4 2.9-4.6 1.5 .4 3.1 7.3 1.5 1.6 5.9 .2 4.5 2.6 0 1.4zM1620.9 0l0-1.8 7.4 0 5.9-2.2 4.5-.6 1.4-1.8 1.5-.7 1.5 1.4 1.5 .3 2.9-1.1 4.5 1.2 1.5-.9 3 2.3 3 1.2 1.4 .3 3-1.2 3 1.8 0 1.8zM1776.7 0l0-1.8 3-1.8 2.9 1.2 1.5-.3 3-1.2 3-2.3 1.5 .9 4.4-1.2 3 1.1 1.5-.3 1.5-1.4 1.4 .7 1.5 1.8 4.4 .6 6 2.2 7.4 0 0 1.8zM1825.6 0l0-1.4 4.5-2.6 6-.2 1.5-1.6 3.1-7.3 1.5-.4 2.9 4.6 1.5-1.4 7.9-24.4 3-1.4 4.7-9 1.5-1 4.4 3.1 4.4 6.7 5.9 3.2 7.1 13 2.9 2 8.7 8.4 7.4 .3 7.3 3.9 7.4 1.7 1.5-.7 2.9 1.6 2.9 .4 3-.6 2.9 1.8 0 1.3z"/><path transform="matrix(1 0 0 1.0305 0 514.70)" d="M1513.9 0l0-1.8 4.4-1 11.9-1.1 7.3-4.5 5.9-.6 4.3-3.6 7.4-3.8 1.4-1.3 5.7-10.4 4.4-3.2 2.9-3.3 2.8-8.2 2.9-5.3 1.5 .4 3.2 8.8 3.1 5.9 1.5-.3 4.4-2.7 1.5-.1 1.5 1.5 6.4 21.6 6 3.5 4.6 4 4.4-.2 7.5 4.3 0 1.4zM1626.8 0l0-1.6 2.9-.5 4.4-1.7 1.5 .6 7.5-1 4.4 1.1 5.9-1.3 4.5 1.6 8.9 .5 3 .8 0 1.5zM1773.8 0l0-1.5 2.9-.8 8.9-.5 4.5-1.6 5.9 1.3 4.5-1.1 7.4 1 1.5-.6 4.5 1.7 2.9 .5 0 1.6zM1822.8 0l0-1.4 7.5-4.3 4.4 .2 4.5-4 6.1-3.5 6.4-21.6 1.5-1.5 1.5 .1 4.4 2.7 1.5 .3 3.1-5.9 3.2-8.8 1.5-.4 2.9 5.3 2.8 8.2 2.9 3.3 4.3 3.2 5.7 10.4 1.5 1.3 7.3 3.8 4.4 3.6 5.9 .6 7.3 4.5 11.9 1.1 4.4 1 0 1.8z"/><path transform="matrix(1 0 0 1.0312 0 516.06)" d="M1516.7 0l0-1.8 2.9-.7 4.5 .3 2.9-2.7 1.5 .2 1.5 1.2 10.3-4.4 4.3-3.9 3-1.6 5.9-1.7 4.3-5.9 7.3-6.7 1.4-2.3 4.2-11.5 1.4-2.6 1.5-1 1.5 .9 4.7 10 1.6 1.5 1.5 .5 4.4-1.4 5.9-4.4 1.5 .9 6.5 26.9 1.6 2.7 1.5-.3 2.8-4.4 1.5-.3 3.1 6.7 4.5 .2 6 4.3 0 1.3zM1626.7 0l0-1.3 2.9-1.2 3 .6 4.4-1.6 4.5 1.5 5.9-2.8 6 2.8 4.5-1.5 8.9 1.7 0 1.8zM1776.8 0l0-1.8 8.9-1.7 4.5 1.5 5.9-2.8 5.9 2.8 4.5-1.5 4.5 1.6 2.9-.6 3 1.2 0 1.3zM1821.4 0l0-1.3 6-4.3 4.4-.2 3.1-6.7 1.5 .3 2.9 4.4 1.5 .3 1.5-2.7 6.5-26.9 1.6-.9 5.8 4.4 4.5 1.4 1.5-.5 1.5-1.5 4.7-10 1.6-.9 1.4 1 1.5 2.6 4.2 11.5 1.4 2.3 7.3 6.7 4.3 5.9 5.9 1.7 2.9 1.6 4.4 3.9 10.3 4.4 1.5-1.2 1.5-.2 2.9 2.7 4.4-.3 3 .7 0 1.8z"/><path transform="matrix(1 0 0 1.0320 0 517.42)" d="M1521 0l0-1.8 2.9-1.6 3 .7 4.4-1.7 4.5-.1 1.4-.7 7.3-6.9 5.9-2 4.3-4.3 5.9-2.7 2.9-2.9 4.2-11.1 2.9-4.6 1.5 .3 4.7 7.1 4.4-2 1.5 .2 3 2 1.5-.3 4.4-4.4 1.5-.4 1.5 .5 1.5 1.5 1.6 3.8 4.9 19.2 6 2.1 1.4-2.1 1.5-.3 3.1 6.8 1.5 1.7 4.5 .5 6 1.9 0 1.6zM1631 0l0-1.6 1.5-.6 3 .5 0 1.7zM1638.5 0l0-1.7 8.9-1.6 8.9 1.4 6-.4 8.9 .6 0 1.7zM1772.4 0l0-1.7 8.9-.6 5.9 .4 9-1.4 8.9 1.6 0 1.7zM1808.1 0l0-1.7 2.9-.5 1.5 .6 0 1.6zM1817 0l0-1.6 6-1.9 4.4-.5 1.6-1.7 3.1-6.8 1.4 .3 1.5 2.1 6-2.1 4.8-19.2 1.6-3.8 1.5-1.5 1.6-.5 1.4 .4 4.4 4.4 1.5 .3 3.1-2 1.5-.2 4.4 2 4.7-7.1 1.5-.3 2.8 4.6 4.2 11.1 2.9 2.9 5.9 2.7 4.4 4.3 5.9 2 7.2 6.9 1.5 .7 4.5 .1 4.4 1.7 3-.7 2.9 1.6 0 1.8z"/><path transform="matrix(1 0 0 1.0327 0 518.79)" d="M1520.8 0l0-1.6 7.4-1.2 2.9-2 1.5-.3 3 1.1 11.7-8.8 4.3-4.4 7.4-1.9 1.5-1.1 4.3-8.1 2.9-3.9 1.5-.4 4.5 4.1 5.9-3.8 6-2.5 6 1.2 3 2.4 4.6 5.3 3.1 7.1 1.6 1 1.5 4.9 7.6 3.8 4.5 4.6 1.5 .7 4.5-1.4 3 3.2 1.5 .3 0 1.7zM1639.9 0l0-1.4 3-1.3 3 1 0 1.7zM1648.8 0l0-1.6 3-1.1 3 1 0 1.7zM1662.2 0l0-1.8 4.5-.4 4.5 .6 0 1.6zM1772.4 0l0-1.6 4.5-.6 4.4 .4 0 1.8zM1788.8 0l0-1.7 3-1 2.9 1.1 0 1.6zM1797.7 0l0-1.7 3-1 3 1.3 0 1.4zM1815.6 0l0-1.7 1.5-.3 3-3.2 4.5 1.4 1.5-.7 4.5-4.6 7.5-3.8 1.6-4.9 1.5-1 3.2-7.1 4.5-5.3 3.1-2.4 6-1.2 5.9 2.5 5.9 3.8 4.6-4.1 1.5 .4 2.9 3.9 4.3 8.1 1.4 1.1 7.4 1.9 4.4 4.4 11.7 8.8 3-1.1 1.5 .3 2.9 2 7.4 1.2 0 1.6z"/><path transform="matrix(1 0 0 1.0334 0 520.16)" d="M1525.1 0l0-1.8 2.9-2 4.5 1 2.9-3.4 1.5-.2 1.5 1 4.4-2.3 7.2-8.6 7.4-2.3 4.3-5.6 3-2.4 1.5 .1 4.5 3.4 4.4-4.2 5.9-4.1 4.4-4.5 1.5-.1 1.5 1.2 4.7 7.8 6.1 5.2 1.5 .1 2.9-6.1 1.4-.6 6.4 21.4 1.5 0 4.4-2.1 1.5 .6 4.6 4.7 3-.8 3 2.8 0 1.8zM1814.2 0l0-1.8 3-2.8 3 .8 4.5-4.7 1.5-.6 4.5 2.1 1.5 0 6.3-21.4 1.5 .6 2.9 6.1 1.5-.1 6.1-5.2 4.6-7.8 1.6-1.2 1.4 .1 4.4 4.5 5.9 4.1 4.4 4.2 4.6-3.4 1.5-.1 2.9 2.4 4.4 5.6 7.4 2.3 7.2 8.6 4.4 2.3 1.5-1 1.5 .2 2.9 3.4 4.5-1 2.9 2 0 1.8z"/><path transform="matrix(1 0 0 1.0342 0 521.53)" d="M1527.9 0l0-1.7 4.4-2.6 3 .5 5.9-1.9 7.3-7 5.8-4.5 2.9-3.9 2.9-2.6 1.5-.3 1.5 .7 4.6 4.2 1.5-.5 5.9-4.6 7.3-8.2 1.5-.7 3 1 7.7 10.7 1.5 1.5 1.5 0 4.3-12.9 2.9-3.6 1.5 2 1.6 5.4 4.9 20.4 1.5 .3 2.9-3.4 1.5 .6 1.6 2.9 4.5 3.8 7.5 3.1 0 1.3zM1671.1 0l0-1.7 10.4 0 0 1.7zM1762.1 0l0-1.7 10.4 0 0 1.7zM1811.3 0l0-1.3 7.5-3.1 4.5-3.8 1.6-2.9 1.5-.6 2.9 3.4 1.5-.3 4.8-20.4 1.6-5.4 1.6-2 2.9 3.6 4.2 12.9 1.5 0 1.6-1.5 7.7-10.7 3-1 1.5 .7 7.3 8.2 5.9 4.6 1.4 .5 4.6-4.2 1.6-.7 1.4 .3 3 2.6 2.9 3.9 5.8 4.5 7.3 7 5.9 1.9 3-.5 4.4 2.6 0 1.7z"/><path transform="matrix(1 0 0 1.0349 0 522.90)" d="M1528.7 0l0-1.8 4.4-1.6 4.5-.1 2.9-4.2 3 .8 4.4-2.6 2.9-2.8 4.3-7.5 2.9-2.5 1.5 .2 4.6 4.6 1.5 .4 8.9-4.3 4.4-5.5 2.9-2.1 3.1 1.1 9.1 7.3 1.5-1.1 4.3-10 2.9-2.5 3.1 1.7 3 4.4 3.2 10 4.7 9.8 1.5 .1 1.4-1.8 1.5-.5 4.6 6.9 3 1.1 3-.6 3 1.3 0 1.8zM1670.5 0l0-1.6 6-.7 6 .6 0 1.7zM1761.6 0l0-1.7 6-.6 4.4 .5 0 1.8zM1807.9 0l0-1.2 3-1.9 4.4 .6 1.5-.4 6.1-7.7 3 3 1.5-1.8 3.1-7 4.7-12.7 3.1-4 3-1 3 3.2 4.3 9.9 1.5 .2 10.6-8.2 3 1 5.8 7 7.4 3.7 1.5 .3 4.6-4.2 1.6-1 1.4 .1 3 3 4.2 7.4 3 2.5 4.4 2.7 1.5-1.5 1.5 .9 2.9 3.8 4.4 0 4.5 1.7 0 1.6z"/><path transform="matrix(1 0 0 1.0357 0 524.28)" d="M1525.5 0l0-1.8 7.5-.3 4.4-3.4 3 1.3 4.4-1.7 4.4-3.4 5.8-8.5 1.5-1.1 6 3 9-2.2 5.8-4.6 3-1 10.6 4.5 1.5-2.1 2.8-9.1 1.4-2.7 1.5-.5 9.2 7.9 4.5 1.9 7.8 16.2 1.5 1.7 4.5 .3 9 3.8 0 1.8zM1672 0l0-1.6 13.4-.2 0 1.8zM1758.6 0l0-1.8 12 0 0 1.8zM1807.9 0l0-1.5 10.6-4.2 3 .1 1.5-.6 4.6-8.2 3.1-8 1.6-1.8 4.5-1.9 7.6-6.8 1.5-.7 1.5 1 4.3 12.4 1.5 1 6-3.3 4.5-1.1 3 1.1 4.4 3.8 3 1.3 7.4 1.5 4.6-2.8 1.5 .1 7.2 9.9 2.9 2.2 6 2.3 1.5-1.1 1.5 0 2.9 2.9 1.5 .4 7.4 .3 0 1.7z"/><path transform="matrix(1 0 0 1.0364 0 525.66)" d="M1531.4 0l0-1.6 7.4-2.1 4.4-.5 2.9-4.5 1.5-.8 1.5 1 4.4-3.7 4.5-.8 4.4-2.4 6-1.3 5.9-2.5 3-.2 9.1 2.6 1.4-.8 1.5-1.3 4.3-12 1.4-1.9 1.5-.6 3.1 2.2 4.6 7.6 3 1.1 4.5-1.1 3 1.1 6.3 16.5 1.5 1 1.5-.2 3-2.5 1.5 1 3 4.2 1.5 .7 4.5 0 0 1.8zM1676.4 0l0-1.7 9-.1 0 1.8zM1757.2 0l0-1.8 9 0 0 1.8zM1805 0l0-1.4 6-.5 1.5-1.1 3.1-4.3 1.5-.2 2.9 2.5 1.5-.3 1.6-1.7 3.1-9.7 3.1-6.4 3-.5 4.5 1.1 1.5-.4 3.1-3.5 3.1-5.5 1.6-1.2 1.5-.3 2.9 3.2 4.2 12.3 3 .9 9.1-2.4 3 .3 5.9 2.5 4.5 .9 4.4 2.4 6 1.4 4.4 3.5 1.5-1.2 2.9 4.6 1.4 1 3 0 7.4 2.2 0 1.8z"/><path transform="matrix(1 0 0 1.0371 0 527.04)" d="M1528.2 0l0-1.3 3-1.2 3 .4 4.4-.5 1.5-.5 2.9-3.1 3 1 4.5-2.4 4.5-.6 7.3-5.6 7.4-3.7 3-.1 7.6 3.2 4.5 .8 1.5-1.9 4.2-11.6 3-2.9 3 .9 9.1 7.4 6.1 .1 3 1.1 3.1 4.6 3.1 7.1 1.5-.4 4.5 4.7 1.5 .7 3-.2 4.6 2.5 0 1.5zM1680.9 0l0-1.8 11.9 .1 0 1.7zM1751.2 0l0-1.8 10.5 0 0 1.8zM1808.1 0l0-1.8 3-1.9 4.5-.3 1.5-.9 3.1-3.7 3-.5 3.1-8 3.1-3.7 3-.9 6-.2 9.2-7.6 1.5-.6 1.5 .2 2.9 3.6 4.3 11.7 1.5 1.2 6-1.7 4.6-2.3 3-.4 8.9 4.4 5.8 4.9 4.5 .6 5.9 2.5 1.6-1 1.4 .6 2.9 3 6 .8 3-.4 1.5 .6 0 1.8z"/><path transform="matrix(1 0 0 1.0379 0 528.42)" d="M1534 0l0-1.8 4.5-.5 4.4-1.8 6-1 2.9-2.9 3.1 1.7 5.9-3.7 4.3-4.4 3-1.9 3 .3 7.6 4 2.9-2.9 1.6 2.2 4.3-9.2 2.9-3.3 1.5-.6 7.6 3.6 6-.4 7.6 5.2 4.7 6.7 3 2.2 1.5-.5 4.6 5 4.5 .3 6 2 0 1.7zM1682.3 0l0-1.7 4.5-.5 9 .4 0 1.8zM1746.8 0l0-1.8 8.9-.4 6 .6 0 1.6zM1805.2 0l0-1.3 6-2.2 6-.8 3.1-3.9 1.5-.9 1.5 .6 1.5-1.2 6.1-8.2 6.1-4.2 1.5-.6 6.1 .4 6-3.4 3 .8 3 3.8 2.8 6.5 1.5 1.2 1.5-1.5 1.5 3.1 9.1-4.4 3 0 7.3 6.6 5.9 3.6 3.1-1.9 2.9 3 4.5 .6 4.4 1.8 4.5 .7 0 1.8z"/><path transform="matrix(1 0 0 1.0386 0 529.81)" d="M1533.8 0l0-1.5 3-1.3 3 .2 4.5-.8 2.9-2.3 1.5 0 3.1 1.8 4.3-5.2 1.6 1.5 1.5 .4 8.8-6.5 7.6 2.5 1.5-.1 1.5-2 1.5 2 4.4-6.9 2.9-2.2 3-.2 6.1 1.1 7.4-1.8 3.1 .6 1.5 1.1 6.2 9.8 1.5-1 1.5 .4 3 4.2 3.1 1.2 2.9-1.1 4.6 3.9 4.5-.3 3 1.3 0 1.2zM1685.3 0l0-1.8 7.5-.5 6 .6 0 1.7zM1745.3 0l0-1.8 6-.5 7.5 .5 0 1.8zM1805.3 0l0-1.4 3-1.2 4.5 .1 3-3.2 1.5-.3 1.5 1 4.5-1.5 3.1-4.4 3 .5 6.2-9.7 4.5-1.1 6 1.7 7.6-1.1 3 .4 2.9 2.5 2.9 5 1.5 .4 1.5-.8 1.5 2.3 6-2.5 3-.3 8.9 6.7 3-2.1 2.9 4.5 1.5 .7 3.1-2.1 2.9 2.3 6 1.1 3-.1 2.9 1.2 0 1.4z"/><path transform="matrix(1 0 0 1.0394 0 531.20)" d="M1535.2 0l0-1.6 12-.9 1.4-.4 3-2.7 1.5-.3 1.5 .9 4.5-.8 5.9-3.1 4.5-1.1 6 .5 1.5-1 2.9-4.5 2.9-2.4 3-.1 7.6 1.8 6-2.8 3-.5 3 .7 1.5 1.2 4.7 6.8 3 2.6 3 .2 4.6 2.9 9 1 3 1.9 0 1.7zM1686.8 0l0-1.6 6-.7 7.5 .5 0 1.8zM1743.8 0l0-1.8 7.5-.5 4.5 .5 0 1.8zM1808.3 0l0-1.4 4.6-2.4 9-.9 4.6-3.1 3 .1 3-3.2 4.7-6.7 1.5-1 3-.4 3 .7 6 2.7 9-2 3 1.5 4.4 6.1 1.5 .5 6-.4 4.5 1.2 5.9 3.1 4.5 .3 1.5-.6 4.4 3.2 12 .9 0 1.8z"/><path transform="matrix(1 0 0 1.0401 0 532.59)" d="M1538 0l0-1.7 3-.9 6 .5 6-2.2 3 .6 1.5-.4 2.9-2.8 3 1 9-1.7 5.8-7.7 3-1.1 9.1 3.3 9-2.9 3-.1 1.5 .9 4.7 5.6 2.9-1.6 3.1 5.2 1.6 .9 1.5 .6 1.5-.3 1.5-1.3 1.5 0 1.5 1.7 6 .6 6.1 2.4 0 1.4zM1689.7 0l0-1.7 16.6-.1 0 1.8zM1737.8 0l0-1.8 15 0 0 1.8zM1808.4 0l0-1.6 6.1-2.3 4.5-.5 3-1.9 3 1.9 3-.9 4.6-5.9 1.5 2.1 6.1-6.5 1.5-.6 12 3.1 9.1-3.3 3 1.5 4.4 6.5 1.5 1 8.9 1.6 3.1-.9 2.9 2.7 4.5-.3 4.5 2.1 3 .4 3-.8 3 .9 0 1.7z"/><path transform="matrix(1 0 0 1.0408 0 533.98)" d="M1542.4 0l0-1.4 2.9-1.1 4.6 .4 3-.5 2.9-2 1.5-.3 3 1.3 4.5-1.5 4.5-.1 1.5-.6 5.8-8 3-1 7.6 2.9 12.1-1.1 1.5 .5 4.6 4.1 1.5-1.2 4.5 3.4 7.6 1.9 6 0 1.5 .7 6-.3 6.1 2.5 0 1.4zM1694.2 0l0-1.8 7.5-.6 15.1 .6 0 1.8zM1727.3 0l0-1.8 15-.6 7.6 .7 0 1.7zM1805.5 0l0-1.6 6-2.4 4.5 .4 9.1-.8 7.5-2 3.1-3 3 .6 4.6-3.9 3-.3 7.5 1.3 1.5-.6 1.5 .3 7.6-2.8 3 1.4 5.8 8 4.6 .1 5.9 1.7 3.1-1.4 2.9 2.2 4.5 .8 3-.6 3 .9 0 1.7z"/><path transform="matrix(1 0 0 1.0416 0 535.38)" d="M1543.7 0l0-1.5 19.5-2.1 2.9-3.1 3.1 1.4 5.9-4.7 4.5-1.7 6 .8 10.6 .1 7.6 4.6 3-1.6 4.6 3.3 1.5 .4 3-1.5 3 1.3 4.5 .9 9.1-.1 7.5 1.9 0 1.6zM1695.7 0l0-1.7 9-.9 12.1 .6 22.5-.6 7.6 .8 0 1.8zM1804.1 0l0-1.7 7.5-1.9 9 .1 4.6-.8 3-1.3 3 1.4 4.6-3.3 1.5-.2 3 1.4 7.6-4.6 10.5 0 6.1-.8 4.5 2 5.9 4.4 1.5-1.2 1.5 0 3 3.1 18 1.6 0 1.8z"/><path transform="matrix(1 0 0 1.0423 0 536.78)" d="M1548.1 0l0-1.5 3-.7 1.5 .4 0 1.8zM1557.1 0l0-1.8 1.5-.1 4.4-2.9 3.1 1.3 2.9-3.2 1.5 .8 15-4.3 3-.3 4.6 .7 4.6 3.2 3-1.1 6.1 4.1 1.5 0 2.9-2.2 1.6 .4 1.5 1.5 10.5 .2 9.1 1 6-.5 4.6 1.7 0 1.5zM1698.7 0l0-1.8 7.5-1.1 18.1 .6 12-.7 9.1 1.3 0 1.7zM1799.6 0l0-1.7 4.6-1.5 6 .5 18.1-1.2 3-1.8 4.5 2.2 1.5-.2 4.6-3.7 1.5-.2 1.5 1 6.1-3.3 4.5-.6 16.5 4.4 3-.3 3 3 3-1.4 4.5 3 0 1.8zM1890 0l0-1.8 3-.4 3 .8 0 1.4z"/><path transform="matrix(1 0 0 1.0431 0 538.18)" d="M1556.9 0l0-1.6 4.6-.6 4.4-2.6 1.5 1 1.5-.1 9.1-1.7 7.4-3.4 3-.3 3.1 .9 3 2.3 3-1 3.1 .2 4.6 3.3 6 .4 4.5-.6 1.5 .6 6-.4 7.6 1.2 10.5-1.6 6.1 2.7 0 1.3zM1700.2 0l0-1.7 9-1.4 22.6 0 6.1 .2 6 1.3 0 1.6zM1796.7 0l0-1.5 6-2.5 9.1 1.5 9-1.2 16.6 .3 1.5-.3 3.1-2.8 4.5-.4 1.5 1.1 4.6-2.9 3-.6 3 .5 7.5 3.4 9 1.6 3.1-1 2.9 2.4 4.5 .6 0 1.8z"/><path transform="matrix(1 0 0 1.0438 0 539.58)" d="M1553.8 0l0-1.3 3-.8 3 .5 12-1.5 4.5-3.5 3.1 1.8 7.5-2.5 1.5 .1 6.1 3 3-1.7 4.5 2.6 3-1.6 4.6 2.2 10.5-.6 9.1 .7 12.1-1.4 3 .3 6.1 2.3 0 1.4zM1701.7 0l0-1.5 12-2.1 18.1 .1 9.1 1.7 0 1.8zM1793.7 0l0-1.6 4.6-1.8 4.5-.6 12.1 1.4 9-.7 10.6 .6 3-2 1.5 0 3 1.2 3.1-2.2 1.5-.1 3 1.5 6.1-3 9 2.7 3.1-1.9 2.9 3.2 1.5 .3 12.1 1.5 3-.7 1.5 .4 0 1.8z"/><path transform="matrix(1 0 0 1.0446 0 540.99)" d="M1556.7 0l0-1.3 3-.8 9 0 3-1.9 4.5 .1 3-1.9 3.1 1.4 3-.3 4.5 .9 3-1.8 4.6 3.2 1.5-.2 3-1.8 3.1 1.6 4.5-.2 3 .8 6.1-.6 7.5 .3 6-1.1 15.1-.2 4.6 2 0 1.8zM1704.7 0l0-1.6 9-2.3 10.6-.3 7.6 .7 7.5 2 0 1.5zM1790.8 0l0-1.6 6-2.2 13.6 .2 7.6 1.2 7.5-.4 6 .6 3.1-.9 3 .6 3.1-1.8 1.5 .1 2.9 1.8 1.6-.2 4.6-3 2.9 1.7 4.6-.8 3 .4 3.1-1.4 2.9 1.9 3.1-.5 4.5 2.2 10.5 .4 0 1.7z"/><path transform="matrix(1 0 0 1.0453 0 542.40)" d="M1568.6 0l0-1.8 7.5-1.9 10.6 1.2 4.5-.8 10.6 1.1 4.6-.6 3 .8 12.1 0 12.1-1.9 6 .7 10.6-.3 6.1 2 0 1.5zM1706.2 0l0-1.7 15.1-3.6 4.5 .5 10.6 3.1 0 1.7zM1787.8 0l0-1.7 6.1-1.8 10.5 .3 6.1-.6 10.6 1.7 12.1 .1 4.5-.9 3 .8 12.1-1.2 4.6 .8 10.6-1.3 7.5 2.2 0 1.6z"/><path transform="matrix(1 0 0 1.0461 0 543.81)" d="M1565.4 0l0-1.8 3.1 .2 0 1.6zM1571.5 0l0-1.5 4.5-1.3 4.6 1 4.4-2 6.1 2.1 6.1-1.1 6 1 0 1.8zM1607.8 0l0-1.8 7.6 0 0 1.8zM1619.9 0l0-1.7 10.6-1.8 15.1 .3 7.6-.8 6 2.6 0 1.4zM1703.1 0l0-1.6 1.5-.5 4.6 .4 12.1-4.4 3 .4 10.6 4.2 3-.6 3 .7 0 1.4zM1784.8 0l0-1.6 6.1-2.4 7.6 .8 15.1-.3 10.6 1.8 0 1.7zM1828.7 0l0-1.8 7.6 0 0 1.8zM1840.8 0l0-1.8 6.1-.9 3 .9 0 1.8zM1852.9 0l0-1.8 4.6-2 6 1.9 4.6-.9 4.5 1.3 0 1.5zM1875.6 0l0-1.7 3 0 0 1.7z"/><path transform="matrix(1 0 0 1.0468 0 545.22)" d="M1577.4 0l0-1.5 7.5-1.3 4.6 1 0 1.8zM1598.6 0l0-1.5 3-.3 0 1.8zM1618.3 0l0-1.6 9.1-1.4 28.7-1 6.1 2.4 0 1.6zM1707.6 0l0-1.7 1.6-.6 3 .3 9.1-3.8 3 .4 6.1 2.9 3 .1 3 .9 0 1.5zM1781.9 0l0-1.7 6-2.3 10.6 .8 16.7 .1 9.1 1.3 0 1.8zM1840.9 0l0-1.6 3.1-.2 0 1.8zM1853 0l0-1.7 4.6-1.1 7.6 1.1 0 1.7z"/><path transform="matrix(1 0 0 1.0476 0 546.64)" d="M1578.8 0l0-1.4 3-.9 3.1 .9 0 1.4zM1587.9 0l0-1.7 1.5-.5 3 .7 0 1.5zM1618.2 0l0-1.8 39.4-2.5 7.6 2.8 0 1.5zM1709.2 0l0-1.8 4.5-.2 7.6-2.4 3 .3 6.1 2.3 4.5 .1 0 1.7zM1778.9 0l0-1.5 6.1-2.7 40.9 2.5 0 1.7zM1851.6 0l0-1.7 1.6-.6 3 .8 0 1.5zM1859.2 0l0-1.6 3.1-.6 1.5 .4 0 1.8z"/><path transform="matrix(1 0 0 1.0483 0 548.06)" d="M1616.6 0l0-1.8 27.3-1.9 12.1-.3 6.1 .3 6.1 2.2 0 1.5zM1712.2 0l0-1.3 3-1.2 12.1 0 3.1 .8 0 1.7zM1775.9 0l0-1.7 4.6-1.8 7.6-.5 39.4 2.3 0 1.7z"/><path transform="matrix(1 0 0 1.0491 0 549.48)" d="M1615 0l0-1.8 18.2-.5 16.7-1.7 7.6 .5 7.6-.6 6.1 2.5 0 1.6zM1674.2 0l0-1.7 3-.5 3.1 .5 0 1.7zM1763.8 0l0-1.8 3-.5 4.6 .9 7.6-2.7 7.6 .6 7.6-.5 16.7 1.7 16.7 .5 0 1.8z"/><path transform="matrix(1 0 0 1.0499 0 550.90)" d="M1624 0l0-1.8 7.6-.2 16.7-1.9 9.1 .5 10.6-1.1 7.7 2.8 4.5-.7 3.1 .9 0 1.5zM1719.8 0l0-1.6 1.5-.4 3 .6 0 1.4zM1760.8 0l0-1.7 3-.7 4.6 .5 7.6-2.6 10.7 1.1 9.1-.4 16.7 1.9 7.6 .1 0 1.8z"/><path transform="matrix(1 0 0 1.0506 0 552.33)" d="M1630 0l0-1.8 15.2-1.6 15.2-.4 10.6-1.2 7.7 3.1 3 0 3.1-1.3 3 1.4 0 1.8zM1754.7 0l0-1.4 3.1-1.6 1.5-.1 4.6 1.5 9.1-3.5 9.2 1.3 15.2 .3 16.7 1.7 0 1.8z"/><path transform="matrix(1 0 0 1.0514 0 553.76)" d="M1628.4 0l0-1.8 35-2.4 9.1-1.2 3.1 .5 4.6 2.1 13.7 1.2 0 1.6zM1750.2 0l0-1.7 9.2-1.1 4.5 .1 4.6-2.3 3.1-.4 9.1 1.3 35 2.3 0 1.8z"/><path transform="matrix(1 0 0 1.0521 0 555.19)" d="M1628.3 0l0-1.8 16.8-.7 31.9-3.5 7.7 3.9 4.6-1.9 1.5 .3 3 2.1 0 1.6zM1748.7 0l0-1.3 4.6-2.7 4.6 1.8 1.5 0 3-2.1 4.6-1.7 30.5 3.4 18.3 .8 0 1.8z"/><path transform="matrix(1 0 0 1.0529 0 556.63)" d="M1631.3 0l0-1.8 13.7-.5 18.3-2.7 6.1 .1 10.6-2 9.2 4.2 6.1 .1 4.6 1.1 0 1.5zM1744.2 0l0-1.6 4.5-1 6.1-.2 9.2-4.1 9.2 1.9 6.1-.1 19.8 2.9 13.7 .4 0 1.8z"/><path transform="matrix(1 0 0 1.0536 0 558.06)" d="M1631.2 0l0-1.8 6.1 0 0 1.8zM1640.3 0l0-1.8 32.1-3.8 10.7-2.6 3 1.3 4.6 4.3 4.6-1.4 4.6 2.5 0 1.5zM1744.2 0l0-1.7 3-2.1 1.6-.2 3 1.5 1.5-.4 4.7-4.4 3-.9 10.7 2.7 32 3.7 0 1.8zM1806.8 0l0-1.8 6.1 0 0 1.8z"/><path transform="matrix(1 0 0 1.0544 0 559.50)" d="M1638.7 0l0-1.8 12.3-1 24.4-3.6 10.7-4.1 1.5 .8 3.1 4 3.1 2.6 1.5 .7 7.6 .6 0 1.8zM1739.6 0l0-1.6 9.2-1 3.1-2 4.6-5.5 1.5-.4 6.1 2.8 4.6 1.4 24.4 3.6 10.7 .9 0 1.8z"/><path transform="matrix(1 0 0 1.0552 0 560.94)" d="M1638.7 0l0-1.8 10.7-.7 10.7-1.5 16.8-3.5 9.1-3.4 3.1 .6 6.2 7.8 3 .3 3.1-1 3 1.5 0 1.7zM1738.1 0l0-1.2 3.1-1.7 1.5-.2 3.1 1 3-.7 4.6-6.5 1.6-1.3 1.5-.3 3.1 .4 6.1 2.8 18.3 3.8 21.4 2.1 0 1.8z"/><path transform="matrix(1 0 0 1.0559 0 562.39)" d="M1638.6 0l0-1.8 18.3-1.4 13.8-3.4 6.1-2.4 7.7-1.1 4.6 1.5 6.1 4.9 1.6-.2 4.6 2.1 0 1.8zM1741.2 0l0-1.6 4.6-1.9 3-.1 4.7-4.4 3-1.6 3.1-.5 6.1 .8 7.7 2.8 12.2 3.1 19.9 1.6 0 1.8z"/><path transform="matrix(1 0 0 1.0567 0 563.84)" d="M1638.5 0l0-1.7 21.4-2 7.7-2.1 9.2-4 3-.7 6.2 2.6 7.7 4.5 3-.2 4.6 1.9 0 1.7zM1742.7 0l0-1.8 3.1-1.5 4.6-.4 9.2-5.2 4.6-1.6 10.8 4.3 7.6 2.3 7.7 1.2 13.7 .9 0 1.8z"/><path transform="matrix(1 0 0 1.0575 0 565.29)" d="M1640 0l0-1.7 21.4-2.2 4.6-1.3 9.2-4.2 3.1-.5 3 .7 7.7 5.4 1.6-.7 6.1 2.8 4.6-.8 3.1 1.3 0 1.2zM1739.7 0l0-1.4 3.1-1.1 4.6 .7 4.6-2.7 3 .4 6.2-4.5 4.6-1.3 3.1 .7 7.6 3.6 4.6 1.4 21.5 2.4 0 1.8z"/><path transform="matrix(1 0 0 1.0582 0 566.74)" d="M1641.4 0l0-1.6 20-2.3 13.8-4.9 4.6 1.1 7.7 4.6 4.6 .1 6.1 1.3 0 1.7zM1745.8 0l0-1.8 10.8-1.6 6.2-3.8 4.6-1.5 3.1 .2 7.6 3.5 4.6 1.2 18.4 2 0 1.8z"/><path transform="matrix(1 0 0 1.0590 0 568.20)" d="M1644.4 0l0-1.7 16.9-2.4 12.3-3.2 3.1 .5 6.1 3 3.1-.8 4.6 3 4.6-.8 3.1 .8 0 1.6zM1715.1 0l0-1.8 1.6-.4 3 .5 0 1.7zM1724.3 0l0-1.8 4.7 .2 0 1.6zM1745.9 0l0-1.8 1.5-.6 3.1 .6 0 1.8zM1753.5 0l0-1.8 4.7-2.8 1.5 .8 1.5-.2 6.2-2.9 3.1-.4 12.3 3.3 16.8 2.4 0 1.6z"/><path transform="matrix(1 0 0 1.0598 0 569.66)" d="M1645.9 0l0-1.7 24.6-4.2 9.2 2.4 1.6-.5 3 1.3 9.3 1.2 0 1.5zM1709 0l0-1.3 3-1.2 4.7 .7 4.6-2.3 1.5 .2 3.1 1.9 6.1-.4 1.6 .6 0 1.8zM1750.5 0l0-1.6 7.7-.9 3.1-1.4 3.1 .4 4.6-1.7 4.6-.7 24.6 4.3 0 1.6z"/><path transform="matrix(1 0 0 1.0605 0 571.12)" d="M1647.4 0l0-1.7 16.9-3.5 4.6 .3 7.7 2.2 4.6-.4 4.7 1.2 6.1 .2 0 1.7zM1707.4 0l0-1.4 13.9-2.9 13.8 2.6 0 1.7zM1750.5 0l0-1.3 3.1-.9 3.1 .5 6.2-1.4 3 .7 7.7-2.3 4.7-.5 4.6 .4 12.3 3 0 1.8z"/><path transform="matrix(1 0 0 1.0613 0 572.58)" d="M1648.8 0l0-1.7 9.3-2.6 4.6-.6 9.2 2.2 3.1-.5 4.7 1.5 0 1.7zM1682.7 0l0-1.5 3.1-.8 3.1 1 0 1.3zM1702.8 0l0-1.1 3.1-1.8 4.6 .8 1.5-.3 4.6-4.5 4.7 3.4 1.5-.3 3.1-2.8 1.5 0 3.1 3.6 1.6 .8 4.6-.8 3.1 1.3 0 1.7zM1755.2 0l0-1.6 1.5-.6 3.1 .4 0 1.8zM1762.9 0l0-1.5 4.6-1.6 4.6 .3 9.3-2.1 13.8 3.3 0 1.6z"/><path transform="matrix(1 0 0 1.0621 0 574.05)" d="M1647.2 0l0-1.8 3.1 0 10.8-2.5 7.7 1.8 3.1-.5 6.2 1.2 0 1.8zM1701.2 0l0-1.5 10.8-3.2 4.6 0 4.7-2.3 6.1 2.3 4.7 .1 9.2 2.8 0 1.8zM1764.5 0l0-1.6 3.1-1 7.7 0 7.7-1.6 10.8 2.5 3.1 0 0 1.7z"/><path transform="matrix(1 0 0 1.0629 0 575.52)" d="M1650.2 0l0-1.6 10.8-1.5 6.2 1.2 4.7-.4 3.1 .6 0 1.7zM1678 0l0-1.7 3.1 .1 0 1.6zM1698.1 0l0-1.7 3.1-1.4 4.6 .8 1.6-.9 3.1-3.6 1.5-.3 3.1 2.6 1.5-.8 4.7-8.7 1.5 .7 4.6 8.7 1.6-.2 3.1-2.5 4.6 4.5 1.6 .6 4.6-.9 3.1 1.7 0 1.4zM1763 0l0-1.8 4.6 .3 4.6-.8 3.1 .7 7.7-1.5 9.3 1.3 0 1.8z"/><path transform="matrix(1 0 0 1.0636 0 576.99)" d="M1651.7 0l0-1.6 9.3-.2 0 1.8zM1664.1 0l0-1.5 3.1-.8 1.5 .5 0 1.8zM1693.5 0l0-1.1 3-1.5 4.7 .1 4.6-2.9 4.6 1.1 1.6-.4 3.1-3.4 4.6-10.2 1.6-1.7 1.5 .4 4.7 9.8 4.6 5.3 6.2-.7 4.6 2.9 3.1-.3 3.1 1 0 1.6zM1773.8 0l0-1.4 3.1-.9 3.1 .7 0 1.6zM1783.1 0l0-1.8 7.7-.2 1.6 .5 0 1.5z"/><path transform="matrix(1 0 0 1.0644 0 578.46)" d="M1693.4 0l0-1.6 9.3-2.5 3.1-2.5 4.6 1.5 6.2-11.6 1.6-1.8 3.1-.5 4.6 .9 7.7 13.3 3.1-1.7 1.6 .1 3.1 2.4 9.3 2.5 0 1.5z"/><path transform="matrix(1 0 0 1.0652 0 579.94)" d="M1688.8 0l0-1.6 7.7-.4 4.6-4.4 1.6 .1 3.1 2.3 3.1-3.6 4.6-9.9 1.6-1 4.6 1.2 6.2-.2 3.1-.9 1.6 1.7 3.1 7.1 3.1 5 1.5 .4 3.1-2.4 1.6 .6 3 3.4 1.6 .8 6.2-.2 1.5 .6 0 1.4z"/><path transform="matrix(1 0 0 1.0660 0 581.42)" d="M1685.6 0l0-1.4 17.1-3.2 3.1-2.7 4.6-9 1.5-1.8 3.1-.3 6.3 2.5 1.5-.1 4.7-2.3 3.1 0 1.5 .6 1.6 2.2 3.1 6.9 4.6 4.3 15.5 2.5 0 1.8z"/><path transform="matrix(1 0 0 1.0667 0 582.90)" d="M1687.1 0l0-1.8 4.7-.9 3.1-2.8 4.6 2.2 1.6-.3 7.7-12.5 4.7-.9 15.5 0 6.3 1.3 6.1 11 1.6 1.3 1.5-.1 3.2-1.9 1.5 .2 3.1 2.6 4.6 .9 0 1.7z"/><path transform="matrix(1 0 0 1.0675 0 584.39)" d="M1687.1 0l0-1.4 4.7-3.5 3.1 1.3 6.2-2.9 4.6-6.7 4.7-1.7 6.2-.8 4.7-2.1 1.5 .1 4.7 2.2 6.2 .7 3.1 1.1 1.6 .9 4.6 6.8 4.7 2.2 3.1-1.1 1.5 .3 3.1 2.8 0 1.8z"/><path transform="matrix(1 0 0 1.0683 0 585.88)" d="M1684 0l0-1.7 3.1-1.1 6.2-.6 4.6-2.3 4.7-5.1 10.9-3 4.6-2.4 3.2-.4 4.6 .6 4.7 2.4 10.9 3.1 4.6 4.9 4.7 2.4 6.2 .5 3.1 1.2 0 1.5z"/><path transform="matrix(1 0 0 1.0691 0 587.37)" d="M1682.4 0l0-1.4 4.6-1.8 4.7 .6 7.8-7 9.3-1 6.2-3.3 6.3-1.1 6.2 .7 7.8 3.8 9.3 1.1 6.2 6.2 1.6 .6 4.6-.6 3.2 1.5 0 1.7z"/><path transform="matrix(1 0 0 1.0699 0 588.86)" d="M1680.8 0l0-1.7 6.2-.2 1.6-.6 7.7-6.4 10.9-.3 7.8-2.9 6.3-1.1 6.2 .8 9.4 3.3 10.9 .3 7.7 6.5 7.8 .7 0 1.6z"/><path transform="matrix(1 0 0 1.0706 0 590.36)" d="M1677.6 0l0-1.7 1.6-.8 4.7 .8 3.1-.5 4.6-4.3 3.1-1.6 9.4-.3 17.2-2.9 18.7 3 9.3 .3 1.6 .7 4.7 4.5 1.5 .8 3.1 .3 3.1-.9 3.2 1.2 0 1.4z"/><path transform="matrix(1 0 0 1.0714 0 591.86)" d="M1680.7 0l0-1.6 3.1-1.3 3.1-.2 3.1-1.8 6.3-2.3 9.3-1.6 15.7-.3 15.6 .3 9.3 1.4 7.8 2.7 3.1 1.8 1.6-.2 4.7 1.6 0 1.5z"/><path transform="matrix(1 0 0 1.0722 0 593.36)" d="M1679.1 0l0-1.6 14-3 9.4-3.4 3.1-.2 15.7 1 18.7-.9 9.4 3.2 14 3.1 0 1.8z"/><path transform="matrix(1 0 0 1.0730 0 594.87)" d="M1679.1 0l0-1.7 1.5-.5 6.3-.1 3.1-1.3 3.1 0 11-3.7 18.7 1.3 14.1-1.4 4.7 .5 9.4 3.5 3.1-.1 3.1 1.2 4.7 0 3.1 .9 0 1.4z"/><path transform="matrix(1 0 0 1.0738 0 596.38)" d="M1683.7 0l0-1.6 9.4-1.2 14.1-3.7 15.6 1.4 12.6-1.4 3.1 .3 12.5 3.5 9.4 1.1 0 1.6z"/><path transform="matrix(1 0 0 1.0746 0 597.89)" d="M1685.3 0l0-1.8 6.2-.2 4.7-1.7 1.6 .5 10.9-2 12.6 .6 12.5-.7 11 1.9 3.1-.3 4.7 1.8 6.2 .2 0 1.7z"/><path transform="matrix(1 0 0 1.0754 0 599.40)" d="M1689.9 0l0-1.8 22-2.5 17.2-.1 14.1 1.2 4.7 1.1 3.1-.4 3.2 .9 0 1.6z"/><path transform="matrix(1 0 0 1.0762 0 600.92)" d="M1694.6 0l0-1.8 26.7-2.2 28.2 2.3 0 1.7z"/><path transform="matrix(1 0 0 1.0769 0 602.44)" d="M1694.6 0l0-1.7 1.5-.3 3.2 .5 0 1.5zM1702.4 0l0-1.6 3.2-.9 4.7 .3 11-1.5 12.5 1.6 3.2-.5 4.7 1.1 0 1.5zM1744.8 0l0-1.6 3.2-.4 1.5 .5 0 1.5z"/><path transform="matrix(1 0 0 1.0777 0 603.96)" d="M1704 0l0-1.7 17.3-1.4 9.4 1.1 6.3-.3 3.1 .7 0 1.6z"/><path transform="matrix(1 0 0 1.0785 0 605.48)" d="M1707.1 0l0-1.5 4.7-.1 0 1.6zM1715 0l0-1.7 12.6-.1 0 1.8zM1732.3 0l0-1.7 3.1-.1 0 1.8z"/><path transform="matrix(1 0 0 1.0793 0 607.01)" d="M1713.4 0l0-1.7 3.1 .2 0 1.5zM1727.6 0l0-1.6 3.1 0 0 1.6z"/></g>
<path d="M1473.1 522.7L1721.8 646.4L1970.5 522.7" fill="none" stroke="#000" stroke-width="1.6"/>
<g stroke="#000"><path d="M1721.3 646.1l4.9 3.5" stroke-width="3.4"/><path d="M1722.3 646.1l-4.9 3.5" stroke-width="3.4"/><path d="M1748.0 632.8l4.2 3.1" stroke-width="2.0"/><path d="M1695.6 632.8l-4.2 3.1" stroke-width="2.0"/><path d="M1774.2 619.8l4.2 3.1" stroke-width="2.0"/><path d="M1669.4 619.8l-4.2 3.1" stroke-width="2.0"/><path d="M1800.0 606.9l4.2 3.1" stroke-width="2.0"/><path d="M1643.6 606.9l-4.2 3.1" stroke-width="2.0"/><path d="M1825.4 594.3l4.9 3.5" stroke-width="3.4"/><path d="M1618.1 594.3l-4.9 3.5" stroke-width="3.4"/><path d="M1850.5 581.8l4.2 3.1" stroke-width="2.0"/><path d="M1593.1 581.8l-4.2 3.1" stroke-width="2.0"/><path d="M1875.1 569.5l4.2 3.1" stroke-width="2.0"/><path d="M1568.5 569.5l-4.2 3.1" stroke-width="2.0"/><path d="M1899.4 557.5l4.2 3.1" stroke-width="2.0"/><path d="M1544.2 557.5l-4.2 3.1" stroke-width="2.0"/><path d="M1923.3 545.6l4.9 3.5" stroke-width="3.4"/><path d="M1520.3 545.6l-4.9 3.5" stroke-width="3.4"/><path d="M1946.8 533.9l4.2 3.1" stroke-width="2.0"/><path d="M1496.8 533.9l-4.2 3.1" stroke-width="2.0"/><path d="M1970.0 522.3l4.2 3.1" stroke-width="2.0"/><path d="M1473.6 522.3l-4.2 3.1" stroke-width="2.0"/></g>
<g font-family="'Liberation Sans', Arial, sans-serif">
<text x="862.2" y="594.9" font-size="36.0">200</text>
<text x="964.3" y="645.7" font-size="36.0">100</text>
<text x="1124.9" y="695.9" font-size="36.0">0</text>
<text x="1211.3" y="645.7" font-size="36.0">100</text>
<text x="1306.6" y="595.3" font-size="36.0">200</text>
<text x="1472.9" y="594.9" font-size="36.0">200</text>
<text x="1570.8" y="645.7" font-size="36.0">100</text>
<text x="1730.6" y="695.9" font-size="36.0">0</text>
<text x="1813.6" y="645.7" font-size="36.0">100</text>
<text x="1909.2" y="595.3" font-size="36.0">200</text>
<g transform="translate(924.5,671.0) rotate(26.3)"><text text-anchor="middle" font-size="36"><tspan font-style="italic">ω′</tspan> (meV)</text></g>
<g transform="translate(1307.5,663.0) rotate(-26.3)"><text text-anchor="middle" font-size="36"><tspan font-style="italic">ω</tspan> (meV)</text></g>
<g transform="translate(1527.5,671.0) rotate(26.3)"><text text-anchor="middle" font-size="36"><tspan font-style="italic">ω′</tspan> (meV)</text></g>
<g transform="translate(1913.5,666.0) rotate(-26.3)"><text text-anchor="middle" font-size="36"><tspan font-style="italic">ω</tspan> (meV)</text></g>
<text x="996.7" y="152.1" font-size="28.0" font-style="italic">λ</text>
<text x="1015.2" y="141.5" font-size="19.6">V</text>
<text x="1037.0" y="152.1" font-size="28.0">(Har) = 1.78</text>
<text x="1601.8" y="152.1" font-size="28.0" font-style="italic">λ</text>
<text x="1620.8" y="141.5" font-size="19.6">V</text>
<text x="1642.3" y="152.1" font-size="28.0">(Anh) = 0.71</text>
</g>
</svg></body></html>
